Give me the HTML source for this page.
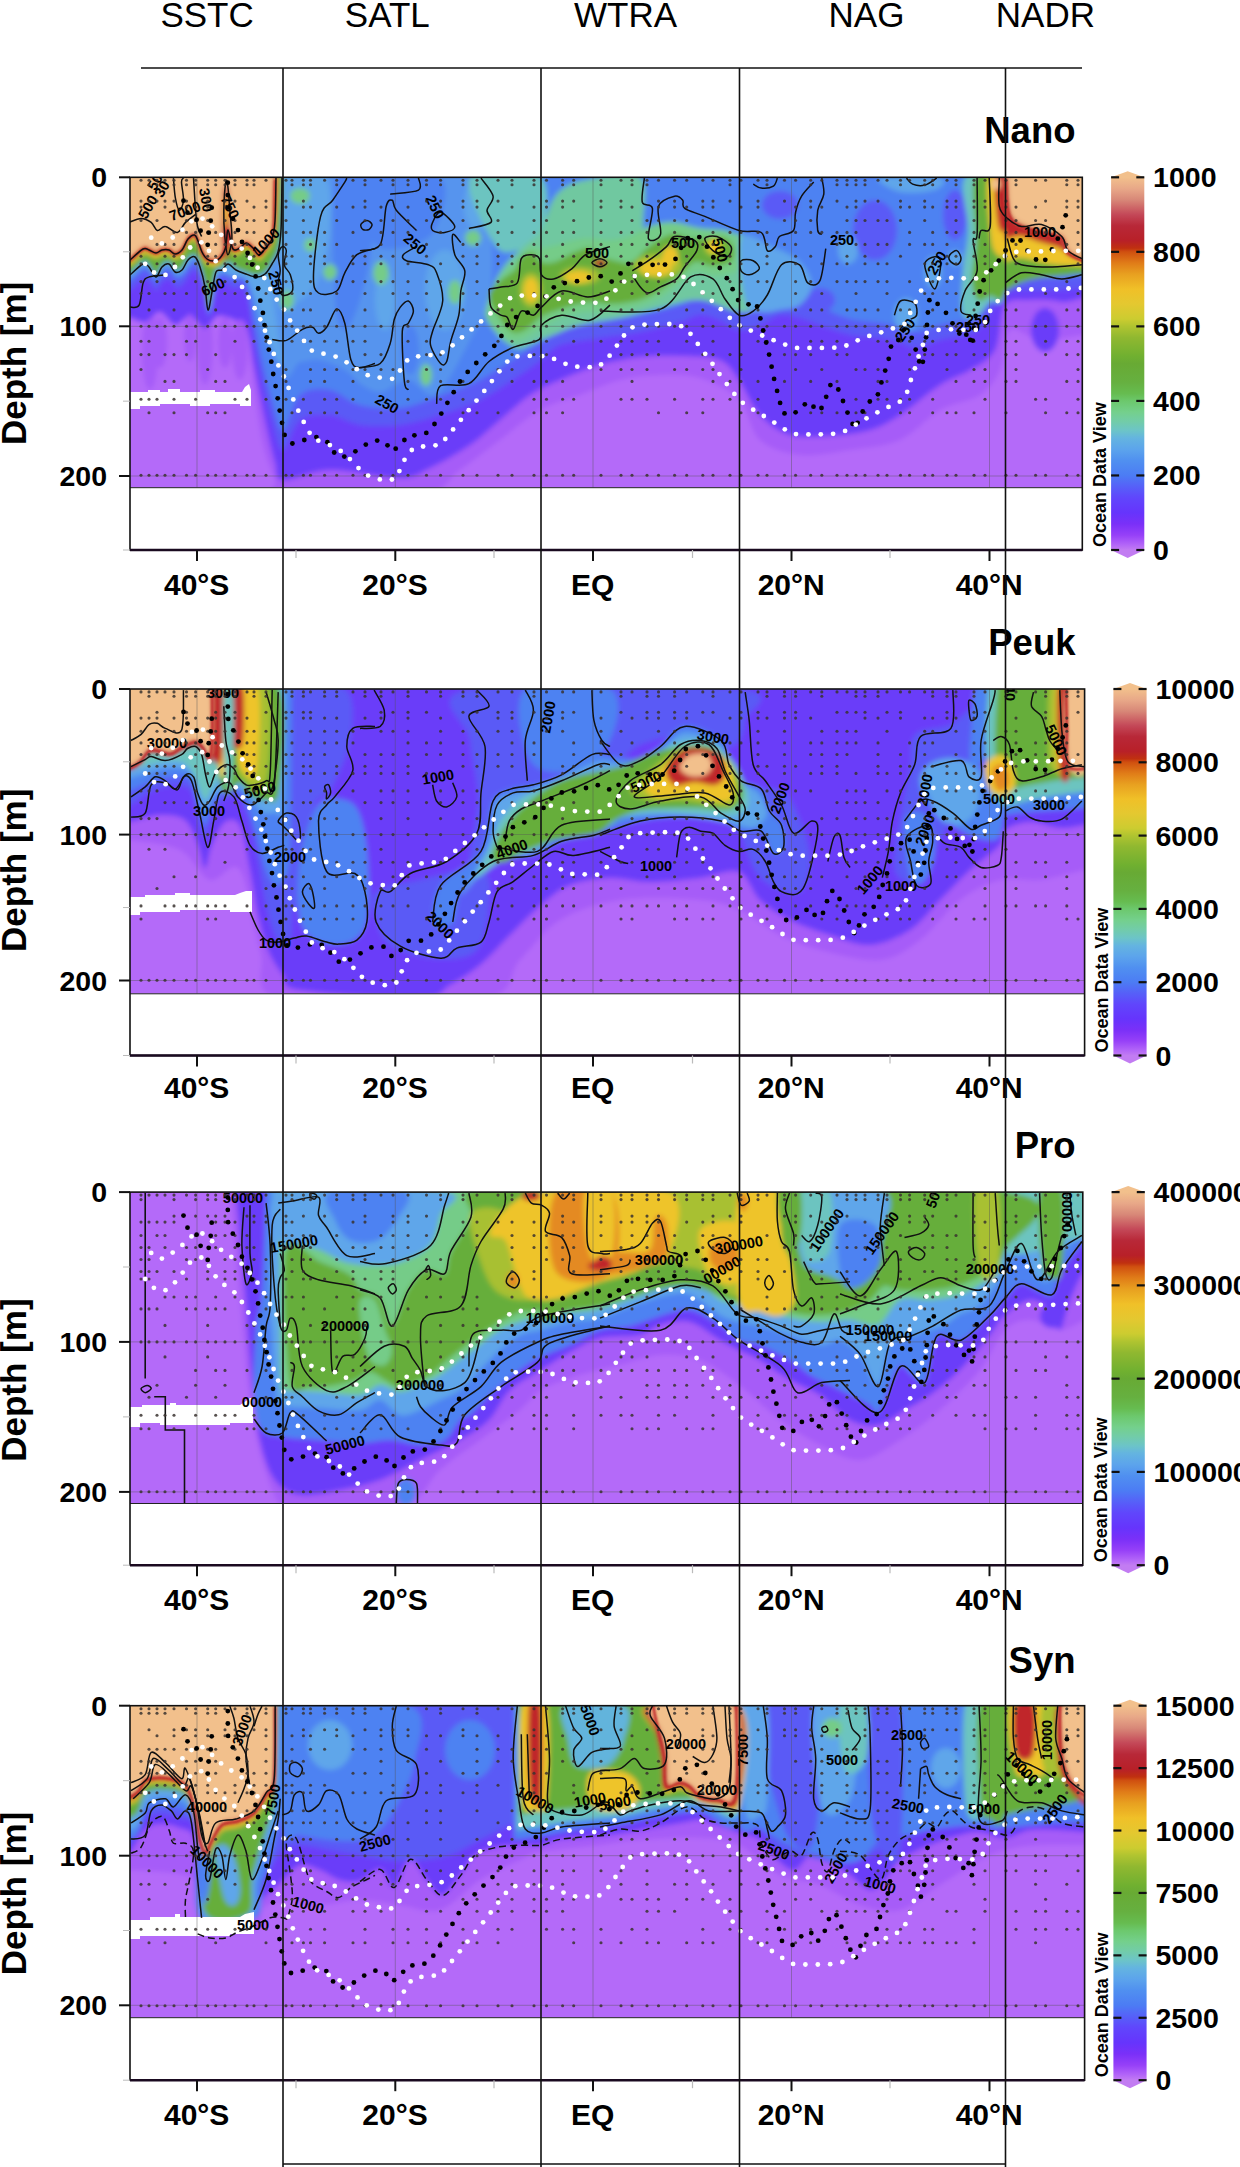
<!DOCTYPE html><html><head><meta charset="utf-8"><title>Figure</title><style>html,body{margin:0;padding:0;background:#fff;width:1240px;height:2167px;overflow:hidden}svg{position:absolute;left:0;top:0;display:block}text{font-family:"Liberation Sans",Arial,Helvetica,sans-serif;fill:#000}</style></head><body>
<svg width="1240" height="2167" viewBox="0 0 1240 2167">
<defs><filter id="bl" x="-5%" y="-5%" width="110%" height="110%"><feGaussianBlur stdDeviation="2.6"/></filter><filter id="bl2" x="-5%" y="-5%" width="110%" height="110%"><feGaussianBlur stdDeviation="0.8"/></filter></defs>
<rect width="1240" height="2167" fill="#fff"/>
<clipPath id="cpn"><rect x="130" y="177.3" width="952.3" height="310.4"/></clipPath>
<g clip-path="url(#cpn)"><g filter="url(#bl)">
<rect x="100" y="147.3" width="1012.3" height="370.4" fill="#B46BF9"/>
<path d="M250.0,157.3 L250.0,360.0 C252.0,373.3 257.8,420.0 262.0,440.0 C266.2,460.0 271.5,470.8 275.0,480.0 C278.5,489.2 258.8,492.5 283.0,495.0 C307.2,497.5 390.5,499.2 420.0,495.0 C449.5,490.8 446.7,479.2 460.0,470.0 C473.3,460.8 486.7,450.0 500.0,440.0 C513.3,430.0 526.7,417.5 540.0,410.0 C553.3,402.5 566.7,400.0 580.0,395.0 C593.3,390.0 606.7,383.3 620.0,380.0 C633.3,376.7 646.7,375.3 660.0,375.0 C673.3,374.7 686.8,373.8 700.0,378.0 C713.2,382.2 729.0,389.7 739.0,400.0 C749.0,410.3 749.8,430.8 760.0,440.0 C770.2,449.2 785.0,453.3 800.0,455.0 C815.0,456.7 833.3,452.5 850.0,450.0 C866.7,447.5 885.0,446.7 900.0,440.0 C915.0,433.3 926.7,417.5 940.0,410.0 C953.3,402.5 970.0,401.7 980.0,395.0 C990.0,388.3 995.0,380.8 1000.0,370.0 C1005.0,359.2 1003.3,335.0 1010.0,330.0 C1016.7,325.0 1028.0,339.2 1040.0,340.0 C1052.0,340.8 1073.0,335.8 1082.0,335.0 C1091.0,334.2 1089.8,335.0 1094.0,335.0 C1098.2,335.0 1104.8,335.0 1107.0,335.0 L1107.0,157.3 Z" fill="#A65CF8"/>
<ellipse cx="150" cy="350" rx="8" ry="40" fill="#A65CF8"/>
<ellipse cx="205" cy="345" rx="8" ry="40" fill="#A65CF8"/>
<ellipse cx="240" cy="345" rx="8" ry="35" fill="#A65CF8"/>
<path d="M105.0,157.3 L105.0,318.0 C107.5,318.0 115.8,318.0 120.0,318.0 C124.2,318.0 125.8,317.3 130.0,318.0 C134.2,318.7 140.0,323.0 145.0,322.0 C150.0,321.0 155.0,311.5 160.0,312.0 C165.0,312.5 170.0,324.3 175.0,325.0 C180.0,325.7 185.0,315.5 190.0,316.0 C195.0,316.5 200.3,328.0 205.0,328.0 C209.7,328.0 213.0,317.3 218.0,316.0 C223.0,314.7 230.3,318.5 235.0,320.0 C239.7,321.5 242.7,316.7 246.0,325.0 C249.3,333.3 251.8,354.2 255.0,370.0 C258.2,385.8 261.7,404.7 265.0,420.0 C268.3,435.3 272.0,452.0 275.0,462.0 C278.0,472.0 273.8,478.7 283.0,480.0 C292.2,481.3 310.5,470.3 330.0,470.0 C349.5,469.7 383.3,478.3 400.0,478.0 C416.7,477.7 418.3,473.5 430.0,468.0 C441.7,462.5 458.3,453.0 470.0,445.0 C481.7,437.0 490.0,428.3 500.0,420.0 C510.0,411.7 520.0,401.7 530.0,395.0 C540.0,388.3 548.3,385.0 560.0,380.0 C571.7,375.0 586.7,368.8 600.0,365.0 C613.3,361.2 626.7,358.5 640.0,357.0 C653.3,355.5 666.7,355.5 680.0,356.0 C693.3,356.5 710.2,356.0 720.0,360.0 C729.8,364.0 732.3,370.8 739.0,380.0 C745.7,389.2 751.5,405.8 760.0,415.0 C768.5,424.2 778.3,431.5 790.0,435.0 C801.7,438.5 816.7,436.8 830.0,436.0 C843.3,435.2 858.3,433.5 870.0,430.0 C881.7,426.5 888.3,422.5 900.0,415.0 C911.7,407.5 928.3,392.5 940.0,385.0 C951.7,377.5 960.8,375.8 970.0,370.0 C979.2,364.2 989.2,360.8 995.0,350.0 C1000.8,339.2 999.2,313.3 1005.0,305.0 C1010.8,296.7 1022.5,300.8 1030.0,300.0 C1037.5,299.2 1044.2,299.7 1050.0,300.0 C1055.8,300.3 1059.7,302.3 1065.0,302.0 C1070.3,301.7 1077.2,298.7 1082.0,298.0 C1086.8,297.3 1089.8,298.0 1094.0,298.0 C1098.2,298.0 1104.8,298.0 1107.0,298.0 L1107.0,157.3 Z" fill="#6A3CF9"/>
<ellipse cx="1045" cy="330" rx="14" ry="22" fill="#6A3CF9"/>
<ellipse cx="160" cy="342" rx="7" ry="26" fill="#A65CF8"/>
<ellipse cx="190" cy="338" rx="6" ry="24" fill="#A65CF8"/>
<ellipse cx="225" cy="342" rx="7" ry="26" fill="#A65CF8"/>
<path d="M105.0,157.3 L105.0,290.0 C107.5,290.0 115.8,290.0 120.0,290.0 C124.2,290.0 126.2,291.8 130.0,290.0 C133.8,288.2 139.7,280.3 143.0,279.0 C146.3,277.7 147.8,280.2 150.0,282.0 C152.2,283.8 154.0,290.0 156.0,290.0 C158.0,290.0 159.7,283.8 162.0,282.0 C164.3,280.2 167.7,278.2 170.0,279.0 C172.3,279.8 173.8,286.2 176.0,287.0 C178.2,287.8 180.7,286.2 183.0,284.0 C185.3,281.8 187.8,276.2 190.0,274.0 C192.2,271.8 194.2,269.7 196.0,271.0 C197.8,272.3 199.3,277.2 201.0,282.0 C202.7,286.8 204.7,294.0 206.0,300.0 C207.3,306.0 207.8,318.0 209.0,318.0 C210.2,318.0 211.5,305.7 213.0,300.0 C214.5,294.3 216.0,287.0 218.0,284.0 C220.0,281.0 222.5,281.3 225.0,282.0 C227.5,282.7 229.5,286.3 233.0,288.0 C236.5,289.7 242.3,282.5 246.0,292.0 C249.7,301.5 252.3,330.3 255.0,345.0 C257.7,359.7 259.2,367.5 262.0,380.0 C264.8,392.5 268.5,408.3 272.0,420.0 C275.5,431.7 278.3,450.0 283.0,450.0 C287.7,450.0 292.2,425.8 300.0,420.0 C307.8,414.2 320.0,414.2 330.0,415.0 C340.0,415.8 348.3,423.3 360.0,425.0 C371.7,426.7 386.7,426.7 400.0,425.0 C413.3,423.3 426.7,419.2 440.0,415.0 C453.3,410.8 466.7,406.7 480.0,400.0 C493.3,393.3 509.8,381.7 520.0,375.0 C530.2,368.3 534.3,365.0 541.0,360.0 C547.7,355.0 550.2,348.7 560.0,345.0 C569.8,341.3 586.7,340.2 600.0,338.0 C613.3,335.8 626.7,334.7 640.0,332.0 C653.3,329.3 670.0,324.8 680.0,322.0 C690.0,319.2 693.3,315.3 700.0,315.0 C706.7,314.7 713.5,317.5 720.0,320.0 C726.5,322.5 732.3,329.2 739.0,330.0 C745.7,330.8 753.2,327.5 760.0,325.0 C766.8,322.5 773.3,316.2 780.0,315.0 C786.7,313.8 793.3,316.3 800.0,318.0 C806.7,319.7 811.7,322.2 820.0,325.0 C828.3,327.8 840.0,332.8 850.0,335.0 C860.0,337.2 871.7,336.8 880.0,338.0 C888.3,339.2 894.2,340.3 900.0,342.0 C905.8,343.7 908.3,348.3 915.0,348.0 C921.7,347.7 930.0,342.7 940.0,340.0 C950.0,337.3 966.7,336.7 975.0,332.0 C983.3,327.3 985.8,317.3 990.0,312.0 C994.2,306.7 997.5,303.3 1000.0,300.0 C1002.5,296.7 1000.0,293.7 1005.0,292.0 C1010.0,290.3 1020.8,290.3 1030.0,290.0 C1039.2,289.7 1051.3,290.3 1060.0,290.0 C1068.7,289.7 1076.3,288.3 1082.0,288.0 C1087.7,287.7 1089.8,288.0 1094.0,288.0 C1098.2,288.0 1104.8,288.0 1107.0,288.0 L1107.0,157.3 Z" fill="#5A5AF6"/>
<path d="M105.0,157.3 L105.0,281.0 C107.5,281.0 115.8,281.0 120.0,281.0 C124.2,281.0 126.2,282.8 130.0,281.0 C133.8,279.2 139.7,271.3 143.0,270.0 C146.3,268.7 147.8,271.0 150.0,273.0 C152.2,275.0 154.0,282.0 156.0,282.0 C158.0,282.0 159.7,275.0 162.0,273.0 C164.3,271.0 167.7,269.2 170.0,270.0 C172.3,270.8 173.8,277.0 176.0,278.0 C178.2,279.0 180.7,278.0 183.0,276.0 C185.3,274.0 187.8,268.2 190.0,266.0 C192.2,263.8 194.2,261.7 196.0,263.0 C197.8,264.3 199.3,269.2 201.0,274.0 C202.7,278.8 204.7,285.3 206.0,292.0 C207.3,298.7 207.8,313.3 209.0,314.0 C210.2,314.7 211.5,302.2 213.0,296.0 C214.5,289.8 216.0,280.5 218.0,277.0 C220.0,273.5 222.5,274.7 225.0,275.0 C227.5,275.3 229.5,277.7 233.0,279.0 C236.5,280.3 242.3,275.3 246.0,283.0 C249.7,290.7 252.3,312.2 255.0,325.0 C257.7,337.8 259.2,347.5 262.0,360.0 C264.8,372.5 268.5,388.3 272.0,400.0 C275.5,411.7 278.3,430.8 283.0,430.0 C287.7,429.2 292.2,401.7 300.0,395.0 C307.8,388.3 320.0,388.3 330.0,390.0 C340.0,391.7 348.3,402.0 360.0,405.0 C371.7,408.0 386.7,409.5 400.0,408.0 C413.3,406.5 426.7,400.7 440.0,396.0 C453.3,391.3 466.7,386.8 480.0,380.0 C493.3,373.2 509.8,361.3 520.0,355.0 C530.2,348.7 534.3,346.2 541.0,342.0 C547.7,337.8 550.2,333.3 560.0,330.0 C569.8,326.7 586.7,324.5 600.0,322.0 C613.3,319.5 626.7,317.8 640.0,315.0 C653.3,312.2 670.0,308.0 680.0,305.0 C690.0,302.0 693.3,297.5 700.0,297.0 C706.7,296.5 713.5,299.5 720.0,302.0 C726.5,304.5 732.3,311.2 739.0,312.0 C745.7,312.8 753.2,309.5 760.0,307.0 C766.8,304.5 773.3,298.3 780.0,297.0 C786.7,295.7 793.3,297.3 800.0,299.0 C806.7,300.7 811.7,303.7 820.0,307.0 C828.3,310.3 840.0,316.3 850.0,319.0 C860.0,321.7 871.7,321.7 880.0,323.0 C888.3,324.3 894.2,325.5 900.0,327.0 C905.8,328.5 908.3,332.3 915.0,332.0 C921.7,331.7 930.0,327.5 940.0,325.0 C950.0,322.5 966.7,321.5 975.0,317.0 C983.3,312.5 985.8,302.8 990.0,298.0 C994.2,293.2 997.5,290.8 1000.0,288.0 C1002.5,285.2 1000.0,282.7 1005.0,281.0 C1010.0,279.3 1020.8,278.5 1030.0,278.0 C1039.2,277.5 1051.3,278.3 1060.0,278.0 C1068.7,277.7 1076.3,276.3 1082.0,276.0 C1087.7,275.7 1089.8,276.0 1094.0,276.0 C1098.2,276.0 1104.8,276.0 1107.0,276.0 L1107.0,157.3 Z" fill="#4E82F2"/>
<path d="M105.0,157.3 L105.0,277.0 C107.5,277.0 115.8,277.0 120.0,277.0 C124.2,277.0 126.2,278.8 130.0,277.0 C133.8,275.2 139.7,267.3 143.0,266.0 C146.3,264.7 147.8,267.0 150.0,269.0 C152.2,271.0 154.0,278.0 156.0,278.0 C158.0,278.0 159.7,271.0 162.0,269.0 C164.3,267.0 167.7,265.2 170.0,266.0 C172.3,266.8 173.8,273.0 176.0,274.0 C178.2,275.0 180.7,274.0 183.0,272.0 C185.3,270.0 187.8,264.2 190.0,262.0 C192.2,259.8 194.2,257.7 196.0,259.0 C197.8,260.3 199.3,265.0 201.0,270.0 C202.7,275.0 204.7,282.0 206.0,289.0 C207.3,296.0 207.8,311.2 209.0,312.0 C210.2,312.8 211.5,300.3 213.0,294.0 C214.5,287.7 216.0,277.7 218.0,274.0 C220.0,270.3 222.5,271.7 225.0,272.0 C227.5,272.3 229.5,274.8 233.0,276.0 C236.5,277.2 242.3,275.0 246.0,279.0 C249.7,283.0 252.3,292.3 255.0,300.0 C257.7,307.7 259.2,316.7 262.0,325.0 C264.8,333.3 268.5,343.3 272.0,350.0 C275.5,356.7 280.0,368.3 283.0,365.0 C286.0,361.7 288.5,361.2 290.0,330.0 C291.5,298.8 291.7,203.3 292.0,178.0 L292.0,157.3 Z" fill="#5EA6EA"/>
<path d="M283.0,177.0 C314.2,145.7 435.5,168.2 470.0,177.0 C504.5,185.8 486.8,209.5 490.0,230.0 C493.2,250.5 492.3,281.7 489.0,300.0 C485.7,318.3 477.3,325.8 470.0,340.0 C462.7,354.2 451.7,375.8 445.0,385.0 C438.3,394.2 435.8,395.8 430.0,395.0 C424.2,394.2 415.8,381.7 410.0,380.0 C404.2,378.3 400.0,383.0 395.0,385.0 C390.0,387.0 385.5,392.0 380.0,392.0 C374.5,392.0 367.8,388.7 362.0,385.0 C356.2,381.3 352.0,374.2 345.0,370.0 C338.0,365.8 327.5,361.3 320.0,360.0 C312.5,358.7 306.2,361.2 300.0,362.0 C293.8,362.8 285.8,395.8 283.0,365.0 C280.2,334.2 251.8,208.3 283.0,177.0 Z" fill="#5694EE"/>
<path d="M335.0,177.0 C340.0,156.5 358.8,166.5 365.0,177.0 C371.2,187.5 372.8,219.5 372.0,240.0 C371.2,260.5 364.5,285.0 360.0,300.0 C355.5,315.0 349.2,330.0 345.0,330.0 C340.8,330.0 336.7,325.5 335.0,300.0 C333.3,274.5 330.0,197.5 335.0,177.0 Z" fill="#4E82F2"/>
<path d="M365.0,177.0 C376.3,166.5 428.3,168.2 440.0,177.0 C451.7,185.8 441.7,218.2 435.0,230.0 C428.3,241.8 410.5,246.3 400.0,248.0 C389.5,249.7 377.8,251.8 372.0,240.0 C366.2,228.2 353.7,187.5 365.0,177.0 Z" fill="#4E82F2"/>
<ellipse cx="410" cy="350" rx="9" ry="25" fill="#4E82F2"/>
<path d="M283.0,177.0 C290.0,156.5 317.2,168.2 325.0,177.0 C332.8,185.8 331.2,212.8 330.0,230.0 C328.8,247.2 323.0,268.3 318.0,280.0 C313.0,291.7 305.8,296.7 300.0,300.0 C294.2,303.3 285.8,320.5 283.0,300.0 C280.2,279.5 276.0,197.5 283.0,177.0 Z" fill="#5EA6EA"/>
<ellipse cx="445" cy="290" rx="20" ry="40" fill="#5EA6EA"/>
<ellipse cx="478" cy="205" rx="14" ry="25" fill="#5EA6EA"/>
<ellipse cx="385" cy="300" rx="10" ry="30" fill="#5EA6EA"/>
<path d="M470.0,177.0 C477.7,165.7 529.2,166.5 541.0,177.0 C552.8,187.5 544.5,227.8 541.0,240.0 C537.5,252.2 527.7,249.2 520.0,250.0 C512.3,250.8 503.3,257.2 495.0,245.0 C486.7,232.8 462.3,188.3 470.0,177.0 Z" fill="#6CC4C0"/>
<ellipse cx="300" cy="196" rx="10" ry="8" fill="#74CC88"/>
<ellipse cx="287" cy="300" rx="7" ry="10" fill="#74CC88"/>
<ellipse cx="381" cy="273" rx="8" ry="12" fill="#74CC88"/>
<ellipse cx="426" cy="375" rx="6" ry="11" fill="#74CC88"/>
<ellipse cx="473" cy="238" rx="8" ry="8" fill="#74CC88"/>
<ellipse cx="557" cy="226" rx="10" ry="12" fill="#74CC88"/>
<ellipse cx="330" cy="272" rx="7" ry="8" fill="#74CC88"/>
<ellipse cx="455" cy="292" rx="7" ry="12" fill="#74CC88"/>
<ellipse cx="310" cy="245" rx="6" ry="7" fill="#74CC88"/>
<path d="M489.0,322.0 C485.2,312.3 489.3,299.5 492.0,290.0 C494.7,280.5 499.5,272.5 505.0,265.0 C510.5,257.5 519.0,250.8 525.0,245.0 C531.0,239.2 535.8,238.3 541.0,230.0 C546.2,221.7 548.7,203.3 556.0,195.0 C563.3,186.7 570.8,182.8 585.0,180.0 C599.2,177.2 630.8,168.8 641.0,178.0 C651.2,187.2 637.8,226.0 646.0,235.0 C654.2,244.0 674.5,232.2 690.0,232.0 C705.5,231.8 726.0,230.7 739.0,234.0 C752.0,237.3 760.8,243.5 768.0,252.0 C775.2,260.5 781.7,276.2 782.0,285.0 C782.3,293.8 777.2,300.5 770.0,305.0 C762.8,309.5 750.7,312.8 739.0,312.0 C727.3,311.2 713.2,300.7 700.0,300.0 C686.8,299.3 673.3,305.0 660.0,308.0 C646.7,311.0 633.3,315.2 620.0,318.0 C606.7,320.8 593.2,321.3 580.0,325.0 C566.8,328.7 551.8,336.2 541.0,340.0 C530.2,343.8 523.7,351.0 515.0,348.0 C506.3,345.0 492.8,331.7 489.0,322.0 Z" fill="#70C8A0"/>
<path d="M486.0,318.0 C483.8,310.3 488.8,299.7 492.0,292.0 C495.2,284.3 500.3,277.7 505.0,272.0 C509.7,266.3 515.8,262.3 520.0,258.0 C524.2,253.7 526.5,247.7 530.0,246.0 C533.5,244.3 536.0,248.3 541.0,248.0 C546.0,247.7 552.7,245.7 560.0,244.0 C567.3,242.3 576.7,238.7 585.0,238.0 C593.3,237.3 602.5,240.3 610.0,240.0 C617.5,239.7 623.3,238.3 630.0,236.0 C636.7,233.7 643.0,228.3 650.0,226.0 C657.0,223.7 663.7,221.7 672.0,222.0 C680.3,222.3 690.3,226.3 700.0,228.0 C709.7,229.7 723.0,228.3 730.0,232.0 C737.0,235.7 740.7,243.7 742.0,250.0 C743.3,256.3 742.5,265.7 738.0,270.0 C733.5,274.3 722.2,275.7 715.0,276.0 C707.8,276.3 700.8,270.8 695.0,272.0 C689.2,273.2 685.8,278.7 680.0,283.0 C674.2,287.3 666.7,294.2 660.0,298.0 C653.3,301.8 648.3,303.7 640.0,306.0 C631.7,308.3 619.2,311.0 610.0,312.0 C600.8,313.0 593.3,311.0 585.0,312.0 C576.7,313.0 567.3,315.3 560.0,318.0 C552.7,320.7 547.7,324.3 541.0,328.0 C534.3,331.7 526.0,338.3 520.0,340.0 C514.0,341.7 510.7,341.7 505.0,338.0 C499.3,334.3 488.2,325.7 486.0,318.0 Z" fill="#74CC88"/>
<path d="M489.0,296.0 C489.0,289.8 495.7,285.3 500.0,281.0 C504.3,276.7 511.5,274.0 515.0,270.0 C518.5,266.0 518.0,259.8 521.0,257.0 C524.0,254.2 529.7,252.2 533.0,253.0 C536.3,253.8 537.3,260.5 541.0,262.0 C544.7,263.5 549.3,263.7 555.0,262.0 C560.7,260.3 569.2,254.3 575.0,252.0 C580.8,249.7 585.8,247.3 590.0,248.0 C594.2,248.7 595.0,253.7 600.0,256.0 C605.0,258.3 614.7,261.0 620.0,262.0 C625.3,263.0 627.0,264.7 632.0,262.0 C637.0,259.3 643.3,250.7 650.0,246.0 C656.7,241.3 665.3,235.3 672.0,234.0 C678.7,232.7 684.5,237.3 690.0,238.0 C695.5,238.7 699.2,238.0 705.0,238.0 C710.8,238.0 720.2,236.0 725.0,238.0 C729.8,240.0 733.2,246.0 734.0,250.0 C734.8,254.0 733.7,259.3 730.0,262.0 C726.3,264.7 717.8,266.0 712.0,266.0 C706.2,266.0 700.3,260.5 695.0,262.0 C689.7,263.5 685.8,270.3 680.0,275.0 C674.2,279.7 665.8,286.2 660.0,290.0 C654.2,293.8 650.0,296.0 645.0,298.0 C640.0,300.0 635.8,301.0 630.0,302.0 C624.2,303.0 616.7,304.0 610.0,304.0 C603.3,304.0 596.7,301.7 590.0,302.0 C583.3,302.3 575.8,304.5 570.0,306.0 C564.2,307.5 559.8,309.2 555.0,311.0 C550.2,312.8 546.0,313.8 541.0,317.0 C536.0,320.2 529.8,327.5 525.0,330.0 C520.2,332.5 516.2,334.0 512.0,332.0 C507.8,330.0 503.8,324.0 500.0,318.0 C496.2,312.0 489.0,302.2 489.0,296.0 Z" fill="#66AE3A"/>
<ellipse cx="531" cy="290" rx="11" ry="17" fill="#A8C030"/>
<ellipse cx="580" cy="276" rx="20" ry="9" fill="#A8C030"/>
<ellipse cx="658" cy="266" rx="24" ry="12" fill="#A8C030"/>
<ellipse cx="714" cy="247" rx="10" ry="9" fill="#A8C030"/>
<ellipse cx="531" cy="290" rx="7" ry="12" fill="#EEC42C"/>
<ellipse cx="578" cy="277" rx="13" ry="6" fill="#EEC42C"/>
<ellipse cx="656" cy="268" rx="16" ry="8" fill="#EEC42C"/>
<ellipse cx="670" cy="256" rx="8" ry="10" fill="#EEC42C"/>
<ellipse cx="714" cy="247" rx="6" ry="6" fill="#EEC42C"/>
<ellipse cx="600" cy="263" rx="6" ry="3.5" fill="#C0262A"/>
<ellipse cx="780" cy="205" rx="18" ry="14" fill="#5A5AF6"/>
<ellipse cx="875" cy="230" rx="22" ry="30" fill="#5A5AF6"/>
<ellipse cx="955" cy="215" rx="12" ry="25" fill="#5A5AF6"/>
<ellipse cx="820" cy="300" rx="15" ry="12" fill="#5A5AF6"/>
<path d="M741.0,238.0 C746.0,229.3 765.2,244.0 775.0,248.0 C784.8,252.0 793.8,255.8 800.0,262.0 C806.2,268.2 812.0,277.8 812.0,285.0 C812.0,292.2 805.3,300.8 800.0,305.0 C794.7,309.2 786.7,308.8 780.0,310.0 C773.3,311.2 765.8,313.7 760.0,312.0 C754.2,310.3 748.2,312.3 745.0,300.0 C741.8,287.7 736.0,246.7 741.0,238.0 Z" fill="#5EA6EA"/>
<ellipse cx="848" cy="250" rx="10" ry="14" fill="#5EA6EA"/>
<ellipse cx="933" cy="272" rx="9" ry="16" fill="#5EA6EA"/>
<ellipse cx="906" cy="315" rx="12" ry="17" fill="#5EA6EA"/>
<ellipse cx="955" cy="258" rx="7" ry="8" fill="#5EA6EA"/>
<path d="M880.0,178.0 C886.7,175.7 930.8,176.0 940.0,178.0 C949.2,180.0 941.7,187.7 935.0,190.0 C928.3,192.3 909.2,194.0 900.0,192.0 C890.8,190.0 873.3,180.3 880.0,178.0 Z" fill="#5EA6EA"/>
<path d="M965.0,178.0 C971.2,169.3 998.3,159.0 1005.0,178.0 C1011.7,197.0 1007.5,271.3 1005.0,292.0 C1002.5,312.7 995.0,297.7 990.0,302.0 C985.0,306.3 979.7,316.3 975.0,318.0 C970.3,319.7 964.0,320.0 962.0,312.0 C960.0,304.0 962.0,283.7 963.0,270.0 C964.0,256.3 967.7,245.3 968.0,230.0 C968.3,214.7 958.8,186.7 965.0,178.0 Z" fill="#6CC4C0"/>
<path d="M975.0,178.0 C979.8,167.7 1000.0,159.3 1005.0,178.0 C1010.0,196.7 1007.5,270.3 1005.0,290.0 C1002.5,309.7 994.5,294.3 990.0,296.0 C985.5,297.7 981.0,302.7 978.0,300.0 C975.0,297.3 972.3,290.0 972.0,280.0 C971.7,270.0 975.5,257.0 976.0,240.0 C976.5,223.0 970.2,188.3 975.0,178.0 Z" fill="#66AE3A"/>
<path d="M988.0,178.0 C990.5,169.3 1002.2,166.0 1005.0,178.0 C1007.8,190.0 1006.7,237.7 1005.0,250.0 C1003.3,262.3 997.5,255.3 995.0,252.0 C992.5,248.7 991.2,242.3 990.0,230.0 C988.8,217.7 985.5,186.7 988.0,178.0 Z" fill="#EEC42C"/>
<path d="M995.0,178.0 C996.2,170.3 1003.3,169.7 1005.0,178.0 C1006.7,186.3 1006.2,220.3 1005.0,228.0 C1003.8,235.7 999.7,232.3 998.0,224.0 C996.3,215.7 993.8,185.7 995.0,178.0 Z" fill="#C0262A"/>
<path d="M105.0,157.3 L105.0,273.0 C107.5,273.0 115.8,273.0 120.0,273.0 C124.2,273.0 126.2,274.8 130.0,273.0 C133.8,271.2 139.8,263.3 143.0,262.0 C146.2,260.7 146.8,262.8 149.0,265.0 C151.2,267.2 153.8,275.0 156.0,275.0 C158.2,275.0 159.8,267.2 162.0,265.0 C164.2,262.8 166.8,261.2 169.0,262.0 C171.2,262.8 172.8,269.0 175.0,270.0 C177.2,271.0 179.8,270.0 182.0,268.0 C184.2,266.0 185.8,260.2 188.0,258.0 C190.2,255.8 193.0,253.8 195.0,255.0 C197.0,256.2 198.3,260.0 200.0,265.0 C201.7,270.0 203.7,277.8 205.0,285.0 C206.3,292.2 206.8,307.2 208.0,308.0 C209.2,308.8 210.7,296.3 212.0,290.0 C213.3,283.7 214.3,273.7 216.0,270.0 C217.7,266.3 220.0,269.3 222.0,268.0 C224.0,266.7 225.7,262.0 228.0,262.0 C230.3,262.0 233.0,266.3 236.0,268.0 C239.0,269.7 242.7,270.8 246.0,272.0 C249.3,273.2 252.8,275.0 256.0,275.0 C259.2,275.0 262.3,274.2 265.0,272.0 C267.7,269.8 269.8,265.7 272.0,262.0 C274.2,258.3 276.5,255.3 278.0,250.0 C279.5,244.7 280.2,242.0 281.0,230.0 C281.8,218.0 282.7,186.7 283.0,178.0 L283.0,157.3 Z" fill="#66AE3A"/>
<path d="M105.0,157.3 L105.0,265.0 C107.5,265.0 115.8,265.0 120.0,265.0 C124.2,265.0 126.2,266.8 130.0,265.0 C133.8,263.2 139.8,255.7 143.0,254.0 C146.2,252.3 146.8,254.3 149.0,255.0 C151.2,255.7 153.8,258.0 156.0,258.0 C158.2,258.0 159.8,255.5 162.0,255.0 C164.2,254.5 166.8,254.3 169.0,255.0 C171.2,255.7 172.8,259.0 175.0,259.0 C177.2,259.0 179.8,257.5 182.0,255.0 C184.2,252.5 185.9,246.5 188.0,244.0 C190.1,241.5 192.8,239.7 194.5,240.0 C196.2,240.3 196.8,243.2 198.0,246.0 C199.2,248.8 200.5,254.0 202.0,257.0 C203.5,260.0 205.0,262.5 207.0,264.0 C209.0,265.5 211.8,266.2 214.0,266.0 C216.2,265.8 218.1,265.2 220.0,263.0 C221.9,260.8 224.2,256.8 225.5,253.0 C226.8,249.2 226.8,239.8 228.0,240.0 C229.2,240.2 231.0,251.8 233.0,254.0 C235.0,256.2 237.8,254.0 240.0,253.0 C242.2,252.0 243.8,248.0 246.0,248.0 C248.2,248.0 250.8,251.0 253.0,253.0 C255.2,255.0 256.9,260.0 259.0,260.0 C261.1,260.0 263.3,255.7 265.5,253.0 C267.7,250.3 270.2,248.7 272.0,244.0 C273.8,239.3 274.8,236.0 276.0,225.0 C277.2,214.0 278.5,185.8 279.0,178.0 L279.0,157.3 Z" fill="#EEC42C"/>
<path d="M105.0,157.3 L105.0,261.0 C107.5,261.0 115.8,261.0 120.0,261.0 C124.2,261.0 126.2,262.8 130.0,261.0 C133.8,259.2 139.8,251.7 143.0,250.0 C146.2,248.3 146.8,250.3 149.0,251.0 C151.2,251.7 153.8,254.0 156.0,254.0 C158.2,254.0 159.8,251.5 162.0,251.0 C164.2,250.5 166.8,250.3 169.0,251.0 C171.2,251.7 172.8,255.0 175.0,255.0 C177.2,255.0 179.8,253.5 182.0,251.0 C184.2,248.5 185.9,242.5 188.0,240.0 C190.1,237.5 192.8,235.7 194.5,236.0 C196.2,236.3 196.8,239.2 198.0,242.0 C199.2,244.8 200.5,250.0 202.0,253.0 C203.5,256.0 205.0,258.5 207.0,260.0 C209.0,261.5 211.8,262.2 214.0,262.0 C216.2,261.8 218.1,261.2 220.0,259.0 C221.9,256.8 224.2,253.5 225.5,249.0 C226.8,244.5 226.8,231.8 228.0,232.0 C229.2,232.2 231.0,247.2 233.0,250.0 C235.0,252.8 237.8,250.0 240.0,249.0 C242.2,248.0 243.8,244.0 246.0,244.0 C248.2,244.0 250.8,247.0 253.0,249.0 C255.2,251.0 256.9,256.0 259.0,256.0 C261.1,256.0 263.3,251.7 265.5,249.0 C267.7,246.3 270.4,244.5 272.0,240.0 C273.6,235.5 274.2,232.3 275.0,222.0 C275.8,211.7 276.7,185.3 277.0,178.0 L277.0,157.3 Z" fill="#C0262A"/>
<path d="M105.0,157.3 L105.0,258.0 C107.5,258.0 115.8,258.0 120.0,258.0 C124.2,258.0 126.2,259.8 130.0,258.0 C133.8,256.2 139.8,248.7 143.0,247.0 C146.2,245.3 146.8,247.3 149.0,248.0 C151.2,248.7 153.8,251.0 156.0,251.0 C158.2,251.0 159.8,248.5 162.0,248.0 C164.2,247.5 166.8,247.3 169.0,248.0 C171.2,248.7 172.8,252.0 175.0,252.0 C177.2,252.0 179.8,250.5 182.0,248.0 C184.2,245.5 185.9,239.5 188.0,237.0 C190.1,234.5 192.8,232.7 194.5,233.0 C196.2,233.3 196.8,236.2 198.0,239.0 C199.2,241.8 200.5,247.0 202.0,250.0 C203.5,253.0 205.0,255.5 207.0,257.0 C209.0,258.5 211.8,259.2 214.0,259.0 C216.2,258.8 218.1,258.2 220.0,256.0 C221.9,253.8 224.2,250.7 225.5,246.0 C226.8,241.3 226.8,227.8 228.0,228.0 C229.2,228.2 231.0,244.0 233.0,247.0 C235.0,250.0 237.8,247.0 240.0,246.0 C242.2,245.0 243.8,241.0 246.0,241.0 C248.2,241.0 250.8,244.0 253.0,246.0 C255.2,248.0 256.9,253.0 259.0,253.0 C261.1,253.0 263.3,248.7 265.5,246.0 C267.7,243.3 270.6,241.3 272.0,237.0 C273.4,232.7 273.5,229.8 274.0,220.0 C274.5,210.2 274.8,185.0 275.0,178.0 L275.0,157.3 Z" fill="#F2C08C"/>
<ellipse cx="226" cy="222" rx="4" ry="38" fill="#C0262A"/>
<ellipse cx="226" cy="212" rx="2" ry="16" fill="#EEC42C"/>
<path d="M1005.0,157.3 L1005.0,292.0 C1007.5,290.5 1014.2,285.3 1020.0,283.0 C1025.8,280.7 1033.3,279.2 1040.0,278.0 C1046.7,276.8 1053.0,276.7 1060.0,276.0 C1067.0,275.3 1076.3,274.3 1082.0,274.0 C1087.7,273.7 1089.8,274.0 1094.0,274.0 C1098.2,274.0 1104.8,274.0 1107.0,274.0 L1107.0,157.3 Z" fill="#66AE3A"/>
<path d="M1005.0,157.3 L1005.0,262.0 C1007.5,261.3 1014.2,258.0 1020.0,258.0 C1025.8,258.0 1033.3,260.8 1040.0,262.0 C1046.7,263.2 1053.0,264.3 1060.0,265.0 C1067.0,265.7 1076.3,265.8 1082.0,266.0 C1087.7,266.2 1089.8,266.0 1094.0,266.0 C1098.2,266.0 1104.8,266.0 1107.0,266.0 L1107.0,157.3 Z" fill="#EEC42C"/>
<path d="M1005.0,157.3 L1005.0,240.0 C1007.5,239.3 1014.2,235.7 1020.0,236.0 C1025.8,236.3 1033.3,240.0 1040.0,242.0 C1046.7,244.0 1055.0,245.7 1060.0,248.0 C1065.0,250.3 1066.3,254.0 1070.0,256.0 C1073.7,258.0 1078.0,259.3 1082.0,260.0 C1086.0,260.7 1089.8,260.0 1094.0,260.0 C1098.2,260.0 1104.8,260.0 1107.0,260.0 L1107.0,157.3 Z" fill="#C0262A"/>
<path d="M1007.0,157.3 L1007.0,178.0 C1007.5,183.7 1007.7,204.3 1010.0,212.0 C1012.3,219.7 1015.8,221.0 1021.0,224.0 C1026.2,227.0 1034.2,228.0 1041.0,230.0 C1047.8,232.0 1057.5,232.7 1062.0,236.0 C1066.5,239.3 1064.7,246.3 1068.0,250.0 C1071.3,253.7 1077.7,256.7 1082.0,258.0 C1086.3,259.3 1089.8,258.0 1094.0,258.0 C1098.2,258.0 1104.8,258.0 1107.0,258.0 L1107.0,157.3 Z" fill="#F2C08C"/>
<ellipse cx="996" cy="184" rx="5" ry="6" fill="#F2C08C"/>
</g>
<g filter="url(#bl2)" fill="none" stroke-linejoin="round" stroke-linecap="round">
<path d="M130.0,260.2 C132.2,258.4 139.8,250.9 143.0,249.2 C146.2,247.5 146.8,249.5 149.0,250.2 C151.2,250.9 153.8,253.2 156.0,253.2 C158.2,253.2 159.8,250.7 162.0,250.2 C164.2,249.7 166.8,249.5 169.0,250.2 C171.2,250.9 172.8,254.2 175.0,254.2 C177.2,254.2 179.8,252.7 182.0,250.2 C184.2,247.7 185.9,241.7 188.0,239.2 C190.1,236.7 192.8,234.9 194.5,235.2 C196.2,235.5 196.8,238.4 198.0,241.2 C199.2,244.0 200.5,249.2 202.0,252.2 C203.5,255.2 205.0,257.7 207.0,259.2 C209.0,260.7 211.8,261.4 214.0,261.2 C216.2,261.0 218.1,260.4 220.0,258.2 C221.9,256.0 224.2,252.9 225.5,248.2 C226.8,243.5 226.8,230.0 228.0,230.2 C229.2,230.4 231.0,246.2 233.0,249.2 C235.0,252.2 237.8,249.2 240.0,248.2 C242.2,247.2 243.8,243.2 246.0,243.2 C248.2,243.2 250.8,246.2 253.0,248.2 C255.2,250.2 256.9,255.2 259.0,255.2 C261.1,255.2 263.3,250.9 265.5,248.2 C267.7,245.5 270.6,243.5 272.0,239.2 C273.4,234.9 273.5,232.0 274.0,222.2 C274.5,212.4 274.8,187.2 275.0,180.2" stroke="#C0262A" stroke-width="2.6"/>
<path d="M1006.0,180.2 C1006.5,185.9 1006.7,206.5 1009.0,214.2 C1011.3,221.9 1014.8,223.2 1020.0,226.2 C1025.2,229.2 1033.2,230.2 1040.0,232.2 C1046.8,234.2 1056.5,234.9 1061.0,238.2 C1065.5,241.5 1063.7,248.5 1067.0,252.2 C1070.3,255.9 1077.3,258.5 1081.0,260.2 C1084.7,261.9 1087.7,261.9 1089.0,262.2" stroke="#C0262A" stroke-width="2.6"/>
</g>
<polygon points="130.0,392.0 148.0,392.0 148.0,390.0 160.0,390.0 160.0,392.0 168.0,392.0 168.0,389.0 180.0,389.0 180.0,392.0 200.0,392.0 200.0,390.0 215.0,390.0 215.0,392.0 242.0,392.0 245.0,387.0 249.0,384.0 251.0,390.0 251.0,406.0 240.0,406.0 240.0,404.0 210.0,404.0 210.0,406.0 190.0,406.0 190.0,404.0 160.0,404.0 160.0,406.0 140.0,406.0 140.0,409.0 130.0,409.0" fill="#FFFFFF"/>
<line x1="197" y1="177.3" x2="197" y2="487.7" stroke="#555" stroke-width="0.7" opacity="0.6"/>
<line x1="395.3" y1="177.3" x2="395.3" y2="487.7" stroke="#555" stroke-width="0.7" opacity="0.6"/>
<line x1="593" y1="177.3" x2="593" y2="487.7" stroke="#555" stroke-width="0.7" opacity="0.6"/>
<line x1="791.5" y1="177.3" x2="791.5" y2="487.7" stroke="#555" stroke-width="0.7" opacity="0.6"/>
<line x1="989.5" y1="177.3" x2="989.5" y2="487.7" stroke="#555" stroke-width="0.7" opacity="0.6"/>
<line x1="130" y1="326.3" x2="1082.3" y2="326.3" stroke="#555" stroke-width="0.7" opacity="0.6"/>
<line x1="130" y1="476" x2="1082.3" y2="476" stroke="#555" stroke-width="0.7" opacity="0.6"/>
<path d="M130.0,260.0 C132.2,258.2 139.8,250.7 143.0,249.0 C146.2,247.3 146.8,249.3 149.0,250.0 C151.2,250.7 153.8,253.0 156.0,253.0 C158.2,253.0 159.8,250.5 162.0,250.0 C164.2,249.5 166.8,249.3 169.0,250.0 C171.2,250.7 172.8,254.0 175.0,254.0 C177.2,254.0 179.8,252.5 182.0,250.0 C184.2,247.5 185.9,241.5 188.0,239.0 C190.1,236.5 192.8,234.7 194.5,235.0 C196.2,235.3 196.8,238.2 198.0,241.0 C199.2,243.8 200.5,249.0 202.0,252.0 C203.5,255.0 205.0,257.5 207.0,259.0 C209.0,260.5 211.8,261.2 214.0,261.0 C216.2,260.8 218.1,260.2 220.0,258.0 C221.9,255.8 224.2,252.7 225.5,248.0 C226.8,243.3 226.8,229.8 228.0,230.0 C229.2,230.2 231.0,246.0 233.0,249.0 C235.0,252.0 237.8,249.0 240.0,248.0 C242.2,247.0 243.8,243.0 246.0,243.0 C248.2,243.0 250.8,246.0 253.0,248.0 C255.2,250.0 256.9,255.0 259.0,255.0 C261.1,255.0 263.3,250.7 265.5,248.0 C267.7,245.3 270.4,243.5 272.0,239.0 C273.6,234.5 274.3,231.2 275.0,221.0 C275.7,210.8 275.8,185.2 276.0,178.0" fill="none" stroke="#111" stroke-width="1.5"/>
<path d="M130.0,275.0 C132.2,273.2 139.8,265.3 143.0,264.0 C146.2,262.7 146.8,264.8 149.0,267.0 C151.2,269.2 153.8,277.0 156.0,277.0 C158.2,277.0 159.8,269.2 162.0,267.0 C164.2,264.8 166.8,263.2 169.0,264.0 C171.2,264.8 172.8,271.0 175.0,272.0 C177.2,273.0 179.8,272.0 182.0,270.0 C184.2,268.0 185.8,262.2 188.0,260.0 C190.2,257.8 193.0,255.8 195.0,257.0 C197.0,258.2 198.3,262.0 200.0,267.0 C201.7,272.0 203.7,279.8 205.0,287.0 C206.3,294.2 206.8,309.2 208.0,310.0 C209.2,310.8 210.7,298.3 212.0,292.0 C213.3,285.7 214.3,275.7 216.0,272.0 C217.7,268.3 220.0,271.3 222.0,270.0 C224.0,268.7 225.7,264.0 228.0,264.0 C230.3,264.0 233.0,268.3 236.0,270.0 C239.0,271.7 242.7,272.8 246.0,274.0 C249.3,275.2 252.8,277.0 256.0,277.0 C259.2,277.0 262.3,276.2 265.0,274.0 C267.7,271.8 269.8,267.7 272.0,264.0 C274.2,260.3 276.5,257.7 278.0,252.0 C279.5,246.3 280.3,242.3 281.0,230.0 C281.7,217.7 281.8,186.7 282.0,178.0" fill="none" stroke="#111" stroke-width="1.5"/>
<path d="M130.0,307.1 C131.6,306.8 136.9,309.1 139.1,305.1 C141.3,301.0 141.5,287.6 143.1,282.9 C144.8,278.2 145.5,278.2 149.2,276.9 C152.9,275.5 162.6,275.2 165.3,274.8" fill="none" stroke="#111" stroke-width="1.5"/>
<path d="M129.0,222.4 C131.0,221.7 137.4,218.4 141.1,218.4 C144.8,218.4 148.5,220.4 151.2,222.4 C153.9,224.4 154.9,229.8 157.3,230.5 C159.6,231.2 162.0,226.1 165.3,226.5 C168.7,226.8 174.1,233.2 177.4,232.5 C180.8,231.8 182.5,225.4 185.5,222.4 C188.5,219.4 193.9,215.7 195.6,214.4" fill="none" stroke="#111" stroke-width="1.5"/>
<path d="M173.4,178.1 C173.7,181.4 174.4,192.8 175.4,198.2 C176.4,203.6 178.1,210.0 179.4,210.3 C180.8,210.7 183.1,204.9 183.5,200.2 C183.8,195.5 181.5,185.8 181.5,182.1 C181.5,178.4 183.1,178.7 183.5,178.1" fill="none" stroke="#111" stroke-width="1.5"/>
<path d="M193.5,178.1 C193.9,183.4 194.9,202.3 195.6,210.3 C196.2,218.4 196.6,222.1 197.6,226.5 C198.6,230.8 200.9,234.9 201.6,236.5" fill="none" stroke="#111" stroke-width="1.5"/>
<path d="M225.8,182.1 C225.1,186.1 224.0,201.2 223.8,210.3 C223.6,219.4 224.1,229.1 224.8,236.5 C225.5,243.9 226.6,254.3 227.8,254.7 C229.0,255.0 231.5,245.9 231.9,238.5 C232.2,231.2 230.5,219.1 229.8,210.3 C229.2,201.6 228.5,190.8 227.8,186.1 C227.2,181.4 226.5,178.1 225.8,182.1 Z" fill="none" stroke="#111" stroke-width="1.5"/>
<path d="M278.2,282.9 C278.6,286.9 279.9,293.7 282.3,295.0 C284.6,296.3 291.0,294.3 292.3,291.0 C293.7,287.6 291.7,279.2 290.3,274.8 C289.0,270.5 284.9,268.8 284.3,264.8 C283.6,260.7 286.6,253.7 286.3,250.6 C286.0,247.6 283.6,245.9 282.3,246.6 C280.9,247.3 278.6,250.6 278.2,254.7 C277.9,258.7 280.2,266.1 280.2,270.8 C280.2,275.5 277.9,278.9 278.2,282.9 Z" fill="none" stroke="#111" stroke-width="1.5"/>
<path d="M272.2,339.4 C274.5,339.5 281.2,342.0 286.3,340.4 C291.3,338.7 298.1,331.5 302.4,329.3 C306.8,327.1 309.8,326.6 312.5,327.3 C315.2,327.9 316.2,333.3 318.5,333.3 C320.9,333.3 323.6,331.3 326.6,327.3 C329.6,323.2 333.7,309.8 336.7,309.1 C339.7,308.4 342.4,314.8 344.8,323.2 C347.1,331.6 348.5,352.1 350.8,359.5 C353.2,366.9 354.8,366.9 358.9,367.6 C362.9,368.3 372.3,364.2 375.0,363.5" fill="none" stroke="#111" stroke-width="1.5"/>
<path d="M375.0,248.6 C372.0,249.6 361.9,250.6 356.9,254.7 C351.8,258.7 348.1,266.8 344.8,272.8 C341.4,278.9 341.1,287.6 336.7,291.0 C332.3,294.3 322.4,295.7 318.5,293.0 C314.7,290.3 313.2,287.6 313.5,274.8 C313.8,262.1 317.4,228.8 320.6,216.4 C323.8,203.9 328.6,206.0 332.7,200.2 C336.7,194.5 342.4,185.8 344.8,182.1 C347.1,178.4 346.4,178.7 346.8,178.1" fill="none" stroke="#111" stroke-width="1.5"/>
<path d="M360.9,224.4 C361.6,222.9 365.1,220.4 366.9,220.4 C368.8,220.4 371.6,222.9 372.0,224.4 C372.3,225.9 370.5,228.6 369.0,229.5 C367.4,230.3 364.2,230.3 362.9,229.5 C361.6,228.6 360.2,225.9 360.9,224.4 Z" fill="none" stroke="#111" stroke-width="1.5"/>
<path d="M360.0,250.6 C363.4,249.6 375.8,252.0 380.2,244.6 C384.5,237.2 384.2,213.7 386.2,206.3 C388.2,198.9 390.6,199.6 392.3,200.2 C393.9,200.9 392.6,205.6 396.3,210.3 C400.0,215.0 411.1,225.1 414.4,228.5 C417.8,231.8 416.1,230.1 416.5,230.5" fill="none" stroke="#111" stroke-width="1.5"/>
<path d="M360.0,367.6 C363.4,366.9 375.1,367.6 380.2,363.5 C385.2,359.5 387.9,350.8 390.2,343.4 C392.6,336.0 392.6,325.2 394.3,319.2 C396.0,313.1 398.0,310.1 400.3,307.1 C402.7,304.1 406.2,300.4 408.4,301.0 C410.6,301.7 413.4,307.4 413.4,311.1 C413.4,314.8 410.2,319.9 408.4,323.2 C406.5,326.6 403.0,321.5 402.3,331.3 C401.7,341.0 403.3,371.9 404.4,381.7 C405.4,391.4 407.7,388.4 408.4,389.8" fill="none" stroke="#111" stroke-width="1.5"/>
<path d="M416.5,246.6 C414.3,248.0 405.0,252.3 403.3,254.7 C401.7,257.0 402.2,259.0 406.4,260.7 C410.6,262.4 423.5,262.7 428.5,264.8 C433.6,266.8 434.3,266.8 436.6,272.8 C439.0,278.9 443.3,291.3 442.7,301.0 C442.0,310.8 434.6,323.9 432.6,331.3 C430.6,338.7 429.2,340.0 430.6,345.4 C431.9,350.8 438.0,360.9 440.6,363.5 C443.3,366.2 445.0,365.2 446.7,361.5 C448.4,357.8 448.7,349.1 450.7,341.4 C452.7,333.6 457.1,323.6 458.8,315.2 C460.5,306.8 459.8,298.4 460.8,291.0 C461.8,283.6 465.8,276.9 464.8,270.8 C463.8,264.8 456.8,260.7 454.8,254.7 C452.7,248.6 451.7,236.5 452.7,234.5 C453.8,232.5 459.5,241.2 460.8,242.6" fill="none" stroke="#111" stroke-width="1.5"/>
<path d="M432.6,222.4 C433.9,219.4 436.9,211.7 440.6,212.3 C444.3,213.0 454.1,223.1 454.8,226.5 C455.4,229.8 448.4,231.8 444.7,232.5 C441.0,233.2 434.6,232.2 432.6,230.5 C430.6,228.8 431.2,225.4 432.6,222.4 Z" fill="none" stroke="#111" stroke-width="1.5"/>
<path d="M436.6,403.9 C437.3,400.8 435.3,389.1 440.6,385.7 C446.0,382.4 460.8,387.7 468.9,383.7 C476.9,379.7 481.6,367.6 489.0,361.5 C496.4,355.5 504.8,351.1 513.2,347.4 C521.6,343.7 534.7,343.1 539.4,339.4 C544.1,335.7 537.8,329.3 541.5,325.2 C545.1,321.2 553.5,316.0 561.6,315.2 C569.7,314.3 581.8,321.9 589.8,320.2 C597.9,318.5 606.6,307.6 610.0,305.1" fill="none" stroke="#111" stroke-width="1.5"/>
<path d="M489.0,289.0 C491.0,288.6 496.4,287.9 501.1,286.9 C505.8,285.9 513.9,287.6 517.3,282.9 C520.6,278.2 518.9,263.4 521.3,258.7 C523.6,254.0 528.3,254.7 531.4,254.7 C534.4,254.7 537.8,255.3 539.4,258.7 C541.1,262.1 539.1,271.5 541.5,274.8 C543.8,278.2 548.5,279.9 553.5,278.9 C558.6,277.9 566.3,272.8 571.7,268.8 C577.1,264.8 579.4,258.4 585.8,254.7 C592.2,251.0 606.0,248.0 610.0,246.6" fill="none" stroke="#111" stroke-width="1.5"/>
<path d="M610.0,291.0 C606.3,292.0 595.9,297.0 587.8,297.0 C579.8,297.0 569.3,289.3 561.6,291.0 C553.9,292.6 546.2,303.1 541.5,307.1 C536.7,311.1 536.7,314.5 533.4,315.2 C530.0,315.8 524.7,308.8 521.3,311.1 C517.9,313.5 515.6,328.3 513.2,329.3 C510.9,330.3 509.2,319.5 507.2,317.2 C505.2,314.8 503.8,316.8 501.1,315.2 C498.4,313.5 493.1,311.5 491.0,307.1 C489.0,302.7 489.4,292.0 489.0,289.0" fill="none" stroke="#111" stroke-width="1.5"/>
<path d="M481.0,178.1 C483.0,181.1 492.1,190.8 493.1,196.2 C494.1,201.6 487.4,206.0 487.0,210.3 C486.7,214.7 494.1,219.4 491.0,222.4 C488.0,225.4 472.6,227.5 468.9,228.5" fill="none" stroke="#111" stroke-width="1.5"/>
<path d="M390.2,194.2 C394.9,193.5 413.8,192.8 418.5,190.2 C423.2,187.5 418.5,180.1 418.5,178.1" fill="none" stroke="#111" stroke-width="1.5"/>
<path d="M591.9,262.7 C591.9,261.4 597.4,258.7 599.9,258.7 C602.4,258.7 607.0,261.4 607.0,262.7 C607.0,264.1 602.4,266.8 599.9,266.8 C597.4,266.8 591.9,264.1 591.9,262.7 Z" fill="none" stroke="#111" stroke-width="1.5"/>
<path d="M632.3,270.8 C634.9,269.1 642.7,264.8 648.4,260.7 C654.1,256.7 662.2,250.6 666.5,246.6 C670.9,242.6 669.9,237.5 674.6,236.5 C679.3,235.5 691.1,238.2 694.8,240.6 C698.5,242.9 698.5,246.3 696.8,250.6 C695.1,255.0 688.0,262.1 684.7,266.8 C681.3,271.5 680.6,275.5 676.6,278.9 C672.6,282.2 665.2,284.6 660.5,286.9 C655.8,289.3 651.7,293.0 648.4,293.0 C645.0,293.0 643.0,290.0 640.3,286.9 C637.6,283.9 633.6,276.9 632.3,274.8" fill="none" stroke="#111" stroke-width="1.5"/>
<path d="M704.8,238.5 C705.5,236.2 712.6,235.2 716.9,236.5 C721.3,237.9 729.4,243.3 731.0,246.6 C732.7,250.0 730.0,256.0 727.0,256.7 C724.0,257.4 716.6,253.7 712.9,250.6 C709.2,247.6 704.2,240.9 704.8,238.5 Z" fill="none" stroke="#111" stroke-width="1.5"/>
<path d="M600.0,311.1 C610.1,310.8 645.4,314.8 660.5,309.1 C675.6,303.4 682.0,281.9 690.7,276.9 C699.5,271.8 707.2,275.2 712.9,278.9 C718.6,282.6 720.6,293.0 725.0,299.0 C729.4,305.1 734.4,313.1 739.1,315.2 C743.8,317.2 748.5,314.5 753.2,311.1 C757.9,307.8 762.6,302.7 767.3,295.0 C772.0,287.3 776.1,269.8 781.5,264.8 C786.8,259.7 795.2,261.7 799.6,264.8 C804.0,267.8 804.3,280.2 807.7,282.9 C811.0,285.6 816.7,286.6 819.8,280.9 C822.8,275.2 824.8,254.0 825.8,248.6" fill="none" stroke="#111" stroke-width="1.5"/>
<path d="M644.4,178.1 C644.0,182.1 641.0,197.2 642.3,202.3 C643.7,207.3 651.4,202.3 652.4,208.3 C653.4,214.4 647.0,234.2 648.4,238.5 C649.7,242.9 658.8,239.9 660.5,234.5 C662.2,229.1 656.1,212.7 658.5,206.3 C660.8,199.9 670.6,197.2 674.6,196.2 C678.6,195.2 681.0,198.2 682.7,200.2 C684.3,202.3 681.0,205.6 684.7,208.3 C688.4,211.0 695.8,212.7 704.8,216.4 C713.9,220.1 729.7,227.8 739.1,230.5 C748.5,233.2 756.6,229.1 761.3,232.5 C766.0,235.9 765.0,248.3 767.3,250.6 C769.7,253.0 773.4,249.0 775.4,246.6 C777.4,244.3 776.4,239.2 779.4,236.5 C782.5,233.8 790.9,234.5 793.5,230.5 C796.2,226.5 794.2,218.1 795.6,212.3 C796.9,206.6 798.6,201.2 801.6,196.2 C804.6,191.2 811.7,184.4 813.7,182.1" fill="none" stroke="#111" stroke-width="1.5"/>
<path d="M741.1,260.7 C743.1,259.0 750.2,259.4 753.2,260.7 C756.2,262.1 759.9,266.4 759.3,268.8 C758.6,271.1 752.2,274.5 749.2,274.8 C746.2,275.2 742.5,273.2 741.1,270.8 C739.8,268.5 739.1,262.4 741.1,260.7 Z" fill="none" stroke="#111" stroke-width="1.5"/>
<path d="M753.2,184.1 C754.6,184.8 757.9,187.8 761.3,188.1 C764.7,188.5 770.7,187.8 773.4,186.1 C776.1,184.4 776.7,179.4 777.4,178.1" fill="none" stroke="#111" stroke-width="1.5"/>
<path d="M821.8,178.1 C822.1,180.8 824.5,188.8 823.8,194.2 C823.1,199.6 818.8,204.3 817.7,210.3 C816.7,216.4 817.1,226.5 817.7,230.5 C818.4,234.5 821.1,233.8 821.8,234.5" fill="none" stroke="#111" stroke-width="1.5"/>
<path d="M906.5,178.1 C907.5,179.1 909.6,182.9 912.6,184.1 C915.6,185.3 920.6,186.1 924.7,185.1 C928.7,184.1 934.8,179.2 936.8,178.1" fill="none" stroke="#111" stroke-width="1.5"/>
<path d="M924.7,264.8 C924.7,270.1 932.1,289.3 934.8,289.0 C937.4,288.6 940.8,268.1 940.8,262.7 C940.8,257.4 937.4,256.4 934.8,256.7 C932.1,257.0 924.7,259.4 924.7,264.8 Z" fill="none" stroke="#111" stroke-width="1.5"/>
<path d="M949.9,254.7 C951.1,253.0 955.1,250.0 956.9,250.6 C958.8,251.3 961.0,256.4 961.0,258.7 C961.0,261.1 958.8,264.4 956.9,264.8 C955.1,265.1 951.1,262.4 949.9,260.7 C948.7,259.0 948.7,256.4 949.9,254.7 Z" fill="none" stroke="#111" stroke-width="1.5"/>
<path d="M894.4,315.2 C895.4,312.8 897.1,303.1 900.5,301.0 C903.8,299.0 911.9,300.7 914.6,303.1 C917.3,305.4 917.3,312.5 916.6,315.2 C915.9,317.8 911.6,318.5 910.6,319.2" fill="none" stroke="#111" stroke-width="1.5"/>
<path d="M977.1,178.1 C977.1,187.5 977.8,224.1 977.1,234.5 C976.4,244.9 973.1,234.5 973.1,240.6 C973.1,246.6 978.4,262.4 977.1,270.8 C975.8,279.2 967.7,284.2 965.0,291.0 C962.3,297.7 960.0,307.1 961.0,311.1 C962.0,315.2 969.4,314.5 971.0,315.2" fill="none" stroke="#111" stroke-width="1.5"/>
<path d="M989.2,178.1 C989.4,186.1 991.5,217.7 990.2,226.5 C988.9,235.2 983.0,228.5 981.1,230.5 C979.3,232.5 979.4,237.2 979.1,238.5" fill="none" stroke="#111" stroke-width="1.5"/>
<path d="M999.3,178.1 C999.3,182.8 997.9,199.6 999.3,206.3 C1000.6,213.0 1003.6,215.0 1007.3,218.4 C1011.0,221.7 1015.7,225.4 1021.5,226.5 C1027.2,227.5 1034.9,222.8 1041.6,224.4 C1048.3,226.1 1057.4,232.2 1061.8,236.5 C1066.1,240.9 1064.5,246.9 1067.8,250.6 C1071.2,254.3 1079.6,257.4 1081.9,258.7" fill="none" stroke="#111" stroke-width="1.5"/>
<path d="M1005.3,282.9 C1008.0,281.2 1015.4,274.2 1021.5,272.8 C1027.5,271.5 1034.9,273.8 1041.6,274.8 C1048.3,275.8 1055.1,278.9 1061.8,278.9 C1068.5,278.9 1078.6,275.5 1081.9,274.8" fill="none" stroke="#111" stroke-width="1.5"/>
<path d="M1007.3,238.5 C1008.3,241.9 1011.0,254.3 1013.4,258.7 C1015.7,263.1 1017.4,263.4 1021.5,264.8 C1025.5,266.1 1031.5,266.4 1037.6,266.8 C1043.6,267.1 1050.3,267.1 1057.7,266.8 C1065.1,266.4 1077.9,265.1 1081.9,264.8" fill="none" stroke="#111" stroke-width="1.5"/>
<text transform="translate(148,207) rotate(-60)" text-anchor="middle" dominant-baseline="central" font-size="14.5" font-weight="bold" fill="#000">500</text>
<text transform="translate(185,211) rotate(-20)" text-anchor="middle" dominant-baseline="central" font-size="14.5" font-weight="bold" fill="#000">7000</text>
<text transform="translate(206,200) rotate(80)" text-anchor="middle" dominant-baseline="central" font-size="14.5" font-weight="bold" fill="#000">300</text>
<text transform="translate(230,207) rotate(65)" text-anchor="middle" dominant-baseline="central" font-size="14.5" font-weight="bold" fill="#000">750</text>
<text transform="translate(266,242) rotate(-45)" text-anchor="middle" dominant-baseline="central" font-size="14.5" font-weight="bold" fill="#000">1000</text>
<text transform="translate(213,287) rotate(-25)" text-anchor="middle" dominant-baseline="central" font-size="14.5" font-weight="bold" fill="#000">600</text>
<text transform="translate(276,283) rotate(75)" text-anchor="middle" dominant-baseline="central" font-size="14.5" font-weight="bold" fill="#000">250</text>
<text transform="translate(415,244) rotate(40)" text-anchor="middle" dominant-baseline="central" font-size="14.5" font-weight="bold" fill="#000">250</text>
<text transform="translate(435,207) rotate(65)" text-anchor="middle" dominant-baseline="central" font-size="14.5" font-weight="bold" fill="#000">250</text>
<text transform="translate(387,404) rotate(30)" text-anchor="middle" dominant-baseline="central" font-size="14.5" font-weight="bold" fill="#000">250</text>
<text transform="translate(597,253) rotate(0)" text-anchor="middle" dominant-baseline="central" font-size="14.5" font-weight="bold" fill="#000">500</text>
<text transform="translate(683,243) rotate(0)" text-anchor="middle" dominant-baseline="central" font-size="14.5" font-weight="bold" fill="#000">500</text>
<text transform="translate(720,250) rotate(75)" text-anchor="middle" dominant-baseline="central" font-size="14.5" font-weight="bold" fill="#000">500</text>
<text transform="translate(842,240) rotate(0)" text-anchor="middle" dominant-baseline="central" font-size="14.5" font-weight="bold" fill="#000">250</text>
<text transform="translate(937,263) rotate(-60)" text-anchor="middle" dominant-baseline="central" font-size="14.5" font-weight="bold" fill="#000">250</text>
<text transform="translate(905,330) rotate(-55)" text-anchor="middle" dominant-baseline="central" font-size="14.5" font-weight="bold" fill="#000">250</text>
<text transform="translate(978,320) rotate(0)" text-anchor="middle" dominant-baseline="central" font-size="14.5" font-weight="bold" fill="#000">250</text>
<text transform="translate(1040,232) rotate(0)" text-anchor="middle" dominant-baseline="central" font-size="14.5" font-weight="bold" fill="#000">1000</text>
<text transform="translate(968,327) rotate(0)" text-anchor="middle" dominant-baseline="central" font-size="14.5" font-weight="bold" fill="#000">250</text>
<text transform="translate(155,182) rotate(-60)" text-anchor="middle" dominant-baseline="central" font-size="14.5" font-weight="bold" fill="#000">50</text>
<text transform="translate(162,189) rotate(-60)" text-anchor="middle" dominant-baseline="central" font-size="14.5" font-weight="bold" fill="#000">30</text>
<g fill="#3a3330" opacity="0.85"><circle cx="141.0" cy="180.3" r="1.55"/><circle cx="141.0" cy="201.1" r="1.55"/><circle cx="141.0" cy="207.1" r="1.55"/><circle cx="141.0" cy="220.5" r="1.55"/><circle cx="141.0" cy="256.3" r="1.55"/><circle cx="141.0" cy="263.7" r="1.55"/><circle cx="141.0" cy="281.6" r="1.55"/><circle cx="141.0" cy="293.5" r="1.55"/><circle cx="141.0" cy="326.3" r="1.55"/><circle cx="141.0" cy="341.2" r="1.55"/><circle cx="141.0" cy="354.6" r="1.55"/><circle cx="141.0" cy="369.5" r="1.55"/><circle cx="141.0" cy="399.3" r="1.55"/><circle cx="141.0" cy="475.3" r="1.55"/><circle cx="149.0" cy="180.3" r="1.55"/><circle cx="149.0" cy="184.8" r="1.55"/><circle cx="149.0" cy="201.1" r="1.55"/><circle cx="149.0" cy="293.5" r="1.55"/><circle cx="149.0" cy="309.9" r="1.55"/><circle cx="149.0" cy="326.3" r="1.55"/><circle cx="149.0" cy="341.2" r="1.55"/><circle cx="149.0" cy="354.6" r="1.55"/><circle cx="149.0" cy="399.3" r="1.55"/><circle cx="149.0" cy="412.7" r="1.55"/><circle cx="149.0" cy="475.3" r="1.55"/><circle cx="157.0" cy="180.3" r="1.55"/><circle cx="157.0" cy="184.8" r="1.55"/><circle cx="157.0" cy="201.1" r="1.55"/><circle cx="157.0" cy="220.5" r="1.55"/><circle cx="157.0" cy="244.4" r="1.55"/><circle cx="157.0" cy="263.7" r="1.55"/><circle cx="157.0" cy="281.6" r="1.55"/><circle cx="157.0" cy="326.3" r="1.55"/><circle cx="157.0" cy="399.3" r="1.55"/><circle cx="157.0" cy="475.3" r="1.55"/><circle cx="165.0" cy="180.3" r="1.55"/><circle cx="165.0" cy="201.1" r="1.55"/><circle cx="165.0" cy="207.1" r="1.55"/><circle cx="165.0" cy="244.4" r="1.55"/><circle cx="165.0" cy="256.3" r="1.55"/><circle cx="165.0" cy="293.5" r="1.55"/><circle cx="165.0" cy="326.3" r="1.55"/><circle cx="165.0" cy="354.6" r="1.55"/><circle cx="165.0" cy="381.4" r="1.55"/><circle cx="165.0" cy="475.3" r="1.55"/><circle cx="174.0" cy="180.3" r="1.55"/><circle cx="174.0" cy="184.8" r="1.55"/><circle cx="174.0" cy="201.1" r="1.55"/><circle cx="174.0" cy="232.4" r="1.55"/><circle cx="174.0" cy="244.4" r="1.55"/><circle cx="174.0" cy="256.3" r="1.55"/><circle cx="174.0" cy="263.7" r="1.55"/><circle cx="174.0" cy="281.6" r="1.55"/><circle cx="174.0" cy="293.5" r="1.55"/><circle cx="174.0" cy="309.9" r="1.55"/><circle cx="174.0" cy="326.3" r="1.55"/><circle cx="174.0" cy="354.6" r="1.55"/><circle cx="174.0" cy="381.4" r="1.55"/><circle cx="174.0" cy="399.3" r="1.55"/><circle cx="174.0" cy="412.7" r="1.55"/><circle cx="174.0" cy="475.3" r="1.55"/><circle cx="186.5" cy="180.3" r="1.55"/><circle cx="186.5" cy="184.8" r="1.55"/><circle cx="186.5" cy="201.1" r="1.55"/><circle cx="186.5" cy="207.1" r="1.55"/><circle cx="186.5" cy="220.5" r="1.55"/><circle cx="186.5" cy="232.4" r="1.55"/><circle cx="186.5" cy="293.5" r="1.55"/><circle cx="186.5" cy="326.3" r="1.55"/><circle cx="186.5" cy="341.2" r="1.55"/><circle cx="186.5" cy="354.6" r="1.55"/><circle cx="186.5" cy="475.3" r="1.55"/><circle cx="195.6" cy="180.3" r="1.55"/><circle cx="195.6" cy="184.8" r="1.55"/><circle cx="195.6" cy="207.1" r="1.55"/><circle cx="195.6" cy="220.5" r="1.55"/><circle cx="195.6" cy="232.4" r="1.55"/><circle cx="195.6" cy="263.7" r="1.55"/><circle cx="195.6" cy="281.6" r="1.55"/><circle cx="195.6" cy="326.3" r="1.55"/><circle cx="195.6" cy="341.2" r="1.55"/><circle cx="195.6" cy="399.3" r="1.55"/><circle cx="195.6" cy="475.3" r="1.55"/><circle cx="207.7" cy="180.3" r="1.55"/><circle cx="207.7" cy="184.8" r="1.55"/><circle cx="207.7" cy="201.1" r="1.55"/><circle cx="207.7" cy="207.1" r="1.55"/><circle cx="207.7" cy="220.5" r="1.55"/><circle cx="207.7" cy="232.4" r="1.55"/><circle cx="207.7" cy="256.3" r="1.55"/><circle cx="207.7" cy="263.7" r="1.55"/><circle cx="207.7" cy="281.6" r="1.55"/><circle cx="207.7" cy="326.3" r="1.55"/><circle cx="207.7" cy="369.5" r="1.55"/><circle cx="207.7" cy="412.7" r="1.55"/><circle cx="207.7" cy="475.3" r="1.55"/><circle cx="215.7" cy="180.3" r="1.55"/><circle cx="215.7" cy="184.8" r="1.55"/><circle cx="215.7" cy="232.4" r="1.55"/><circle cx="215.7" cy="244.4" r="1.55"/><circle cx="215.7" cy="256.3" r="1.55"/><circle cx="215.7" cy="309.9" r="1.55"/><circle cx="215.7" cy="326.3" r="1.55"/><circle cx="215.7" cy="354.6" r="1.55"/><circle cx="215.7" cy="381.4" r="1.55"/><circle cx="215.7" cy="412.7" r="1.55"/><circle cx="215.7" cy="475.3" r="1.55"/><circle cx="225.0" cy="180.3" r="1.55"/><circle cx="225.0" cy="184.8" r="1.55"/><circle cx="225.0" cy="201.1" r="1.55"/><circle cx="225.0" cy="207.1" r="1.55"/><circle cx="225.0" cy="220.5" r="1.55"/><circle cx="225.0" cy="244.4" r="1.55"/><circle cx="225.0" cy="263.7" r="1.55"/><circle cx="225.0" cy="281.6" r="1.55"/><circle cx="225.0" cy="293.5" r="1.55"/><circle cx="225.0" cy="326.3" r="1.55"/><circle cx="225.0" cy="381.4" r="1.55"/><circle cx="225.0" cy="412.7" r="1.55"/><circle cx="225.0" cy="475.3" r="1.55"/><circle cx="235.0" cy="180.3" r="1.55"/><circle cx="235.0" cy="184.8" r="1.55"/><circle cx="235.0" cy="201.1" r="1.55"/><circle cx="235.0" cy="220.5" r="1.55"/><circle cx="235.0" cy="232.4" r="1.55"/><circle cx="235.0" cy="244.4" r="1.55"/><circle cx="235.0" cy="256.3" r="1.55"/><circle cx="235.0" cy="263.7" r="1.55"/><circle cx="235.0" cy="281.6" r="1.55"/><circle cx="235.0" cy="293.5" r="1.55"/><circle cx="235.0" cy="326.3" r="1.55"/><circle cx="235.0" cy="341.2" r="1.55"/><circle cx="235.0" cy="399.3" r="1.55"/><circle cx="235.0" cy="475.3" r="1.55"/><circle cx="247.0" cy="180.3" r="1.55"/><circle cx="247.0" cy="184.8" r="1.55"/><circle cx="247.0" cy="201.1" r="1.55"/><circle cx="247.0" cy="220.5" r="1.55"/><circle cx="247.0" cy="232.4" r="1.55"/><circle cx="247.0" cy="244.4" r="1.55"/><circle cx="247.0" cy="256.3" r="1.55"/><circle cx="247.0" cy="263.7" r="1.55"/><circle cx="247.0" cy="281.6" r="1.55"/><circle cx="247.0" cy="293.5" r="1.55"/><circle cx="247.0" cy="326.3" r="1.55"/><circle cx="247.0" cy="399.3" r="1.55"/><circle cx="247.0" cy="475.3" r="1.55"/><circle cx="254.0" cy="180.3" r="1.55"/><circle cx="254.0" cy="184.8" r="1.55"/><circle cx="254.0" cy="207.1" r="1.55"/><circle cx="254.0" cy="220.5" r="1.55"/><circle cx="254.0" cy="232.4" r="1.55"/><circle cx="254.0" cy="256.3" r="1.55"/><circle cx="254.0" cy="263.7" r="1.55"/><circle cx="254.0" cy="326.3" r="1.55"/><circle cx="254.0" cy="341.2" r="1.55"/><circle cx="254.0" cy="475.3" r="1.55"/><circle cx="266.0" cy="180.3" r="1.55"/><circle cx="266.0" cy="201.1" r="1.55"/><circle cx="266.0" cy="207.1" r="1.55"/><circle cx="266.0" cy="220.5" r="1.55"/><circle cx="266.0" cy="244.4" r="1.55"/><circle cx="266.0" cy="263.7" r="1.55"/><circle cx="266.0" cy="293.5" r="1.55"/><circle cx="266.0" cy="326.3" r="1.55"/><circle cx="266.0" cy="341.2" r="1.55"/><circle cx="266.0" cy="381.4" r="1.55"/><circle cx="266.0" cy="399.3" r="1.55"/><circle cx="266.0" cy="475.3" r="1.55"/><circle cx="286.0" cy="180.3" r="1.55"/><circle cx="286.0" cy="201.1" r="1.55"/><circle cx="286.0" cy="207.1" r="1.55"/><circle cx="286.0" cy="220.5" r="1.55"/><circle cx="286.0" cy="232.4" r="1.55"/><circle cx="286.0" cy="244.4" r="1.55"/><circle cx="286.0" cy="256.3" r="1.55"/><circle cx="286.0" cy="263.7" r="1.55"/><circle cx="286.0" cy="281.6" r="1.55"/><circle cx="286.0" cy="326.3" r="1.55"/><circle cx="286.0" cy="369.5" r="1.55"/><circle cx="286.0" cy="381.4" r="1.55"/><circle cx="286.0" cy="399.3" r="1.55"/><circle cx="286.0" cy="475.3" r="1.55"/><circle cx="292.0" cy="180.3" r="1.55"/><circle cx="292.0" cy="184.8" r="1.55"/><circle cx="292.0" cy="256.3" r="1.55"/><circle cx="292.0" cy="281.6" r="1.55"/><circle cx="292.0" cy="293.5" r="1.55"/><circle cx="292.0" cy="309.9" r="1.55"/><circle cx="292.0" cy="326.3" r="1.55"/><circle cx="292.0" cy="341.2" r="1.55"/><circle cx="292.0" cy="412.7" r="1.55"/><circle cx="292.0" cy="475.3" r="1.55"/><circle cx="303.4" cy="180.3" r="1.55"/><circle cx="303.4" cy="184.8" r="1.55"/><circle cx="303.4" cy="201.1" r="1.55"/><circle cx="303.4" cy="207.1" r="1.55"/><circle cx="303.4" cy="220.5" r="1.55"/><circle cx="303.4" cy="232.4" r="1.55"/><circle cx="303.4" cy="293.5" r="1.55"/><circle cx="303.4" cy="309.9" r="1.55"/><circle cx="303.4" cy="326.3" r="1.55"/><circle cx="303.4" cy="341.2" r="1.55"/><circle cx="303.4" cy="399.3" r="1.55"/><circle cx="303.4" cy="475.3" r="1.55"/><circle cx="310.5" cy="180.3" r="1.55"/><circle cx="310.5" cy="184.8" r="1.55"/><circle cx="310.5" cy="207.1" r="1.55"/><circle cx="310.5" cy="232.4" r="1.55"/><circle cx="310.5" cy="244.4" r="1.55"/><circle cx="310.5" cy="256.3" r="1.55"/><circle cx="310.5" cy="263.7" r="1.55"/><circle cx="310.5" cy="281.6" r="1.55"/><circle cx="310.5" cy="293.5" r="1.55"/><circle cx="310.5" cy="309.9" r="1.55"/><circle cx="310.5" cy="326.3" r="1.55"/><circle cx="310.5" cy="341.2" r="1.55"/><circle cx="310.5" cy="369.5" r="1.55"/><circle cx="310.5" cy="381.4" r="1.55"/><circle cx="310.5" cy="412.7" r="1.55"/><circle cx="310.5" cy="475.3" r="1.55"/><circle cx="324.6" cy="180.3" r="1.55"/><circle cx="324.6" cy="232.4" r="1.55"/><circle cx="324.6" cy="244.4" r="1.55"/><circle cx="324.6" cy="256.3" r="1.55"/><circle cx="324.6" cy="263.7" r="1.55"/><circle cx="324.6" cy="326.3" r="1.55"/><circle cx="324.6" cy="341.2" r="1.55"/><circle cx="324.6" cy="369.5" r="1.55"/><circle cx="324.6" cy="381.4" r="1.55"/><circle cx="324.6" cy="399.3" r="1.55"/><circle cx="324.6" cy="412.7" r="1.55"/><circle cx="324.6" cy="475.3" r="1.55"/><circle cx="336.7" cy="180.3" r="1.55"/><circle cx="336.7" cy="184.8" r="1.55"/><circle cx="336.7" cy="207.1" r="1.55"/><circle cx="336.7" cy="220.5" r="1.55"/><circle cx="336.7" cy="244.4" r="1.55"/><circle cx="336.7" cy="281.6" r="1.55"/><circle cx="336.7" cy="293.5" r="1.55"/><circle cx="336.7" cy="309.9" r="1.55"/><circle cx="336.7" cy="326.3" r="1.55"/><circle cx="336.7" cy="341.2" r="1.55"/><circle cx="336.7" cy="369.5" r="1.55"/><circle cx="336.7" cy="399.3" r="1.55"/><circle cx="336.7" cy="412.7" r="1.55"/><circle cx="336.7" cy="475.3" r="1.55"/><circle cx="353.0" cy="180.3" r="1.55"/><circle cx="353.0" cy="207.1" r="1.55"/><circle cx="353.0" cy="232.4" r="1.55"/><circle cx="353.0" cy="256.3" r="1.55"/><circle cx="353.0" cy="263.7" r="1.55"/><circle cx="353.0" cy="281.6" r="1.55"/><circle cx="353.0" cy="326.3" r="1.55"/><circle cx="353.0" cy="341.2" r="1.55"/><circle cx="353.0" cy="369.5" r="1.55"/><circle cx="353.0" cy="381.4" r="1.55"/><circle cx="353.0" cy="399.3" r="1.55"/><circle cx="353.0" cy="475.3" r="1.55"/><circle cx="365.0" cy="180.3" r="1.55"/><circle cx="365.0" cy="184.8" r="1.55"/><circle cx="365.0" cy="201.1" r="1.55"/><circle cx="365.0" cy="207.1" r="1.55"/><circle cx="365.0" cy="220.5" r="1.55"/><circle cx="365.0" cy="256.3" r="1.55"/><circle cx="365.0" cy="263.7" r="1.55"/><circle cx="365.0" cy="281.6" r="1.55"/><circle cx="365.0" cy="293.5" r="1.55"/><circle cx="365.0" cy="309.9" r="1.55"/><circle cx="365.0" cy="326.3" r="1.55"/><circle cx="365.0" cy="341.2" r="1.55"/><circle cx="365.0" cy="354.6" r="1.55"/><circle cx="365.0" cy="369.5" r="1.55"/><circle cx="365.0" cy="475.3" r="1.55"/><circle cx="381.0" cy="180.3" r="1.55"/><circle cx="381.0" cy="207.1" r="1.55"/><circle cx="381.0" cy="220.5" r="1.55"/><circle cx="381.0" cy="232.4" r="1.55"/><circle cx="381.0" cy="244.4" r="1.55"/><circle cx="381.0" cy="256.3" r="1.55"/><circle cx="381.0" cy="263.7" r="1.55"/><circle cx="381.0" cy="281.6" r="1.55"/><circle cx="381.0" cy="326.3" r="1.55"/><circle cx="381.0" cy="354.6" r="1.55"/><circle cx="381.0" cy="369.5" r="1.55"/><circle cx="381.0" cy="412.7" r="1.55"/><circle cx="381.0" cy="475.3" r="1.55"/><circle cx="393.0" cy="180.3" r="1.55"/><circle cx="393.0" cy="184.8" r="1.55"/><circle cx="393.0" cy="220.5" r="1.55"/><circle cx="393.0" cy="232.4" r="1.55"/><circle cx="393.0" cy="256.3" r="1.55"/><circle cx="393.0" cy="281.6" r="1.55"/><circle cx="393.0" cy="293.5" r="1.55"/><circle cx="393.0" cy="326.3" r="1.55"/><circle cx="393.0" cy="369.5" r="1.55"/><circle cx="393.0" cy="475.3" r="1.55"/><circle cx="408.0" cy="180.3" r="1.55"/><circle cx="408.0" cy="184.8" r="1.55"/><circle cx="408.0" cy="207.1" r="1.55"/><circle cx="408.0" cy="220.5" r="1.55"/><circle cx="408.0" cy="232.4" r="1.55"/><circle cx="408.0" cy="263.7" r="1.55"/><circle cx="408.0" cy="281.6" r="1.55"/><circle cx="408.0" cy="293.5" r="1.55"/><circle cx="408.0" cy="326.3" r="1.55"/><circle cx="408.0" cy="341.2" r="1.55"/><circle cx="408.0" cy="381.4" r="1.55"/><circle cx="408.0" cy="399.3" r="1.55"/><circle cx="408.0" cy="412.7" r="1.55"/><circle cx="408.0" cy="475.3" r="1.55"/><circle cx="426.5" cy="180.3" r="1.55"/><circle cx="426.5" cy="184.8" r="1.55"/><circle cx="426.5" cy="201.1" r="1.55"/><circle cx="426.5" cy="220.5" r="1.55"/><circle cx="426.5" cy="244.4" r="1.55"/><circle cx="426.5" cy="256.3" r="1.55"/><circle cx="426.5" cy="281.6" r="1.55"/><circle cx="426.5" cy="293.5" r="1.55"/><circle cx="426.5" cy="309.9" r="1.55"/><circle cx="426.5" cy="326.3" r="1.55"/><circle cx="426.5" cy="341.2" r="1.55"/><circle cx="426.5" cy="354.6" r="1.55"/><circle cx="426.5" cy="369.5" r="1.55"/><circle cx="426.5" cy="399.3" r="1.55"/><circle cx="426.5" cy="475.3" r="1.55"/><circle cx="440.6" cy="180.3" r="1.55"/><circle cx="440.6" cy="184.8" r="1.55"/><circle cx="440.6" cy="201.1" r="1.55"/><circle cx="440.6" cy="207.1" r="1.55"/><circle cx="440.6" cy="232.4" r="1.55"/><circle cx="440.6" cy="263.7" r="1.55"/><circle cx="440.6" cy="281.6" r="1.55"/><circle cx="440.6" cy="326.3" r="1.55"/><circle cx="440.6" cy="354.6" r="1.55"/><circle cx="440.6" cy="369.5" r="1.55"/><circle cx="440.6" cy="381.4" r="1.55"/><circle cx="440.6" cy="399.3" r="1.55"/><circle cx="440.6" cy="475.3" r="1.55"/><circle cx="463.0" cy="180.3" r="1.55"/><circle cx="463.0" cy="184.8" r="1.55"/><circle cx="463.0" cy="201.1" r="1.55"/><circle cx="463.0" cy="207.1" r="1.55"/><circle cx="463.0" cy="220.5" r="1.55"/><circle cx="463.0" cy="244.4" r="1.55"/><circle cx="463.0" cy="256.3" r="1.55"/><circle cx="463.0" cy="293.5" r="1.55"/><circle cx="463.0" cy="309.9" r="1.55"/><circle cx="463.0" cy="326.3" r="1.55"/><circle cx="463.0" cy="381.4" r="1.55"/><circle cx="463.0" cy="399.3" r="1.55"/><circle cx="463.0" cy="412.7" r="1.55"/><circle cx="463.0" cy="475.3" r="1.55"/><circle cx="477.0" cy="180.3" r="1.55"/><circle cx="477.0" cy="184.8" r="1.55"/><circle cx="477.0" cy="201.1" r="1.55"/><circle cx="477.0" cy="207.1" r="1.55"/><circle cx="477.0" cy="244.4" r="1.55"/><circle cx="477.0" cy="256.3" r="1.55"/><circle cx="477.0" cy="263.7" r="1.55"/><circle cx="477.0" cy="281.6" r="1.55"/><circle cx="477.0" cy="293.5" r="1.55"/><circle cx="477.0" cy="326.3" r="1.55"/><circle cx="477.0" cy="412.7" r="1.55"/><circle cx="477.0" cy="475.3" r="1.55"/><circle cx="498.0" cy="180.3" r="1.55"/><circle cx="498.0" cy="201.1" r="1.55"/><circle cx="498.0" cy="220.5" r="1.55"/><circle cx="498.0" cy="232.4" r="1.55"/><circle cx="498.0" cy="244.4" r="1.55"/><circle cx="498.0" cy="256.3" r="1.55"/><circle cx="498.0" cy="263.7" r="1.55"/><circle cx="498.0" cy="281.6" r="1.55"/><circle cx="498.0" cy="309.9" r="1.55"/><circle cx="498.0" cy="326.3" r="1.55"/><circle cx="498.0" cy="341.2" r="1.55"/><circle cx="498.0" cy="369.5" r="1.55"/><circle cx="498.0" cy="412.7" r="1.55"/><circle cx="498.0" cy="475.3" r="1.55"/><circle cx="512.0" cy="180.3" r="1.55"/><circle cx="512.0" cy="184.8" r="1.55"/><circle cx="512.0" cy="207.1" r="1.55"/><circle cx="512.0" cy="232.4" r="1.55"/><circle cx="512.0" cy="256.3" r="1.55"/><circle cx="512.0" cy="263.7" r="1.55"/><circle cx="512.0" cy="281.6" r="1.55"/><circle cx="512.0" cy="309.9" r="1.55"/><circle cx="512.0" cy="326.3" r="1.55"/><circle cx="512.0" cy="341.2" r="1.55"/><circle cx="512.0" cy="354.6" r="1.55"/><circle cx="512.0" cy="369.5" r="1.55"/><circle cx="512.0" cy="381.4" r="1.55"/><circle cx="512.0" cy="475.3" r="1.55"/><circle cx="534.0" cy="180.3" r="1.55"/><circle cx="534.0" cy="184.8" r="1.55"/><circle cx="534.0" cy="207.1" r="1.55"/><circle cx="534.0" cy="220.5" r="1.55"/><circle cx="534.0" cy="232.4" r="1.55"/><circle cx="534.0" cy="244.4" r="1.55"/><circle cx="534.0" cy="256.3" r="1.55"/><circle cx="534.0" cy="263.7" r="1.55"/><circle cx="534.0" cy="293.5" r="1.55"/><circle cx="534.0" cy="326.3" r="1.55"/><circle cx="534.0" cy="341.2" r="1.55"/><circle cx="534.0" cy="354.6" r="1.55"/><circle cx="534.0" cy="381.4" r="1.55"/><circle cx="534.0" cy="399.3" r="1.55"/><circle cx="534.0" cy="412.7" r="1.55"/><circle cx="534.0" cy="475.3" r="1.55"/><circle cx="546.5" cy="180.3" r="1.55"/><circle cx="546.5" cy="201.1" r="1.55"/><circle cx="546.5" cy="207.1" r="1.55"/><circle cx="546.5" cy="220.5" r="1.55"/><circle cx="546.5" cy="232.4" r="1.55"/><circle cx="546.5" cy="256.3" r="1.55"/><circle cx="546.5" cy="326.3" r="1.55"/><circle cx="546.5" cy="341.2" r="1.55"/><circle cx="546.5" cy="354.6" r="1.55"/><circle cx="546.5" cy="381.4" r="1.55"/><circle cx="546.5" cy="399.3" r="1.55"/><circle cx="546.5" cy="412.7" r="1.55"/><circle cx="546.5" cy="475.3" r="1.55"/><circle cx="562.6" cy="180.3" r="1.55"/><circle cx="562.6" cy="184.8" r="1.55"/><circle cx="562.6" cy="201.1" r="1.55"/><circle cx="562.6" cy="207.1" r="1.55"/><circle cx="562.6" cy="232.4" r="1.55"/><circle cx="562.6" cy="244.4" r="1.55"/><circle cx="562.6" cy="256.3" r="1.55"/><circle cx="562.6" cy="281.6" r="1.55"/><circle cx="562.6" cy="293.5" r="1.55"/><circle cx="562.6" cy="309.9" r="1.55"/><circle cx="562.6" cy="326.3" r="1.55"/><circle cx="562.6" cy="381.4" r="1.55"/><circle cx="562.6" cy="399.3" r="1.55"/><circle cx="562.6" cy="412.7" r="1.55"/><circle cx="562.6" cy="475.3" r="1.55"/><circle cx="573.7" cy="180.3" r="1.55"/><circle cx="573.7" cy="184.8" r="1.55"/><circle cx="573.7" cy="201.1" r="1.55"/><circle cx="573.7" cy="220.5" r="1.55"/><circle cx="573.7" cy="232.4" r="1.55"/><circle cx="573.7" cy="256.3" r="1.55"/><circle cx="573.7" cy="293.5" r="1.55"/><circle cx="573.7" cy="309.9" r="1.55"/><circle cx="573.7" cy="326.3" r="1.55"/><circle cx="573.7" cy="341.2" r="1.55"/><circle cx="573.7" cy="399.3" r="1.55"/><circle cx="573.7" cy="475.3" r="1.55"/><circle cx="601.0" cy="180.3" r="1.55"/><circle cx="601.0" cy="184.8" r="1.55"/><circle cx="601.0" cy="201.1" r="1.55"/><circle cx="601.0" cy="207.1" r="1.55"/><circle cx="601.0" cy="220.5" r="1.55"/><circle cx="601.0" cy="232.4" r="1.55"/><circle cx="601.0" cy="244.4" r="1.55"/><circle cx="601.0" cy="263.7" r="1.55"/><circle cx="601.0" cy="293.5" r="1.55"/><circle cx="601.0" cy="309.9" r="1.55"/><circle cx="601.0" cy="326.3" r="1.55"/><circle cx="601.0" cy="341.2" r="1.55"/><circle cx="601.0" cy="369.5" r="1.55"/><circle cx="601.0" cy="475.3" r="1.55"/><circle cx="621.0" cy="180.3" r="1.55"/><circle cx="621.0" cy="201.1" r="1.55"/><circle cx="621.0" cy="207.1" r="1.55"/><circle cx="621.0" cy="232.4" r="1.55"/><circle cx="621.0" cy="244.4" r="1.55"/><circle cx="621.0" cy="256.3" r="1.55"/><circle cx="621.0" cy="281.6" r="1.55"/><circle cx="621.0" cy="309.9" r="1.55"/><circle cx="621.0" cy="326.3" r="1.55"/><circle cx="621.0" cy="341.2" r="1.55"/><circle cx="621.0" cy="354.6" r="1.55"/><circle cx="621.0" cy="369.5" r="1.55"/><circle cx="621.0" cy="399.3" r="1.55"/><circle cx="621.0" cy="475.3" r="1.55"/><circle cx="632.0" cy="180.3" r="1.55"/><circle cx="632.0" cy="184.8" r="1.55"/><circle cx="632.0" cy="207.1" r="1.55"/><circle cx="632.0" cy="220.5" r="1.55"/><circle cx="632.0" cy="232.4" r="1.55"/><circle cx="632.0" cy="244.4" r="1.55"/><circle cx="632.0" cy="263.7" r="1.55"/><circle cx="632.0" cy="281.6" r="1.55"/><circle cx="632.0" cy="293.5" r="1.55"/><circle cx="632.0" cy="309.9" r="1.55"/><circle cx="632.0" cy="326.3" r="1.55"/><circle cx="632.0" cy="341.2" r="1.55"/><circle cx="632.0" cy="354.6" r="1.55"/><circle cx="632.0" cy="369.5" r="1.55"/><circle cx="632.0" cy="381.4" r="1.55"/><circle cx="632.0" cy="399.3" r="1.55"/><circle cx="632.0" cy="475.3" r="1.55"/><circle cx="647.0" cy="180.3" r="1.55"/><circle cx="647.0" cy="184.8" r="1.55"/><circle cx="647.0" cy="220.5" r="1.55"/><circle cx="647.0" cy="232.4" r="1.55"/><circle cx="647.0" cy="244.4" r="1.55"/><circle cx="647.0" cy="256.3" r="1.55"/><circle cx="647.0" cy="281.6" r="1.55"/><circle cx="647.0" cy="293.5" r="1.55"/><circle cx="647.0" cy="326.3" r="1.55"/><circle cx="647.0" cy="341.2" r="1.55"/><circle cx="647.0" cy="354.6" r="1.55"/><circle cx="647.0" cy="369.5" r="1.55"/><circle cx="647.0" cy="399.3" r="1.55"/><circle cx="647.0" cy="475.3" r="1.55"/><circle cx="658.5" cy="180.3" r="1.55"/><circle cx="658.5" cy="201.1" r="1.55"/><circle cx="658.5" cy="207.1" r="1.55"/><circle cx="658.5" cy="220.5" r="1.55"/><circle cx="658.5" cy="244.4" r="1.55"/><circle cx="658.5" cy="263.7" r="1.55"/><circle cx="658.5" cy="281.6" r="1.55"/><circle cx="658.5" cy="293.5" r="1.55"/><circle cx="658.5" cy="309.9" r="1.55"/><circle cx="658.5" cy="326.3" r="1.55"/><circle cx="658.5" cy="341.2" r="1.55"/><circle cx="658.5" cy="354.6" r="1.55"/><circle cx="658.5" cy="412.7" r="1.55"/><circle cx="658.5" cy="475.3" r="1.55"/><circle cx="674.6" cy="180.3" r="1.55"/><circle cx="674.6" cy="201.1" r="1.55"/><circle cx="674.6" cy="207.1" r="1.55"/><circle cx="674.6" cy="220.5" r="1.55"/><circle cx="674.6" cy="232.4" r="1.55"/><circle cx="674.6" cy="244.4" r="1.55"/><circle cx="674.6" cy="281.6" r="1.55"/><circle cx="674.6" cy="293.5" r="1.55"/><circle cx="674.6" cy="326.3" r="1.55"/><circle cx="674.6" cy="369.5" r="1.55"/><circle cx="674.6" cy="399.3" r="1.55"/><circle cx="674.6" cy="475.3" r="1.55"/><circle cx="686.7" cy="180.3" r="1.55"/><circle cx="686.7" cy="207.1" r="1.55"/><circle cx="686.7" cy="220.5" r="1.55"/><circle cx="686.7" cy="244.4" r="1.55"/><circle cx="686.7" cy="256.3" r="1.55"/><circle cx="686.7" cy="263.7" r="1.55"/><circle cx="686.7" cy="281.6" r="1.55"/><circle cx="686.7" cy="309.9" r="1.55"/><circle cx="686.7" cy="326.3" r="1.55"/><circle cx="686.7" cy="341.2" r="1.55"/><circle cx="686.7" cy="369.5" r="1.55"/><circle cx="686.7" cy="412.7" r="1.55"/><circle cx="686.7" cy="475.3" r="1.55"/><circle cx="702.8" cy="180.3" r="1.55"/><circle cx="702.8" cy="201.1" r="1.55"/><circle cx="702.8" cy="207.1" r="1.55"/><circle cx="702.8" cy="220.5" r="1.55"/><circle cx="702.8" cy="244.4" r="1.55"/><circle cx="702.8" cy="263.7" r="1.55"/><circle cx="702.8" cy="281.6" r="1.55"/><circle cx="702.8" cy="293.5" r="1.55"/><circle cx="702.8" cy="309.9" r="1.55"/><circle cx="702.8" cy="326.3" r="1.55"/><circle cx="702.8" cy="354.6" r="1.55"/><circle cx="702.8" cy="369.5" r="1.55"/><circle cx="702.8" cy="399.3" r="1.55"/><circle cx="702.8" cy="412.7" r="1.55"/><circle cx="702.8" cy="475.3" r="1.55"/><circle cx="713.0" cy="180.3" r="1.55"/><circle cx="713.0" cy="201.1" r="1.55"/><circle cx="713.0" cy="207.1" r="1.55"/><circle cx="713.0" cy="220.5" r="1.55"/><circle cx="713.0" cy="232.4" r="1.55"/><circle cx="713.0" cy="244.4" r="1.55"/><circle cx="713.0" cy="256.3" r="1.55"/><circle cx="713.0" cy="263.7" r="1.55"/><circle cx="713.0" cy="293.5" r="1.55"/><circle cx="713.0" cy="326.3" r="1.55"/><circle cx="713.0" cy="341.2" r="1.55"/><circle cx="713.0" cy="354.6" r="1.55"/><circle cx="713.0" cy="369.5" r="1.55"/><circle cx="713.0" cy="381.4" r="1.55"/><circle cx="713.0" cy="399.3" r="1.55"/><circle cx="713.0" cy="475.3" r="1.55"/><circle cx="730.0" cy="180.3" r="1.55"/><circle cx="730.0" cy="184.8" r="1.55"/><circle cx="730.0" cy="201.1" r="1.55"/><circle cx="730.0" cy="232.4" r="1.55"/><circle cx="730.0" cy="256.3" r="1.55"/><circle cx="730.0" cy="263.7" r="1.55"/><circle cx="730.0" cy="281.6" r="1.55"/><circle cx="730.0" cy="326.3" r="1.55"/><circle cx="730.0" cy="354.6" r="1.55"/><circle cx="730.0" cy="381.4" r="1.55"/><circle cx="730.0" cy="399.3" r="1.55"/><circle cx="730.0" cy="475.3" r="1.55"/><circle cx="741.0" cy="180.3" r="1.55"/><circle cx="741.0" cy="207.1" r="1.55"/><circle cx="741.0" cy="232.4" r="1.55"/><circle cx="741.0" cy="263.7" r="1.55"/><circle cx="741.0" cy="281.6" r="1.55"/><circle cx="741.0" cy="293.5" r="1.55"/><circle cx="741.0" cy="326.3" r="1.55"/><circle cx="741.0" cy="354.6" r="1.55"/><circle cx="741.0" cy="369.5" r="1.55"/><circle cx="741.0" cy="381.4" r="1.55"/><circle cx="741.0" cy="412.7" r="1.55"/><circle cx="741.0" cy="475.3" r="1.55"/><circle cx="758.0" cy="180.3" r="1.55"/><circle cx="758.0" cy="201.1" r="1.55"/><circle cx="758.0" cy="207.1" r="1.55"/><circle cx="758.0" cy="220.5" r="1.55"/><circle cx="758.0" cy="232.4" r="1.55"/><circle cx="758.0" cy="244.4" r="1.55"/><circle cx="758.0" cy="281.6" r="1.55"/><circle cx="758.0" cy="309.9" r="1.55"/><circle cx="758.0" cy="326.3" r="1.55"/><circle cx="758.0" cy="341.2" r="1.55"/><circle cx="758.0" cy="381.4" r="1.55"/><circle cx="758.0" cy="399.3" r="1.55"/><circle cx="758.0" cy="412.7" r="1.55"/><circle cx="758.0" cy="475.3" r="1.55"/><circle cx="767.0" cy="180.3" r="1.55"/><circle cx="767.0" cy="184.8" r="1.55"/><circle cx="767.0" cy="232.4" r="1.55"/><circle cx="767.0" cy="244.4" r="1.55"/><circle cx="767.0" cy="256.3" r="1.55"/><circle cx="767.0" cy="263.7" r="1.55"/><circle cx="767.0" cy="281.6" r="1.55"/><circle cx="767.0" cy="326.3" r="1.55"/><circle cx="767.0" cy="341.2" r="1.55"/><circle cx="767.0" cy="475.3" r="1.55"/><circle cx="784.5" cy="180.3" r="1.55"/><circle cx="784.5" cy="201.1" r="1.55"/><circle cx="784.5" cy="220.5" r="1.55"/><circle cx="784.5" cy="244.4" r="1.55"/><circle cx="784.5" cy="326.3" r="1.55"/><circle cx="784.5" cy="354.6" r="1.55"/><circle cx="784.5" cy="381.4" r="1.55"/><circle cx="784.5" cy="412.7" r="1.55"/><circle cx="784.5" cy="475.3" r="1.55"/><circle cx="795.6" cy="180.3" r="1.55"/><circle cx="795.6" cy="207.1" r="1.55"/><circle cx="795.6" cy="220.5" r="1.55"/><circle cx="795.6" cy="232.4" r="1.55"/><circle cx="795.6" cy="244.4" r="1.55"/><circle cx="795.6" cy="256.3" r="1.55"/><circle cx="795.6" cy="263.7" r="1.55"/><circle cx="795.6" cy="281.6" r="1.55"/><circle cx="795.6" cy="293.5" r="1.55"/><circle cx="795.6" cy="309.9" r="1.55"/><circle cx="795.6" cy="326.3" r="1.55"/><circle cx="795.6" cy="354.6" r="1.55"/><circle cx="795.6" cy="369.5" r="1.55"/><circle cx="795.6" cy="475.3" r="1.55"/><circle cx="810.7" cy="180.3" r="1.55"/><circle cx="810.7" cy="184.8" r="1.55"/><circle cx="810.7" cy="201.1" r="1.55"/><circle cx="810.7" cy="207.1" r="1.55"/><circle cx="810.7" cy="220.5" r="1.55"/><circle cx="810.7" cy="232.4" r="1.55"/><circle cx="810.7" cy="256.3" r="1.55"/><circle cx="810.7" cy="281.6" r="1.55"/><circle cx="810.7" cy="309.9" r="1.55"/><circle cx="810.7" cy="326.3" r="1.55"/><circle cx="810.7" cy="341.2" r="1.55"/><circle cx="810.7" cy="354.6" r="1.55"/><circle cx="810.7" cy="381.4" r="1.55"/><circle cx="810.7" cy="412.7" r="1.55"/><circle cx="810.7" cy="475.3" r="1.55"/><circle cx="821.8" cy="180.3" r="1.55"/><circle cx="821.8" cy="207.1" r="1.55"/><circle cx="821.8" cy="232.4" r="1.55"/><circle cx="821.8" cy="263.7" r="1.55"/><circle cx="821.8" cy="293.5" r="1.55"/><circle cx="821.8" cy="309.9" r="1.55"/><circle cx="821.8" cy="326.3" r="1.55"/><circle cx="821.8" cy="341.2" r="1.55"/><circle cx="821.8" cy="369.5" r="1.55"/><circle cx="821.8" cy="412.7" r="1.55"/><circle cx="821.8" cy="475.3" r="1.55"/><circle cx="837.0" cy="180.3" r="1.55"/><circle cx="837.0" cy="184.8" r="1.55"/><circle cx="837.0" cy="201.1" r="1.55"/><circle cx="837.0" cy="232.4" r="1.55"/><circle cx="837.0" cy="244.4" r="1.55"/><circle cx="837.0" cy="263.7" r="1.55"/><circle cx="837.0" cy="281.6" r="1.55"/><circle cx="837.0" cy="326.3" r="1.55"/><circle cx="837.0" cy="341.2" r="1.55"/><circle cx="837.0" cy="354.6" r="1.55"/><circle cx="837.0" cy="381.4" r="1.55"/><circle cx="837.0" cy="412.7" r="1.55"/><circle cx="837.0" cy="475.3" r="1.55"/><circle cx="847.0" cy="180.3" r="1.55"/><circle cx="847.0" cy="184.8" r="1.55"/><circle cx="847.0" cy="207.1" r="1.55"/><circle cx="847.0" cy="220.5" r="1.55"/><circle cx="847.0" cy="232.4" r="1.55"/><circle cx="847.0" cy="256.3" r="1.55"/><circle cx="847.0" cy="263.7" r="1.55"/><circle cx="847.0" cy="281.6" r="1.55"/><circle cx="847.0" cy="309.9" r="1.55"/><circle cx="847.0" cy="326.3" r="1.55"/><circle cx="847.0" cy="354.6" r="1.55"/><circle cx="847.0" cy="475.3" r="1.55"/><circle cx="856.0" cy="180.3" r="1.55"/><circle cx="856.0" cy="184.8" r="1.55"/><circle cx="856.0" cy="201.1" r="1.55"/><circle cx="856.0" cy="207.1" r="1.55"/><circle cx="856.0" cy="220.5" r="1.55"/><circle cx="856.0" cy="232.4" r="1.55"/><circle cx="856.0" cy="244.4" r="1.55"/><circle cx="856.0" cy="281.6" r="1.55"/><circle cx="856.0" cy="293.5" r="1.55"/><circle cx="856.0" cy="309.9" r="1.55"/><circle cx="856.0" cy="326.3" r="1.55"/><circle cx="856.0" cy="369.5" r="1.55"/><circle cx="856.0" cy="399.3" r="1.55"/><circle cx="856.0" cy="412.7" r="1.55"/><circle cx="856.0" cy="475.3" r="1.55"/><circle cx="865.0" cy="180.3" r="1.55"/><circle cx="865.0" cy="184.8" r="1.55"/><circle cx="865.0" cy="201.1" r="1.55"/><circle cx="865.0" cy="220.5" r="1.55"/><circle cx="865.0" cy="244.4" r="1.55"/><circle cx="865.0" cy="256.3" r="1.55"/><circle cx="865.0" cy="263.7" r="1.55"/><circle cx="865.0" cy="281.6" r="1.55"/><circle cx="865.0" cy="309.9" r="1.55"/><circle cx="865.0" cy="326.3" r="1.55"/><circle cx="865.0" cy="369.5" r="1.55"/><circle cx="865.0" cy="412.7" r="1.55"/><circle cx="865.0" cy="475.3" r="1.55"/><circle cx="878.0" cy="180.3" r="1.55"/><circle cx="878.0" cy="201.1" r="1.55"/><circle cx="878.0" cy="220.5" r="1.55"/><circle cx="878.0" cy="244.4" r="1.55"/><circle cx="878.0" cy="263.7" r="1.55"/><circle cx="878.0" cy="281.6" r="1.55"/><circle cx="878.0" cy="309.9" r="1.55"/><circle cx="878.0" cy="326.3" r="1.55"/><circle cx="878.0" cy="341.2" r="1.55"/><circle cx="878.0" cy="369.5" r="1.55"/><circle cx="878.0" cy="381.4" r="1.55"/><circle cx="878.0" cy="399.3" r="1.55"/><circle cx="878.0" cy="475.3" r="1.55"/><circle cx="887.0" cy="180.3" r="1.55"/><circle cx="887.0" cy="220.5" r="1.55"/><circle cx="887.0" cy="244.4" r="1.55"/><circle cx="887.0" cy="263.7" r="1.55"/><circle cx="887.0" cy="281.6" r="1.55"/><circle cx="887.0" cy="293.5" r="1.55"/><circle cx="887.0" cy="326.3" r="1.55"/><circle cx="887.0" cy="341.2" r="1.55"/><circle cx="887.0" cy="381.4" r="1.55"/><circle cx="887.0" cy="399.3" r="1.55"/><circle cx="887.0" cy="475.3" r="1.55"/><circle cx="900.5" cy="180.3" r="1.55"/><circle cx="900.5" cy="184.8" r="1.55"/><circle cx="900.5" cy="201.1" r="1.55"/><circle cx="900.5" cy="207.1" r="1.55"/><circle cx="900.5" cy="220.5" r="1.55"/><circle cx="900.5" cy="256.3" r="1.55"/><circle cx="900.5" cy="309.9" r="1.55"/><circle cx="900.5" cy="326.3" r="1.55"/><circle cx="900.5" cy="341.2" r="1.55"/><circle cx="900.5" cy="399.3" r="1.55"/><circle cx="900.5" cy="412.7" r="1.55"/><circle cx="900.5" cy="475.3" r="1.55"/><circle cx="909.6" cy="180.3" r="1.55"/><circle cx="909.6" cy="207.1" r="1.55"/><circle cx="909.6" cy="232.4" r="1.55"/><circle cx="909.6" cy="244.4" r="1.55"/><circle cx="909.6" cy="281.6" r="1.55"/><circle cx="909.6" cy="309.9" r="1.55"/><circle cx="909.6" cy="326.3" r="1.55"/><circle cx="909.6" cy="341.2" r="1.55"/><circle cx="909.6" cy="354.6" r="1.55"/><circle cx="909.6" cy="369.5" r="1.55"/><circle cx="909.6" cy="399.3" r="1.55"/><circle cx="909.6" cy="412.7" r="1.55"/><circle cx="909.6" cy="475.3" r="1.55"/><circle cx="924.7" cy="180.3" r="1.55"/><circle cx="924.7" cy="184.8" r="1.55"/><circle cx="924.7" cy="201.1" r="1.55"/><circle cx="924.7" cy="207.1" r="1.55"/><circle cx="924.7" cy="220.5" r="1.55"/><circle cx="924.7" cy="244.4" r="1.55"/><circle cx="924.7" cy="263.7" r="1.55"/><circle cx="924.7" cy="293.5" r="1.55"/><circle cx="924.7" cy="326.3" r="1.55"/><circle cx="924.7" cy="341.2" r="1.55"/><circle cx="924.7" cy="354.6" r="1.55"/><circle cx="924.7" cy="475.3" r="1.55"/><circle cx="932.7" cy="180.3" r="1.55"/><circle cx="932.7" cy="184.8" r="1.55"/><circle cx="932.7" cy="207.1" r="1.55"/><circle cx="932.7" cy="232.4" r="1.55"/><circle cx="932.7" cy="244.4" r="1.55"/><circle cx="932.7" cy="263.7" r="1.55"/><circle cx="932.7" cy="281.6" r="1.55"/><circle cx="932.7" cy="293.5" r="1.55"/><circle cx="932.7" cy="309.9" r="1.55"/><circle cx="932.7" cy="326.3" r="1.55"/><circle cx="932.7" cy="341.2" r="1.55"/><circle cx="932.7" cy="354.6" r="1.55"/><circle cx="932.7" cy="399.3" r="1.55"/><circle cx="932.7" cy="412.7" r="1.55"/><circle cx="932.7" cy="475.3" r="1.55"/><circle cx="947.0" cy="180.3" r="1.55"/><circle cx="947.0" cy="201.1" r="1.55"/><circle cx="947.0" cy="207.1" r="1.55"/><circle cx="947.0" cy="232.4" r="1.55"/><circle cx="947.0" cy="244.4" r="1.55"/><circle cx="947.0" cy="256.3" r="1.55"/><circle cx="947.0" cy="263.7" r="1.55"/><circle cx="947.0" cy="281.6" r="1.55"/><circle cx="947.0" cy="293.5" r="1.55"/><circle cx="947.0" cy="326.3" r="1.55"/><circle cx="947.0" cy="354.6" r="1.55"/><circle cx="947.0" cy="369.5" r="1.55"/><circle cx="947.0" cy="412.7" r="1.55"/><circle cx="947.0" cy="475.3" r="1.55"/><circle cx="956.0" cy="180.3" r="1.55"/><circle cx="956.0" cy="184.8" r="1.55"/><circle cx="956.0" cy="201.1" r="1.55"/><circle cx="956.0" cy="207.1" r="1.55"/><circle cx="956.0" cy="220.5" r="1.55"/><circle cx="956.0" cy="232.4" r="1.55"/><circle cx="956.0" cy="256.3" r="1.55"/><circle cx="956.0" cy="263.7" r="1.55"/><circle cx="956.0" cy="293.5" r="1.55"/><circle cx="956.0" cy="309.9" r="1.55"/><circle cx="956.0" cy="326.3" r="1.55"/><circle cx="956.0" cy="341.2" r="1.55"/><circle cx="956.0" cy="354.6" r="1.55"/><circle cx="956.0" cy="381.4" r="1.55"/><circle cx="956.0" cy="412.7" r="1.55"/><circle cx="956.0" cy="475.3" r="1.55"/><circle cx="974.0" cy="180.3" r="1.55"/><circle cx="974.0" cy="184.8" r="1.55"/><circle cx="974.0" cy="201.1" r="1.55"/><circle cx="974.0" cy="207.1" r="1.55"/><circle cx="974.0" cy="220.5" r="1.55"/><circle cx="974.0" cy="232.4" r="1.55"/><circle cx="974.0" cy="244.4" r="1.55"/><circle cx="974.0" cy="256.3" r="1.55"/><circle cx="974.0" cy="293.5" r="1.55"/><circle cx="974.0" cy="309.9" r="1.55"/><circle cx="974.0" cy="326.3" r="1.55"/><circle cx="974.0" cy="341.2" r="1.55"/><circle cx="974.0" cy="354.6" r="1.55"/><circle cx="974.0" cy="369.5" r="1.55"/><circle cx="974.0" cy="381.4" r="1.55"/><circle cx="974.0" cy="412.7" r="1.55"/><circle cx="974.0" cy="475.3" r="1.55"/><circle cx="985.0" cy="180.3" r="1.55"/><circle cx="985.0" cy="201.1" r="1.55"/><circle cx="985.0" cy="207.1" r="1.55"/><circle cx="985.0" cy="244.4" r="1.55"/><circle cx="985.0" cy="256.3" r="1.55"/><circle cx="985.0" cy="263.7" r="1.55"/><circle cx="985.0" cy="293.5" r="1.55"/><circle cx="985.0" cy="326.3" r="1.55"/><circle cx="985.0" cy="341.2" r="1.55"/><circle cx="985.0" cy="354.6" r="1.55"/><circle cx="985.0" cy="369.5" r="1.55"/><circle cx="985.0" cy="381.4" r="1.55"/><circle cx="985.0" cy="399.3" r="1.55"/><circle cx="985.0" cy="475.3" r="1.55"/><circle cx="1006.0" cy="180.3" r="1.55"/><circle cx="1006.0" cy="201.1" r="1.55"/><circle cx="1006.0" cy="207.1" r="1.55"/><circle cx="1006.0" cy="220.5" r="1.55"/><circle cx="1006.0" cy="232.4" r="1.55"/><circle cx="1006.0" cy="256.3" r="1.55"/><circle cx="1006.0" cy="293.5" r="1.55"/><circle cx="1006.0" cy="309.9" r="1.55"/><circle cx="1006.0" cy="326.3" r="1.55"/><circle cx="1006.0" cy="341.2" r="1.55"/><circle cx="1006.0" cy="354.6" r="1.55"/><circle cx="1006.0" cy="381.4" r="1.55"/><circle cx="1006.0" cy="412.7" r="1.55"/><circle cx="1006.0" cy="475.3" r="1.55"/><circle cx="1016.0" cy="180.3" r="1.55"/><circle cx="1016.0" cy="184.8" r="1.55"/><circle cx="1016.0" cy="207.1" r="1.55"/><circle cx="1016.0" cy="220.5" r="1.55"/><circle cx="1016.0" cy="232.4" r="1.55"/><circle cx="1016.0" cy="244.4" r="1.55"/><circle cx="1016.0" cy="256.3" r="1.55"/><circle cx="1016.0" cy="263.7" r="1.55"/><circle cx="1016.0" cy="281.6" r="1.55"/><circle cx="1016.0" cy="309.9" r="1.55"/><circle cx="1016.0" cy="326.3" r="1.55"/><circle cx="1016.0" cy="341.2" r="1.55"/><circle cx="1016.0" cy="354.6" r="1.55"/><circle cx="1016.0" cy="369.5" r="1.55"/><circle cx="1016.0" cy="381.4" r="1.55"/><circle cx="1016.0" cy="475.3" r="1.55"/><circle cx="1035.6" cy="180.3" r="1.55"/><circle cx="1035.6" cy="207.1" r="1.55"/><circle cx="1035.6" cy="220.5" r="1.55"/><circle cx="1035.6" cy="232.4" r="1.55"/><circle cx="1035.6" cy="326.3" r="1.55"/><circle cx="1035.6" cy="399.3" r="1.55"/><circle cx="1035.6" cy="475.3" r="1.55"/><circle cx="1045.6" cy="180.3" r="1.55"/><circle cx="1045.6" cy="201.1" r="1.55"/><circle cx="1045.6" cy="220.5" r="1.55"/><circle cx="1045.6" cy="232.4" r="1.55"/><circle cx="1045.6" cy="293.5" r="1.55"/><circle cx="1045.6" cy="326.3" r="1.55"/><circle cx="1045.6" cy="341.2" r="1.55"/><circle cx="1045.6" cy="354.6" r="1.55"/><circle cx="1045.6" cy="399.3" r="1.55"/><circle cx="1045.6" cy="412.7" r="1.55"/><circle cx="1045.6" cy="475.3" r="1.55"/><circle cx="1066.8" cy="180.3" r="1.55"/><circle cx="1066.8" cy="184.8" r="1.55"/><circle cx="1066.8" cy="201.1" r="1.55"/><circle cx="1066.8" cy="207.1" r="1.55"/><circle cx="1066.8" cy="244.4" r="1.55"/><circle cx="1066.8" cy="281.6" r="1.55"/><circle cx="1066.8" cy="309.9" r="1.55"/><circle cx="1066.8" cy="326.3" r="1.55"/><circle cx="1066.8" cy="341.2" r="1.55"/><circle cx="1066.8" cy="354.6" r="1.55"/><circle cx="1066.8" cy="381.4" r="1.55"/><circle cx="1066.8" cy="412.7" r="1.55"/><circle cx="1066.8" cy="475.3" r="1.55"/><circle cx="1078.0" cy="180.3" r="1.55"/><circle cx="1078.0" cy="184.8" r="1.55"/><circle cx="1078.0" cy="201.1" r="1.55"/><circle cx="1078.0" cy="207.1" r="1.55"/><circle cx="1078.0" cy="220.5" r="1.55"/><circle cx="1078.0" cy="232.4" r="1.55"/><circle cx="1078.0" cy="244.4" r="1.55"/><circle cx="1078.0" cy="263.7" r="1.55"/><circle cx="1078.0" cy="293.5" r="1.55"/><circle cx="1078.0" cy="309.9" r="1.55"/><circle cx="1078.0" cy="326.3" r="1.55"/><circle cx="1078.0" cy="341.2" r="1.55"/><circle cx="1078.0" cy="354.6" r="1.55"/><circle cx="1078.0" cy="369.5" r="1.55"/><circle cx="1078.0" cy="381.4" r="1.55"/><circle cx="1078.0" cy="399.3" r="1.55"/><circle cx="1078.0" cy="412.7" r="1.55"/><circle cx="1078.0" cy="475.3" r="1.55"/></g>
<g fill="#000"><circle cx="227.8" cy="182.7" r="2.4"/><circle cx="227.8" cy="195.1" r="2.4"/><circle cx="228.1" cy="207.4" r="2.4"/><circle cx="232.9" cy="218.8" r="2.4"/><circle cx="238.0" cy="230.1" r="2.4"/><circle cx="242.0" cy="241.9" r="2.4"/><circle cx="247.6" cy="253.0" r="2.4"/><circle cx="252.1" cy="264.5" r="2.4"/><circle cx="255.6" cy="276.4" r="2.4"/><circle cx="258.2" cy="288.5" r="2.4"/><circle cx="260.3" cy="300.7" r="2.4"/><circle cx="262.9" cy="312.9" r="2.4"/><circle cx="264.5" cy="325.1" r="2.4"/><circle cx="266.7" cy="337.3" r="2.4"/><circle cx="268.8" cy="349.6" r="2.4"/><circle cx="271.3" cy="361.7" r="2.4"/><circle cx="273.2" cy="374.0" r="2.4"/><circle cx="275.6" cy="386.1" r="2.4"/><circle cx="277.7" cy="398.3" r="2.4"/><circle cx="279.7" cy="410.6" r="2.4"/><circle cx="282.0" cy="422.8" r="2.4"/><circle cx="284.6" cy="434.9" r="2.4"/><circle cx="292.4" cy="443.5" r="2.4"/><circle cx="304.3" cy="440.0" r="2.4"/><circle cx="316.4" cy="437.1" r="2.4"/><circle cx="327.4" cy="442.2" r="2.4"/><circle cx="334.2" cy="452.5" r="2.4"/><circle cx="344.3" cy="456.6" r="2.4"/><circle cx="355.4" cy="451.3" r="2.4"/><circle cx="365.8" cy="444.6" r="2.4"/><circle cx="377.2" cy="440.6" r="2.4"/><circle cx="387.5" cy="445.3" r="2.4"/><circle cx="395.7" cy="448.7" r="2.4"/><circle cx="404.4" cy="440.0" r="2.4"/><circle cx="414.4" cy="435.3" r="2.4"/><circle cx="426.3" cy="432.9" r="2.4"/><circle cx="434.5" cy="424.0" r="2.4"/><circle cx="441.3" cy="413.6" r="2.4"/><circle cx="447.4" cy="402.8" r="2.4"/><circle cx="453.7" cy="392.2" r="2.4"/><circle cx="460.0" cy="381.5" r="2.4"/><circle cx="467.7" cy="371.9" r="2.4"/><circle cx="476.3" cy="363.0" r="2.4"/><circle cx="485.2" cy="354.3" r="2.4"/><circle cx="494.3" cy="345.8" r="2.4"/><circle cx="501.4" cy="335.9" r="2.4"/><circle cx="507.3" cy="325.0" r="2.4"/><circle cx="516.1" cy="317.1" r="2.4"/><circle cx="527.6" cy="312.6" r="2.4"/><circle cx="537.6" cy="305.9" r="2.4"/><circle cx="545.5" cy="296.4" r="2.4"/><circle cx="553.8" cy="287.3" r="2.4"/><circle cx="564.8" cy="283.1" r="2.4"/><circle cx="577.0" cy="281.2" r="2.4"/><circle cx="588.8" cy="277.5" r="2.4"/><circle cx="600.7" cy="276.2" r="2.4"/><circle cx="611.7" cy="281.6" r="2.4"/><circle cx="620.5" cy="273.4" r="2.4"/><circle cx="628.4" cy="263.8" r="2.4"/><circle cx="640.3" cy="263.8" r="2.4"/><circle cx="652.6" cy="264.8" r="2.4"/><circle cx="665.0" cy="264.6" r="2.4"/><circle cx="675.5" cy="258.9" r="2.4"/><circle cx="681.1" cy="247.8" r="2.4"/><circle cx="687.8" cy="238.2" r="2.4"/><circle cx="699.3" cy="237.1" r="2.4"/><circle cx="707.0" cy="246.7" r="2.4"/><circle cx="713.4" cy="257.4" r="2.4"/><circle cx="719.8" cy="268.0" r="2.4"/><circle cx="726.8" cy="278.2" r="2.4"/><circle cx="732.6" cy="289.2" r="2.4"/><circle cx="738.1" cy="300.1" r="2.4"/><circle cx="748.5" cy="304.3" r="2.4"/><circle cx="757.1" cy="306.5" r="2.4"/><circle cx="760.4" cy="318.4" r="2.4"/><circle cx="763.2" cy="330.5" r="2.4"/><circle cx="766.2" cy="342.5" r="2.4"/><circle cx="769.1" cy="354.6" r="2.4"/><circle cx="771.6" cy="366.7" r="2.4"/><circle cx="774.1" cy="378.9" r="2.4"/><circle cx="777.1" cy="390.9" r="2.4"/><circle cx="780.1" cy="402.9" r="2.4"/><circle cx="784.5" cy="413.4" r="2.4"/><circle cx="795.6" cy="412.3" r="2.4"/><circle cx="804.8" cy="404.3" r="2.4"/><circle cx="813.5" cy="406.7" r="2.4"/><circle cx="821.5" cy="408.0" r="2.4"/><circle cx="826.2" cy="396.8" r="2.4"/><circle cx="830.4" cy="385.1" r="2.4"/><circle cx="838.3" cy="389.5" r="2.4"/><circle cx="843.0" cy="401.0" r="2.4"/><circle cx="847.5" cy="412.6" r="2.4"/><circle cx="852.6" cy="423.9" r="2.4"/><circle cx="857.6" cy="422.8" r="2.4"/><circle cx="862.7" cy="411.5" r="2.4"/><circle cx="869.8" cy="401.5" r="2.4"/><circle cx="877.9" cy="394.3" r="2.4"/><circle cx="881.4" cy="382.4" r="2.4"/><circle cx="885.2" cy="370.6" r="2.4"/><circle cx="888.7" cy="358.8" r="2.4"/><circle cx="891.0" cy="346.6" r="2.4"/><circle cx="898.3" cy="340.0" r="2.4"/><circle cx="904.3" cy="329.3" r="2.4"/><circle cx="911.7" cy="337.8" r="2.4"/><circle cx="915.7" cy="349.6" r="2.4"/><circle cx="919.2" cy="361.4" r="2.4"/><circle cx="922.9" cy="361.8" r="2.4"/><circle cx="924.8" cy="349.6" r="2.4"/><circle cx="926.1" cy="337.3" r="2.4"/><circle cx="927.0" cy="324.9" r="2.4"/><circle cx="927.9" cy="312.5" r="2.4"/><circle cx="929.4" cy="300.2" r="2.4"/><circle cx="937.6" cy="303.9" r="2.4"/><circle cx="946.0" cy="312.8" r="2.4"/><circle cx="952.5" cy="323.3" r="2.4"/><circle cx="959.4" cy="333.6" r="2.4"/><circle cx="966.3" cy="334.7" r="2.4"/><circle cx="970.3" cy="339.9" r="2.4"/><circle cx="972.7" cy="340.6" r="2.4"/><circle cx="974.0" cy="328.2" r="2.4"/><circle cx="975.6" cy="316.0" r="2.4"/><circle cx="977.7" cy="303.7" r="2.4"/><circle cx="979.7" cy="291.5" r="2.4"/><circle cx="983.6" cy="280.2" r="2.4"/><circle cx="991.1" cy="270.3" r="2.4"/><circle cx="998.8" cy="260.6" r="2.4"/><circle cx="1005.6" cy="250.4" r="2.4"/><circle cx="1012.5" cy="240.4" r="2.4"/><circle cx="1020.5" cy="240.5" r="2.4"/><circle cx="1027.5" cy="250.7" r="2.4"/><circle cx="1036.0" cy="259.5" r="2.4"/><circle cx="1045.3" cy="259.8" r="2.4"/><circle cx="1051.9" cy="249.5" r="2.4"/><circle cx="1057.8" cy="238.7" r="2.4"/><circle cx="1062.5" cy="227.2" r="2.4"/><circle cx="1065.7" cy="215.3" r="2.4"/></g>
<g fill="#000"><circle cx="183.5" cy="200.7" r="2.4"/><circle cx="187.5" cy="212.7" r="2.4"/><circle cx="196.6" cy="219.7" r="2.4"/><circle cx="200.6" cy="230.7" r="2.4"/><circle cx="207.7" cy="244.8" r="2.4"/></g>
<g fill="#000"><circle cx="211.7" cy="207.7" r="2.4"/><circle cx="210.7" cy="220.7" r="2.4"/><circle cx="208.7" cy="232.7" r="2.4"/></g>
<g fill="#fff"><circle cx="151.2" cy="237.7" r="2.4"/><circle cx="161.9" cy="243.4" r="2.4"/><circle cx="172.7" cy="237.5" r="2.4"/><circle cx="182.4" cy="229.7" r="2.4"/><circle cx="191.5" cy="221.3" r="2.4"/><circle cx="202.5" cy="218.6" r="2.4"/><circle cx="212.2" cy="226.3" r="2.4"/><circle cx="221.2" cy="234.8" r="2.4"/><circle cx="231.5" cy="241.8" r="2.4"/><circle cx="241.7" cy="248.6" r="2.4"/><circle cx="249.9" cy="257.9" r="2.4"/><circle cx="257.6" cy="267.7" r="2.4"/><circle cx="264.3" cy="278.1" r="2.4"/><circle cx="270.3" cy="289.0" r="2.4"/><circle cx="276.7" cy="299.6" r="2.4"/><circle cx="284.1" cy="309.6" r="2.4"/><circle cx="290.1" cy="320.4" r="2.4"/><circle cx="297.2" cy="330.6" r="2.4"/><circle cx="304.0" cy="340.9" r="2.4"/><circle cx="311.8" cy="350.6" r="2.4"/><circle cx="323.5" cy="353.7" r="2.4"/><circle cx="335.6" cy="356.6" r="2.4"/><circle cx="346.6" cy="362.3" r="2.4"/><circle cx="356.8" cy="369.2" r="2.4"/><circle cx="367.7" cy="375.2" r="2.4"/><circle cx="379.7" cy="377.6" r="2.4"/><circle cx="392.1" cy="378.8" r="2.4"/><circle cx="400.0" cy="370.5" r="2.4"/><circle cx="407.2" cy="360.4" r="2.4"/><circle cx="418.2" cy="356.3" r="2.4"/><circle cx="430.5" cy="355.1" r="2.4"/><circle cx="442.5" cy="352.3" r="2.4"/><circle cx="452.6" cy="345.3" r="2.4"/><circle cx="462.0" cy="337.3" r="2.4"/><circle cx="471.6" cy="329.4" r="2.4"/><circle cx="481.1" cy="321.4" r="2.4"/><circle cx="490.5" cy="313.4" r="2.4"/><circle cx="500.2" cy="305.6" r="2.4"/><circle cx="510.1" cy="298.2" r="2.4"/><circle cx="521.8" cy="295.6" r="2.4"/><circle cx="534.2" cy="295.4" r="2.4"/><circle cx="546.5" cy="296.3" r="2.4"/><circle cx="558.6" cy="298.8" r="2.4"/><circle cx="570.7" cy="301.5" r="2.4"/><circle cx="583.0" cy="302.6" r="2.4"/><circle cx="595.4" cy="302.8" r="2.4"/><circle cx="606.4" cy="298.7" r="2.4"/><circle cx="615.4" cy="290.3" r="2.4"/><circle cx="624.2" cy="281.6" r="2.4"/><circle cx="634.7" cy="276.1" r="2.4"/><circle cx="647.0" cy="274.8" r="2.4"/><circle cx="659.4" cy="274.4" r="2.4"/><circle cx="671.8" cy="274.4" r="2.4"/><circle cx="683.5" cy="276.8" r="2.4"/><circle cx="693.5" cy="284.0" r="2.4"/><circle cx="702.6" cy="292.4" r="2.4"/><circle cx="711.8" cy="300.8" r="2.4"/><circle cx="720.8" cy="309.2" r="2.4"/><circle cx="729.8" cy="317.8" r="2.4"/><circle cx="739.5" cy="325.3" r="2.4"/><circle cx="750.8" cy="330.6" r="2.4"/><circle cx="762.2" cy="335.5" r="2.4"/><circle cx="773.6" cy="340.2" r="2.4"/><circle cx="785.2" cy="344.6" r="2.4"/><circle cx="797.1" cy="347.9" r="2.4"/><circle cx="809.5" cy="347.9" r="2.4"/><circle cx="821.9" cy="347.9" r="2.4"/><circle cx="834.3" cy="347.7" r="2.4"/><circle cx="846.4" cy="345.5" r="2.4"/><circle cx="857.7" cy="340.3" r="2.4"/><circle cx="869.3" cy="335.9" r="2.4"/><circle cx="881.2" cy="332.3" r="2.4"/><circle cx="892.9" cy="328.4" r="2.4"/><circle cx="904.5" cy="323.9" r="2.4"/><circle cx="910.2" cy="312.9" r="2.4"/><circle cx="915.7" cy="301.8" r="2.4"/><circle cx="921.1" cy="290.6" r="2.4"/><circle cx="927.1" cy="279.8" r="2.4"/><circle cx="938.9" cy="278.3" r="2.4"/><circle cx="951.3" cy="277.8" r="2.4"/><circle cx="963.7" cy="278.3" r="2.4"/><circle cx="976.1" cy="278.4" r="2.4"/><circle cx="986.3" cy="272.3" r="2.4"/><circle cx="995.7" cy="264.2" r="2.4"/><circle cx="1004.9" cy="256.0" r="2.4"/><circle cx="1016.3" cy="251.9" r="2.4"/><circle cx="1028.6" cy="251.4" r="2.4"/><circle cx="1041.0" cy="251.4" r="2.4"/><circle cx="1053.4" cy="251.0" r="2.4"/><circle cx="1065.8" cy="250.8" r="2.4"/><circle cx="1078.2" cy="250.8" r="2.4"/></g>
<g fill="#fff"><circle cx="145.2" cy="263.8" r="2.4"/><circle cx="154.0" cy="272.5" r="2.4"/><circle cx="165.5" cy="274.9" r="2.4"/><circle cx="175.0" cy="267.0" r="2.4"/><circle cx="182.8" cy="257.3" r="2.4"/><circle cx="190.2" cy="247.5" r="2.4"/><circle cx="201.4" cy="242.3" r="2.4"/><circle cx="209.0" cy="250.8" r="2.4"/><circle cx="215.7" cy="261.2" r="2.4"/><circle cx="224.7" cy="269.8" r="2.4"/><circle cx="234.6" cy="277.1" r="2.4"/><circle cx="242.1" cy="286.9" r="2.4"/><circle cx="248.6" cy="297.4" r="2.4"/><circle cx="254.6" cy="308.2" r="2.4"/><circle cx="260.3" cy="319.3" r="2.4"/><circle cx="265.0" cy="330.7" r="2.4"/><circle cx="269.6" cy="342.2" r="2.4"/><circle cx="273.8" cy="353.9" r="2.4"/><circle cx="278.4" cy="365.4" r="2.4"/><circle cx="283.9" cy="376.5" r="2.4"/><circle cx="288.6" cy="387.9" r="2.4"/><circle cx="293.3" cy="399.4" r="2.4"/><circle cx="298.3" cy="410.7" r="2.4"/><circle cx="303.7" cy="421.9" r="2.4"/><circle cx="309.6" cy="432.8" r="2.4"/><circle cx="318.3" cy="440.7" r="2.4"/><circle cx="329.9" cy="445.1" r="2.4"/><circle cx="340.7" cy="450.9" r="2.4"/><circle cx="349.9" cy="459.1" r="2.4"/><circle cx="358.5" cy="468.1" r="2.4"/><circle cx="368.1" cy="475.6" r="2.4"/><circle cx="379.8" cy="479.4" r="2.4"/><circle cx="391.9" cy="479.5" r="2.4"/><circle cx="399.4" cy="471.1" r="2.4"/><circle cx="404.5" cy="459.8" r="2.4"/><circle cx="411.8" cy="450.0" r="2.4"/><circle cx="423.1" cy="446.5" r="2.4"/><circle cx="435.5" cy="445.3" r="2.4"/><circle cx="445.3" cy="439.0" r="2.4"/><circle cx="453.1" cy="429.4" r="2.4"/><circle cx="460.9" cy="419.8" r="2.4"/><circle cx="468.7" cy="410.2" r="2.4"/><circle cx="476.5" cy="400.6" r="2.4"/><circle cx="484.3" cy="390.9" r="2.4"/><circle cx="491.9" cy="381.1" r="2.4"/><circle cx="499.5" cy="371.3" r="2.4"/><circle cx="507.3" cy="361.6" r="2.4"/><circle cx="517.4" cy="356.4" r="2.4"/><circle cx="529.8" cy="355.9" r="2.4"/><circle cx="542.2" cy="356.2" r="2.4"/><circle cx="554.1" cy="358.9" r="2.4"/><circle cx="565.5" cy="363.8" r="2.4"/><circle cx="577.3" cy="366.7" r="2.4"/><circle cx="589.7" cy="367.2" r="2.4"/><circle cx="601.1" cy="364.4" r="2.4"/><circle cx="609.6" cy="355.7" r="2.4"/><circle cx="616.9" cy="345.6" r="2.4"/><circle cx="624.0" cy="335.5" r="2.4"/><circle cx="632.5" cy="327.3" r="2.4"/><circle cx="644.5" cy="324.6" r="2.4"/><circle cx="656.9" cy="324.1" r="2.4"/><circle cx="669.3" cy="324.0" r="2.4"/><circle cx="681.2" cy="326.2" r="2.4"/><circle cx="690.5" cy="333.8" r="2.4"/><circle cx="697.8" cy="343.9" r="2.4"/><circle cx="705.2" cy="353.8" r="2.4"/><circle cx="712.5" cy="363.8" r="2.4"/><circle cx="719.5" cy="374.1" r="2.4"/><circle cx="726.8" cy="384.1" r="2.4"/><circle cx="734.4" cy="393.9" r="2.4"/><circle cx="742.8" cy="402.8" r="2.4"/><circle cx="753.2" cy="409.7" r="2.4"/><circle cx="763.8" cy="416.0" r="2.4"/><circle cx="774.3" cy="422.6" r="2.4"/><circle cx="784.8" cy="429.3" r="2.4"/><circle cx="796.0" cy="434.1" r="2.4"/><circle cx="808.4" cy="434.4" r="2.4"/><circle cx="820.8" cy="434.3" r="2.4"/><circle cx="833.1" cy="433.8" r="2.4"/><circle cx="845.1" cy="430.9" r="2.4"/><circle cx="855.8" cy="424.6" r="2.4"/><circle cx="866.5" cy="418.3" r="2.4"/><circle cx="877.4" cy="412.3" r="2.4"/><circle cx="888.5" cy="406.9" r="2.4"/><circle cx="899.8" cy="401.7" r="2.4"/><circle cx="907.2" cy="391.8" r="2.4"/><circle cx="910.9" cy="380.0" r="2.4"/><circle cx="914.9" cy="368.3" r="2.4"/><circle cx="918.6" cy="356.4" r="2.4"/><circle cx="922.9" cy="344.8" r="2.4"/><circle cx="926.7" cy="333.0" r="2.4"/><circle cx="938.6" cy="329.9" r="2.4"/><circle cx="951.0" cy="329.3" r="2.4"/><circle cx="963.4" cy="329.8" r="2.4"/><circle cx="975.8" cy="329.9" r="2.4"/><circle cx="985.1" cy="322.1" r="2.4"/><circle cx="990.2" cy="310.9" r="2.4"/><circle cx="997.7" cy="301.1" r="2.4"/><circle cx="1007.3" cy="293.1" r="2.4"/><circle cx="1019.0" cy="289.5" r="2.4"/><circle cx="1031.4" cy="289.4" r="2.4"/><circle cx="1043.8" cy="289.4" r="2.4"/><circle cx="1056.2" cy="289.4" r="2.4"/><circle cx="1068.5" cy="288.5" r="2.4"/><circle cx="1080.9" cy="287.9" r="2.4"/></g>
</g>
<rect x="130" y="487.7" width="952.3" height="62.30000000000001" fill="#fff"/>
<line x1="130" y1="487.7" x2="1082.3" y2="487.7" stroke="#222" stroke-width="1"/>
<rect x="130" y="177.3" width="952.3" height="372.7" fill="none" stroke="#111" stroke-width="1.6"/>
<line x1="130" y1="550" x2="1082.3" y2="550" stroke="#1a0a20" stroke-width="2.6"/>
<line x1="119" y1="177.3" x2="130" y2="177.3" stroke="#111" stroke-width="2"/>
<text x="107" y="187.3" text-anchor="end" font-size="28.5" font-weight="bold">0</text>
<line x1="119" y1="326.3" x2="130" y2="326.3" stroke="#111" stroke-width="2"/>
<text x="107" y="336.3" text-anchor="end" font-size="28.5" font-weight="bold">100</text>
<line x1="119" y1="476" x2="130" y2="476" stroke="#111" stroke-width="2"/>
<text x="107" y="486" text-anchor="end" font-size="28.5" font-weight="bold">200</text>
<line x1="123" y1="251.8" x2="130" y2="251.8" stroke="#bbb" stroke-width="1"/>
<line x1="123" y1="401.15" x2="130" y2="401.15" stroke="#bbb" stroke-width="1"/>
<line x1="123" y1="550" x2="130" y2="550" stroke="#bbb" stroke-width="1"/>
<line x1="197" y1="550" x2="197" y2="561" stroke="#111" stroke-width="2"/>
<text x="196.7" y="595" text-anchor="middle" font-size="30" font-weight="bold">40°S</text>
<line x1="395.3" y1="550" x2="395.3" y2="561" stroke="#111" stroke-width="2"/>
<text x="395.0" y="595" text-anchor="middle" font-size="30" font-weight="bold">20°S</text>
<line x1="593" y1="550" x2="593" y2="561" stroke="#111" stroke-width="2"/>
<text x="592.7" y="595" text-anchor="middle" font-size="30" font-weight="bold">EQ</text>
<line x1="791.5" y1="550" x2="791.5" y2="561" stroke="#111" stroke-width="2"/>
<text x="791.2" y="595" text-anchor="middle" font-size="30" font-weight="bold">20°N</text>
<line x1="989.5" y1="550" x2="989.5" y2="561" stroke="#111" stroke-width="2"/>
<text x="989.2" y="595" text-anchor="middle" font-size="30" font-weight="bold">40°N</text>
<line x1="296" y1="550" x2="296" y2="558" stroke="#bbb" stroke-width="1.2"/>
<line x1="494" y1="550" x2="494" y2="558" stroke="#bbb" stroke-width="1.2"/>
<line x1="692.5" y1="550" x2="692.5" y2="558" stroke="#bbb" stroke-width="1.2"/>
<line x1="890" y1="550" x2="890" y2="558" stroke="#bbb" stroke-width="1.2"/>
<text transform="translate(26.3,363.4) rotate(-90)" text-anchor="middle" font-size="35" font-weight="bold">Depth [m]</text>
<text x="1075.5" y="143.2" text-anchor="end" font-size="36.5" font-weight="bold">Nano</text>
<polygon points="1111.1,177.3 1127.6999999999998,171.3 1144.3,177.3 1144.3,550 1127.6999999999998,558 1111.1,550" fill="url(#cbgn)"/>
<linearGradient id="cbgn" x1="0" y1="550" x2="0" y2="177.3" gradientUnits="userSpaceOnUse"><stop offset="0.0" stop-color="#C27CF2"/><stop offset="0.015" stop-color="#B264F8"/><stop offset="0.04" stop-color="#9640F8"/><stop offset="0.07" stop-color="#7A30F8"/><stop offset="0.1" stop-color="#6634FC"/><stop offset="0.14" stop-color="#6046FC"/><stop offset="0.17" stop-color="#5660F8"/><stop offset="0.2" stop-color="#4C7CF4"/><stop offset="0.24" stop-color="#5090F0"/><stop offset="0.27" stop-color="#5CA4EC"/><stop offset="0.3" stop-color="#64B4E0"/><stop offset="0.32" stop-color="#6CC4C8"/><stop offset="0.345" stop-color="#72CCA8"/><stop offset="0.37" stop-color="#74D08C"/><stop offset="0.4" stop-color="#6CC86C"/><stop offset="0.42" stop-color="#66BC50"/><stop offset="0.45" stop-color="#66B040"/><stop offset="0.5" stop-color="#68AA34"/><stop offset="0.52" stop-color="#70B030"/><stop offset="0.57" stop-color="#90B830"/><stop offset="0.6" stop-color="#B0C430"/><stop offset="0.62" stop-color="#CCCC30"/><stop offset="0.66" stop-color="#E4C830"/><stop offset="0.7" stop-color="#F0C028"/><stop offset="0.74" stop-color="#E8A020"/><stop offset="0.77" stop-color="#E07C18"/><stop offset="0.8" stop-color="#D05010"/><stop offset="0.81" stop-color="#C03010"/><stop offset="0.83" stop-color="#B82028"/><stop offset="0.87" stop-color="#B82838"/><stop offset="0.9" stop-color="#C44858"/><stop offset="0.94" stop-color="#D88878"/><stop offset="0.97" stop-color="#E8A888"/><stop offset="1.0" stop-color="#F2C08C"/></linearGradient>
<line x1="1111.1" y1="177.3" x2="1119.1" y2="177.3" stroke="#111" stroke-width="2.2"/>
<line x1="1136.3" y1="177.3" x2="1144.3" y2="177.3" stroke="#111" stroke-width="2.2"/>
<text x="1153.1" y="187.3" font-size="28.5" font-weight="bold">1000</text>
<line x1="1111.1" y1="251.83999999999997" x2="1119.1" y2="251.83999999999997" stroke="#111" stroke-width="2.2"/>
<line x1="1136.3" y1="251.83999999999997" x2="1144.3" y2="251.83999999999997" stroke="#111" stroke-width="2.2"/>
<text x="1153.1" y="261.84" font-size="28.5" font-weight="bold">800</text>
<line x1="1111.1" y1="326.38" x2="1119.1" y2="326.38" stroke="#111" stroke-width="2.2"/>
<line x1="1136.3" y1="326.38" x2="1144.3" y2="326.38" stroke="#111" stroke-width="2.2"/>
<text x="1153.1" y="336.38" font-size="28.5" font-weight="bold">600</text>
<line x1="1111.1" y1="400.91999999999996" x2="1119.1" y2="400.91999999999996" stroke="#111" stroke-width="2.2"/>
<line x1="1136.3" y1="400.91999999999996" x2="1144.3" y2="400.91999999999996" stroke="#111" stroke-width="2.2"/>
<text x="1153.1" y="410.91999999999996" font-size="28.5" font-weight="bold">400</text>
<line x1="1111.1" y1="475.46" x2="1119.1" y2="475.46" stroke="#111" stroke-width="2.2"/>
<line x1="1136.3" y1="475.46" x2="1144.3" y2="475.46" stroke="#111" stroke-width="2.2"/>
<text x="1153.1" y="485.46" font-size="28.5" font-weight="bold">200</text>
<line x1="1111.1" y1="550.0" x2="1119.1" y2="550.0" stroke="#111" stroke-width="2.2"/>
<line x1="1136.3" y1="550.0" x2="1144.3" y2="550.0" stroke="#111" stroke-width="2.2"/>
<text x="1153.1" y="560.0" font-size="28.5" font-weight="bold">0</text>
<text transform="translate(1106.1,547) rotate(-90)" font-size="18" font-weight="bold">Ocean Data View</text>
<clipPath id="cpp"><rect x="130" y="689" width="954.5999999999999" height="304.79999999999995"/></clipPath>
<g clip-path="url(#cpp)"><g filter="url(#bl)">
<rect x="100" y="659" width="1014.5999999999999" height="364.79999999999995" fill="#B46BF9"/>
<path d="M105.0,669.0 L105.0,840.0 C107.5,840.0 115.8,840.0 120.0,840.0 C124.2,840.0 120.0,838.3 130.0,840.0 C140.0,841.7 166.7,843.3 180.0,850.0 C193.3,856.7 200.0,876.7 210.0,880.0 C220.0,883.3 231.7,858.3 240.0,870.0 C248.3,881.7 252.8,928.3 260.0,950.0 C267.2,971.7 246.3,991.7 283.0,1000.0 C319.7,1008.3 440.5,1006.7 480.0,1000.0 C519.5,993.3 506.7,973.3 520.0,960.0 C533.3,946.7 543.3,930.0 560.0,920.0 C576.7,910.0 596.7,903.3 620.0,900.0 C643.3,896.7 680.2,898.3 700.0,900.0 C719.8,901.7 725.7,904.2 739.0,910.0 C752.3,915.8 766.5,928.3 780.0,935.0 C793.5,941.7 803.3,945.8 820.0,950.0 C836.7,954.2 863.3,961.7 880.0,960.0 C896.7,958.3 906.7,950.0 920.0,940.0 C933.3,930.0 946.7,910.0 960.0,900.0 C973.3,890.0 986.7,883.3 1000.0,880.0 C1013.3,876.7 1025.8,881.7 1040.0,880.0 C1054.2,878.3 1075.5,871.7 1085.0,870.0 C1094.5,868.3 1092.8,870.0 1097.0,870.0 C1101.2,870.0 1107.8,870.0 1110.0,870.0 L1110.0,669.0 Z" fill="#A65CF8"/>
<path d="M105.0,669.0 L105.0,822.0 C107.5,822.0 115.8,822.0 120.0,822.0 C124.2,822.0 123.3,823.2 130.0,822.0 C136.7,820.8 150.8,815.3 160.0,815.0 C169.2,814.7 178.7,815.0 185.0,820.0 C191.3,825.0 194.7,837.0 198.0,845.0 C201.3,853.0 202.7,868.0 205.0,868.0 C207.3,868.0 208.7,852.7 212.0,845.0 C215.3,837.3 220.3,825.2 225.0,822.0 C229.7,818.8 235.8,818.0 240.0,826.0 C244.2,834.0 247.0,855.2 250.0,870.0 C253.0,884.8 255.0,901.7 258.0,915.0 C261.0,928.3 263.8,940.0 268.0,950.0 C272.2,960.0 277.7,968.3 283.0,975.0 C288.3,981.7 277.2,986.2 300.0,990.0 C322.8,993.8 395.0,998.8 420.0,998.0 C445.0,997.2 440.0,990.5 450.0,985.0 C460.0,979.5 470.0,973.3 480.0,965.0 C490.0,956.7 499.8,945.0 510.0,935.0 C520.2,925.0 531.0,913.3 541.0,905.0 C551.0,896.7 558.5,889.5 570.0,885.0 C581.5,880.5 596.7,878.5 610.0,878.0 C623.3,877.5 635.0,882.0 650.0,882.0 C665.0,882.0 685.2,879.7 700.0,878.0 C714.8,876.3 729.0,868.3 739.0,872.0 C749.0,875.7 751.5,892.0 760.0,900.0 C768.5,908.0 778.3,914.2 790.0,920.0 C801.7,925.8 816.7,930.8 830.0,935.0 C843.3,939.2 856.7,945.8 870.0,945.0 C883.3,944.2 898.3,937.5 910.0,930.0 C921.7,922.5 930.0,910.0 940.0,900.0 C950.0,890.0 960.0,879.2 970.0,870.0 C980.0,860.8 994.2,851.7 1000.0,845.0 C1005.8,838.3 1000.0,833.8 1005.0,830.0 C1010.0,826.2 1020.8,822.3 1030.0,822.0 C1039.2,821.7 1050.8,827.5 1060.0,828.0 C1069.2,828.5 1078.8,825.5 1085.0,825.0 C1091.2,824.5 1092.8,825.0 1097.0,825.0 C1101.2,825.0 1107.8,825.0 1110.0,825.0 L1110.0,669.0 Z" fill="#6A3CF9"/>
<path d="M283.0,689.0 C293.3,653.8 333.8,680.5 345.0,689.0 C356.2,697.5 352.5,723.2 350.0,740.0 C347.5,756.8 335.8,779.2 330.0,790.0 C324.2,800.8 317.0,793.3 315.0,805.0 C313.0,816.7 320.5,844.2 318.0,860.0 C315.5,875.8 305.8,893.3 300.0,900.0 C294.2,906.7 285.8,935.2 283.0,900.0 C280.2,864.8 272.7,724.2 283.0,689.0 Z" fill="#5A5AF6"/>
<path d="M376.0,892.0 C383.3,885.3 404.3,883.7 420.0,880.0 C435.7,876.3 458.5,870.0 470.0,870.0 C481.5,870.0 486.5,870.0 489.0,880.0 C491.5,890.0 488.2,917.5 485.0,930.0 C481.8,942.5 479.2,950.3 470.0,955.0 C460.8,959.7 443.3,959.7 430.0,958.0 C416.7,956.3 399.0,951.3 390.0,945.0 C381.0,938.7 378.3,928.8 376.0,920.0 C373.7,911.2 368.7,898.7 376.0,892.0 Z" fill="#5A5AF6"/>
<path d="M470.0,689.0 C514.8,680.5 693.2,683.8 739.0,689.0 C784.8,694.2 745.7,710.7 745.0,720.0 C744.3,729.3 742.5,740.8 735.0,745.0 C727.5,749.2 709.2,746.7 700.0,745.0 C690.8,743.3 690.0,735.0 680.0,735.0 C670.0,735.0 650.0,740.8 640.0,745.0 C630.0,749.2 626.7,756.7 620.0,760.0 C613.3,763.3 610.0,760.0 600.0,765.0 C590.0,770.0 573.3,782.5 560.0,790.0 C546.7,797.5 530.0,801.7 520.0,810.0 C510.0,818.3 506.7,830.0 500.0,840.0 C493.3,850.0 485.0,866.7 480.0,870.0 C475.0,873.3 470.3,871.7 470.0,860.0 C469.7,848.3 478.0,820.0 478.0,800.0 C478.0,780.0 471.3,758.5 470.0,740.0 C468.7,721.5 425.2,697.5 470.0,689.0 Z" fill="#5A5AF6"/>
<path d="M915.0,735.0 C921.7,727.5 940.0,729.2 950.0,725.0 C960.0,720.8 970.0,704.2 975.0,710.0 C980.0,715.8 982.5,745.0 980.0,760.0 C977.5,775.0 966.7,786.7 960.0,800.0 C953.3,813.3 947.5,826.7 940.0,840.0 C932.5,853.3 922.5,875.0 915.0,880.0 C907.5,885.0 897.5,880.0 895.0,870.0 C892.5,860.0 897.5,836.7 900.0,820.0 C902.5,803.3 907.5,784.2 910.0,770.0 C912.5,755.8 908.3,742.5 915.0,735.0 Z" fill="#5A5AF6"/>
<path d="M739.0,800.0 C744.0,788.3 769.8,786.7 780.0,790.0 C790.2,793.3 795.0,808.3 800.0,820.0 C805.0,831.7 810.0,848.0 810.0,860.0 C810.0,872.0 806.7,887.8 800.0,892.0 C793.3,896.2 778.3,890.3 770.0,885.0 C761.7,879.7 755.2,874.2 750.0,860.0 C744.8,845.8 734.0,811.7 739.0,800.0 Z" fill="#5A5AF6"/>
<path d="M318.0,805.0 C325.5,795.0 338.0,798.3 345.0,800.0 C352.0,801.7 356.2,805.0 360.0,815.0 C363.8,825.0 366.8,842.5 368.0,860.0 C369.2,877.5 370.0,906.3 367.0,920.0 C364.0,933.7 357.8,938.3 350.0,942.0 C342.2,945.7 328.3,945.7 320.0,942.0 C311.7,938.3 303.3,933.7 300.0,920.0 C296.7,906.3 297.0,879.2 300.0,860.0 C303.0,840.8 310.5,815.0 318.0,805.0 Z" fill="#4E82F2"/>
<path d="M525.0,689.0 C538.3,677.2 595.8,680.5 610.0,689.0 C624.2,697.5 616.7,726.5 610.0,740.0 C603.3,753.5 583.3,766.7 570.0,770.0 C556.7,773.3 537.5,773.5 530.0,760.0 C522.5,746.5 511.7,700.8 525.0,689.0 Z" fill="#4E82F2"/>
<path d="M434.0,925.0 C431.8,919.0 432.2,898.3 440.0,886.0 C447.8,873.7 472.2,865.2 481.0,851.0 C489.8,836.8 488.0,811.3 493.0,801.0 C498.0,790.7 504.3,791.7 511.0,789.0 C517.7,786.3 524.5,787.3 533.0,785.0 C541.5,782.7 552.2,780.0 562.0,775.0 C571.8,770.0 582.3,757.8 592.0,755.0 C601.7,752.2 612.0,757.5 620.0,758.0 C628.0,758.5 633.3,760.0 640.0,758.0 C646.7,756.0 652.5,751.3 660.0,746.0 C667.5,740.7 674.8,727.0 685.0,726.0 C695.2,725.0 713.7,733.5 721.0,740.0 C728.3,746.5 725.7,758.2 729.0,765.0 C732.3,771.8 735.7,777.0 741.0,781.0 C746.3,785.0 756.3,784.0 761.0,789.0 C765.7,794.0 765.5,805.0 769.0,811.0 C772.5,817.0 779.5,819.0 782.0,825.0 C784.5,831.0 785.5,842.3 784.0,847.0 C782.5,851.7 776.8,855.7 773.0,853.0 C769.2,850.3 766.3,834.7 761.0,831.0 C755.7,827.3 747.7,832.7 741.0,831.0 C734.3,829.3 731.0,823.3 721.0,821.0 C711.0,818.7 694.5,817.0 681.0,817.0 C667.5,817.0 651.8,819.0 640.0,821.0 C628.2,823.0 617.7,826.7 610.0,829.0 C602.3,831.3 602.0,833.0 594.0,835.0 C586.0,837.0 572.2,837.7 562.0,841.0 C551.8,844.3 544.5,851.5 533.0,855.0 C521.5,858.5 505.0,855.8 493.0,862.0 C481.0,868.2 467.7,882.0 461.0,892.0 C454.3,902.0 457.5,916.5 453.0,922.0 C448.5,927.5 436.2,931.0 434.0,925.0 Z" fill="#4E82F2"/>
<path d="M925.0,770.0 C931.7,765.0 950.0,760.0 960.0,760.0 C970.0,760.0 978.3,765.0 985.0,770.0 C991.7,775.0 996.7,785.0 1000.0,790.0 C1003.3,795.0 1005.0,792.5 1005.0,800.0 C1005.0,807.5 1003.3,828.3 1000.0,835.0 C996.7,841.7 991.7,840.8 985.0,840.0 C978.3,839.2 968.3,835.0 960.0,830.0 C951.7,825.0 941.7,816.7 935.0,810.0 C928.3,803.3 921.7,796.7 920.0,790.0 C918.3,783.3 918.3,775.0 925.0,770.0 Z" fill="#4E82F2"/>
<path d="M905.0,820.0 C907.5,809.5 920.0,810.0 925.0,815.0 C930.0,820.0 935.0,839.2 935.0,850.0 C935.0,860.8 929.2,875.3 925.0,880.0 C920.8,884.7 913.3,888.0 910.0,878.0 C906.7,868.0 902.5,830.5 905.0,820.0 Z" fill="#4E82F2"/>
<path d="M1005.0,669.0 L1005.0,815.0 C1009.2,814.5 1020.8,812.8 1030.0,812.0 C1039.2,811.2 1050.8,810.7 1060.0,810.0 C1069.2,809.3 1078.8,808.3 1085.0,808.0 C1091.2,807.7 1092.8,808.0 1097.0,808.0 C1101.2,808.0 1107.8,808.0 1110.0,808.0 L1110.0,669.0 Z" fill="#4E82F2"/>
<path d="M462.0,895.0 C462.8,892.0 474.8,872.7 480.0,862.0 C485.2,851.3 490.2,841.2 493.0,831.0 C495.8,820.8 490.3,808.0 497.0,801.0 C503.7,794.0 522.2,793.0 533.0,789.0 C543.8,785.0 551.2,781.5 562.0,777.0 C572.8,772.5 588.3,764.2 598.0,762.0 C607.7,759.8 613.0,764.0 620.0,764.0 C627.0,764.0 633.0,764.3 640.0,762.0 C647.0,759.7 654.5,754.8 662.0,750.0 C669.5,745.2 675.7,734.0 685.0,733.0 C694.3,732.0 710.8,738.5 718.0,744.0 C725.2,749.5 724.0,759.5 728.0,766.0 C732.0,772.5 737.0,778.5 742.0,783.0 C747.0,787.5 753.8,788.0 758.0,793.0 C762.2,798.0 767.5,807.3 767.0,813.0 C766.5,818.7 759.7,825.0 755.0,827.0 C750.3,829.0 748.2,826.5 739.0,825.0 C729.8,823.5 713.2,819.7 700.0,818.0 C686.8,816.3 673.3,815.0 660.0,815.0 C646.7,815.0 630.0,816.5 620.0,818.0 C610.0,819.5 609.7,821.7 600.0,824.0 C590.3,826.3 572.5,827.3 562.0,832.0 C551.5,836.7 547.8,847.8 537.0,852.0 C526.2,856.2 507.3,852.3 497.0,857.0 C486.7,861.7 480.8,873.7 475.0,880.0 C469.2,886.3 461.2,898.0 462.0,895.0 Z" fill="#5EA6EA"/>
<ellipse cx="955" cy="795" rx="25" ry="30" fill="#5EA6EA"/>
<ellipse cx="950" cy="780" rx="30" ry="22" fill="#5EA6EA"/>
<path d="M475.0,878.0 C473.3,876.0 485.8,859.3 490.0,850.0 C494.2,840.7 495.0,830.3 500.0,822.0 C505.0,813.7 512.5,805.7 520.0,800.0 C527.5,794.3 536.7,791.3 545.0,788.0 C553.3,784.7 560.8,782.7 570.0,780.0 C579.2,777.3 590.8,774.3 600.0,772.0 C609.2,769.7 616.7,768.7 625.0,766.0 C633.3,763.3 640.8,760.0 650.0,756.0 C659.2,752.0 670.0,744.3 680.0,742.0 C690.0,739.7 701.3,739.0 710.0,742.0 C718.7,745.0 726.2,752.8 732.0,760.0 C737.8,767.2 742.3,777.5 745.0,785.0 C747.7,792.5 749.7,800.0 748.0,805.0 C746.3,810.0 743.0,813.5 735.0,815.0 C727.0,816.5 712.5,814.5 700.0,814.0 C687.5,813.5 672.5,811.7 660.0,812.0 C647.5,812.3 634.2,813.3 625.0,816.0 C615.8,818.7 612.5,825.0 605.0,828.0 C597.5,831.0 588.3,832.3 580.0,834.0 C571.7,835.7 561.5,836.2 555.0,838.0 C548.5,839.8 546.8,842.2 541.0,845.0 C535.2,847.8 526.8,852.2 520.0,855.0 C513.2,857.8 507.5,858.2 500.0,862.0 C492.5,865.8 476.7,880.0 475.0,878.0 Z" fill="#6CC4C0"/>
<path d="M492.0,858.0 C491.2,853.5 496.2,842.2 500.0,835.0 C503.8,827.8 509.2,821.3 515.0,815.0 C520.8,808.7 528.3,802.3 535.0,797.0 C541.7,791.7 547.5,786.7 555.0,783.0 C562.5,779.3 572.5,777.0 580.0,775.0 C587.5,773.0 592.5,772.7 600.0,771.0 C607.5,769.3 616.7,767.8 625.0,765.0 C633.3,762.2 640.8,757.0 650.0,754.0 C659.2,751.0 670.0,748.2 680.0,747.0 C690.0,745.8 701.2,743.5 710.0,747.0 C718.8,750.5 727.5,760.8 733.0,768.0 C738.5,775.2 742.2,783.8 743.0,790.0 C743.8,796.2 741.0,801.7 738.0,805.0 C735.0,808.3 731.3,809.5 725.0,810.0 C718.7,810.5 709.2,808.3 700.0,808.0 C690.8,807.7 680.0,807.7 670.0,808.0 C660.0,808.3 649.2,808.0 640.0,810.0 C630.8,812.0 621.7,816.3 615.0,820.0 C608.3,823.7 605.8,829.3 600.0,832.0 C594.2,834.7 587.5,834.7 580.0,836.0 C572.5,837.3 561.5,838.5 555.0,840.0 C548.5,841.5 546.8,842.8 541.0,845.0 C535.2,847.2 526.0,850.2 520.0,853.0 C514.0,855.8 509.7,861.2 505.0,862.0 C500.3,862.8 492.8,862.5 492.0,858.0 Z" fill="#66AE3A"/>
<path d="M630.0,790.0 C630.0,785.0 642.5,776.3 650.0,770.0 C657.5,763.7 666.7,755.7 675.0,752.0 C683.3,748.3 691.2,746.7 700.0,748.0 C708.8,749.3 721.7,753.8 728.0,760.0 C734.3,766.2 737.3,777.5 738.0,785.0 C738.7,792.5 736.7,801.8 732.0,805.0 C727.3,808.2 718.7,804.8 710.0,804.0 C701.3,803.2 690.0,800.7 680.0,800.0 C670.0,799.3 658.3,801.7 650.0,800.0 C641.7,798.3 630.0,795.0 630.0,790.0 Z" fill="#A8C030"/>
<path d="M645.0,788.0 C645.0,783.3 654.2,775.7 660.0,770.0 C665.8,764.3 673.3,757.3 680.0,754.0 C686.7,750.7 692.5,749.0 700.0,750.0 C707.5,751.0 719.5,755.0 725.0,760.0 C730.5,765.0 732.2,773.3 733.0,780.0 C733.8,786.7 733.8,796.7 730.0,800.0 C726.2,803.3 716.7,800.8 710.0,800.0 C703.3,799.2 698.3,795.3 690.0,795.0 C681.7,794.7 667.5,799.2 660.0,798.0 C652.5,796.8 645.0,792.7 645.0,788.0 Z" fill="#EEC42C"/>
<path d="M666.0,770.0 C666.8,764.5 674.3,755.7 680.0,752.0 C685.7,748.3 693.3,747.5 700.0,748.0 C706.7,748.5 715.8,750.5 720.0,755.0 C724.2,759.5 725.8,770.0 725.0,775.0 C724.2,780.0 720.0,783.8 715.0,785.0 C710.0,786.2 701.7,782.0 695.0,782.0 C688.3,782.0 679.8,787.0 675.0,785.0 C670.2,783.0 665.2,775.5 666.0,770.0 Z" fill="#C0262A"/>
<path d="M680.0,768.0 C679.7,764.7 683.8,758.3 688.0,756.0 C692.2,753.7 701.0,752.5 705.0,754.0 C709.0,755.5 712.0,761.5 712.0,765.0 C712.0,768.5 708.7,773.2 705.0,775.0 C701.3,776.8 694.2,777.2 690.0,776.0 C685.8,774.8 680.3,771.3 680.0,768.0 Z" fill="#F2C08C"/>
<path d="M105.0,669.0 L105.0,817.0 C107.5,817.0 115.8,817.0 120.0,817.0 C124.2,817.0 125.0,819.3 130.0,817.0 C135.0,814.7 143.3,806.7 150.0,803.0 C156.7,799.3 163.3,795.8 170.0,795.0 C176.7,794.2 185.3,792.2 190.0,798.0 C194.7,803.8 195.5,821.3 198.0,830.0 C200.5,838.7 202.7,850.8 205.0,850.0 C207.3,849.2 208.7,832.5 212.0,825.0 C215.3,817.5 220.3,807.8 225.0,805.0 C229.7,802.2 235.8,802.2 240.0,808.0 C244.2,813.8 247.0,828.0 250.0,840.0 C253.0,852.0 255.3,865.8 258.0,880.0 C260.7,894.2 263.2,913.3 266.0,925.0 C268.8,936.7 272.2,944.5 275.0,950.0 C277.8,955.5 280.2,959.7 283.0,958.0 C285.8,956.3 290.5,984.8 292.0,940.0 C293.5,895.2 292.0,730.8 292.0,689.0 L292.0,669.0 Z" fill="#6A3CF9"/>
<path d="M105.0,669.0 L105.0,805.0 C107.5,805.0 115.8,805.0 120.0,805.0 C124.2,805.0 125.0,807.2 130.0,805.0 C135.0,802.8 143.3,795.2 150.0,792.0 C156.7,788.8 163.3,786.5 170.0,786.0 C176.7,785.5 185.3,783.7 190.0,789.0 C194.7,794.3 195.5,809.8 198.0,818.0 C200.5,826.2 202.7,838.5 205.0,838.0 C207.3,837.5 208.7,821.7 212.0,815.0 C215.3,808.3 220.3,800.5 225.0,798.0 C229.7,795.5 235.8,795.5 240.0,800.0 C244.2,804.5 247.0,815.0 250.0,825.0 C253.0,835.0 255.3,846.7 258.0,860.0 C260.7,873.3 263.2,892.5 266.0,905.0 C268.8,917.5 272.2,928.3 275.0,935.0 C277.8,941.7 280.2,947.5 283.0,945.0 C285.8,942.5 290.5,962.7 292.0,920.0 C293.5,877.3 292.0,727.5 292.0,689.0 L292.0,669.0 Z" fill="#5A5AF6"/>
<path d="M105.0,669.0 L105.0,790.0 C107.5,790.0 115.8,790.0 120.0,790.0 C124.2,790.0 125.0,791.3 130.0,790.0 C135.0,788.7 143.3,784.2 150.0,782.0 C156.7,779.8 163.3,777.3 170.0,777.0 C176.7,776.7 185.3,775.3 190.0,780.0 C194.7,784.7 195.5,797.5 198.0,805.0 C200.5,812.5 202.7,825.0 205.0,825.0 C207.3,825.0 208.7,810.8 212.0,805.0 C215.3,799.2 220.3,792.2 225.0,790.0 C229.7,787.8 235.8,788.3 240.0,792.0 C244.2,795.7 247.0,804.0 250.0,812.0 C253.0,820.0 255.3,830.3 258.0,840.0 C260.7,849.7 263.2,862.5 266.0,870.0 C268.8,877.5 272.2,883.3 275.0,885.0 C277.8,886.7 280.5,885.8 283.0,880.0 C285.5,874.2 288.5,881.8 290.0,850.0 C291.5,818.2 291.7,715.8 292.0,689.0 L292.0,669.0 Z" fill="#4E82F2"/>
<path d="M105.0,669.0 L105.0,778.0 C107.5,778.0 115.8,778.0 120.0,778.0 C124.2,778.0 125.0,779.0 130.0,778.0 C135.0,777.0 143.3,773.7 150.0,772.0 C156.7,770.3 163.3,768.0 170.0,768.0 C176.7,768.0 185.3,767.5 190.0,772.0 C194.7,776.5 195.5,788.3 198.0,795.0 C200.5,801.7 202.7,811.5 205.0,812.0 C207.3,812.5 208.7,802.0 212.0,798.0 C215.3,794.0 220.3,789.7 225.0,788.0 C229.7,786.3 235.8,786.3 240.0,788.0 C244.2,789.7 246.3,794.0 250.0,798.0 C253.7,802.0 257.8,809.7 262.0,812.0 C266.2,814.3 271.5,813.2 275.0,812.0 C278.5,810.8 281.2,825.5 283.0,805.0 C284.8,784.5 285.5,708.3 286.0,689.0 L286.0,669.0 Z" fill="#5EA6EA"/>
<path d="M105.0,669.0 L105.0,770.0 C107.5,770.0 115.8,770.0 120.0,770.0 C124.2,770.0 125.0,770.8 130.0,770.0 C135.0,769.2 143.3,766.5 150.0,765.0 C156.7,763.5 164.2,761.2 170.0,761.0 C175.8,760.8 180.8,761.2 185.0,764.0 C189.2,766.8 191.7,772.0 195.0,778.0 C198.3,784.0 202.2,798.3 205.0,800.0 C207.8,801.7 209.2,792.0 212.0,788.0 C214.8,784.0 218.2,777.3 222.0,776.0 C225.8,774.7 230.3,777.7 235.0,780.0 C239.7,782.3 245.5,786.7 250.0,790.0 C254.5,793.3 258.3,800.0 262.0,800.0 C265.7,800.0 269.3,795.0 272.0,790.0 C274.7,785.0 276.5,786.8 278.0,770.0 C279.5,753.2 280.5,702.5 281.0,689.0 L281.0,669.0 Z" fill="#6CC4C0"/>
<path d="M218.0,689.0 C227.8,673.5 268.8,672.2 279.0,689.0 C289.2,705.8 281.3,771.5 279.0,790.0 C276.7,808.5 269.8,799.2 265.0,800.0 C260.2,800.8 254.2,798.0 250.0,795.0 C245.8,792.0 243.3,782.5 240.0,782.0 C236.7,781.5 233.3,792.0 230.0,792.0 C226.7,792.0 222.0,799.2 220.0,782.0 C218.0,764.8 208.2,704.5 218.0,689.0 Z" fill="#66AE3A"/>
<path d="M236.0,689.0 C241.0,676.3 262.7,675.5 268.0,689.0 C273.3,702.5 269.7,753.2 268.0,770.0 C266.3,786.8 261.8,788.3 258.0,790.0 C254.2,791.7 248.3,784.2 245.0,780.0 C241.7,775.8 239.5,780.2 238.0,765.0 C236.5,749.8 231.0,701.7 236.0,689.0 Z" fill="#A8C030"/>
<path d="M236.0,689.0 C239.3,677.5 254.3,677.2 258.0,689.0 C261.7,700.8 259.0,745.2 258.0,760.0 C257.0,774.8 254.3,776.0 252.0,778.0 C249.7,780.0 246.3,775.3 244.0,772.0 C241.7,768.7 239.3,771.8 238.0,758.0 C236.7,744.2 232.7,700.5 236.0,689.0 Z" fill="#EEC42C"/>
<path d="M216.0,689.0 C217.2,675.5 224.3,676.3 226.0,689.0 C227.7,701.7 227.2,751.5 226.0,765.0 C224.8,778.5 220.7,782.7 219.0,770.0 C217.3,757.3 214.8,702.5 216.0,689.0 Z" fill="#EEC42C"/>
<path d="M211.0,689.0 C213.0,679.7 220.2,678.0 222.0,689.0 C223.8,700.0 223.2,742.8 222.0,755.0 C220.8,767.2 217.0,763.7 215.0,762.0 C213.0,760.3 210.7,757.2 210.0,745.0 C209.3,732.8 209.0,698.3 211.0,689.0 Z" fill="#C0262A"/>
<path d="M232.0,689.0 C233.8,680.5 241.2,680.5 243.0,689.0 C244.8,697.5 244.0,730.2 243.0,740.0 C242.0,749.8 238.8,748.0 237.0,748.0 C235.2,748.0 232.8,749.8 232.0,740.0 C231.2,730.2 230.2,697.5 232.0,689.0 Z" fill="#C0262A"/>
<path d="M224.0,689.0 C225.5,677.2 231.5,677.2 233.0,689.0 C234.5,700.8 233.8,743.2 233.0,760.0 C232.2,776.8 229.5,790.0 228.0,790.0 C226.5,790.0 224.7,776.8 224.0,760.0 C223.3,743.2 222.5,700.8 224.0,689.0 Z" fill="#6CC4C0"/>
<path d="M105.0,669.0 L105.0,770.0 C107.5,770.0 115.8,770.0 120.0,770.0 C124.2,770.0 126.7,771.0 130.0,770.0 C133.3,769.0 136.5,766.8 140.0,764.0 C143.5,761.2 146.0,754.3 151.0,753.0 C156.0,751.7 165.0,756.3 170.0,756.0 C175.0,755.7 176.8,752.8 181.0,751.0 C185.2,749.2 191.0,744.7 195.0,745.0 C199.0,745.3 202.5,750.0 205.0,753.0 C207.5,756.0 208.5,765.2 210.0,763.0 C211.5,760.8 213.3,752.3 214.0,740.0 C214.7,727.7 214.0,697.5 214.0,689.0 L214.0,669.0 Z" fill="#C0262A"/>
<path d="M105.0,669.0 L105.0,766.0 C107.5,766.0 115.8,766.0 120.0,766.0 C124.2,766.0 126.7,767.0 130.0,766.0 C133.3,765.0 136.5,763.0 140.0,760.0 C143.5,757.0 146.0,749.3 151.0,748.0 C156.0,746.7 165.0,752.3 170.0,752.0 C175.0,751.7 176.8,748.0 181.0,746.0 C185.2,744.0 191.3,740.0 195.0,740.0 C198.7,740.0 200.7,743.3 203.0,746.0 C205.3,748.7 207.5,757.0 209.0,756.0 C210.5,755.0 211.5,751.2 212.0,740.0 C212.5,728.8 212.0,697.5 212.0,689.0 L212.0,669.0 Z" fill="#F2C08C"/>
<path d="M975.0,689.0 C978.3,683.8 989.5,680.5 992.0,689.0 C994.5,697.5 992.0,727.3 990.0,740.0 C988.0,752.7 983.3,761.7 980.0,765.0 C976.7,768.3 971.3,767.5 970.0,760.0 C968.7,752.5 971.2,731.8 972.0,720.0 C972.8,708.2 971.7,694.2 975.0,689.0 Z" fill="#4E82F2"/>
<path d="M988.0,669.0 L988.0,689.0 C987.7,697.5 985.7,723.2 986.0,740.0 C986.3,756.8 986.8,779.2 990.0,790.0 C993.2,800.8 998.3,803.3 1005.0,805.0 C1011.7,806.7 1020.8,801.7 1030.0,800.0 C1039.2,798.3 1050.8,796.3 1060.0,795.0 C1069.2,793.7 1078.8,792.5 1085.0,792.0 C1091.2,791.5 1092.8,792.0 1097.0,792.0 C1101.2,792.0 1107.8,792.0 1110.0,792.0 L1110.0,669.0 Z" fill="#6CC4C0"/>
<path d="M997.0,669.0 L997.0,689.0 C996.7,697.5 995.0,726.2 995.0,740.0 C995.0,753.8 994.8,764.0 997.0,772.0 C999.2,780.0 1002.5,785.8 1008.0,788.0 C1013.5,790.2 1021.3,786.3 1030.0,785.0 C1038.7,783.7 1050.8,781.2 1060.0,780.0 C1069.2,778.8 1078.8,778.3 1085.0,778.0 C1091.2,777.7 1092.8,778.0 1097.0,778.0 C1101.2,778.0 1107.8,778.0 1110.0,778.0 L1110.0,669.0 Z" fill="#66AE3A"/>
<path d="M1049.0,689.0 C1050.8,677.2 1058.2,676.3 1060.0,689.0 C1061.8,701.7 1061.3,751.8 1060.0,765.0 C1058.7,778.2 1053.8,768.8 1052.0,768.0 C1050.2,767.2 1049.5,773.2 1049.0,760.0 C1048.5,746.8 1047.2,700.8 1049.0,689.0 Z" fill="#A8C030"/>
<path d="M985.0,765.0 C986.7,759.2 995.5,755.0 1000.0,755.0 C1004.5,755.0 1009.5,760.0 1012.0,765.0 C1014.5,770.0 1016.2,780.0 1015.0,785.0 C1013.8,790.0 1009.2,794.2 1005.0,795.0 C1000.8,795.8 993.3,795.0 990.0,790.0 C986.7,785.0 983.3,770.8 985.0,765.0 Z" fill="#EEC42C"/>
<path d="M1056.0,689.0 C1057.2,676.2 1062.7,676.2 1064.0,689.0 C1065.3,701.8 1065.2,753.2 1064.0,766.0 C1062.8,778.8 1058.3,778.8 1057.0,766.0 C1055.7,753.2 1054.8,701.8 1056.0,689.0 Z" fill="#EEC42C"/>
<path d="M992.0,772.0 C992.3,767.7 997.3,764.0 1000.0,764.0 C1002.7,764.0 1006.7,768.3 1008.0,772.0 C1009.3,775.7 1009.7,783.0 1008.0,786.0 C1006.3,789.0 1000.7,792.3 998.0,790.0 C995.3,787.7 991.7,776.3 992.0,772.0 Z" fill="#E48A20"/>
<path d="M1058.0,689.0 C1059.7,675.2 1068.0,675.2 1070.0,689.0 C1072.0,702.8 1071.7,758.2 1070.0,772.0 C1068.3,785.8 1062.0,785.8 1060.0,772.0 C1058.0,758.2 1056.3,702.8 1058.0,689.0 Z" fill="#C0262A"/>
<path d="M1067.0,689.0 C1070.5,676.2 1086.2,676.2 1090.0,689.0 C1093.8,701.8 1093.5,753.2 1090.0,766.0 C1086.5,778.8 1072.8,778.8 1069.0,766.0 C1065.2,753.2 1063.5,701.8 1067.0,689.0 Z" fill="#F2C08C"/>
</g>
<g filter="url(#bl2)" fill="none" stroke-linejoin="round" stroke-linecap="round">
<path d="M125.0,768.2 C125.8,768.2 127.5,769.2 130.0,768.2 C132.5,767.2 136.5,765.2 140.0,762.2 C143.5,759.2 146.0,751.5 151.0,750.2 C156.0,748.9 165.0,754.5 170.0,754.2 C175.0,753.9 176.8,750.2 181.0,748.2 C185.2,746.2 191.3,742.2 195.0,742.2 C198.7,742.2 200.7,745.5 203.0,748.2 C205.3,750.9 207.5,759.2 209.0,758.2 C210.5,757.2 211.5,753.4 212.0,742.2 C212.5,731.0 212.0,699.7 212.0,691.2" stroke="#C0262A" stroke-width="2.6"/>
<path d="M1066.0,689.0 C1066.2,695.8 1066.7,717.2 1067.0,730.0 C1067.3,742.8 1064.2,759.7 1068.0,766.0 C1071.8,772.3 1086.3,767.7 1090.0,768.0" stroke="#C0262A" stroke-width="2.6"/>
</g>
<polygon points="130.0,897.0 145.0,897.0 145.0,895.0 175.0,895.0 175.0,893.0 190.0,893.0 190.0,895.0 235.0,895.0 240.0,893.0 246.0,891.0 252.0,891.0 252.0,912.0 230.0,912.0 230.0,910.0 180.0,910.0 180.0,912.0 140.0,912.0 140.0,915.0 130.0,915.0" fill="#FFFFFF"/>
<line x1="197" y1="689" x2="197" y2="993.8" stroke="#555" stroke-width="0.7" opacity="0.6"/>
<line x1="395.3" y1="689" x2="395.3" y2="993.8" stroke="#555" stroke-width="0.7" opacity="0.6"/>
<line x1="593" y1="689" x2="593" y2="993.8" stroke="#555" stroke-width="0.7" opacity="0.6"/>
<line x1="791.5" y1="689" x2="791.5" y2="993.8" stroke="#555" stroke-width="0.7" opacity="0.6"/>
<line x1="989.5" y1="689" x2="989.5" y2="993.8" stroke="#555" stroke-width="0.7" opacity="0.6"/>
<line x1="130" y1="834.6" x2="1084.6" y2="834.6" stroke="#555" stroke-width="0.7" opacity="0.6"/>
<line x1="130" y1="980.5" x2="1084.6" y2="980.5" stroke="#555" stroke-width="0.7" opacity="0.6"/>
<path d="M131.0,740.5 C132.7,739.5 138.1,737.1 141.1,734.4 C144.2,731.7 146.5,726.2 149.2,724.4 C151.9,722.5 154.6,722.7 157.3,723.3 C159.9,724.0 161.3,727.2 165.3,728.4 C169.4,729.6 178.4,736.8 181.5,730.4 C184.5,724.0 183.1,696.8 183.5,690.1" fill="none" stroke="#111" stroke-width="1.5"/>
<path d="M131.0,766.7 C133.4,765.5 141.8,761.3 145.2,759.6 C148.5,758.0 147.8,756.4 151.2,756.6 C154.6,756.8 160.3,761.0 165.3,760.6 C170.4,760.3 177.8,756.6 181.5,754.6 C185.1,752.6 185.1,749.9 187.5,748.5 C189.9,747.2 193.2,745.5 195.6,746.5 C197.9,747.5 199.9,749.9 201.6,754.6 C203.3,759.3 204.3,769.4 205.6,774.8 C207.0,780.1 208.0,787.2 209.7,786.9 C211.4,786.5 213.0,776.4 215.7,772.7 C218.4,769.0 222.8,765.3 225.8,764.7 C228.8,764.0 231.9,766.7 233.9,768.7 C235.9,770.7 235.9,774.1 237.9,776.8 C239.9,779.5 243.3,783.5 246.0,784.8 C248.7,786.2 250.7,785.5 254.0,784.8 C257.4,784.2 263.4,782.8 266.1,780.8 C268.8,778.8 269.2,787.9 270.2,772.7 C271.2,757.6 271.8,703.9 272.2,690.1" fill="none" stroke="#111" stroke-width="1.5"/>
<path d="M131.0,796.9 C133.4,795.3 141.1,790.2 145.2,786.9 C149.2,783.5 151.9,777.8 155.2,776.8 C158.6,775.8 162.0,778.8 165.3,780.8 C168.7,782.8 172.0,789.9 175.4,788.9 C178.8,787.9 182.5,776.8 185.5,774.8 C188.5,772.7 191.5,773.8 193.5,776.8 C195.6,779.8 195.9,788.2 197.6,792.9 C199.3,797.6 201.6,803.7 203.6,805.0 C205.6,806.3 207.3,804.0 209.7,801.0 C212.0,797.9 214.4,789.9 217.7,786.9 C221.1,783.8 226.5,781.1 229.8,782.8 C233.2,784.5 234.5,793.2 237.9,796.9 C241.3,800.6 246.6,804.3 250.0,805.0 C253.4,805.7 255.4,803.0 258.1,801.0 C260.8,799.0 263.4,795.6 266.1,792.9 C268.8,790.2 272.2,801.6 274.2,784.8 C276.2,768.0 277.6,707.6 278.2,692.1" fill="none" stroke="#111" stroke-width="1.5"/>
<path d="M131.0,817.1 C133.4,816.4 141.8,818.4 145.2,813.1 C148.5,807.7 147.8,789.9 151.2,784.8 C154.6,779.8 161.0,782.0 165.3,782.8 C169.7,783.7 174.4,790.9 177.4,789.9 C180.4,788.9 181.1,778.3 183.5,776.8 C185.8,775.3 188.8,774.8 191.5,780.8 C194.2,786.9 196.9,802.0 199.6,813.1 C202.3,824.2 205.3,846.0 207.7,847.3 C210.0,848.7 211.7,830.2 213.7,821.1 C215.7,812.1 216.4,796.9 219.8,792.9 C223.1,788.9 230.2,792.2 233.9,796.9 C237.6,801.6 239.2,813.1 241.9,821.1 C244.6,829.2 246.6,839.9 250.0,845.3 C253.4,850.7 257.4,853.1 262.1,853.4 C266.8,853.7 274.5,848.7 278.2,847.3 C281.9,846.0 283.3,845.7 284.3,845.3" fill="none" stroke="#111" stroke-width="1.5"/>
<path d="M250.0,911.9 C251.3,914.9 255.4,925.3 258.1,930.0 C260.8,934.7 262.8,938.1 266.1,940.1 C269.5,942.1 273.5,942.4 278.2,942.1 C282.9,941.8 289.7,939.1 294.4,938.1 C299.1,937.1 301.1,935.4 306.5,936.0 C311.8,936.7 321.2,940.8 326.6,942.1 C332.0,943.4 333.7,944.4 338.7,944.1 C343.8,943.8 352.2,943.8 356.9,940.1 C361.6,936.4 365.6,930.0 366.9,921.9 C368.3,913.9 366.9,899.8 364.9,891.7 C362.9,883.6 361.2,876.9 354.8,873.5 C348.5,870.2 332.7,880.3 326.6,871.5 C320.6,862.8 318.5,832.2 318.5,821.1 C318.5,810.0 323.9,809.0 326.6,805.0 C329.3,801.0 330.3,802.6 334.7,796.9 C339.0,791.2 350.8,779.1 352.8,770.7 C354.8,762.3 346.8,753.6 346.8,746.5 C346.8,739.5 348.1,731.7 352.8,728.4 C357.5,725.0 371.3,726.7 375.0,726.4" fill="none" stroke="#111" stroke-width="1.5"/>
<path d="M326.6,792.9 C326.3,790.9 324.3,788.2 324.6,786.9 C324.9,785.5 327.6,783.8 328.6,784.8 C329.6,785.8 331.0,790.6 330.6,792.9 C330.3,795.3 327.3,799.0 326.6,799.0 C325.9,799.0 326.9,794.9 326.6,792.9 Z" fill="none" stroke="#111" stroke-width="1.5"/>
<path d="M302.4,891.7 C302.4,888.3 306.8,883.6 308.5,883.6 C310.1,883.6 311.5,887.7 312.5,891.7 C313.5,895.7 315.2,905.8 314.5,907.8 C313.8,909.8 310.5,906.5 308.5,903.8 C306.5,901.1 302.4,895.1 302.4,891.7 Z" fill="none" stroke="#111" stroke-width="1.5"/>
<path d="M278.2,821.1 C278.9,819.1 283.3,813.7 286.3,813.1 C289.3,812.4 294.0,813.7 296.4,817.1 C298.7,820.5 300.1,829.2 300.4,833.2 C300.7,837.3 300.1,841.3 298.4,841.3 C296.7,841.3 293.0,835.9 290.3,833.2 C287.6,830.5 284.3,827.2 282.3,825.2 C280.2,823.1 277.6,823.1 278.2,821.1 Z" fill="none" stroke="#111" stroke-width="1.5"/>
<path d="M223.8,706.2 C224.1,711.9 224.8,731.4 225.8,740.5 C226.8,749.6 229.3,753.3 229.8,760.6 C230.3,768.0 229.8,778.1 228.8,784.8 C227.8,791.6 224.6,798.3 223.8,801.0" fill="none" stroke="#111" stroke-width="1.5"/>
<path d="M266.1,692.1 C267.5,696.8 272.2,712.3 274.2,720.3 C276.2,728.4 278.2,730.4 278.2,740.5 C278.2,750.6 275.5,772.1 274.2,780.8 C272.8,789.5 270.8,790.9 270.2,792.9" fill="none" stroke="#111" stroke-width="1.5"/>
<path d="M476.9,690.1 C479.0,692.8 490.4,701.8 489.0,706.2 C487.7,710.6 469.5,709.6 468.9,716.3 C468.2,723.0 483.0,733.8 485.0,746.5 C487.0,759.3 482.3,778.5 481.0,792.9 C479.6,807.4 482.6,821.8 476.9,833.2 C471.2,844.7 457.8,854.7 446.7,861.5 C435.6,868.2 419.8,868.5 410.4,873.5 C401.0,878.6 395.3,888.7 390.2,891.7 C385.2,894.7 382.5,886.7 380.2,891.7 C377.8,896.7 372.8,912.9 376.1,921.9 C379.5,931.0 389.6,940.1 400.3,946.1 C411.1,952.2 431.2,957.9 440.6,958.2 C450.1,958.6 450.1,950.8 456.8,948.1 C463.5,945.5 475.6,946.5 481.0,942.1 C486.3,937.7 486.3,930.3 489.0,921.9 C491.7,913.5 493.1,898.4 497.1,891.7 C501.1,885.0 507.2,886.0 513.2,881.6 C519.3,877.2 526.7,870.5 533.4,865.5 C540.1,860.4 546.8,853.1 553.5,851.4 C560.3,849.7 564.3,856.1 573.7,855.4 C583.1,854.7 604.0,848.7 610.0,847.3" fill="none" stroke="#111" stroke-width="1.5"/>
<path d="M432.6,784.8 C433.3,787.5 434.3,797.3 436.6,801.0 C439.0,804.7 443.3,807.7 446.7,807.0 C450.1,806.3 455.8,801.0 456.8,796.9 C457.8,792.9 453.4,785.2 452.7,782.8" fill="none" stroke="#111" stroke-width="1.5"/>
<path d="M432.6,921.9 C433.9,915.9 432.6,897.4 440.6,885.6 C448.7,873.9 472.2,865.5 481.0,851.4 C489.7,837.3 488.0,811.4 493.1,801.0 C498.1,790.6 504.5,791.6 511.2,788.9 C517.9,786.2 525.0,787.2 533.4,784.8 C541.8,782.5 551.9,779.8 561.6,774.8 C571.4,769.7 583.8,758.0 591.9,754.6 C599.9,751.2 607.0,754.6 610.0,754.6" fill="none" stroke="#111" stroke-width="1.5"/>
<path d="M452.7,921.9 C454.1,916.9 454.1,901.8 460.8,891.7 C467.5,881.6 481.0,867.5 493.1,861.5 C505.2,855.4 522.0,858.8 533.4,855.4 C544.8,852.0 551.5,844.7 561.6,841.3 C571.7,837.9 585.8,837.3 593.9,835.2 C601.9,833.2 607.3,830.2 610.0,829.2" fill="none" stroke="#111" stroke-width="1.5"/>
<path d="M497.1,847.3 C496.4,844.7 493.1,838.3 493.1,831.2 C493.1,824.2 493.7,811.4 497.1,805.0 C500.5,798.6 507.2,795.3 513.2,792.9 C519.3,790.6 525.3,792.9 533.4,790.9 C541.5,788.9 550.9,785.2 561.6,780.8 C572.4,776.4 589.8,767.4 597.9,764.7 C606.0,762.0 608.0,764.7 610.0,764.7" fill="none" stroke="#111" stroke-width="1.5"/>
<path d="M497.1,847.3 C503.8,848.0 526.7,855.1 537.4,851.4 C548.2,847.7 549.5,830.5 561.6,825.2 C573.7,819.8 601.9,820.1 610.0,819.1" fill="none" stroke="#111" stroke-width="1.5"/>
<path d="M505.2,841.3 C505.8,837.9 506.5,826.5 509.2,821.1 C511.9,815.8 515.9,812.4 521.3,809.0 C526.7,805.7 531.4,805.0 541.5,801.0 C551.5,796.9 570.3,789.9 581.8,784.8 C593.2,779.8 605.3,773.1 610.0,770.7" fill="none" stroke="#111" stroke-width="1.5"/>
<path d="M525.3,690.1 C526.7,693.4 533.4,701.8 533.4,710.2 C533.4,718.6 526.3,728.7 525.3,740.5 C524.3,752.2 527.0,774.1 527.3,780.8" fill="none" stroke="#111" stroke-width="1.5"/>
<path d="M374.1,690.1 C375.8,693.4 383.2,704.2 384.2,710.2 C385.2,716.3 384.2,723.3 380.2,726.4 C376.1,729.4 363.4,728.1 360.0,728.4" fill="none" stroke="#111" stroke-width="1.5"/>
<path d="M591.9,690.1 C592.2,695.1 592.2,711.9 593.9,720.3 C595.6,728.7 599.2,736.1 601.9,740.5 C604.6,744.9 608.7,745.5 610.0,746.5" fill="none" stroke="#111" stroke-width="1.5"/>
<path d="M600.0,740.5 C603.4,744.5 613.4,761.3 620.2,764.7 C626.9,768.0 633.6,763.7 640.3,760.6 C647.0,757.6 653.1,752.2 660.5,746.5 C667.9,740.8 674.6,727.4 684.7,726.4 C694.8,725.4 713.6,734.1 721.0,740.5 C728.4,746.9 725.7,758.0 729.0,764.7 C732.4,771.4 735.8,776.8 741.1,780.8 C746.5,784.8 756.6,783.8 761.3,788.9 C766.0,793.9 766.0,805.0 769.4,811.0 C772.7,817.1 779.1,819.1 781.5,825.2 C783.8,831.2 784.8,842.6 783.5,847.3 C782.1,852.0 777.1,856.1 773.4,853.4 C769.7,850.7 766.7,834.9 761.3,831.2 C755.9,827.5 747.8,832.9 741.1,831.2 C734.4,829.5 731.0,823.5 721.0,821.1 C710.9,818.8 694.1,817.1 680.6,817.1 C667.2,817.1 653.8,818.1 640.3,821.1 C626.9,824.2 606.7,832.9 600.0,835.2" fill="none" stroke="#111" stroke-width="1.5"/>
<path d="M616.1,801.0 C616.1,796.3 622.8,786.9 630.2,780.8 C637.6,774.8 652.1,770.7 660.5,764.7 C668.9,758.6 673.9,748.5 680.6,744.5 C687.4,740.5 694.8,739.8 700.8,740.5 C706.9,741.2 712.9,743.5 716.9,748.5 C721.0,753.6 721.6,763.3 725.0,770.7 C728.4,778.1 733.7,786.5 737.1,792.9 C740.5,799.3 744.8,804.3 745.2,809.0 C745.5,813.7 743.1,820.5 739.1,821.1 C735.1,821.8 727.4,817.1 721.0,813.1 C714.6,809.0 710.9,799.0 700.8,796.9 C690.7,794.9 672.2,799.0 660.5,801.0 C648.7,803.0 637.6,809.0 630.2,809.0 C622.8,809.0 616.1,805.7 616.1,801.0 Z" fill="none" stroke="#111" stroke-width="1.5"/>
<path d="M634.3,796.9 C632.6,793.9 652.1,785.2 660.5,776.8 C668.9,768.4 676.6,751.9 684.7,746.5 C692.7,741.2 702.5,740.5 708.9,744.5 C715.3,748.5 719.0,762.7 723.0,770.7 C727.0,778.8 732.1,787.2 733.1,792.9 C734.1,798.6 733.7,805.0 729.0,805.0 C724.3,805.0 714.6,794.6 704.8,792.9 C695.1,791.2 682.3,794.2 670.6,794.9 C658.8,795.6 636.0,800.0 634.3,796.9 Z" fill="none" stroke="#111" stroke-width="1.5"/>
<path d="M600.0,851.4 C603.4,853.1 615.5,859.4 620.2,861.5 C624.9,863.5 626.9,863.1 628.2,863.5" fill="none" stroke="#111" stroke-width="1.5"/>
<path d="M676.6,857.4 C677.3,853.4 678.6,838.3 680.6,833.2 C682.7,828.2 685.3,827.5 688.7,827.2 C692.1,826.8 696.8,830.2 700.8,831.2 C704.8,832.2 708.9,830.9 712.9,833.2 C716.9,835.6 720.6,842.3 725.0,845.3 C729.4,848.3 734.4,850.7 739.1,851.4 C743.8,852.0 748.9,847.7 753.2,849.4 C757.6,851.0 762.0,856.1 765.3,861.5 C768.7,866.8 770.7,876.6 773.4,881.6 C776.1,886.7 777.4,889.7 781.5,891.7 C785.5,893.7 793.2,896.1 797.6,893.7 C801.9,891.4 804.3,888.0 807.7,877.6 C811.0,867.2 817.1,840.6 817.7,831.2 C818.4,821.8 815.7,820.8 811.7,821.1 C807.7,821.5 798.6,835.9 793.5,833.2 C788.5,830.5 786.2,813.7 781.5,805.0 C776.7,796.3 770.0,787.5 765.3,780.8 C760.6,774.1 755.9,774.8 753.2,764.7 C750.5,754.6 750.5,732.4 749.2,720.3 C747.8,708.2 745.8,696.8 745.2,692.1" fill="none" stroke="#111" stroke-width="1.5"/>
<path d="M827.8,861.5 C828.8,857.4 831.9,841.6 833.9,837.3 C835.9,832.9 838.2,831.9 839.9,835.2 C841.6,838.6 842.3,852.0 844.0,857.4 C845.6,862.8 849.0,865.8 850.0,867.5" fill="none" stroke="#111" stroke-width="1.5"/>
<path d="M952.9,690.1 C952.6,696.5 956.3,720.7 950.9,728.4 C945.5,736.1 926.7,730.4 920.6,736.5 C914.6,742.5 918.0,755.3 914.6,764.7 C911.2,774.1 904.2,783.5 900.5,792.9 C896.8,802.3 894.4,811.4 892.4,821.1 C890.4,830.9 890.1,842.0 888.4,851.4 C886.7,860.8 883.3,873.2 882.3,877.6" fill="none" stroke="#111" stroke-width="1.5"/>
<path d="M969.0,700.2 C970.0,699.2 973.7,701.5 975.1,704.2 C976.4,706.9 977.8,713.6 977.1,716.3 C976.4,719.0 972.4,721.3 971.0,720.3 C969.7,719.3 969.4,713.6 969.0,710.2 C968.7,706.9 968.0,701.2 969.0,700.2 Z" fill="none" stroke="#111" stroke-width="1.5"/>
<path d="M930.7,766.7 C935.8,765.7 954.6,759.0 961.0,760.6 C967.4,762.3 965.7,774.1 969.0,776.8 C972.4,779.5 979.1,782.8 981.1,776.8 C983.1,770.7 979.1,753.3 981.1,740.5 C983.1,727.7 990.9,708.6 993.2,700.2 C995.6,691.8 994.9,691.8 995.2,690.1" fill="none" stroke="#111" stroke-width="1.5"/>
<path d="M904.5,821.1 C907.2,817.8 915.9,804.3 920.6,801.0 C925.3,797.6 927.4,799.0 932.7,801.0 C938.1,803.0 946.5,808.4 952.9,813.1 C959.3,817.8 966.3,827.2 971.0,829.2 C975.8,831.2 976.4,827.2 981.1,825.2 C985.8,823.1 995.9,821.1 999.3,817.1 C1002.6,813.1 1001.0,803.7 1001.3,801.0" fill="none" stroke="#111" stroke-width="1.5"/>
<path d="M916.6,885.6 C913.3,881.9 912.2,869.5 910.6,861.5 C908.9,853.4 903.5,843.3 906.5,837.3 C909.6,831.2 924.3,824.5 928.7,825.2 C933.1,825.8 932.7,835.2 932.7,841.3 C932.7,847.3 929.0,854.4 928.7,861.5 C928.4,868.5 932.7,879.6 930.7,883.6 C928.7,887.7 920.0,889.3 916.6,885.6 Z" fill="none" stroke="#111" stroke-width="1.5"/>
<path d="M936.8,835.2 C938.1,836.6 940.8,841.3 944.8,843.3 C948.9,845.3 956.9,845.0 961.0,847.3 C965.0,849.7 965.7,854.1 969.0,857.4 C972.4,860.8 976.4,866.2 981.1,867.5 C985.8,868.8 993.9,867.2 997.3,865.5 C1000.6,863.8 1000.3,863.1 1001.3,857.4 C1002.3,851.7 1003.0,835.6 1003.3,831.2" fill="none" stroke="#111" stroke-width="1.5"/>
<path d="M1005.3,811.0 C1007.3,810.4 1013.4,806.0 1017.4,807.0 C1021.5,808.0 1025.5,814.7 1029.5,817.1 C1033.5,819.4 1036.2,820.8 1041.6,821.1 C1047.0,821.5 1055.1,822.5 1061.8,819.1 C1068.5,815.8 1078.6,804.0 1081.9,801.0" fill="none" stroke="#111" stroke-width="1.5"/>
<path d="M993.2,740.5 C994.6,739.8 998.6,735.8 1001.3,736.5 C1004.0,737.1 1007.3,738.8 1009.4,744.5 C1011.4,750.2 1011.4,764.7 1013.4,770.7 C1015.4,776.8 1016.7,779.8 1021.5,780.8 C1026.2,781.8 1034.9,778.8 1041.6,776.8 C1048.3,774.8 1055.1,770.7 1061.8,768.7 C1068.5,766.7 1078.6,765.3 1081.9,764.7" fill="none" stroke="#111" stroke-width="1.5"/>
<path d="M1033.5,692.1 C1033.2,694.4 1030.2,702.2 1031.5,706.2 C1032.9,710.2 1039.3,712.6 1041.6,716.3 C1044.0,720.0 1044.3,724.4 1045.6,728.4 C1047.0,732.4 1047.7,736.8 1049.7,740.5 C1051.7,744.2 1056.4,748.9 1057.7,750.6" fill="none" stroke="#111" stroke-width="1.5"/>
<path d="M1059.8,690.1 C1060.1,696.8 1060.8,719.3 1061.8,730.4 C1062.8,741.5 1064.1,750.9 1065.8,756.6 C1067.5,762.3 1068.7,763.0 1071.9,764.7 C1075.0,766.4 1082.8,766.4 1085.0,766.7" fill="none" stroke="#111" stroke-width="1.5"/>
<text transform="translate(167,743) rotate(0)" text-anchor="middle" dominant-baseline="central" font-size="14.5" font-weight="bold" fill="#000">30000</text>
<text transform="translate(209,811) rotate(0)" text-anchor="middle" dominant-baseline="central" font-size="14.5" font-weight="bold" fill="#000">3000</text>
<text transform="translate(260,790) rotate(-15)" text-anchor="middle" dominant-baseline="central" font-size="14.5" font-weight="bold" fill="#000">5000</text>
<text transform="translate(290,857) rotate(0)" text-anchor="middle" dominant-baseline="central" font-size="14.5" font-weight="bold" fill="#000">2000</text>
<text transform="translate(275,943) rotate(0)" text-anchor="middle" dominant-baseline="central" font-size="14.5" font-weight="bold" fill="#000">1000</text>
<text transform="translate(438,777) rotate(-10)" text-anchor="middle" dominant-baseline="central" font-size="14.5" font-weight="bold" fill="#000">1000</text>
<text transform="translate(440,925) rotate(45)" text-anchor="middle" dominant-baseline="central" font-size="14.5" font-weight="bold" fill="#000">2000</text>
<text transform="translate(512,849) rotate(-20)" text-anchor="middle" dominant-baseline="central" font-size="14.5" font-weight="bold" fill="#000">4000</text>
<text transform="translate(646,782) rotate(-25)" text-anchor="middle" dominant-baseline="central" font-size="14.5" font-weight="bold" fill="#000">5000</text>
<text transform="translate(713,737) rotate(10)" text-anchor="middle" dominant-baseline="central" font-size="14.5" font-weight="bold" fill="#000">3000</text>
<text transform="translate(548,717) rotate(-80)" text-anchor="middle" dominant-baseline="central" font-size="14.5" font-weight="bold" fill="#000">2000</text>
<text transform="translate(780,798) rotate(-70)" text-anchor="middle" dominant-baseline="central" font-size="14.5" font-weight="bold" fill="#000">2000</text>
<text transform="translate(656,866) rotate(0)" text-anchor="middle" dominant-baseline="central" font-size="14.5" font-weight="bold" fill="#000">1000</text>
<text transform="translate(870,880) rotate(-50)" text-anchor="middle" dominant-baseline="central" font-size="14.5" font-weight="bold" fill="#000">1000</text>
<text transform="translate(901,886) rotate(0)" text-anchor="middle" dominant-baseline="central" font-size="14.5" font-weight="bold" fill="#000">1000</text>
<text transform="translate(925,790) rotate(-80)" text-anchor="middle" dominant-baseline="central" font-size="14.5" font-weight="bold" fill="#000">2000</text>
<text transform="translate(925,830) rotate(-70)" text-anchor="middle" dominant-baseline="central" font-size="14.5" font-weight="bold" fill="#000">2000</text>
<text transform="translate(999,799) rotate(0)" text-anchor="middle" dominant-baseline="central" font-size="14.5" font-weight="bold" fill="#000">5000</text>
<text transform="translate(1049,805) rotate(0)" text-anchor="middle" dominant-baseline="central" font-size="14.5" font-weight="bold" fill="#000">3000</text>
<text transform="translate(1056,740) rotate(65)" text-anchor="middle" dominant-baseline="central" font-size="14.5" font-weight="bold" fill="#000">5000</text>
<text transform="translate(223,693) rotate(0)" text-anchor="middle" dominant-baseline="central" font-size="14.5" font-weight="bold" fill="#000">3000</text>
<text transform="translate(1010,693) rotate(90)" text-anchor="middle" dominant-baseline="central" font-size="14.5" font-weight="bold" fill="#000">40</text>
<g fill="#3a3330" opacity="0.85"><circle cx="141.0" cy="691.9" r="1.55"/><circle cx="141.0" cy="718.1" r="1.55"/><circle cx="141.0" cy="731.2" r="1.55"/><circle cx="141.0" cy="742.9" r="1.55"/><circle cx="141.0" cy="754.5" r="1.55"/><circle cx="141.0" cy="790.9" r="1.55"/><circle cx="141.0" cy="802.6" r="1.55"/><circle cx="141.0" cy="818.6" r="1.55"/><circle cx="141.0" cy="834.6" r="1.55"/><circle cx="141.0" cy="905.9" r="1.55"/><circle cx="141.0" cy="919.0" r="1.55"/><circle cx="141.0" cy="980.2" r="1.55"/><circle cx="149.0" cy="691.9" r="1.55"/><circle cx="149.0" cy="696.3" r="1.55"/><circle cx="149.0" cy="718.1" r="1.55"/><circle cx="149.0" cy="754.5" r="1.55"/><circle cx="149.0" cy="766.2" r="1.55"/><circle cx="149.0" cy="773.4" r="1.55"/><circle cx="149.0" cy="790.9" r="1.55"/><circle cx="149.0" cy="818.6" r="1.55"/><circle cx="149.0" cy="834.6" r="1.55"/><circle cx="149.0" cy="849.2" r="1.55"/><circle cx="149.0" cy="980.2" r="1.55"/><circle cx="157.0" cy="691.9" r="1.55"/><circle cx="157.0" cy="712.3" r="1.55"/><circle cx="157.0" cy="718.1" r="1.55"/><circle cx="157.0" cy="731.2" r="1.55"/><circle cx="157.0" cy="754.5" r="1.55"/><circle cx="157.0" cy="766.2" r="1.55"/><circle cx="157.0" cy="773.4" r="1.55"/><circle cx="157.0" cy="790.9" r="1.55"/><circle cx="157.0" cy="818.6" r="1.55"/><circle cx="157.0" cy="834.6" r="1.55"/><circle cx="157.0" cy="888.5" r="1.55"/><circle cx="157.0" cy="980.2" r="1.55"/><circle cx="165.0" cy="691.9" r="1.55"/><circle cx="165.0" cy="731.2" r="1.55"/><circle cx="165.0" cy="742.9" r="1.55"/><circle cx="165.0" cy="754.5" r="1.55"/><circle cx="165.0" cy="766.2" r="1.55"/><circle cx="165.0" cy="773.4" r="1.55"/><circle cx="165.0" cy="802.6" r="1.55"/><circle cx="165.0" cy="834.6" r="1.55"/><circle cx="165.0" cy="849.2" r="1.55"/><circle cx="165.0" cy="905.9" r="1.55"/><circle cx="165.0" cy="980.2" r="1.55"/><circle cx="174.0" cy="691.9" r="1.55"/><circle cx="174.0" cy="696.3" r="1.55"/><circle cx="174.0" cy="718.1" r="1.55"/><circle cx="174.0" cy="731.2" r="1.55"/><circle cx="174.0" cy="766.2" r="1.55"/><circle cx="174.0" cy="802.6" r="1.55"/><circle cx="174.0" cy="834.6" r="1.55"/><circle cx="174.0" cy="876.8" r="1.55"/><circle cx="174.0" cy="905.9" r="1.55"/><circle cx="174.0" cy="980.2" r="1.55"/><circle cx="186.5" cy="691.9" r="1.55"/><circle cx="186.5" cy="696.3" r="1.55"/><circle cx="186.5" cy="712.3" r="1.55"/><circle cx="186.5" cy="718.1" r="1.55"/><circle cx="186.5" cy="731.2" r="1.55"/><circle cx="186.5" cy="742.9" r="1.55"/><circle cx="186.5" cy="802.6" r="1.55"/><circle cx="186.5" cy="834.6" r="1.55"/><circle cx="186.5" cy="905.9" r="1.55"/><circle cx="186.5" cy="980.2" r="1.55"/><circle cx="195.6" cy="691.9" r="1.55"/><circle cx="195.6" cy="696.3" r="1.55"/><circle cx="195.6" cy="718.1" r="1.55"/><circle cx="195.6" cy="731.2" r="1.55"/><circle cx="195.6" cy="742.9" r="1.55"/><circle cx="195.6" cy="754.5" r="1.55"/><circle cx="195.6" cy="766.2" r="1.55"/><circle cx="195.6" cy="790.9" r="1.55"/><circle cx="195.6" cy="834.6" r="1.55"/><circle cx="195.6" cy="876.8" r="1.55"/><circle cx="195.6" cy="905.9" r="1.55"/><circle cx="195.6" cy="980.2" r="1.55"/><circle cx="207.7" cy="691.9" r="1.55"/><circle cx="207.7" cy="696.3" r="1.55"/><circle cx="207.7" cy="718.1" r="1.55"/><circle cx="207.7" cy="731.2" r="1.55"/><circle cx="207.7" cy="754.5" r="1.55"/><circle cx="207.7" cy="773.4" r="1.55"/><circle cx="207.7" cy="802.6" r="1.55"/><circle cx="207.7" cy="834.6" r="1.55"/><circle cx="207.7" cy="905.9" r="1.55"/><circle cx="207.7" cy="919.0" r="1.55"/><circle cx="207.7" cy="980.2" r="1.55"/><circle cx="215.7" cy="691.9" r="1.55"/><circle cx="215.7" cy="696.3" r="1.55"/><circle cx="215.7" cy="712.3" r="1.55"/><circle cx="215.7" cy="718.1" r="1.55"/><circle cx="215.7" cy="731.2" r="1.55"/><circle cx="215.7" cy="742.9" r="1.55"/><circle cx="215.7" cy="802.6" r="1.55"/><circle cx="215.7" cy="818.6" r="1.55"/><circle cx="215.7" cy="834.6" r="1.55"/><circle cx="215.7" cy="905.9" r="1.55"/><circle cx="215.7" cy="919.0" r="1.55"/><circle cx="215.7" cy="980.2" r="1.55"/><circle cx="225.0" cy="691.9" r="1.55"/><circle cx="225.0" cy="696.3" r="1.55"/><circle cx="225.0" cy="712.3" r="1.55"/><circle cx="225.0" cy="718.1" r="1.55"/><circle cx="225.0" cy="731.2" r="1.55"/><circle cx="225.0" cy="766.2" r="1.55"/><circle cx="225.0" cy="773.4" r="1.55"/><circle cx="225.0" cy="790.9" r="1.55"/><circle cx="225.0" cy="834.6" r="1.55"/><circle cx="225.0" cy="862.3" r="1.55"/><circle cx="225.0" cy="905.9" r="1.55"/><circle cx="225.0" cy="980.2" r="1.55"/><circle cx="235.0" cy="691.9" r="1.55"/><circle cx="235.0" cy="696.3" r="1.55"/><circle cx="235.0" cy="712.3" r="1.55"/><circle cx="235.0" cy="718.1" r="1.55"/><circle cx="235.0" cy="731.2" r="1.55"/><circle cx="235.0" cy="754.5" r="1.55"/><circle cx="235.0" cy="766.2" r="1.55"/><circle cx="235.0" cy="773.4" r="1.55"/><circle cx="235.0" cy="790.9" r="1.55"/><circle cx="235.0" cy="802.6" r="1.55"/><circle cx="235.0" cy="834.6" r="1.55"/><circle cx="235.0" cy="980.2" r="1.55"/><circle cx="247.0" cy="691.9" r="1.55"/><circle cx="247.0" cy="718.1" r="1.55"/><circle cx="247.0" cy="731.2" r="1.55"/><circle cx="247.0" cy="742.9" r="1.55"/><circle cx="247.0" cy="754.5" r="1.55"/><circle cx="247.0" cy="766.2" r="1.55"/><circle cx="247.0" cy="773.4" r="1.55"/><circle cx="247.0" cy="790.9" r="1.55"/><circle cx="247.0" cy="834.6" r="1.55"/><circle cx="247.0" cy="849.2" r="1.55"/><circle cx="247.0" cy="905.9" r="1.55"/><circle cx="247.0" cy="980.2" r="1.55"/><circle cx="254.0" cy="691.9" r="1.55"/><circle cx="254.0" cy="696.3" r="1.55"/><circle cx="254.0" cy="731.2" r="1.55"/><circle cx="254.0" cy="742.9" r="1.55"/><circle cx="254.0" cy="754.5" r="1.55"/><circle cx="254.0" cy="766.2" r="1.55"/><circle cx="254.0" cy="773.4" r="1.55"/><circle cx="254.0" cy="790.9" r="1.55"/><circle cx="254.0" cy="802.6" r="1.55"/><circle cx="254.0" cy="834.6" r="1.55"/><circle cx="254.0" cy="980.2" r="1.55"/><circle cx="266.0" cy="691.9" r="1.55"/><circle cx="266.0" cy="696.3" r="1.55"/><circle cx="266.0" cy="712.3" r="1.55"/><circle cx="266.0" cy="731.2" r="1.55"/><circle cx="266.0" cy="742.9" r="1.55"/><circle cx="266.0" cy="766.2" r="1.55"/><circle cx="266.0" cy="790.9" r="1.55"/><circle cx="266.0" cy="802.6" r="1.55"/><circle cx="266.0" cy="818.6" r="1.55"/><circle cx="266.0" cy="834.6" r="1.55"/><circle cx="266.0" cy="888.5" r="1.55"/><circle cx="266.0" cy="905.9" r="1.55"/><circle cx="266.0" cy="919.0" r="1.55"/><circle cx="266.0" cy="980.2" r="1.55"/><circle cx="286.0" cy="691.9" r="1.55"/><circle cx="286.0" cy="712.3" r="1.55"/><circle cx="286.0" cy="718.1" r="1.55"/><circle cx="286.0" cy="731.2" r="1.55"/><circle cx="286.0" cy="754.5" r="1.55"/><circle cx="286.0" cy="766.2" r="1.55"/><circle cx="286.0" cy="773.4" r="1.55"/><circle cx="286.0" cy="802.6" r="1.55"/><circle cx="286.0" cy="818.6" r="1.55"/><circle cx="286.0" cy="834.6" r="1.55"/><circle cx="286.0" cy="849.2" r="1.55"/><circle cx="286.0" cy="876.8" r="1.55"/><circle cx="286.0" cy="888.5" r="1.55"/><circle cx="286.0" cy="905.9" r="1.55"/><circle cx="286.0" cy="919.0" r="1.55"/><circle cx="286.0" cy="980.2" r="1.55"/><circle cx="292.0" cy="691.9" r="1.55"/><circle cx="292.0" cy="696.3" r="1.55"/><circle cx="292.0" cy="712.3" r="1.55"/><circle cx="292.0" cy="731.2" r="1.55"/><circle cx="292.0" cy="742.9" r="1.55"/><circle cx="292.0" cy="754.5" r="1.55"/><circle cx="292.0" cy="773.4" r="1.55"/><circle cx="292.0" cy="802.6" r="1.55"/><circle cx="292.0" cy="834.6" r="1.55"/><circle cx="292.0" cy="849.2" r="1.55"/><circle cx="292.0" cy="862.3" r="1.55"/><circle cx="292.0" cy="876.8" r="1.55"/><circle cx="292.0" cy="888.5" r="1.55"/><circle cx="292.0" cy="905.9" r="1.55"/><circle cx="292.0" cy="980.2" r="1.55"/><circle cx="303.4" cy="691.9" r="1.55"/><circle cx="303.4" cy="696.3" r="1.55"/><circle cx="303.4" cy="712.3" r="1.55"/><circle cx="303.4" cy="718.1" r="1.55"/><circle cx="303.4" cy="754.5" r="1.55"/><circle cx="303.4" cy="766.2" r="1.55"/><circle cx="303.4" cy="773.4" r="1.55"/><circle cx="303.4" cy="802.6" r="1.55"/><circle cx="303.4" cy="834.6" r="1.55"/><circle cx="303.4" cy="849.2" r="1.55"/><circle cx="303.4" cy="862.3" r="1.55"/><circle cx="303.4" cy="876.8" r="1.55"/><circle cx="303.4" cy="905.9" r="1.55"/><circle cx="303.4" cy="919.0" r="1.55"/><circle cx="303.4" cy="980.2" r="1.55"/><circle cx="310.5" cy="691.9" r="1.55"/><circle cx="310.5" cy="712.3" r="1.55"/><circle cx="310.5" cy="718.1" r="1.55"/><circle cx="310.5" cy="731.2" r="1.55"/><circle cx="310.5" cy="742.9" r="1.55"/><circle cx="310.5" cy="754.5" r="1.55"/><circle cx="310.5" cy="766.2" r="1.55"/><circle cx="310.5" cy="773.4" r="1.55"/><circle cx="310.5" cy="790.9" r="1.55"/><circle cx="310.5" cy="802.6" r="1.55"/><circle cx="310.5" cy="818.6" r="1.55"/><circle cx="310.5" cy="834.6" r="1.55"/><circle cx="310.5" cy="849.2" r="1.55"/><circle cx="310.5" cy="888.5" r="1.55"/><circle cx="310.5" cy="919.0" r="1.55"/><circle cx="310.5" cy="980.2" r="1.55"/><circle cx="324.6" cy="691.9" r="1.55"/><circle cx="324.6" cy="696.3" r="1.55"/><circle cx="324.6" cy="718.1" r="1.55"/><circle cx="324.6" cy="731.2" r="1.55"/><circle cx="324.6" cy="742.9" r="1.55"/><circle cx="324.6" cy="754.5" r="1.55"/><circle cx="324.6" cy="773.4" r="1.55"/><circle cx="324.6" cy="790.9" r="1.55"/><circle cx="324.6" cy="802.6" r="1.55"/><circle cx="324.6" cy="818.6" r="1.55"/><circle cx="324.6" cy="834.6" r="1.55"/><circle cx="324.6" cy="876.8" r="1.55"/><circle cx="324.6" cy="888.5" r="1.55"/><circle cx="324.6" cy="905.9" r="1.55"/><circle cx="324.6" cy="919.0" r="1.55"/><circle cx="324.6" cy="980.2" r="1.55"/><circle cx="336.7" cy="691.9" r="1.55"/><circle cx="336.7" cy="696.3" r="1.55"/><circle cx="336.7" cy="718.1" r="1.55"/><circle cx="336.7" cy="731.2" r="1.55"/><circle cx="336.7" cy="742.9" r="1.55"/><circle cx="336.7" cy="766.2" r="1.55"/><circle cx="336.7" cy="773.4" r="1.55"/><circle cx="336.7" cy="802.6" r="1.55"/><circle cx="336.7" cy="818.6" r="1.55"/><circle cx="336.7" cy="834.6" r="1.55"/><circle cx="336.7" cy="862.3" r="1.55"/><circle cx="336.7" cy="876.8" r="1.55"/><circle cx="336.7" cy="905.9" r="1.55"/><circle cx="336.7" cy="919.0" r="1.55"/><circle cx="336.7" cy="980.2" r="1.55"/><circle cx="353.0" cy="691.9" r="1.55"/><circle cx="353.0" cy="731.2" r="1.55"/><circle cx="353.0" cy="742.9" r="1.55"/><circle cx="353.0" cy="773.4" r="1.55"/><circle cx="353.0" cy="790.9" r="1.55"/><circle cx="353.0" cy="834.6" r="1.55"/><circle cx="353.0" cy="862.3" r="1.55"/><circle cx="353.0" cy="876.8" r="1.55"/><circle cx="353.0" cy="905.9" r="1.55"/><circle cx="353.0" cy="919.0" r="1.55"/><circle cx="353.0" cy="980.2" r="1.55"/><circle cx="365.0" cy="691.9" r="1.55"/><circle cx="365.0" cy="696.3" r="1.55"/><circle cx="365.0" cy="718.1" r="1.55"/><circle cx="365.0" cy="754.5" r="1.55"/><circle cx="365.0" cy="766.2" r="1.55"/><circle cx="365.0" cy="773.4" r="1.55"/><circle cx="365.0" cy="802.6" r="1.55"/><circle cx="365.0" cy="834.6" r="1.55"/><circle cx="365.0" cy="849.2" r="1.55"/><circle cx="365.0" cy="862.3" r="1.55"/><circle cx="365.0" cy="876.8" r="1.55"/><circle cx="365.0" cy="888.5" r="1.55"/><circle cx="365.0" cy="905.9" r="1.55"/><circle cx="365.0" cy="980.2" r="1.55"/><circle cx="381.0" cy="691.9" r="1.55"/><circle cx="381.0" cy="696.3" r="1.55"/><circle cx="381.0" cy="712.3" r="1.55"/><circle cx="381.0" cy="718.1" r="1.55"/><circle cx="381.0" cy="731.2" r="1.55"/><circle cx="381.0" cy="754.5" r="1.55"/><circle cx="381.0" cy="766.2" r="1.55"/><circle cx="381.0" cy="773.4" r="1.55"/><circle cx="381.0" cy="790.9" r="1.55"/><circle cx="381.0" cy="802.6" r="1.55"/><circle cx="381.0" cy="818.6" r="1.55"/><circle cx="381.0" cy="834.6" r="1.55"/><circle cx="381.0" cy="849.2" r="1.55"/><circle cx="381.0" cy="862.3" r="1.55"/><circle cx="381.0" cy="888.5" r="1.55"/><circle cx="381.0" cy="905.9" r="1.55"/><circle cx="381.0" cy="919.0" r="1.55"/><circle cx="381.0" cy="980.2" r="1.55"/><circle cx="393.0" cy="691.9" r="1.55"/><circle cx="393.0" cy="712.3" r="1.55"/><circle cx="393.0" cy="731.2" r="1.55"/><circle cx="393.0" cy="754.5" r="1.55"/><circle cx="393.0" cy="773.4" r="1.55"/><circle cx="393.0" cy="790.9" r="1.55"/><circle cx="393.0" cy="802.6" r="1.55"/><circle cx="393.0" cy="834.6" r="1.55"/><circle cx="393.0" cy="862.3" r="1.55"/><circle cx="393.0" cy="876.8" r="1.55"/><circle cx="393.0" cy="888.5" r="1.55"/><circle cx="393.0" cy="905.9" r="1.55"/><circle cx="393.0" cy="980.2" r="1.55"/><circle cx="408.0" cy="691.9" r="1.55"/><circle cx="408.0" cy="696.3" r="1.55"/><circle cx="408.0" cy="712.3" r="1.55"/><circle cx="408.0" cy="718.1" r="1.55"/><circle cx="408.0" cy="731.2" r="1.55"/><circle cx="408.0" cy="742.9" r="1.55"/><circle cx="408.0" cy="754.5" r="1.55"/><circle cx="408.0" cy="766.2" r="1.55"/><circle cx="408.0" cy="773.4" r="1.55"/><circle cx="408.0" cy="790.9" r="1.55"/><circle cx="408.0" cy="802.6" r="1.55"/><circle cx="408.0" cy="818.6" r="1.55"/><circle cx="408.0" cy="834.6" r="1.55"/><circle cx="408.0" cy="862.3" r="1.55"/><circle cx="408.0" cy="876.8" r="1.55"/><circle cx="408.0" cy="888.5" r="1.55"/><circle cx="408.0" cy="905.9" r="1.55"/><circle cx="408.0" cy="980.2" r="1.55"/><circle cx="426.5" cy="691.9" r="1.55"/><circle cx="426.5" cy="712.3" r="1.55"/><circle cx="426.5" cy="742.9" r="1.55"/><circle cx="426.5" cy="754.5" r="1.55"/><circle cx="426.5" cy="773.4" r="1.55"/><circle cx="426.5" cy="802.6" r="1.55"/><circle cx="426.5" cy="834.6" r="1.55"/><circle cx="426.5" cy="849.2" r="1.55"/><circle cx="426.5" cy="876.8" r="1.55"/><circle cx="426.5" cy="919.0" r="1.55"/><circle cx="426.5" cy="980.2" r="1.55"/><circle cx="440.6" cy="691.9" r="1.55"/><circle cx="440.6" cy="696.3" r="1.55"/><circle cx="440.6" cy="718.1" r="1.55"/><circle cx="440.6" cy="731.2" r="1.55"/><circle cx="440.6" cy="742.9" r="1.55"/><circle cx="440.6" cy="754.5" r="1.55"/><circle cx="440.6" cy="790.9" r="1.55"/><circle cx="440.6" cy="802.6" r="1.55"/><circle cx="440.6" cy="818.6" r="1.55"/><circle cx="440.6" cy="834.6" r="1.55"/><circle cx="440.6" cy="862.3" r="1.55"/><circle cx="440.6" cy="876.8" r="1.55"/><circle cx="440.6" cy="888.5" r="1.55"/><circle cx="440.6" cy="905.9" r="1.55"/><circle cx="440.6" cy="919.0" r="1.55"/><circle cx="440.6" cy="980.2" r="1.55"/><circle cx="463.0" cy="691.9" r="1.55"/><circle cx="463.0" cy="696.3" r="1.55"/><circle cx="463.0" cy="712.3" r="1.55"/><circle cx="463.0" cy="731.2" r="1.55"/><circle cx="463.0" cy="742.9" r="1.55"/><circle cx="463.0" cy="754.5" r="1.55"/><circle cx="463.0" cy="766.2" r="1.55"/><circle cx="463.0" cy="790.9" r="1.55"/><circle cx="463.0" cy="802.6" r="1.55"/><circle cx="463.0" cy="818.6" r="1.55"/><circle cx="463.0" cy="834.6" r="1.55"/><circle cx="463.0" cy="849.2" r="1.55"/><circle cx="463.0" cy="862.3" r="1.55"/><circle cx="463.0" cy="876.8" r="1.55"/><circle cx="463.0" cy="888.5" r="1.55"/><circle cx="463.0" cy="919.0" r="1.55"/><circle cx="463.0" cy="980.2" r="1.55"/><circle cx="477.0" cy="691.9" r="1.55"/><circle cx="477.0" cy="696.3" r="1.55"/><circle cx="477.0" cy="712.3" r="1.55"/><circle cx="477.0" cy="731.2" r="1.55"/><circle cx="477.0" cy="754.5" r="1.55"/><circle cx="477.0" cy="766.2" r="1.55"/><circle cx="477.0" cy="790.9" r="1.55"/><circle cx="477.0" cy="802.6" r="1.55"/><circle cx="477.0" cy="818.6" r="1.55"/><circle cx="477.0" cy="834.6" r="1.55"/><circle cx="477.0" cy="849.2" r="1.55"/><circle cx="477.0" cy="862.3" r="1.55"/><circle cx="477.0" cy="905.9" r="1.55"/><circle cx="477.0" cy="980.2" r="1.55"/><circle cx="498.0" cy="691.9" r="1.55"/><circle cx="498.0" cy="712.3" r="1.55"/><circle cx="498.0" cy="718.1" r="1.55"/><circle cx="498.0" cy="731.2" r="1.55"/><circle cx="498.0" cy="754.5" r="1.55"/><circle cx="498.0" cy="766.2" r="1.55"/><circle cx="498.0" cy="834.6" r="1.55"/><circle cx="498.0" cy="849.2" r="1.55"/><circle cx="498.0" cy="862.3" r="1.55"/><circle cx="498.0" cy="888.5" r="1.55"/><circle cx="498.0" cy="905.9" r="1.55"/><circle cx="498.0" cy="919.0" r="1.55"/><circle cx="498.0" cy="980.2" r="1.55"/><circle cx="512.0" cy="691.9" r="1.55"/><circle cx="512.0" cy="712.3" r="1.55"/><circle cx="512.0" cy="718.1" r="1.55"/><circle cx="512.0" cy="731.2" r="1.55"/><circle cx="512.0" cy="742.9" r="1.55"/><circle cx="512.0" cy="754.5" r="1.55"/><circle cx="512.0" cy="766.2" r="1.55"/><circle cx="512.0" cy="802.6" r="1.55"/><circle cx="512.0" cy="818.6" r="1.55"/><circle cx="512.0" cy="834.6" r="1.55"/><circle cx="512.0" cy="849.2" r="1.55"/><circle cx="512.0" cy="862.3" r="1.55"/><circle cx="512.0" cy="876.8" r="1.55"/><circle cx="512.0" cy="888.5" r="1.55"/><circle cx="512.0" cy="905.9" r="1.55"/><circle cx="512.0" cy="980.2" r="1.55"/><circle cx="534.0" cy="691.9" r="1.55"/><circle cx="534.0" cy="696.3" r="1.55"/><circle cx="534.0" cy="712.3" r="1.55"/><circle cx="534.0" cy="742.9" r="1.55"/><circle cx="534.0" cy="754.5" r="1.55"/><circle cx="534.0" cy="790.9" r="1.55"/><circle cx="534.0" cy="802.6" r="1.55"/><circle cx="534.0" cy="818.6" r="1.55"/><circle cx="534.0" cy="834.6" r="1.55"/><circle cx="534.0" cy="849.2" r="1.55"/><circle cx="534.0" cy="876.8" r="1.55"/><circle cx="534.0" cy="888.5" r="1.55"/><circle cx="534.0" cy="905.9" r="1.55"/><circle cx="534.0" cy="919.0" r="1.55"/><circle cx="534.0" cy="980.2" r="1.55"/><circle cx="546.5" cy="691.9" r="1.55"/><circle cx="546.5" cy="718.1" r="1.55"/><circle cx="546.5" cy="731.2" r="1.55"/><circle cx="546.5" cy="802.6" r="1.55"/><circle cx="546.5" cy="834.6" r="1.55"/><circle cx="546.5" cy="849.2" r="1.55"/><circle cx="546.5" cy="862.3" r="1.55"/><circle cx="546.5" cy="876.8" r="1.55"/><circle cx="546.5" cy="888.5" r="1.55"/><circle cx="546.5" cy="905.9" r="1.55"/><circle cx="546.5" cy="919.0" r="1.55"/><circle cx="546.5" cy="980.2" r="1.55"/><circle cx="562.6" cy="691.9" r="1.55"/><circle cx="562.6" cy="712.3" r="1.55"/><circle cx="562.6" cy="718.1" r="1.55"/><circle cx="562.6" cy="731.2" r="1.55"/><circle cx="562.6" cy="766.2" r="1.55"/><circle cx="562.6" cy="773.4" r="1.55"/><circle cx="562.6" cy="818.6" r="1.55"/><circle cx="562.6" cy="834.6" r="1.55"/><circle cx="562.6" cy="849.2" r="1.55"/><circle cx="562.6" cy="862.3" r="1.55"/><circle cx="562.6" cy="876.8" r="1.55"/><circle cx="562.6" cy="888.5" r="1.55"/><circle cx="562.6" cy="905.9" r="1.55"/><circle cx="562.6" cy="980.2" r="1.55"/><circle cx="573.7" cy="691.9" r="1.55"/><circle cx="573.7" cy="712.3" r="1.55"/><circle cx="573.7" cy="742.9" r="1.55"/><circle cx="573.7" cy="754.5" r="1.55"/><circle cx="573.7" cy="766.2" r="1.55"/><circle cx="573.7" cy="773.4" r="1.55"/><circle cx="573.7" cy="790.9" r="1.55"/><circle cx="573.7" cy="802.6" r="1.55"/><circle cx="573.7" cy="834.6" r="1.55"/><circle cx="573.7" cy="849.2" r="1.55"/><circle cx="573.7" cy="862.3" r="1.55"/><circle cx="573.7" cy="876.8" r="1.55"/><circle cx="573.7" cy="888.5" r="1.55"/><circle cx="573.7" cy="905.9" r="1.55"/><circle cx="573.7" cy="980.2" r="1.55"/><circle cx="601.0" cy="691.9" r="1.55"/><circle cx="601.0" cy="718.1" r="1.55"/><circle cx="601.0" cy="731.2" r="1.55"/><circle cx="601.0" cy="742.9" r="1.55"/><circle cx="601.0" cy="754.5" r="1.55"/><circle cx="601.0" cy="766.2" r="1.55"/><circle cx="601.0" cy="773.4" r="1.55"/><circle cx="601.0" cy="834.6" r="1.55"/><circle cx="601.0" cy="862.3" r="1.55"/><circle cx="601.0" cy="876.8" r="1.55"/><circle cx="601.0" cy="888.5" r="1.55"/><circle cx="601.0" cy="905.9" r="1.55"/><circle cx="601.0" cy="980.2" r="1.55"/><circle cx="621.0" cy="691.9" r="1.55"/><circle cx="621.0" cy="696.3" r="1.55"/><circle cx="621.0" cy="712.3" r="1.55"/><circle cx="621.0" cy="731.2" r="1.55"/><circle cx="621.0" cy="754.5" r="1.55"/><circle cx="621.0" cy="766.2" r="1.55"/><circle cx="621.0" cy="834.6" r="1.55"/><circle cx="621.0" cy="862.3" r="1.55"/><circle cx="621.0" cy="888.5" r="1.55"/><circle cx="621.0" cy="905.9" r="1.55"/><circle cx="621.0" cy="919.0" r="1.55"/><circle cx="621.0" cy="980.2" r="1.55"/><circle cx="632.0" cy="691.9" r="1.55"/><circle cx="632.0" cy="718.1" r="1.55"/><circle cx="632.0" cy="742.9" r="1.55"/><circle cx="632.0" cy="766.2" r="1.55"/><circle cx="632.0" cy="790.9" r="1.55"/><circle cx="632.0" cy="818.6" r="1.55"/><circle cx="632.0" cy="834.6" r="1.55"/><circle cx="632.0" cy="862.3" r="1.55"/><circle cx="632.0" cy="905.9" r="1.55"/><circle cx="632.0" cy="919.0" r="1.55"/><circle cx="632.0" cy="980.2" r="1.55"/><circle cx="647.0" cy="691.9" r="1.55"/><circle cx="647.0" cy="696.3" r="1.55"/><circle cx="647.0" cy="712.3" r="1.55"/><circle cx="647.0" cy="718.1" r="1.55"/><circle cx="647.0" cy="754.5" r="1.55"/><circle cx="647.0" cy="773.4" r="1.55"/><circle cx="647.0" cy="802.6" r="1.55"/><circle cx="647.0" cy="818.6" r="1.55"/><circle cx="647.0" cy="834.6" r="1.55"/><circle cx="647.0" cy="849.2" r="1.55"/><circle cx="647.0" cy="876.8" r="1.55"/><circle cx="647.0" cy="905.9" r="1.55"/><circle cx="647.0" cy="980.2" r="1.55"/><circle cx="658.5" cy="691.9" r="1.55"/><circle cx="658.5" cy="696.3" r="1.55"/><circle cx="658.5" cy="712.3" r="1.55"/><circle cx="658.5" cy="718.1" r="1.55"/><circle cx="658.5" cy="731.2" r="1.55"/><circle cx="658.5" cy="754.5" r="1.55"/><circle cx="658.5" cy="773.4" r="1.55"/><circle cx="658.5" cy="790.9" r="1.55"/><circle cx="658.5" cy="802.6" r="1.55"/><circle cx="658.5" cy="834.6" r="1.55"/><circle cx="658.5" cy="849.2" r="1.55"/><circle cx="658.5" cy="862.3" r="1.55"/><circle cx="658.5" cy="888.5" r="1.55"/><circle cx="658.5" cy="905.9" r="1.55"/><circle cx="658.5" cy="980.2" r="1.55"/><circle cx="674.6" cy="691.9" r="1.55"/><circle cx="674.6" cy="696.3" r="1.55"/><circle cx="674.6" cy="712.3" r="1.55"/><circle cx="674.6" cy="718.1" r="1.55"/><circle cx="674.6" cy="731.2" r="1.55"/><circle cx="674.6" cy="742.9" r="1.55"/><circle cx="674.6" cy="754.5" r="1.55"/><circle cx="674.6" cy="766.2" r="1.55"/><circle cx="674.6" cy="790.9" r="1.55"/><circle cx="674.6" cy="818.6" r="1.55"/><circle cx="674.6" cy="834.6" r="1.55"/><circle cx="674.6" cy="862.3" r="1.55"/><circle cx="674.6" cy="876.8" r="1.55"/><circle cx="674.6" cy="888.5" r="1.55"/><circle cx="674.6" cy="905.9" r="1.55"/><circle cx="674.6" cy="919.0" r="1.55"/><circle cx="674.6" cy="980.2" r="1.55"/><circle cx="686.7" cy="691.9" r="1.55"/><circle cx="686.7" cy="712.3" r="1.55"/><circle cx="686.7" cy="718.1" r="1.55"/><circle cx="686.7" cy="754.5" r="1.55"/><circle cx="686.7" cy="766.2" r="1.55"/><circle cx="686.7" cy="790.9" r="1.55"/><circle cx="686.7" cy="802.6" r="1.55"/><circle cx="686.7" cy="818.6" r="1.55"/><circle cx="686.7" cy="834.6" r="1.55"/><circle cx="686.7" cy="849.2" r="1.55"/><circle cx="686.7" cy="862.3" r="1.55"/><circle cx="686.7" cy="888.5" r="1.55"/><circle cx="686.7" cy="905.9" r="1.55"/><circle cx="686.7" cy="919.0" r="1.55"/><circle cx="686.7" cy="980.2" r="1.55"/><circle cx="702.8" cy="691.9" r="1.55"/><circle cx="702.8" cy="712.3" r="1.55"/><circle cx="702.8" cy="742.9" r="1.55"/><circle cx="702.8" cy="754.5" r="1.55"/><circle cx="702.8" cy="773.4" r="1.55"/><circle cx="702.8" cy="790.9" r="1.55"/><circle cx="702.8" cy="802.6" r="1.55"/><circle cx="702.8" cy="818.6" r="1.55"/><circle cx="702.8" cy="834.6" r="1.55"/><circle cx="702.8" cy="849.2" r="1.55"/><circle cx="702.8" cy="862.3" r="1.55"/><circle cx="702.8" cy="888.5" r="1.55"/><circle cx="702.8" cy="919.0" r="1.55"/><circle cx="702.8" cy="980.2" r="1.55"/><circle cx="713.0" cy="691.9" r="1.55"/><circle cx="713.0" cy="696.3" r="1.55"/><circle cx="713.0" cy="712.3" r="1.55"/><circle cx="713.0" cy="742.9" r="1.55"/><circle cx="713.0" cy="754.5" r="1.55"/><circle cx="713.0" cy="766.2" r="1.55"/><circle cx="713.0" cy="802.6" r="1.55"/><circle cx="713.0" cy="834.6" r="1.55"/><circle cx="713.0" cy="876.8" r="1.55"/><circle cx="713.0" cy="888.5" r="1.55"/><circle cx="713.0" cy="905.9" r="1.55"/><circle cx="713.0" cy="919.0" r="1.55"/><circle cx="713.0" cy="980.2" r="1.55"/><circle cx="730.0" cy="691.9" r="1.55"/><circle cx="730.0" cy="718.1" r="1.55"/><circle cx="730.0" cy="742.9" r="1.55"/><circle cx="730.0" cy="754.5" r="1.55"/><circle cx="730.0" cy="766.2" r="1.55"/><circle cx="730.0" cy="773.4" r="1.55"/><circle cx="730.0" cy="790.9" r="1.55"/><circle cx="730.0" cy="818.6" r="1.55"/><circle cx="730.0" cy="834.6" r="1.55"/><circle cx="730.0" cy="888.5" r="1.55"/><circle cx="730.0" cy="905.9" r="1.55"/><circle cx="730.0" cy="980.2" r="1.55"/><circle cx="741.0" cy="691.9" r="1.55"/><circle cx="741.0" cy="712.3" r="1.55"/><circle cx="741.0" cy="718.1" r="1.55"/><circle cx="741.0" cy="742.9" r="1.55"/><circle cx="741.0" cy="773.4" r="1.55"/><circle cx="741.0" cy="790.9" r="1.55"/><circle cx="741.0" cy="802.6" r="1.55"/><circle cx="741.0" cy="834.6" r="1.55"/><circle cx="741.0" cy="849.2" r="1.55"/><circle cx="741.0" cy="862.3" r="1.55"/><circle cx="741.0" cy="876.8" r="1.55"/><circle cx="741.0" cy="888.5" r="1.55"/><circle cx="741.0" cy="905.9" r="1.55"/><circle cx="741.0" cy="919.0" r="1.55"/><circle cx="741.0" cy="980.2" r="1.55"/><circle cx="758.0" cy="691.9" r="1.55"/><circle cx="758.0" cy="712.3" r="1.55"/><circle cx="758.0" cy="718.1" r="1.55"/><circle cx="758.0" cy="731.2" r="1.55"/><circle cx="758.0" cy="742.9" r="1.55"/><circle cx="758.0" cy="754.5" r="1.55"/><circle cx="758.0" cy="766.2" r="1.55"/><circle cx="758.0" cy="773.4" r="1.55"/><circle cx="758.0" cy="802.6" r="1.55"/><circle cx="758.0" cy="818.6" r="1.55"/><circle cx="758.0" cy="834.6" r="1.55"/><circle cx="758.0" cy="849.2" r="1.55"/><circle cx="758.0" cy="862.3" r="1.55"/><circle cx="758.0" cy="876.8" r="1.55"/><circle cx="758.0" cy="905.9" r="1.55"/><circle cx="758.0" cy="980.2" r="1.55"/><circle cx="767.0" cy="691.9" r="1.55"/><circle cx="767.0" cy="696.3" r="1.55"/><circle cx="767.0" cy="718.1" r="1.55"/><circle cx="767.0" cy="766.2" r="1.55"/><circle cx="767.0" cy="790.9" r="1.55"/><circle cx="767.0" cy="802.6" r="1.55"/><circle cx="767.0" cy="834.6" r="1.55"/><circle cx="767.0" cy="849.2" r="1.55"/><circle cx="767.0" cy="876.8" r="1.55"/><circle cx="767.0" cy="905.9" r="1.55"/><circle cx="767.0" cy="919.0" r="1.55"/><circle cx="767.0" cy="980.2" r="1.55"/><circle cx="784.5" cy="691.9" r="1.55"/><circle cx="784.5" cy="696.3" r="1.55"/><circle cx="784.5" cy="712.3" r="1.55"/><circle cx="784.5" cy="718.1" r="1.55"/><circle cx="784.5" cy="731.2" r="1.55"/><circle cx="784.5" cy="742.9" r="1.55"/><circle cx="784.5" cy="754.5" r="1.55"/><circle cx="784.5" cy="766.2" r="1.55"/><circle cx="784.5" cy="773.4" r="1.55"/><circle cx="784.5" cy="802.6" r="1.55"/><circle cx="784.5" cy="818.6" r="1.55"/><circle cx="784.5" cy="834.6" r="1.55"/><circle cx="784.5" cy="849.2" r="1.55"/><circle cx="784.5" cy="876.8" r="1.55"/><circle cx="784.5" cy="888.5" r="1.55"/><circle cx="784.5" cy="980.2" r="1.55"/><circle cx="795.6" cy="691.9" r="1.55"/><circle cx="795.6" cy="696.3" r="1.55"/><circle cx="795.6" cy="712.3" r="1.55"/><circle cx="795.6" cy="718.1" r="1.55"/><circle cx="795.6" cy="766.2" r="1.55"/><circle cx="795.6" cy="790.9" r="1.55"/><circle cx="795.6" cy="818.6" r="1.55"/><circle cx="795.6" cy="834.6" r="1.55"/><circle cx="795.6" cy="849.2" r="1.55"/><circle cx="795.6" cy="862.3" r="1.55"/><circle cx="795.6" cy="876.8" r="1.55"/><circle cx="795.6" cy="888.5" r="1.55"/><circle cx="795.6" cy="905.9" r="1.55"/><circle cx="795.6" cy="919.0" r="1.55"/><circle cx="795.6" cy="980.2" r="1.55"/><circle cx="810.7" cy="691.9" r="1.55"/><circle cx="810.7" cy="718.1" r="1.55"/><circle cx="810.7" cy="742.9" r="1.55"/><circle cx="810.7" cy="754.5" r="1.55"/><circle cx="810.7" cy="773.4" r="1.55"/><circle cx="810.7" cy="790.9" r="1.55"/><circle cx="810.7" cy="834.6" r="1.55"/><circle cx="810.7" cy="862.3" r="1.55"/><circle cx="810.7" cy="876.8" r="1.55"/><circle cx="810.7" cy="888.5" r="1.55"/><circle cx="810.7" cy="905.9" r="1.55"/><circle cx="810.7" cy="980.2" r="1.55"/><circle cx="821.8" cy="691.9" r="1.55"/><circle cx="821.8" cy="696.3" r="1.55"/><circle cx="821.8" cy="731.2" r="1.55"/><circle cx="821.8" cy="742.9" r="1.55"/><circle cx="821.8" cy="754.5" r="1.55"/><circle cx="821.8" cy="766.2" r="1.55"/><circle cx="821.8" cy="773.4" r="1.55"/><circle cx="821.8" cy="818.6" r="1.55"/><circle cx="821.8" cy="834.6" r="1.55"/><circle cx="821.8" cy="849.2" r="1.55"/><circle cx="821.8" cy="876.8" r="1.55"/><circle cx="821.8" cy="919.0" r="1.55"/><circle cx="821.8" cy="980.2" r="1.55"/><circle cx="837.0" cy="691.9" r="1.55"/><circle cx="837.0" cy="712.3" r="1.55"/><circle cx="837.0" cy="731.2" r="1.55"/><circle cx="837.0" cy="742.9" r="1.55"/><circle cx="837.0" cy="754.5" r="1.55"/><circle cx="837.0" cy="766.2" r="1.55"/><circle cx="837.0" cy="773.4" r="1.55"/><circle cx="837.0" cy="802.6" r="1.55"/><circle cx="837.0" cy="818.6" r="1.55"/><circle cx="837.0" cy="834.6" r="1.55"/><circle cx="837.0" cy="862.3" r="1.55"/><circle cx="837.0" cy="905.9" r="1.55"/><circle cx="837.0" cy="919.0" r="1.55"/><circle cx="837.0" cy="980.2" r="1.55"/><circle cx="847.0" cy="691.9" r="1.55"/><circle cx="847.0" cy="712.3" r="1.55"/><circle cx="847.0" cy="731.2" r="1.55"/><circle cx="847.0" cy="742.9" r="1.55"/><circle cx="847.0" cy="754.5" r="1.55"/><circle cx="847.0" cy="790.9" r="1.55"/><circle cx="847.0" cy="802.6" r="1.55"/><circle cx="847.0" cy="834.6" r="1.55"/><circle cx="847.0" cy="849.2" r="1.55"/><circle cx="847.0" cy="862.3" r="1.55"/><circle cx="847.0" cy="876.8" r="1.55"/><circle cx="847.0" cy="905.9" r="1.55"/><circle cx="847.0" cy="980.2" r="1.55"/><circle cx="856.0" cy="691.9" r="1.55"/><circle cx="856.0" cy="696.3" r="1.55"/><circle cx="856.0" cy="712.3" r="1.55"/><circle cx="856.0" cy="731.2" r="1.55"/><circle cx="856.0" cy="742.9" r="1.55"/><circle cx="856.0" cy="773.4" r="1.55"/><circle cx="856.0" cy="790.9" r="1.55"/><circle cx="856.0" cy="802.6" r="1.55"/><circle cx="856.0" cy="818.6" r="1.55"/><circle cx="856.0" cy="834.6" r="1.55"/><circle cx="856.0" cy="849.2" r="1.55"/><circle cx="856.0" cy="862.3" r="1.55"/><circle cx="856.0" cy="888.5" r="1.55"/><circle cx="856.0" cy="905.9" r="1.55"/><circle cx="856.0" cy="980.2" r="1.55"/><circle cx="865.0" cy="691.9" r="1.55"/><circle cx="865.0" cy="696.3" r="1.55"/><circle cx="865.0" cy="712.3" r="1.55"/><circle cx="865.0" cy="718.1" r="1.55"/><circle cx="865.0" cy="790.9" r="1.55"/><circle cx="865.0" cy="802.6" r="1.55"/><circle cx="865.0" cy="818.6" r="1.55"/><circle cx="865.0" cy="834.6" r="1.55"/><circle cx="865.0" cy="862.3" r="1.55"/><circle cx="865.0" cy="876.8" r="1.55"/><circle cx="865.0" cy="888.5" r="1.55"/><circle cx="865.0" cy="905.9" r="1.55"/><circle cx="865.0" cy="980.2" r="1.55"/><circle cx="878.0" cy="691.9" r="1.55"/><circle cx="878.0" cy="696.3" r="1.55"/><circle cx="878.0" cy="718.1" r="1.55"/><circle cx="878.0" cy="742.9" r="1.55"/><circle cx="878.0" cy="754.5" r="1.55"/><circle cx="878.0" cy="766.2" r="1.55"/><circle cx="878.0" cy="773.4" r="1.55"/><circle cx="878.0" cy="802.6" r="1.55"/><circle cx="878.0" cy="818.6" r="1.55"/><circle cx="878.0" cy="834.6" r="1.55"/><circle cx="878.0" cy="849.2" r="1.55"/><circle cx="878.0" cy="862.3" r="1.55"/><circle cx="878.0" cy="888.5" r="1.55"/><circle cx="878.0" cy="919.0" r="1.55"/><circle cx="878.0" cy="980.2" r="1.55"/><circle cx="887.0" cy="691.9" r="1.55"/><circle cx="887.0" cy="712.3" r="1.55"/><circle cx="887.0" cy="731.2" r="1.55"/><circle cx="887.0" cy="773.4" r="1.55"/><circle cx="887.0" cy="790.9" r="1.55"/><circle cx="887.0" cy="818.6" r="1.55"/><circle cx="887.0" cy="834.6" r="1.55"/><circle cx="887.0" cy="849.2" r="1.55"/><circle cx="887.0" cy="876.8" r="1.55"/><circle cx="887.0" cy="905.9" r="1.55"/><circle cx="887.0" cy="919.0" r="1.55"/><circle cx="887.0" cy="980.2" r="1.55"/><circle cx="900.5" cy="691.9" r="1.55"/><circle cx="900.5" cy="712.3" r="1.55"/><circle cx="900.5" cy="718.1" r="1.55"/><circle cx="900.5" cy="754.5" r="1.55"/><circle cx="900.5" cy="766.2" r="1.55"/><circle cx="900.5" cy="773.4" r="1.55"/><circle cx="900.5" cy="790.9" r="1.55"/><circle cx="900.5" cy="802.6" r="1.55"/><circle cx="900.5" cy="834.6" r="1.55"/><circle cx="900.5" cy="849.2" r="1.55"/><circle cx="900.5" cy="862.3" r="1.55"/><circle cx="900.5" cy="888.5" r="1.55"/><circle cx="900.5" cy="905.9" r="1.55"/><circle cx="900.5" cy="919.0" r="1.55"/><circle cx="900.5" cy="980.2" r="1.55"/><circle cx="909.6" cy="691.9" r="1.55"/><circle cx="909.6" cy="742.9" r="1.55"/><circle cx="909.6" cy="766.2" r="1.55"/><circle cx="909.6" cy="802.6" r="1.55"/><circle cx="909.6" cy="834.6" r="1.55"/><circle cx="909.6" cy="849.2" r="1.55"/><circle cx="909.6" cy="862.3" r="1.55"/><circle cx="909.6" cy="876.8" r="1.55"/><circle cx="909.6" cy="888.5" r="1.55"/><circle cx="909.6" cy="905.9" r="1.55"/><circle cx="909.6" cy="919.0" r="1.55"/><circle cx="909.6" cy="980.2" r="1.55"/><circle cx="924.7" cy="691.9" r="1.55"/><circle cx="924.7" cy="718.1" r="1.55"/><circle cx="924.7" cy="731.2" r="1.55"/><circle cx="924.7" cy="742.9" r="1.55"/><circle cx="924.7" cy="754.5" r="1.55"/><circle cx="924.7" cy="766.2" r="1.55"/><circle cx="924.7" cy="773.4" r="1.55"/><circle cx="924.7" cy="802.6" r="1.55"/><circle cx="924.7" cy="818.6" r="1.55"/><circle cx="924.7" cy="834.6" r="1.55"/><circle cx="924.7" cy="849.2" r="1.55"/><circle cx="924.7" cy="888.5" r="1.55"/><circle cx="924.7" cy="905.9" r="1.55"/><circle cx="924.7" cy="980.2" r="1.55"/><circle cx="932.7" cy="691.9" r="1.55"/><circle cx="932.7" cy="696.3" r="1.55"/><circle cx="932.7" cy="718.1" r="1.55"/><circle cx="932.7" cy="731.2" r="1.55"/><circle cx="932.7" cy="742.9" r="1.55"/><circle cx="932.7" cy="766.2" r="1.55"/><circle cx="932.7" cy="802.6" r="1.55"/><circle cx="932.7" cy="818.6" r="1.55"/><circle cx="932.7" cy="834.6" r="1.55"/><circle cx="932.7" cy="862.3" r="1.55"/><circle cx="932.7" cy="905.9" r="1.55"/><circle cx="932.7" cy="919.0" r="1.55"/><circle cx="932.7" cy="980.2" r="1.55"/><circle cx="947.0" cy="691.9" r="1.55"/><circle cx="947.0" cy="696.3" r="1.55"/><circle cx="947.0" cy="712.3" r="1.55"/><circle cx="947.0" cy="718.1" r="1.55"/><circle cx="947.0" cy="766.2" r="1.55"/><circle cx="947.0" cy="773.4" r="1.55"/><circle cx="947.0" cy="790.9" r="1.55"/><circle cx="947.0" cy="818.6" r="1.55"/><circle cx="947.0" cy="834.6" r="1.55"/><circle cx="947.0" cy="849.2" r="1.55"/><circle cx="947.0" cy="876.8" r="1.55"/><circle cx="947.0" cy="905.9" r="1.55"/><circle cx="947.0" cy="980.2" r="1.55"/><circle cx="956.0" cy="691.9" r="1.55"/><circle cx="956.0" cy="696.3" r="1.55"/><circle cx="956.0" cy="718.1" r="1.55"/><circle cx="956.0" cy="731.2" r="1.55"/><circle cx="956.0" cy="754.5" r="1.55"/><circle cx="956.0" cy="773.4" r="1.55"/><circle cx="956.0" cy="790.9" r="1.55"/><circle cx="956.0" cy="818.6" r="1.55"/><circle cx="956.0" cy="834.6" r="1.55"/><circle cx="956.0" cy="849.2" r="1.55"/><circle cx="956.0" cy="862.3" r="1.55"/><circle cx="956.0" cy="876.8" r="1.55"/><circle cx="956.0" cy="905.9" r="1.55"/><circle cx="956.0" cy="919.0" r="1.55"/><circle cx="956.0" cy="980.2" r="1.55"/><circle cx="974.0" cy="691.9" r="1.55"/><circle cx="974.0" cy="696.3" r="1.55"/><circle cx="974.0" cy="712.3" r="1.55"/><circle cx="974.0" cy="718.1" r="1.55"/><circle cx="974.0" cy="731.2" r="1.55"/><circle cx="974.0" cy="742.9" r="1.55"/><circle cx="974.0" cy="754.5" r="1.55"/><circle cx="974.0" cy="766.2" r="1.55"/><circle cx="974.0" cy="773.4" r="1.55"/><circle cx="974.0" cy="790.9" r="1.55"/><circle cx="974.0" cy="802.6" r="1.55"/><circle cx="974.0" cy="834.6" r="1.55"/><circle cx="974.0" cy="862.3" r="1.55"/><circle cx="974.0" cy="876.8" r="1.55"/><circle cx="974.0" cy="919.0" r="1.55"/><circle cx="974.0" cy="980.2" r="1.55"/><circle cx="985.0" cy="691.9" r="1.55"/><circle cx="985.0" cy="712.3" r="1.55"/><circle cx="985.0" cy="731.2" r="1.55"/><circle cx="985.0" cy="742.9" r="1.55"/><circle cx="985.0" cy="754.5" r="1.55"/><circle cx="985.0" cy="766.2" r="1.55"/><circle cx="985.0" cy="790.9" r="1.55"/><circle cx="985.0" cy="834.6" r="1.55"/><circle cx="985.0" cy="849.2" r="1.55"/><circle cx="985.0" cy="876.8" r="1.55"/><circle cx="985.0" cy="888.5" r="1.55"/><circle cx="985.0" cy="905.9" r="1.55"/><circle cx="985.0" cy="919.0" r="1.55"/><circle cx="985.0" cy="980.2" r="1.55"/><circle cx="1006.0" cy="691.9" r="1.55"/><circle cx="1006.0" cy="696.3" r="1.55"/><circle cx="1006.0" cy="731.2" r="1.55"/><circle cx="1006.0" cy="754.5" r="1.55"/><circle cx="1006.0" cy="766.2" r="1.55"/><circle cx="1006.0" cy="790.9" r="1.55"/><circle cx="1006.0" cy="818.6" r="1.55"/><circle cx="1006.0" cy="834.6" r="1.55"/><circle cx="1006.0" cy="849.2" r="1.55"/><circle cx="1006.0" cy="876.8" r="1.55"/><circle cx="1006.0" cy="905.9" r="1.55"/><circle cx="1006.0" cy="980.2" r="1.55"/><circle cx="1016.0" cy="691.9" r="1.55"/><circle cx="1016.0" cy="718.1" r="1.55"/><circle cx="1016.0" cy="731.2" r="1.55"/><circle cx="1016.0" cy="742.9" r="1.55"/><circle cx="1016.0" cy="754.5" r="1.55"/><circle cx="1016.0" cy="766.2" r="1.55"/><circle cx="1016.0" cy="790.9" r="1.55"/><circle cx="1016.0" cy="818.6" r="1.55"/><circle cx="1016.0" cy="834.6" r="1.55"/><circle cx="1016.0" cy="862.3" r="1.55"/><circle cx="1016.0" cy="876.8" r="1.55"/><circle cx="1016.0" cy="888.5" r="1.55"/><circle cx="1016.0" cy="905.9" r="1.55"/><circle cx="1016.0" cy="980.2" r="1.55"/><circle cx="1035.6" cy="691.9" r="1.55"/><circle cx="1035.6" cy="742.9" r="1.55"/><circle cx="1035.6" cy="754.5" r="1.55"/><circle cx="1035.6" cy="766.2" r="1.55"/><circle cx="1035.6" cy="790.9" r="1.55"/><circle cx="1035.6" cy="834.6" r="1.55"/><circle cx="1035.6" cy="862.3" r="1.55"/><circle cx="1035.6" cy="905.9" r="1.55"/><circle cx="1035.6" cy="980.2" r="1.55"/><circle cx="1045.6" cy="691.9" r="1.55"/><circle cx="1045.6" cy="696.3" r="1.55"/><circle cx="1045.6" cy="712.3" r="1.55"/><circle cx="1045.6" cy="718.1" r="1.55"/><circle cx="1045.6" cy="742.9" r="1.55"/><circle cx="1045.6" cy="754.5" r="1.55"/><circle cx="1045.6" cy="773.4" r="1.55"/><circle cx="1045.6" cy="790.9" r="1.55"/><circle cx="1045.6" cy="802.6" r="1.55"/><circle cx="1045.6" cy="834.6" r="1.55"/><circle cx="1045.6" cy="862.3" r="1.55"/><circle cx="1045.6" cy="876.8" r="1.55"/><circle cx="1045.6" cy="905.9" r="1.55"/><circle cx="1045.6" cy="980.2" r="1.55"/><circle cx="1066.8" cy="691.9" r="1.55"/><circle cx="1066.8" cy="696.3" r="1.55"/><circle cx="1066.8" cy="718.1" r="1.55"/><circle cx="1066.8" cy="731.2" r="1.55"/><circle cx="1066.8" cy="742.9" r="1.55"/><circle cx="1066.8" cy="754.5" r="1.55"/><circle cx="1066.8" cy="766.2" r="1.55"/><circle cx="1066.8" cy="773.4" r="1.55"/><circle cx="1066.8" cy="802.6" r="1.55"/><circle cx="1066.8" cy="818.6" r="1.55"/><circle cx="1066.8" cy="834.6" r="1.55"/><circle cx="1066.8" cy="862.3" r="1.55"/><circle cx="1066.8" cy="876.8" r="1.55"/><circle cx="1066.8" cy="888.5" r="1.55"/><circle cx="1066.8" cy="905.9" r="1.55"/><circle cx="1066.8" cy="919.0" r="1.55"/><circle cx="1066.8" cy="980.2" r="1.55"/><circle cx="1078.0" cy="691.9" r="1.55"/><circle cx="1078.0" cy="696.3" r="1.55"/><circle cx="1078.0" cy="712.3" r="1.55"/><circle cx="1078.0" cy="754.5" r="1.55"/><circle cx="1078.0" cy="773.4" r="1.55"/><circle cx="1078.0" cy="834.6" r="1.55"/><circle cx="1078.0" cy="919.0" r="1.55"/><circle cx="1078.0" cy="980.2" r="1.55"/></g>
<g fill="#000"><circle cx="227.8" cy="694.2" r="2.4"/><circle cx="227.8" cy="706.6" r="2.4"/><circle cx="228.3" cy="718.9" r="2.4"/><circle cx="233.3" cy="730.3" r="2.4"/><circle cx="238.4" cy="741.6" r="2.4"/><circle cx="242.6" cy="753.3" r="2.4"/><circle cx="248.2" cy="764.3" r="2.4"/><circle cx="252.7" cy="775.9" r="2.4"/><circle cx="256.2" cy="787.8" r="2.4"/><circle cx="258.6" cy="799.9" r="2.4"/><circle cx="260.8" cy="812.1" r="2.4"/><circle cx="263.3" cy="824.3" r="2.4"/><circle cx="265.0" cy="836.5" r="2.4"/><circle cx="267.3" cy="848.7" r="2.4"/><circle cx="269.4" cy="860.9" r="2.4"/><circle cx="272.0" cy="873.1" r="2.4"/><circle cx="273.9" cy="885.3" r="2.4"/><circle cx="276.5" cy="897.4" r="2.4"/><circle cx="278.5" cy="909.7" r="2.4"/><circle cx="280.6" cy="921.9" r="2.4"/><circle cx="283.1" cy="934.0" r="2.4"/><circle cx="287.2" cy="945.3" r="2.4"/><circle cx="297.9" cy="947.6" r="2.4"/><circle cx="309.9" cy="944.4" r="2.4"/><circle cx="321.7" cy="944.8" r="2.4"/><circle cx="330.5" cy="952.7" r="2.4"/><circle cx="338.8" cy="961.7" r="2.4"/><circle cx="349.9" cy="959.6" r="2.4"/><circle cx="360.5" cy="953.3" r="2.4"/><circle cx="371.4" cy="947.4" r="2.4"/><circle cx="383.5" cy="946.7" r="2.4"/><circle cx="391.4" cy="955.9" r="2.4"/><circle cx="400.7" cy="950.1" r="2.4"/><circle cx="408.7" cy="940.8" r="2.4"/><circle cx="421.0" cy="940.7" r="2.4"/><circle cx="431.2" cy="934.4" r="2.4"/><circle cx="438.4" cy="924.4" r="2.4"/><circle cx="444.9" cy="913.8" r="2.4"/><circle cx="451.1" cy="903.1" r="2.4"/><circle cx="457.6" cy="892.5" r="2.4"/><circle cx="464.7" cy="882.4" r="2.4"/><circle cx="473.3" cy="873.5" r="2.4"/><circle cx="482.2" cy="864.8" r="2.4"/><circle cx="491.3" cy="856.4" r="2.4"/><circle cx="499.6" cy="847.4" r="2.4"/><circle cx="505.5" cy="836.5" r="2.4"/><circle cx="512.9" cy="827.2" r="2.4"/><circle cx="524.3" cy="822.3" r="2.4"/><circle cx="535.3" cy="817.1" r="2.4"/><circle cx="543.5" cy="807.9" r="2.4"/><circle cx="551.4" cy="798.4" r="2.4"/><circle cx="561.8" cy="792.5" r="2.4"/><circle cx="574.1" cy="791.3" r="2.4"/><circle cx="586.0" cy="788.0" r="2.4"/><circle cx="597.8" cy="785.2" r="2.4"/><circle cx="609.2" cy="789.4" r="2.4"/><circle cx="618.6" cy="784.8" r="2.4"/><circle cx="626.7" cy="775.5" r="2.4"/><circle cx="637.7" cy="773.3" r="2.4"/><circle cx="650.1" cy="774.3" r="2.4"/><circle cx="662.5" cy="774.5" r="2.4"/><circle cx="674.2" cy="770.7" r="2.4"/><circle cx="680.1" cy="760.0" r="2.4"/><circle cx="685.8" cy="749.0" r="2.4"/><circle cx="697.9" cy="746.2" r="2.4"/><circle cx="706.1" cy="755.3" r="2.4"/><circle cx="712.5" cy="765.8" r="2.4"/><circle cx="719.0" cy="776.4" r="2.4"/><circle cx="726.2" cy="786.5" r="2.4"/><circle cx="732.2" cy="797.3" r="2.4"/><circle cx="737.4" cy="808.6" r="2.4"/><circle cx="747.8" cy="813.3" r="2.4"/><circle cx="756.9" cy="814.6" r="2.4"/><circle cx="760.3" cy="826.5" r="2.4"/><circle cx="763.2" cy="838.6" r="2.4"/><circle cx="766.3" cy="850.6" r="2.4"/><circle cx="769.1" cy="862.7" r="2.4"/><circle cx="771.7" cy="874.8" r="2.4"/><circle cx="774.4" cy="886.9" r="2.4"/><circle cx="777.4" cy="898.9" r="2.4"/><circle cx="780.4" cy="911.0" r="2.4"/><circle cx="786.2" cy="920.0" r="2.4"/><circle cx="796.9" cy="917.4" r="2.4"/><circle cx="806.5" cy="909.9" r="2.4"/><circle cx="814.6" cy="914.9" r="2.4"/><circle cx="823.0" cy="912.9" r="2.4"/><circle cx="827.0" cy="901.2" r="2.4"/><circle cx="832.3" cy="890.9" r="2.4"/><circle cx="839.5" cy="899.0" r="2.4"/><circle cx="844.2" cy="910.5" r="2.4"/><circle cx="848.8" cy="922.0" r="2.4"/><circle cx="854.2" cy="933.1" r="2.4"/><circle cx="859.0" cy="925.4" r="2.4"/><circle cx="864.5" cy="914.3" r="2.4"/><circle cx="873.7" cy="906.8" r="2.4"/><circle cx="879.2" cy="896.9" r="2.4"/><circle cx="882.7" cy="885.0" r="2.4"/><circle cx="887.0" cy="873.4" r="2.4"/><circle cx="889.7" cy="861.3" r="2.4"/><circle cx="892.0" cy="849.1" r="2.4"/><circle cx="901.0" cy="843.2" r="2.4"/><circle cx="909.6" cy="839.7" r="2.4"/><circle cx="913.6" cy="851.4" r="2.4"/><circle cx="917.8" cy="863.1" r="2.4"/><circle cx="920.8" cy="874.6" r="2.4"/><circle cx="924.2" cy="862.8" r="2.4"/><circle cx="925.5" cy="850.5" r="2.4"/><circle cx="926.8" cy="838.1" r="2.4"/><circle cx="927.6" cy="825.8" r="2.4"/><circle cx="928.8" cy="813.4" r="2.4"/><circle cx="934.3" cy="810.2" r="2.4"/><circle cx="943.8" cy="818.0" r="2.4"/><circle cx="950.5" cy="828.4" r="2.4"/><circle cx="957.1" cy="838.9" r="2.4"/><circle cx="964.7" cy="845.9" r="2.4"/><circle cx="969.4" cy="844.8" r="2.4"/><circle cx="972.4" cy="851.5" r="2.4"/><circle cx="973.8" cy="839.2" r="2.4"/><circle cx="975.2" cy="826.8" r="2.4"/><circle cx="977.3" cy="814.6" r="2.4"/><circle cx="979.4" cy="802.4" r="2.4"/><circle cx="982.6" cy="790.8" r="2.4"/><circle cx="990.2" cy="781.0" r="2.4"/><circle cx="998.0" cy="771.3" r="2.4"/><circle cx="1005.1" cy="761.4" r="2.4"/><circle cx="1011.9" cy="751.2" r="2.4"/><circle cx="1020.1" cy="750.2" r="2.4"/><circle cx="1027.1" cy="760.3" r="2.4"/><circle cx="1035.7" cy="769.1" r="2.4"/><circle cx="1045.1" cy="769.8" r="2.4"/><circle cx="1051.9" cy="759.6" r="2.4"/><circle cx="1057.9" cy="748.8" r="2.4"/><circle cx="1062.6" cy="737.4" r="2.4"/><circle cx="1065.8" cy="725.4" r="2.4"/></g>
<g fill="#000"><circle cx="183.5" cy="711.9" r="2.4"/><circle cx="187.5" cy="723.6" r="2.4"/><circle cx="196.6" cy="730.5" r="2.4"/><circle cx="200.6" cy="741.2" r="2.4"/><circle cx="207.7" cy="754.9" r="2.4"/></g>
<g fill="#000"><circle cx="211.7" cy="718.7" r="2.4"/><circle cx="210.7" cy="731.4" r="2.4"/><circle cx="208.7" cy="743.2" r="2.4"/></g>
<g fill="#fff"><circle cx="151.2" cy="748.1" r="2.4"/><circle cx="161.9" cy="753.6" r="2.4"/><circle cx="172.8" cy="747.7" r="2.4"/><circle cx="182.6" cy="740.1" r="2.4"/><circle cx="191.9" cy="731.9" r="2.4"/><circle cx="202.9" cy="729.6" r="2.4"/><circle cx="212.6" cy="737.2" r="2.4"/><circle cx="221.8" cy="745.5" r="2.4"/><circle cx="232.1" cy="752.4" r="2.4"/><circle cx="242.3" cy="759.3" r="2.4"/><circle cx="250.6" cy="768.6" r="2.4"/><circle cx="258.3" cy="778.3" r="2.4"/><circle cx="265.0" cy="788.7" r="2.4"/><circle cx="271.1" cy="799.5" r="2.4"/><circle cx="277.8" cy="809.9" r="2.4"/><circle cx="285.1" cy="819.9" r="2.4"/><circle cx="291.3" cy="830.7" r="2.4"/><circle cx="298.5" cy="840.7" r="2.4"/><circle cx="305.6" cy="850.9" r="2.4"/><circle cx="314.1" cy="859.5" r="2.4"/><circle cx="326.2" cy="862.0" r="2.4"/><circle cx="338.1" cy="865.3" r="2.4"/><circle cx="349.0" cy="871.2" r="2.4"/><circle cx="359.4" cy="878.0" r="2.4"/><circle cx="370.5" cy="883.3" r="2.4"/><circle cx="382.8" cy="885.1" r="2.4"/><circle cx="394.8" cy="885.3" r="2.4"/><circle cx="401.8" cy="875.2" r="2.4"/><circle cx="409.4" cy="865.4" r="2.4"/><circle cx="421.6" cy="863.4" r="2.4"/><circle cx="433.9" cy="862.4" r="2.4"/><circle cx="445.8" cy="858.8" r="2.4"/><circle cx="455.3" cy="850.9" r="2.4"/><circle cx="464.9" cy="843.0" r="2.4"/><circle cx="474.6" cy="835.3" r="2.4"/><circle cx="484.0" cy="827.3" r="2.4"/><circle cx="493.7" cy="819.5" r="2.4"/><circle cx="503.4" cy="811.8" r="2.4"/><circle cx="513.6" cy="804.8" r="2.4"/><circle cx="526.0" cy="804.4" r="2.4"/><circle cx="538.4" cy="804.4" r="2.4"/><circle cx="550.8" cy="805.7" r="2.4"/><circle cx="562.7" cy="808.9" r="2.4"/><circle cx="574.9" cy="811.1" r="2.4"/><circle cx="587.3" cy="811.6" r="2.4"/><circle cx="599.7" cy="811.7" r="2.4"/><circle cx="609.7" cy="804.9" r="2.4"/><circle cx="618.6" cy="796.2" r="2.4"/><circle cx="627.6" cy="787.7" r="2.4"/><circle cx="639.3" cy="784.9" r="2.4"/><circle cx="651.7" cy="784.0" r="2.4"/><circle cx="664.1" cy="783.9" r="2.4"/><circle cx="676.5" cy="783.9" r="2.4"/><circle cx="687.6" cy="788.6" r="2.4"/><circle cx="697.1" cy="796.5" r="2.4"/><circle cx="706.3" cy="804.8" r="2.4"/><circle cx="715.6" cy="813.1" r="2.4"/><circle cx="724.6" cy="821.5" r="2.4"/><circle cx="733.8" cy="829.8" r="2.4"/><circle cx="744.5" cy="836.0" r="2.4"/><circle cx="755.8" cy="840.9" r="2.4"/><circle cx="767.3" cy="845.6" r="2.4"/><circle cx="778.9" cy="850.2" r="2.4"/><circle cx="790.6" cy="854.2" r="2.4"/><circle cx="802.7" cy="855.7" r="2.4"/><circle cx="815.1" cy="855.7" r="2.4"/><circle cx="827.5" cy="855.7" r="2.4"/><circle cx="839.9" cy="854.6" r="2.4"/><circle cx="851.6" cy="851.0" r="2.4"/><circle cx="863.0" cy="846.3" r="2.4"/><circle cx="874.8" cy="842.3" r="2.4"/><circle cx="886.7" cy="838.7" r="2.4"/><circle cx="898.3" cy="834.6" r="2.4"/><circle cx="907.2" cy="827.1" r="2.4"/><circle cx="913.0" cy="816.1" r="2.4"/><circle cx="918.5" cy="805.0" r="2.4"/><circle cx="924.3" cy="794.1" r="2.4"/><circle cx="933.3" cy="787.9" r="2.4"/><circle cx="945.7" cy="787.4" r="2.4"/><circle cx="958.1" cy="787.4" r="2.4"/><circle cx="970.5" cy="787.8" r="2.4"/><circle cx="982.0" cy="785.4" r="2.4"/><circle cx="991.6" cy="777.5" r="2.4"/><circle cx="1001.0" cy="769.4" r="2.4"/><circle cx="1011.1" cy="763.0" r="2.4"/><circle cx="1023.4" cy="761.4" r="2.4"/><circle cx="1035.8" cy="761.4" r="2.4"/><circle cx="1048.2" cy="761.2" r="2.4"/><circle cx="1060.5" cy="760.8" r="2.4"/><circle cx="1072.9" cy="760.8" r="2.4"/></g>
<g fill="#fff"><circle cx="145.2" cy="773.5" r="2.4"/><circle cx="154.1" cy="782.1" r="2.4"/><circle cx="165.6" cy="784.2" r="2.4"/><circle cx="175.2" cy="776.4" r="2.4"/><circle cx="183.1" cy="766.8" r="2.4"/><circle cx="190.7" cy="757.3" r="2.4"/><circle cx="202.1" cy="752.2" r="2.4"/><circle cx="209.5" cy="761.5" r="2.4"/><circle cx="216.3" cy="771.9" r="2.4"/><circle cx="225.6" cy="780.1" r="2.4"/><circle cx="235.7" cy="787.3" r="2.4"/><circle cx="242.9" cy="797.3" r="2.4"/><circle cx="249.4" cy="807.8" r="2.4"/><circle cx="255.5" cy="818.6" r="2.4"/><circle cx="261.3" cy="829.6" r="2.4"/><circle cx="265.8" cy="841.1" r="2.4"/><circle cx="270.7" cy="852.5" r="2.4"/><circle cx="274.8" cy="864.2" r="2.4"/><circle cx="279.6" cy="875.7" r="2.4"/><circle cx="285.5" cy="886.6" r="2.4"/><circle cx="289.8" cy="898.2" r="2.4"/><circle cx="294.9" cy="909.5" r="2.4"/><circle cx="299.9" cy="920.8" r="2.4"/><circle cx="305.8" cy="931.7" r="2.4"/><circle cx="311.8" cy="942.5" r="2.4"/><circle cx="322.6" cy="948.2" r="2.4"/><circle cx="334.3" cy="952.1" r="2.4"/><circle cx="344.4" cy="959.2" r="2.4"/><circle cx="353.4" cy="967.8" r="2.4"/><circle cx="361.9" cy="976.8" r="2.4"/><circle cx="372.7" cy="982.7" r="2.4"/><circle cx="384.8" cy="985.2" r="2.4"/><circle cx="396.4" cy="982.5" r="2.4"/><circle cx="401.7" cy="971.3" r="2.4"/><circle cx="407.1" cy="960.2" r="2.4"/><circle cx="416.5" cy="952.8" r="2.4"/><circle cx="428.9" cy="951.4" r="2.4"/><circle cx="440.7" cy="949.5" r="2.4"/><circle cx="449.2" cy="940.4" r="2.4"/><circle cx="456.9" cy="930.7" r="2.4"/><circle cx="464.9" cy="921.3" r="2.4"/><circle cx="472.7" cy="911.6" r="2.4"/><circle cx="480.7" cy="902.2" r="2.4"/><circle cx="488.4" cy="892.4" r="2.4"/><circle cx="496.2" cy="882.8" r="2.4"/><circle cx="503.9" cy="873.0" r="2.4"/><circle cx="512.4" cy="864.4" r="2.4"/><circle cx="524.7" cy="863.5" r="2.4"/><circle cx="537.1" cy="863.6" r="2.4"/><circle cx="549.4" cy="864.5" r="2.4"/><circle cx="560.9" cy="869.3" r="2.4"/><circle cx="572.3" cy="873.9" r="2.4"/><circle cx="584.7" cy="874.3" r="2.4"/><circle cx="597.1" cy="874.7" r="2.4"/><circle cx="606.8" cy="867.2" r="2.4"/><circle cx="614.1" cy="857.2" r="2.4"/><circle cx="621.6" cy="847.3" r="2.4"/><circle cx="628.5" cy="837.0" r="2.4"/><circle cx="640.2" cy="833.2" r="2.4"/><circle cx="652.6" cy="832.6" r="2.4"/><circle cx="665.0" cy="832.2" r="2.4"/><circle cx="677.4" cy="832.7" r="2.4"/><circle cx="688.1" cy="838.6" r="2.4"/><circle cx="695.4" cy="848.7" r="2.4"/><circle cx="702.9" cy="858.5" r="2.4"/><circle cx="710.5" cy="868.3" r="2.4"/><circle cx="717.5" cy="878.5" r="2.4"/><circle cx="724.8" cy="888.5" r="2.4"/><circle cx="732.5" cy="898.3" r="2.4"/><circle cx="740.4" cy="907.8" r="2.4"/><circle cx="750.7" cy="914.7" r="2.4"/><circle cx="761.5" cy="920.8" r="2.4"/><circle cx="772.1" cy="927.2" r="2.4"/><circle cx="782.5" cy="934.0" r="2.4"/><circle cx="793.5" cy="939.8" r="2.4"/><circle cx="805.8" cy="940.2" r="2.4"/><circle cx="818.2" cy="940.2" r="2.4"/><circle cx="830.6" cy="939.9" r="2.4"/><circle cx="842.8" cy="937.7" r="2.4"/><circle cx="853.7" cy="931.9" r="2.4"/><circle cx="864.4" cy="925.6" r="2.4"/><circle cx="875.3" cy="919.8" r="2.4"/><circle cx="886.5" cy="914.3" r="2.4"/><circle cx="897.8" cy="909.2" r="2.4"/><circle cx="906.0" cy="900.3" r="2.4"/><circle cx="910.4" cy="888.8" r="2.4"/><circle cx="914.4" cy="877.0" r="2.4"/><circle cx="918.2" cy="865.2" r="2.4"/><circle cx="922.6" cy="853.6" r="2.4"/><circle cx="926.4" cy="841.8" r="2.4"/><circle cx="937.9" cy="838.2" r="2.4"/><circle cx="950.3" cy="837.5" r="2.4"/><circle cx="962.7" cy="838.0" r="2.4"/><circle cx="975.1" cy="838.1" r="2.4"/><circle cx="984.8" cy="831.1" r="2.4"/><circle cx="990.0" cy="819.8" r="2.4"/><circle cx="997.6" cy="810.1" r="2.4"/><circle cx="1007.2" cy="802.2" r="2.4"/><circle cx="1018.9" cy="798.7" r="2.4"/><circle cx="1031.3" cy="798.6" r="2.4"/><circle cx="1043.7" cy="798.6" r="2.4"/><circle cx="1056.1" cy="798.6" r="2.4"/><circle cx="1068.5" cy="797.7" r="2.4"/><circle cx="1080.9" cy="797.0" r="2.4"/></g>
</g>
<rect x="130" y="993.8" width="954.5999999999999" height="61.700000000000045" fill="#fff"/>
<line x1="130" y1="993.8" x2="1084.6" y2="993.8" stroke="#222" stroke-width="1"/>
<rect x="130" y="689" width="954.5999999999999" height="366.5" fill="none" stroke="#111" stroke-width="1.6"/>
<line x1="130" y1="1055.5" x2="1084.6" y2="1055.5" stroke="#1a0a20" stroke-width="2.6"/>
<line x1="119" y1="689" x2="130" y2="689" stroke="#111" stroke-width="2"/>
<text x="107" y="699" text-anchor="end" font-size="28.5" font-weight="bold">0</text>
<line x1="119" y1="834.6" x2="130" y2="834.6" stroke="#111" stroke-width="2"/>
<text x="107" y="844.6" text-anchor="end" font-size="28.5" font-weight="bold">100</text>
<line x1="119" y1="980.5" x2="130" y2="980.5" stroke="#111" stroke-width="2"/>
<text x="107" y="990.5" text-anchor="end" font-size="28.5" font-weight="bold">200</text>
<line x1="123" y1="761.8" x2="130" y2="761.8" stroke="#bbb" stroke-width="1"/>
<line x1="123" y1="907.55" x2="130" y2="907.55" stroke="#bbb" stroke-width="1"/>
<line x1="123" y1="1055.5" x2="130" y2="1055.5" stroke="#bbb" stroke-width="1"/>
<line x1="197" y1="1055.5" x2="197" y2="1066.5" stroke="#111" stroke-width="2"/>
<text x="196.7" y="1097.5" text-anchor="middle" font-size="30" font-weight="bold">40°S</text>
<line x1="395.3" y1="1055.5" x2="395.3" y2="1066.5" stroke="#111" stroke-width="2"/>
<text x="395.0" y="1097.5" text-anchor="middle" font-size="30" font-weight="bold">20°S</text>
<line x1="593" y1="1055.5" x2="593" y2="1066.5" stroke="#111" stroke-width="2"/>
<text x="592.7" y="1097.5" text-anchor="middle" font-size="30" font-weight="bold">EQ</text>
<line x1="791.5" y1="1055.5" x2="791.5" y2="1066.5" stroke="#111" stroke-width="2"/>
<text x="791.2" y="1097.5" text-anchor="middle" font-size="30" font-weight="bold">20°N</text>
<line x1="989.5" y1="1055.5" x2="989.5" y2="1066.5" stroke="#111" stroke-width="2"/>
<text x="989.2" y="1097.5" text-anchor="middle" font-size="30" font-weight="bold">40°N</text>
<line x1="296" y1="1055.5" x2="296" y2="1063.5" stroke="#bbb" stroke-width="1.2"/>
<line x1="494" y1="1055.5" x2="494" y2="1063.5" stroke="#bbb" stroke-width="1.2"/>
<line x1="692.5" y1="1055.5" x2="692.5" y2="1063.5" stroke="#bbb" stroke-width="1.2"/>
<line x1="890" y1="1055.5" x2="890" y2="1063.5" stroke="#bbb" stroke-width="1.2"/>
<text transform="translate(26.3,870.3) rotate(-90)" text-anchor="middle" font-size="35" font-weight="bold">Depth [m]</text>
<text x="1075.5" y="655" text-anchor="end" font-size="36.5" font-weight="bold">Peuk</text>
<polygon points="1113.3999999999999,689 1130.0,683 1146.6,689 1146.6,1055.5 1130.0,1063.5 1113.3999999999999,1055.5" fill="url(#cbgp)"/>
<linearGradient id="cbgp" x1="0" y1="1055.5" x2="0" y2="689" gradientUnits="userSpaceOnUse"><stop offset="0.0" stop-color="#C27CF2"/><stop offset="0.015" stop-color="#B264F8"/><stop offset="0.04" stop-color="#9640F8"/><stop offset="0.07" stop-color="#7A30F8"/><stop offset="0.1" stop-color="#6634FC"/><stop offset="0.14" stop-color="#6046FC"/><stop offset="0.17" stop-color="#5660F8"/><stop offset="0.2" stop-color="#4C7CF4"/><stop offset="0.24" stop-color="#5090F0"/><stop offset="0.27" stop-color="#5CA4EC"/><stop offset="0.3" stop-color="#64B4E0"/><stop offset="0.32" stop-color="#6CC4C8"/><stop offset="0.345" stop-color="#72CCA8"/><stop offset="0.37" stop-color="#74D08C"/><stop offset="0.4" stop-color="#6CC86C"/><stop offset="0.42" stop-color="#66BC50"/><stop offset="0.45" stop-color="#66B040"/><stop offset="0.5" stop-color="#68AA34"/><stop offset="0.52" stop-color="#70B030"/><stop offset="0.57" stop-color="#90B830"/><stop offset="0.6" stop-color="#B0C430"/><stop offset="0.62" stop-color="#CCCC30"/><stop offset="0.66" stop-color="#E4C830"/><stop offset="0.7" stop-color="#F0C028"/><stop offset="0.74" stop-color="#E8A020"/><stop offset="0.77" stop-color="#E07C18"/><stop offset="0.8" stop-color="#D05010"/><stop offset="0.81" stop-color="#C03010"/><stop offset="0.83" stop-color="#B82028"/><stop offset="0.87" stop-color="#B82838"/><stop offset="0.9" stop-color="#C44858"/><stop offset="0.94" stop-color="#D88878"/><stop offset="0.97" stop-color="#E8A888"/><stop offset="1.0" stop-color="#F2C08C"/></linearGradient>
<line x1="1113.3999999999999" y1="689.0" x2="1121.3999999999999" y2="689.0" stroke="#111" stroke-width="2.2"/>
<line x1="1138.6" y1="689.0" x2="1146.6" y2="689.0" stroke="#111" stroke-width="2.2"/>
<text x="1155.4" y="699.0" font-size="28.5" font-weight="bold">10000</text>
<line x1="1113.3999999999999" y1="762.3" x2="1121.3999999999999" y2="762.3" stroke="#111" stroke-width="2.2"/>
<line x1="1138.6" y1="762.3" x2="1146.6" y2="762.3" stroke="#111" stroke-width="2.2"/>
<text x="1155.4" y="772.3" font-size="28.5" font-weight="bold">8000</text>
<line x1="1113.3999999999999" y1="835.6" x2="1121.3999999999999" y2="835.6" stroke="#111" stroke-width="2.2"/>
<line x1="1138.6" y1="835.6" x2="1146.6" y2="835.6" stroke="#111" stroke-width="2.2"/>
<text x="1155.4" y="845.6" font-size="28.5" font-weight="bold">6000</text>
<line x1="1113.3999999999999" y1="908.9" x2="1121.3999999999999" y2="908.9" stroke="#111" stroke-width="2.2"/>
<line x1="1138.6" y1="908.9" x2="1146.6" y2="908.9" stroke="#111" stroke-width="2.2"/>
<text x="1155.4" y="918.9" font-size="28.5" font-weight="bold">4000</text>
<line x1="1113.3999999999999" y1="982.2" x2="1121.3999999999999" y2="982.2" stroke="#111" stroke-width="2.2"/>
<line x1="1138.6" y1="982.2" x2="1146.6" y2="982.2" stroke="#111" stroke-width="2.2"/>
<text x="1155.4" y="992.2" font-size="28.5" font-weight="bold">2000</text>
<line x1="1113.3999999999999" y1="1055.5" x2="1121.3999999999999" y2="1055.5" stroke="#111" stroke-width="2.2"/>
<line x1="1138.6" y1="1055.5" x2="1146.6" y2="1055.5" stroke="#111" stroke-width="2.2"/>
<text x="1155.4" y="1065.5" font-size="28.5" font-weight="bold">0</text>
<text transform="translate(1108.4,1052.5) rotate(-90)" font-size="18" font-weight="bold">Ocean Data View</text>
<clipPath id="cpr"><rect x="130" y="1192.1" width="952.8" height="311.4000000000001"/></clipPath>
<g clip-path="url(#cpr)"><g filter="url(#bl)">
<rect x="100" y="1162.1" width="1012.8" height="371.4000000000001" fill="#B46BF9"/>
<path d="M230.0,1172.1 L230.0,1192.0 C231.7,1210.0 236.7,1265.3 240.0,1300.0 C243.3,1334.7 246.3,1373.3 250.0,1400.0 C253.7,1426.7 257.0,1442.5 262.0,1460.0 C267.0,1477.5 273.7,1496.7 280.0,1505.0 C286.3,1513.3 280.0,1509.2 300.0,1510.0 C320.0,1510.8 376.7,1516.7 400.0,1510.0 C423.3,1503.3 426.7,1481.7 440.0,1470.0 C453.3,1458.3 466.7,1450.0 480.0,1440.0 C493.3,1430.0 509.8,1418.3 520.0,1410.0 C530.2,1401.7 531.0,1395.8 541.0,1390.0 C551.0,1384.2 566.8,1379.2 580.0,1375.0 C593.2,1370.8 606.7,1368.3 620.0,1365.0 C633.3,1361.7 646.7,1355.8 660.0,1355.0 C673.3,1354.2 686.8,1355.0 700.0,1360.0 C713.2,1365.0 725.7,1375.0 739.0,1385.0 C752.3,1395.0 766.5,1410.0 780.0,1420.0 C793.5,1430.0 806.7,1438.3 820.0,1445.0 C833.3,1451.7 846.7,1460.8 860.0,1460.0 C873.3,1459.2 886.7,1448.3 900.0,1440.0 C913.3,1431.7 926.7,1421.7 940.0,1410.0 C953.3,1398.3 969.2,1383.3 980.0,1370.0 C990.8,1356.7 996.7,1338.3 1005.0,1330.0 C1013.3,1321.7 1020.8,1320.0 1030.0,1320.0 C1039.2,1320.0 1050.8,1330.0 1060.0,1330.0 C1069.2,1330.0 1078.8,1321.7 1085.0,1320.0 C1091.2,1318.3 1092.8,1320.0 1097.0,1320.0 C1101.2,1320.0 1107.8,1320.0 1110.0,1320.0 L1110.0,1172.1 Z" fill="#A65CF8"/>
<path d="M236.0,1172.1 L236.0,1192.0 C237.5,1208.3 242.3,1258.7 245.0,1290.0 C247.7,1321.3 249.5,1355.0 252.0,1380.0 C254.5,1405.0 256.2,1423.3 260.0,1440.0 C263.8,1456.7 268.3,1470.8 275.0,1480.0 C281.7,1489.2 289.2,1493.3 300.0,1495.0 C310.8,1496.7 326.7,1492.5 340.0,1490.0 C353.3,1487.5 366.7,1485.0 380.0,1480.0 C393.3,1475.0 406.7,1466.7 420.0,1460.0 C433.3,1453.3 448.5,1446.7 460.0,1440.0 C471.5,1433.3 480.7,1428.3 489.0,1420.0 C497.3,1411.7 501.3,1398.3 510.0,1390.0 C518.7,1381.7 531.0,1376.3 541.0,1370.0 C551.0,1363.7 560.2,1357.3 570.0,1352.0 C579.8,1346.7 588.3,1340.8 600.0,1338.0 C611.7,1335.2 630.0,1337.2 640.0,1335.0 C650.0,1332.8 651.7,1327.2 660.0,1325.0 C668.3,1322.8 680.0,1319.5 690.0,1322.0 C700.0,1324.5 711.8,1335.3 720.0,1340.0 C728.2,1344.7 732.3,1346.7 739.0,1350.0 C745.7,1353.3 751.5,1355.0 760.0,1360.0 C768.5,1365.0 780.0,1374.2 790.0,1380.0 C800.0,1385.8 810.0,1388.3 820.0,1395.0 C830.0,1401.7 840.3,1415.0 850.0,1420.0 C859.7,1425.0 868.8,1426.7 878.0,1425.0 C887.2,1423.3 896.3,1415.0 905.0,1410.0 C913.7,1405.0 920.8,1401.7 930.0,1395.0 C939.2,1388.3 950.0,1380.0 960.0,1370.0 C970.0,1360.0 982.5,1344.2 990.0,1335.0 C997.5,1325.8 998.3,1320.8 1005.0,1315.0 C1011.7,1309.2 1022.5,1300.8 1030.0,1300.0 C1037.5,1299.2 1045.0,1305.0 1050.0,1310.0 C1055.0,1315.0 1056.7,1331.7 1060.0,1330.0 C1063.3,1328.3 1065.8,1310.0 1070.0,1300.0 C1074.2,1290.0 1080.5,1275.0 1085.0,1270.0 C1089.5,1265.0 1092.8,1270.0 1097.0,1270.0 C1101.2,1270.0 1107.8,1270.0 1110.0,1270.0 L1110.0,1172.1 Z" fill="#6A3CF9"/>
<path d="M266.0,1172.1 L266.0,1192.0 C265.3,1208.3 263.7,1267.0 262.0,1290.0 C260.3,1313.0 257.3,1311.7 256.0,1330.0 C254.7,1348.3 253.0,1383.3 254.0,1400.0 C255.0,1416.7 257.2,1423.8 262.0,1430.0 C266.8,1436.2 273.3,1435.3 283.0,1437.0 C292.7,1438.7 307.2,1439.0 320.0,1440.0 C332.8,1441.0 348.3,1443.0 360.0,1443.0 C371.7,1443.0 380.0,1439.7 390.0,1440.0 C400.0,1440.3 410.8,1445.0 420.0,1445.0 C429.2,1445.0 438.3,1444.2 445.0,1440.0 C451.7,1435.8 455.8,1424.2 460.0,1420.0 C464.2,1415.8 465.0,1419.2 470.0,1415.0 C475.0,1410.8 481.7,1402.5 490.0,1395.0 C498.3,1387.5 511.5,1376.3 520.0,1370.0 C528.5,1363.7 532.7,1361.2 541.0,1357.0 C549.3,1352.8 560.2,1349.5 570.0,1345.0 C579.8,1340.5 590.0,1333.2 600.0,1330.0 C610.0,1326.8 620.0,1328.3 630.0,1326.0 C640.0,1323.7 650.0,1318.7 660.0,1316.0 C670.0,1313.3 680.0,1308.5 690.0,1310.0 C700.0,1311.5 711.8,1320.0 720.0,1325.0 C728.2,1330.0 732.3,1336.7 739.0,1340.0 C745.7,1343.3 751.5,1341.7 760.0,1345.0 C768.5,1348.3 781.7,1355.0 790.0,1360.0 C798.3,1365.0 803.3,1370.8 810.0,1375.0 C816.7,1379.2 823.3,1381.7 830.0,1385.0 C836.7,1388.3 843.3,1391.7 850.0,1395.0 C856.7,1398.3 865.3,1402.0 870.0,1405.0 C874.7,1408.0 874.7,1416.3 878.0,1413.0 C881.3,1409.7 886.3,1392.8 890.0,1385.0 C893.7,1377.2 896.3,1367.7 900.0,1366.0 C903.7,1364.3 907.8,1372.3 912.0,1375.0 C916.2,1377.7 920.8,1388.5 925.0,1382.0 C929.2,1375.5 931.0,1343.0 937.0,1336.0 C943.0,1329.0 952.3,1343.3 961.0,1340.0 C969.7,1336.7 981.7,1323.0 989.0,1316.0 C996.3,1309.0 999.7,1303.3 1005.0,1298.0 C1010.3,1292.7 1015.2,1285.0 1021.0,1284.0 C1026.8,1283.0 1034.8,1290.2 1040.0,1292.0 C1045.2,1293.8 1048.3,1298.7 1052.0,1295.0 C1055.7,1291.3 1056.5,1279.0 1062.0,1270.0 C1067.5,1261.0 1079.2,1245.8 1085.0,1241.0 C1090.8,1236.2 1092.8,1241.0 1097.0,1241.0 C1101.2,1241.0 1107.8,1241.0 1110.0,1241.0 L1110.0,1172.1 Z" fill="#4E82F2"/>
<ellipse cx="406" cy="1492" rx="10" ry="14" fill="#4E82F2"/>
<ellipse cx="1052" cy="1316" rx="12" ry="12" fill="#6A3CF9"/>
<path d="M272.0,1172.1 L272.0,1192.0 C271.7,1210.0 270.0,1277.0 270.0,1300.0 C270.0,1323.0 271.0,1315.0 272.0,1330.0 C273.0,1345.0 274.2,1377.5 276.0,1390.0 C277.8,1402.5 275.7,1402.0 283.0,1405.0 C290.3,1408.0 307.2,1407.2 320.0,1408.0 C332.8,1408.8 350.0,1411.3 360.0,1410.0 C370.0,1408.7 373.3,1399.2 380.0,1400.0 C386.7,1400.8 393.3,1413.3 400.0,1415.0 C406.7,1416.7 413.3,1412.5 420.0,1410.0 C426.7,1407.5 433.3,1403.3 440.0,1400.0 C446.7,1396.7 453.3,1395.0 460.0,1390.0 C466.7,1385.0 473.3,1376.7 480.0,1370.0 C486.7,1363.3 493.3,1355.8 500.0,1350.0 C506.7,1344.2 513.2,1338.3 520.0,1335.0 C526.8,1331.7 532.7,1332.2 541.0,1330.0 C549.3,1327.8 560.2,1324.0 570.0,1322.0 C579.8,1320.0 588.3,1321.2 600.0,1318.0 C611.7,1314.8 626.7,1307.2 640.0,1303.0 C653.3,1298.8 670.0,1293.5 680.0,1293.0 C690.0,1292.5 693.3,1296.3 700.0,1300.0 C706.7,1303.7 713.5,1311.3 720.0,1315.0 C726.5,1318.7 732.3,1320.2 739.0,1322.0 C745.7,1323.8 751.5,1323.8 760.0,1326.0 C768.5,1328.2 780.0,1331.8 790.0,1335.0 C800.0,1338.2 811.7,1344.2 820.0,1345.0 C828.3,1345.8 833.3,1338.3 840.0,1340.0 C846.7,1341.7 853.7,1347.5 860.0,1355.0 C866.3,1362.5 873.0,1386.7 878.0,1385.0 C883.0,1383.3 884.7,1353.0 890.0,1345.0 C895.3,1337.0 903.3,1339.5 910.0,1337.0 C916.7,1334.5 924.2,1332.0 930.0,1330.0 C935.8,1328.0 940.0,1327.7 945.0,1325.0 C950.0,1322.3 954.2,1317.3 960.0,1314.0 C965.8,1310.7 972.5,1312.0 980.0,1305.0 C987.5,1298.0 998.3,1282.0 1005.0,1272.0 C1011.7,1262.0 1015.0,1244.5 1020.0,1245.0 C1025.0,1245.5 1030.0,1269.2 1035.0,1275.0 C1040.0,1280.8 1045.5,1283.8 1050.0,1280.0 C1054.5,1276.2 1056.2,1259.5 1062.0,1252.0 C1067.8,1244.5 1079.2,1237.8 1085.0,1235.0 C1090.8,1232.2 1092.8,1235.0 1097.0,1235.0 C1101.2,1235.0 1107.8,1235.0 1110.0,1235.0 L1110.0,1172.1 Z" fill="#5EA6EA"/>
<path d="M280.0,1172.1 L280.0,1192.0 C280.0,1210.0 279.8,1268.7 280.0,1300.0 C280.2,1331.3 280.5,1365.0 281.0,1380.0 C281.5,1395.0 276.5,1388.0 283.0,1390.0 C289.5,1392.0 307.2,1391.2 320.0,1392.0 C332.8,1392.8 350.0,1396.2 360.0,1395.0 C370.0,1393.8 373.3,1385.5 380.0,1385.0 C386.7,1384.5 393.3,1392.0 400.0,1392.0 C406.7,1392.0 413.3,1387.8 420.0,1385.0 C426.7,1382.2 433.3,1379.2 440.0,1375.0 C446.7,1370.8 453.3,1365.0 460.0,1360.0 C466.7,1355.0 473.3,1350.0 480.0,1345.0 C486.7,1340.0 493.3,1333.8 500.0,1330.0 C506.7,1326.2 513.2,1324.3 520.0,1322.0 C526.8,1319.7 532.7,1317.5 541.0,1316.0 C549.3,1314.5 560.2,1314.2 570.0,1313.0 C579.8,1311.8 588.3,1311.8 600.0,1309.0 C611.7,1306.2 626.7,1300.5 640.0,1296.0 C653.3,1291.5 670.0,1283.8 680.0,1282.0 C690.0,1280.2 693.3,1282.0 700.0,1285.0 C706.7,1288.0 713.5,1296.7 720.0,1300.0 C726.5,1303.3 732.3,1303.3 739.0,1305.0 C745.7,1306.7 751.5,1307.8 760.0,1310.0 C768.5,1312.2 780.0,1316.0 790.0,1318.0 C800.0,1320.0 810.0,1321.7 820.0,1322.0 C830.0,1322.3 840.3,1319.5 850.0,1320.0 C859.7,1320.5 869.7,1328.3 878.0,1325.0 C886.3,1321.7 891.3,1304.2 900.0,1300.0 C908.7,1295.8 920.0,1300.8 930.0,1300.0 C940.0,1299.2 951.7,1297.5 960.0,1295.0 C968.3,1292.5 973.3,1289.2 980.0,1285.0 C986.7,1280.8 995.8,1275.8 1000.0,1270.0 C1004.2,1264.2 998.3,1253.3 1005.0,1250.0 C1011.7,1246.7 1030.8,1251.7 1040.0,1250.0 C1049.2,1248.3 1052.5,1243.3 1060.0,1240.0 C1067.5,1236.7 1078.8,1231.7 1085.0,1230.0 C1091.2,1228.3 1092.8,1230.0 1097.0,1230.0 C1101.2,1230.0 1107.8,1230.0 1110.0,1230.0 L1110.0,1172.1 Z" fill="#74CC88"/>
<path d="M1005.0,1192.0 C1018.3,1182.3 1071.7,1184.8 1085.0,1192.0 C1098.3,1199.2 1089.2,1227.0 1085.0,1235.0 C1080.8,1243.0 1067.5,1237.5 1060.0,1240.0 C1052.5,1242.5 1049.2,1248.3 1040.0,1250.0 C1030.8,1251.7 1010.8,1259.7 1005.0,1250.0 C999.2,1240.3 991.7,1201.7 1005.0,1192.0 Z" fill="#6CC4C0"/>
<path d="M1040.0,1192.0 C1043.3,1179.8 1058.3,1179.0 1062.0,1192.0 C1065.7,1205.0 1063.7,1255.7 1062.0,1270.0 C1060.3,1284.3 1055.3,1278.8 1052.0,1278.0 C1048.7,1277.2 1044.0,1279.3 1042.0,1265.0 C1040.0,1250.7 1036.7,1204.2 1040.0,1192.0 Z" fill="#66AE3A"/>
<path d="M283.0,1192.0 C310.0,1183.2 418.8,1188.2 445.0,1192.0 C471.2,1195.8 442.5,1206.2 440.0,1215.0 C437.5,1223.8 436.7,1237.2 430.0,1245.0 C423.3,1252.8 410.0,1258.7 400.0,1262.0 C390.0,1265.3 379.2,1265.0 370.0,1265.0 C360.8,1265.0 353.3,1264.5 345.0,1262.0 C336.7,1259.5 327.5,1252.8 320.0,1250.0 C312.5,1247.2 306.2,1245.8 300.0,1245.0 C293.8,1244.2 285.8,1253.8 283.0,1245.0 C280.2,1236.2 256.0,1200.8 283.0,1192.0 Z" fill="#5EA6EA"/>
<path d="M330.0,1192.0 C341.7,1187.3 393.7,1187.7 405.0,1192.0 C416.3,1196.3 402.5,1210.0 398.0,1218.0 C393.5,1226.0 386.0,1236.3 378.0,1240.0 C370.0,1243.7 357.2,1243.3 350.0,1240.0 C342.8,1236.7 338.3,1228.0 335.0,1220.0 C331.7,1212.0 318.3,1196.7 330.0,1192.0 Z" fill="#4E82F2"/>
<path d="M286.0,1250.0 C291.0,1230.3 309.3,1257.8 320.0,1262.0 C330.7,1266.2 343.3,1270.3 350.0,1275.0 C356.7,1279.7 355.0,1286.2 360.0,1290.0 C365.0,1293.8 374.7,1292.0 380.0,1298.0 C385.3,1304.0 387.3,1327.3 392.0,1326.0 C396.7,1324.7 402.3,1299.3 408.0,1290.0 C413.7,1280.7 419.8,1272.7 426.0,1270.0 C432.2,1267.3 440.8,1277.0 445.0,1274.0 C449.2,1271.0 446.7,1261.5 451.0,1252.0 C455.3,1242.5 468.0,1227.0 471.0,1217.0 C474.0,1207.0 457.3,1196.2 469.0,1192.0 C480.7,1187.8 529.0,1174.0 541.0,1192.0 C553.0,1210.0 544.5,1280.0 541.0,1300.0 C537.5,1320.0 526.8,1308.3 520.0,1312.0 C513.2,1315.7 506.7,1318.2 500.0,1322.0 C493.3,1325.8 486.7,1330.3 480.0,1335.0 C473.3,1339.7 465.8,1345.5 460.0,1350.0 C454.2,1354.5 450.0,1357.8 445.0,1362.0 C440.0,1366.2 435.0,1371.7 430.0,1375.0 C425.0,1378.3 420.0,1379.8 415.0,1382.0 C410.0,1384.2 405.0,1388.3 400.0,1388.0 C395.0,1387.7 390.0,1382.7 385.0,1380.0 C380.0,1377.3 375.0,1372.0 370.0,1372.0 C365.0,1372.0 360.8,1377.8 355.0,1380.0 C349.2,1382.2 342.5,1383.8 335.0,1385.0 C327.5,1386.2 317.5,1387.8 310.0,1387.0 C302.5,1386.2 294.0,1402.8 290.0,1380.0 C286.0,1357.2 281.0,1269.7 286.0,1250.0 Z" fill="#66AE3A"/>
<path d="M360.0,1300.0 C362.2,1295.0 370.8,1295.0 375.0,1300.0 C379.2,1305.0 382.2,1321.7 385.0,1330.0 C387.8,1338.3 392.0,1344.2 392.0,1350.0 C392.0,1355.8 388.7,1363.3 385.0,1365.0 C381.3,1366.7 373.8,1365.8 370.0,1360.0 C366.2,1354.2 363.7,1340.0 362.0,1330.0 C360.3,1320.0 357.8,1305.0 360.0,1300.0 Z" fill="#74CC88"/>
<path d="M541.0,1192.0 C618.3,1171.7 927.7,1182.3 1005.0,1192.0 C1082.3,1201.7 1007.5,1237.0 1005.0,1250.0 C1002.5,1263.0 997.5,1264.2 990.0,1270.0 C982.5,1275.8 970.0,1281.7 960.0,1285.0 C950.0,1288.3 940.0,1289.2 930.0,1290.0 C920.0,1290.8 907.7,1290.7 900.0,1290.0 C892.3,1289.3 889.0,1284.3 884.0,1286.0 C879.0,1287.7 875.7,1296.0 870.0,1300.0 C864.3,1304.0 858.3,1307.5 850.0,1310.0 C841.7,1312.5 830.0,1314.7 820.0,1315.0 C810.0,1315.3 800.0,1313.8 790.0,1312.0 C780.0,1310.2 768.5,1305.7 760.0,1304.0 C751.5,1302.3 745.7,1303.3 739.0,1302.0 C732.3,1300.7 726.5,1298.3 720.0,1296.0 C713.5,1293.7 706.7,1289.7 700.0,1288.0 C693.3,1286.3 690.0,1285.0 680.0,1286.0 C670.0,1287.0 653.3,1290.7 640.0,1294.0 C626.7,1297.3 611.7,1303.3 600.0,1306.0 C588.3,1308.7 579.8,1308.7 570.0,1310.0 C560.2,1311.3 545.8,1333.7 541.0,1314.0 C536.2,1294.3 463.7,1212.3 541.0,1192.0 Z" fill="#66AE3A"/>
<path d="M802.0,1192.0 C815.7,1180.7 870.3,1185.7 884.0,1192.0 C897.7,1198.3 886.3,1217.0 884.0,1230.0 C881.7,1243.0 876.5,1261.7 870.0,1270.0 C863.5,1278.3 851.7,1279.0 845.0,1280.0 C838.3,1281.0 837.2,1279.3 830.0,1276.0 C822.8,1272.7 806.7,1274.0 802.0,1260.0 C797.3,1246.0 788.3,1203.3 802.0,1192.0 Z" fill="#5EA6EA"/>
<path d="M840.0,1225.0 C845.5,1215.8 868.3,1218.8 875.0,1225.0 C881.7,1231.2 882.5,1251.8 880.0,1262.0 C877.5,1272.2 866.3,1283.0 860.0,1286.0 C853.7,1289.0 845.3,1290.2 842.0,1280.0 C838.7,1269.8 834.5,1234.2 840.0,1225.0 Z" fill="#4E82F2"/>
<path d="M802.0,1192.0 C806.7,1182.3 825.3,1182.3 830.0,1192.0 C834.7,1201.7 833.0,1238.3 830.0,1250.0 C827.0,1261.7 816.7,1262.0 812.0,1262.0 C807.3,1262.0 803.7,1261.7 802.0,1250.0 C800.3,1238.3 797.3,1201.7 802.0,1192.0 Z" fill="#6CC4C0"/>
<path d="M975.0,1192.0 C978.0,1178.7 994.2,1179.0 998.0,1192.0 C1001.8,1205.0 1001.0,1256.7 998.0,1270.0 C995.0,1283.3 983.8,1285.0 980.0,1272.0 C976.2,1259.0 972.0,1205.3 975.0,1192.0 Z" fill="#A8C030"/>
<path d="M470.0,1215.0 C473.3,1206.7 491.7,1205.8 500.0,1210.0 C508.3,1214.2 513.2,1228.3 520.0,1240.0 C526.8,1251.7 537.5,1270.8 541.0,1280.0 C544.5,1289.2 544.5,1291.7 541.0,1295.0 C537.5,1298.3 527.7,1300.8 520.0,1300.0 C512.3,1299.2 501.7,1296.7 495.0,1290.0 C488.3,1283.3 484.2,1272.5 480.0,1260.0 C475.8,1247.5 466.7,1223.3 470.0,1215.0 Z" fill="#A8C030"/>
<path d="M669.0,1192.0 C680.7,1182.3 727.3,1175.7 739.0,1192.0 C750.7,1208.3 742.2,1274.5 739.0,1290.0 C735.8,1305.5 726.5,1288.3 720.0,1285.0 C713.5,1281.7 706.7,1273.3 700.0,1270.0 C693.3,1266.7 685.2,1268.3 680.0,1265.0 C674.8,1261.7 670.8,1262.2 669.0,1250.0 C667.2,1237.8 657.3,1201.7 669.0,1192.0 Z" fill="#A8C030"/>
<path d="M490.0,1235.0 C490.8,1239.2 500.8,1234.2 505.0,1240.0 C509.2,1245.8 511.7,1260.8 515.0,1270.0 C518.3,1279.2 520.7,1290.0 525.0,1295.0 C529.3,1300.0 535.2,1299.5 541.0,1300.0 C546.8,1300.5 553.5,1299.7 560.0,1298.0 C566.5,1296.3 573.3,1292.7 580.0,1290.0 C586.7,1287.3 592.3,1284.5 600.0,1282.0 C607.7,1279.5 617.7,1277.8 626.0,1275.0 C634.3,1272.2 642.8,1268.3 650.0,1265.0 C657.2,1261.7 665.8,1267.2 669.0,1255.0 C672.2,1242.8 690.3,1202.5 669.0,1192.0 C647.7,1181.5 565.8,1191.0 541.0,1192.0 C516.2,1193.0 526.8,1194.2 520.0,1198.0 C513.2,1201.8 505.0,1208.8 500.0,1215.0 C495.0,1221.2 489.2,1230.8 490.0,1235.0 Z" fill="#EEC42C"/>
<path d="M739.0,1192.0 C745.5,1174.0 770.8,1184.0 778.0,1192.0 C785.2,1200.0 779.8,1228.3 782.0,1240.0 C784.2,1251.7 788.8,1252.0 791.0,1262.0 C793.2,1272.0 796.8,1291.0 795.0,1300.0 C793.2,1309.0 785.8,1314.0 780.0,1316.0 C774.2,1318.0 766.8,1314.7 760.0,1312.0 C753.2,1309.3 742.5,1320.0 739.0,1300.0 C735.5,1280.0 732.5,1210.0 739.0,1192.0 Z" fill="#EEC42C"/>
<path d="M778.0,1192.0 C781.0,1185.7 796.3,1184.0 800.0,1192.0 C803.7,1200.0 801.7,1230.3 800.0,1240.0 C798.3,1249.7 793.0,1251.7 790.0,1250.0 C787.0,1248.3 784.0,1239.7 782.0,1230.0 C780.0,1220.3 775.0,1198.3 778.0,1192.0 Z" fill="#66AE3A"/>
<path d="M700.0,1230.0 C704.8,1221.7 732.5,1216.7 739.0,1225.0 C745.5,1233.3 743.8,1271.7 739.0,1280.0 C734.2,1288.3 716.5,1283.3 710.0,1275.0 C703.5,1266.7 695.2,1238.3 700.0,1230.0 Z" fill="#EEC42C"/>
<path d="M565.0,1192.0 C570.0,1180.7 594.2,1183.2 600.0,1192.0 C605.8,1200.8 595.7,1235.0 600.0,1245.0 C604.3,1255.0 617.7,1251.2 626.0,1252.0 C634.3,1252.8 645.3,1255.0 650.0,1250.0 C654.7,1245.0 652.3,1227.8 654.0,1222.0 C655.7,1216.2 657.8,1214.5 660.0,1215.0 C662.2,1215.5 665.7,1218.8 667.0,1225.0 C668.3,1231.2 669.2,1245.8 668.0,1252.0 C666.8,1258.2 667.0,1258.7 660.0,1262.0 C653.0,1265.3 636.0,1269.8 626.0,1272.0 C616.0,1274.2 608.5,1274.7 600.0,1275.0 C591.5,1275.3 580.0,1276.5 575.0,1274.0 C570.0,1271.5 571.7,1273.7 570.0,1260.0 C568.3,1246.3 560.0,1203.3 565.0,1192.0 Z" fill="#E48A20"/>
<ellipse cx="513" cy="1280" rx="6" ry="8" fill="#E48A20"/>
<ellipse cx="724" cy="1255" rx="15" ry="16" fill="#E48A20"/>
<ellipse cx="743" cy="1202" rx="5" ry="9" fill="#E48A20"/>
<path d="M556.0,1192.0 C565.3,1178.7 602.7,1178.7 612.0,1192.0 C621.3,1205.3 621.3,1258.7 612.0,1272.0 C602.7,1285.3 565.3,1285.3 556.0,1272.0 C546.7,1258.7 546.7,1205.3 556.0,1192.0 Z" fill="#E48A20"/>
<path d="M585.0,1192.0 C588.7,1181.5 607.5,1181.5 612.0,1192.0 C616.5,1202.5 615.7,1244.5 612.0,1255.0 C608.3,1265.5 594.5,1265.5 590.0,1255.0 C585.5,1244.5 581.3,1202.5 585.0,1192.0 Z" fill="#EEC42C"/>
<ellipse cx="531" cy="1196" rx="9" ry="5" fill="#C0262A"/>
<ellipse cx="603" cy="1262" rx="8" ry="6" fill="#C0262A"/>
<ellipse cx="600" cy="1266" rx="12" ry="5" fill="#C0262A"/>
</g>
<polygon points="130.0,1407.0 142.0,1407.0 142.0,1405.0 170.0,1405.0 170.0,1403.0 176.0,1403.0 176.0,1405.0 240.0,1405.0 246.0,1401.0 250.0,1398.0 253.0,1398.0 253.0,1423.0 230.0,1423.0 230.0,1425.0 160.0,1425.0 160.0,1423.0 140.0,1423.0 140.0,1427.0 130.0,1427.0" fill="#FFFFFF"/>
<line x1="197" y1="1192.1" x2="197" y2="1503.5" stroke="#555" stroke-width="0.7" opacity="0.6"/>
<line x1="395.3" y1="1192.1" x2="395.3" y2="1503.5" stroke="#555" stroke-width="0.7" opacity="0.6"/>
<line x1="593" y1="1192.1" x2="593" y2="1503.5" stroke="#555" stroke-width="0.7" opacity="0.6"/>
<line x1="791.5" y1="1192.1" x2="791.5" y2="1503.5" stroke="#555" stroke-width="0.7" opacity="0.6"/>
<line x1="989.5" y1="1192.1" x2="989.5" y2="1503.5" stroke="#555" stroke-width="0.7" opacity="0.6"/>
<line x1="130" y1="1341.9" x2="1082.8" y2="1341.9" stroke="#555" stroke-width="0.7" opacity="0.6"/>
<line x1="130" y1="1491.9" x2="1082.8" y2="1491.9" stroke="#555" stroke-width="0.7" opacity="0.6"/>
<polyline points="145.2,1193.1 145.2,1378.5" fill="none" stroke="#111" stroke-width="1.6"/>
<path d="M141.1,1388.6 C141.5,1387.5 145.5,1385.6 147.2,1385.6 C148.9,1385.6 151.5,1387.5 151.2,1388.6 C150.9,1389.8 146.8,1392.7 145.2,1392.7 C143.5,1392.7 140.8,1389.8 141.1,1388.6 Z" fill="none" stroke="#111" stroke-width="1.5"/>
<polyline points="154.2,1396.7 165.3,1396.7 165.3,1430.0 184.5,1430.0 184.5,1503.5" fill="none" stroke="#111" stroke-width="1.6"/>
<path d="M244.0,1207.2 C243.6,1213.6 241.6,1232.7 241.9,1245.5 C242.3,1258.3 244.3,1279.4 246.0,1283.8 C247.6,1288.2 251.3,1276.7 252.0,1271.7 C252.7,1266.7 250.3,1264.6 250.0,1253.5 C249.7,1242.5 250.0,1213.2 250.0,1205.2" fill="none" stroke="#111" stroke-width="1.5"/>
<path d="M266.1,1203.1 C266.8,1210.2 269.5,1228.3 270.2,1245.5 C270.8,1262.6 270.8,1292.5 270.2,1306.0 C269.5,1319.4 267.5,1316.0 266.1,1326.1 C264.8,1336.2 264.1,1355.4 262.1,1366.5 C260.1,1377.5 255.4,1388.3 254.0,1392.7" fill="none" stroke="#111" stroke-width="1.5"/>
<path d="M254.0,1418.9 C256.0,1421.2 261.4,1430.6 266.1,1433.0 C270.8,1435.3 278.2,1436.3 282.3,1433.0 C286.3,1429.6 287.6,1415.8 290.3,1412.8 C293.0,1409.8 292.3,1410.1 298.4,1414.8 C304.4,1419.5 321.9,1436.7 326.6,1441.0" fill="none" stroke="#111" stroke-width="1.5"/>
<path d="M278.2,1203.1 C280.6,1202.8 285.6,1202.1 292.3,1201.1 C299.1,1200.1 314.2,1194.7 318.5,1197.1 C322.9,1199.4 317.2,1210.2 318.5,1215.2 C319.9,1220.3 321.9,1220.6 326.6,1227.3 C331.3,1234.1 338.7,1251.2 346.8,1255.6 C354.8,1259.9 370.3,1253.9 375.0,1253.5" fill="none" stroke="#111" stroke-width="1.5"/>
<path d="M280.2,1209.2 C278.9,1211.9 273.2,1212.6 272.2,1225.3 C271.2,1238.1 272.8,1269.0 274.2,1285.8 C275.5,1302.6 278.2,1318.7 280.2,1326.1 C282.3,1333.5 284.6,1331.5 286.3,1330.2 C288.0,1328.8 288.6,1318.7 290.3,1318.1 C292.0,1317.4 294.4,1318.1 296.4,1326.1 C298.4,1334.2 297.4,1355.7 302.4,1366.5 C307.5,1377.2 319.2,1387.3 326.6,1390.6 C334.0,1394.0 338.7,1390.6 346.8,1386.6 C354.8,1382.6 370.3,1369.8 375.0,1366.5" fill="none" stroke="#111" stroke-width="1.5"/>
<path d="M280.2,1253.5 C280.9,1256.2 284.3,1265.6 284.3,1269.7 C284.3,1273.7 281.2,1274.4 280.2,1277.7 C279.2,1281.1 278.2,1281.8 278.2,1289.8 C278.2,1297.9 279.9,1320.1 280.2,1326.1" fill="none" stroke="#111" stroke-width="1.5"/>
<path d="M302.4,1245.5 C302.4,1249.5 299.7,1264.0 302.4,1269.7 C305.1,1275.4 310.5,1277.1 318.5,1279.8 C326.6,1282.4 341.4,1283.5 350.8,1285.8 C360.2,1288.2 371.0,1292.5 375.0,1293.9" fill="none" stroke="#111" stroke-width="1.5"/>
<path d="M330.6,1330.2 C331.0,1337.2 330.6,1368.1 332.7,1372.5 C334.7,1376.9 339.0,1359.4 342.7,1356.4 C346.4,1353.3 351.1,1357.4 354.8,1354.4 C358.5,1351.3 362.9,1342.9 364.9,1338.2 C366.9,1333.5 366.6,1328.1 366.9,1326.1" fill="none" stroke="#111" stroke-width="1.5"/>
<path d="M290.3,1362.4 C291.0,1363.1 294.0,1362.4 294.4,1366.5 C294.7,1370.5 291.0,1381.6 292.3,1386.6 C293.7,1391.7 298.1,1392.7 302.4,1396.7 C306.8,1400.7 312.5,1407.8 318.5,1410.8 C324.6,1413.8 332.3,1416.2 338.7,1414.8 C345.1,1413.5 350.8,1406.4 356.9,1402.7 C362.9,1399.0 372.0,1394.3 375.0,1392.7" fill="none" stroke="#111" stroke-width="1.5"/>
<path d="M310.5,1193.1 C311.5,1192.7 315.9,1194.1 316.5,1195.1 C317.2,1196.1 315.5,1198.8 314.5,1199.1 C313.5,1199.4 311.2,1198.1 310.5,1197.1 C309.8,1196.1 309.5,1193.4 310.5,1193.1 Z" fill="none" stroke="#111" stroke-width="1.5"/>
<path d="M360.0,1261.6 C364.4,1261.9 374.4,1266.3 386.2,1263.6 C398.0,1260.9 420.8,1255.2 430.6,1245.5 C440.3,1235.7 441.7,1213.9 444.7,1205.2 C447.7,1196.4 448.0,1195.1 448.7,1193.1" fill="none" stroke="#111" stroke-width="1.5"/>
<path d="M360.0,1289.8 C363.4,1291.2 374.8,1291.9 380.2,1297.9 C385.5,1304.0 387.6,1327.5 392.3,1326.1 C397.0,1324.8 402.7,1299.2 408.4,1289.8 C414.1,1280.4 420.5,1272.4 426.5,1269.7 C432.6,1267.0 440.6,1276.7 444.7,1273.7 C448.7,1270.7 446.4,1260.9 450.7,1251.5 C455.1,1242.1 467.9,1227.0 470.9,1217.3 C473.9,1207.5 469.2,1197.1 468.9,1193.1" fill="none" stroke="#111" stroke-width="1.5"/>
<path d="M424.5,1271.7 C425.2,1270.7 427.5,1265.0 428.5,1265.6 C429.6,1266.3 430.9,1273.4 430.6,1275.7 C430.2,1278.1 427.2,1279.1 426.5,1279.8" fill="none" stroke="#111" stroke-width="1.5"/>
<path d="M360.0,1366.5 C364.0,1363.1 376.8,1349.7 384.2,1346.3 C391.6,1342.9 399.7,1344.3 404.4,1346.3 C409.1,1348.3 409.7,1354.4 412.4,1358.4 C415.1,1362.4 418.1,1365.8 420.5,1370.5 C422.8,1375.2 422.5,1383.3 426.5,1386.6 C430.6,1390.0 438.3,1391.3 444.7,1390.6 C451.1,1390.0 460.1,1386.6 464.8,1382.6 C469.5,1378.5 470.2,1374.5 472.9,1366.5 C475.6,1358.4 479.6,1339.6 481.0,1334.2" fill="none" stroke="#111" stroke-width="1.5"/>
<path d="M468.9,1366.5 C469.5,1361.1 467.5,1340.2 472.9,1334.2 C478.3,1328.1 493.1,1330.8 501.1,1330.2 C509.2,1329.5 514.6,1332.5 521.3,1330.2 C528.0,1327.8 526.7,1320.4 541.5,1316.0 C556.2,1311.7 598.6,1306.0 610.0,1304.0" fill="none" stroke="#111" stroke-width="1.5"/>
<path d="M505.2,1193.1 C504.8,1195.8 507.2,1201.1 503.1,1209.2 C499.1,1217.3 486.3,1232.0 481.0,1241.5 C475.6,1250.9 474.2,1254.9 470.9,1265.6 C467.5,1276.4 468.2,1297.6 460.8,1306.0 C453.4,1314.4 433.3,1311.0 426.5,1316.0 C419.8,1321.1 420.8,1324.4 420.5,1336.2 C420.1,1348.0 423.8,1378.2 424.5,1386.6" fill="none" stroke="#111" stroke-width="1.5"/>
<path d="M416.5,1396.7 C417.1,1398.4 418.1,1403.4 420.5,1406.8 C422.8,1410.1 426.5,1413.8 430.6,1416.9 C434.6,1419.9 441.0,1426.6 444.7,1424.9 C448.4,1423.2 446.7,1413.2 452.7,1406.8 C458.8,1400.4 472.9,1394.0 481.0,1386.6 C489.0,1379.2 491.7,1369.8 501.1,1362.4 C510.5,1355.0 527.3,1347.0 537.4,1342.3 C547.5,1337.6 549.5,1336.9 561.6,1334.2 C573.7,1331.5 601.9,1327.5 610.0,1326.1" fill="none" stroke="#111" stroke-width="1.5"/>
<path d="M360.0,1433.0 C363.4,1430.0 373.4,1414.2 380.2,1414.8 C386.9,1415.5 390.2,1432.0 400.3,1437.0 C410.4,1442.1 431.2,1444.1 440.6,1445.1 C450.1,1446.1 452.7,1448.1 456.8,1443.1 C460.8,1438.0 457.4,1424.2 464.8,1414.8 C472.2,1405.4 489.0,1395.3 501.1,1386.6 C513.2,1377.9 529.7,1369.5 537.4,1362.4 C545.1,1355.4 538.4,1349.7 547.5,1344.3 C556.6,1338.9 581.4,1333.2 591.9,1330.2 C602.3,1327.1 607.0,1326.8 610.0,1326.1" fill="none" stroke="#111" stroke-width="1.5"/>
<path d="M396.3,1503.5 C396.6,1500.2 396.6,1487.4 398.3,1483.4 C400.0,1479.4 403.3,1479.4 406.4,1479.4 C409.4,1479.4 414.6,1479.4 416.5,1483.4 C418.3,1487.4 417.3,1500.2 417.5,1503.5" fill="none" stroke="#111" stroke-width="1.5"/>
<path d="M507.2,1277.7 C508.2,1275.7 511.2,1271.4 513.2,1271.7 C515.2,1272.0 518.9,1277.1 519.3,1279.8 C519.6,1282.4 517.3,1287.2 515.2,1287.8 C513.2,1288.5 508.5,1285.5 507.2,1283.8 C505.8,1282.1 506.2,1279.8 507.2,1277.7 Z" fill="none" stroke="#111" stroke-width="1.5"/>
<path d="M388.2,1287.8 C388.4,1286.1 391.9,1283.5 393.3,1283.8 C394.6,1284.1 396.5,1288.2 396.3,1289.8 C396.1,1291.5 393.6,1294.2 392.3,1293.9 C390.9,1293.5 388.1,1289.5 388.2,1287.8 Z" fill="none" stroke="#111" stroke-width="1.5"/>
<path d="M525.3,1193.1 C526.3,1194.7 528.7,1201.1 531.4,1203.1 C534.1,1205.2 538.4,1203.5 541.5,1205.2 C544.5,1206.8 548.8,1208.9 549.5,1213.2 C550.2,1217.6 543.5,1227.3 545.5,1231.4 C547.5,1235.4 557.6,1233.4 561.6,1237.4 C565.6,1241.5 568.0,1249.5 569.7,1255.6 C571.4,1261.6 565.0,1270.7 571.7,1273.7 C578.4,1276.7 603.6,1273.7 610.0,1273.7" fill="none" stroke="#111" stroke-width="1.5"/>
<path d="M587.8,1193.1 C587.8,1201.8 585.5,1235.4 587.8,1245.5 C590.2,1255.6 598.2,1252.2 601.9,1253.5 C605.6,1254.9 608.7,1253.5 610.0,1253.5" fill="none" stroke="#111" stroke-width="1.5"/>
<path d="M557.6,1193.1 C558.6,1194.1 561.6,1199.1 563.6,1199.1 C565.6,1199.1 568.7,1194.1 569.7,1193.1" fill="none" stroke="#111" stroke-width="1.5"/>
<path d="M600.0,1251.5 C604.4,1251.2 619.5,1250.9 626.2,1249.5 C632.9,1248.2 636.0,1247.8 640.3,1243.5 C644.7,1239.1 649.1,1227.0 652.4,1223.3 C655.8,1219.6 658.1,1217.6 660.5,1221.3 C662.8,1225.0 665.2,1240.4 666.5,1245.5 C667.9,1250.5 666.2,1249.9 668.5,1251.5 C670.9,1253.2 678.6,1253.2 680.6,1255.6 C682.7,1257.9 680.6,1264.0 680.6,1265.6" fill="none" stroke="#111" stroke-width="1.5"/>
<path d="M600.0,1269.7 C604.4,1269.0 621.2,1267.3 626.2,1265.6 C631.2,1264.0 629.6,1260.6 630.2,1259.6" fill="none" stroke="#111" stroke-width="1.5"/>
<path d="M600.0,1306.0 C606.7,1303.3 626.9,1294.2 640.3,1289.8 C653.8,1285.5 668.5,1280.4 680.6,1279.8 C692.7,1279.1 703.5,1280.1 712.9,1285.8 C722.3,1291.5 729.7,1308.7 737.1,1314.0 C744.5,1319.4 749.9,1316.0 757.3,1318.1 C764.7,1320.1 774.1,1323.4 781.5,1326.1 C788.8,1328.8 794.9,1333.5 801.6,1334.2 C808.3,1334.9 813.7,1331.5 821.8,1330.2 C829.8,1328.8 845.3,1326.8 850.0,1326.1" fill="none" stroke="#111" stroke-width="1.5"/>
<path d="M600.0,1318.1 C606.7,1315.4 626.9,1307.3 640.3,1301.9 C653.8,1296.6 670.6,1288.2 680.6,1285.8 C690.7,1283.5 697.4,1287.5 700.8,1287.8" fill="none" stroke="#111" stroke-width="1.5"/>
<path d="M600.0,1326.1 C610.1,1326.8 646.0,1333.2 660.5,1330.2 C674.9,1327.1 678.0,1310.0 686.7,1308.0 C695.4,1306.0 704.2,1312.7 712.9,1318.1 C721.6,1323.4 727.7,1332.2 739.1,1340.2 C750.5,1348.3 771.7,1357.7 781.5,1366.5 C791.2,1375.2 790.9,1390.0 797.6,1392.7 C804.3,1395.3 813.0,1384.6 821.8,1382.6 C830.5,1380.6 845.3,1380.9 850.0,1380.6" fill="none" stroke="#111" stroke-width="1.5"/>
<path d="M737.1,1193.1 C737.8,1195.1 739.1,1203.8 741.1,1205.2 C743.1,1206.5 748.2,1203.1 749.2,1201.1 C750.2,1199.1 747.5,1194.4 747.2,1193.1" fill="none" stroke="#111" stroke-width="1.5"/>
<path d="M708.9,1241.5 C710.9,1239.4 721.0,1236.7 725.0,1237.4 C729.0,1238.1 733.1,1242.8 733.1,1245.5 C733.1,1248.2 728.4,1252.9 725.0,1253.5 C721.6,1254.2 715.6,1251.5 712.9,1249.5 C710.2,1247.5 706.9,1243.5 708.9,1241.5 Z" fill="none" stroke="#111" stroke-width="1.5"/>
<path d="M765.3,1279.8 C766.0,1278.1 768.0,1275.1 769.4,1275.7 C770.7,1276.4 773.4,1281.4 773.4,1283.8 C773.4,1286.1 770.7,1289.5 769.4,1289.8 C768.0,1290.2 766.0,1287.5 765.3,1285.8 C764.7,1284.1 764.7,1281.4 765.3,1279.8 Z" fill="none" stroke="#111" stroke-width="1.5"/>
<path d="M777.4,1193.1 C777.4,1197.8 776.7,1213.2 777.4,1221.3 C778.1,1229.4 779.4,1236.4 781.5,1241.5 C783.5,1246.5 787.5,1243.5 789.5,1251.5 C791.5,1259.6 791.5,1280.8 793.5,1289.8 C795.6,1298.9 798.6,1304.6 801.6,1306.0 C804.6,1307.3 809.7,1296.6 811.7,1297.9 C813.7,1299.2 815.4,1309.3 813.7,1314.0 C812.0,1318.7 805.0,1324.1 801.6,1326.1 C798.3,1328.1 794.9,1326.1 793.5,1326.1" fill="none" stroke="#111" stroke-width="1.5"/>
<path d="M789.5,1193.1 C788.8,1195.8 784.8,1202.5 785.5,1209.2 C786.2,1215.9 792.2,1227.3 793.5,1233.4 C794.9,1239.4 793.5,1243.5 793.5,1245.5" fill="none" stroke="#111" stroke-width="1.5"/>
<path d="M815.7,1193.1 C816.7,1193.7 821.4,1191.7 821.8,1197.1 C822.1,1202.5 819.8,1217.9 817.7,1225.3 C815.7,1232.7 812.4,1239.8 809.7,1241.5 C807.0,1243.1 803.0,1236.4 801.6,1235.4" fill="none" stroke="#111" stroke-width="1.5"/>
<path d="M803.6,1261.6 C805.3,1265.0 810.7,1278.1 813.7,1281.8 C816.7,1285.5 815.7,1283.8 821.8,1283.8 C827.8,1283.8 845.3,1282.1 850.0,1281.8" fill="none" stroke="#111" stroke-width="1.5"/>
<path d="M741.1,1310.0 C744.5,1312.0 754.6,1318.1 761.3,1322.1 C768.0,1326.1 774.7,1330.8 781.5,1334.2 C788.2,1337.6 794.9,1340.9 801.6,1342.3 C808.3,1343.6 816.4,1347.0 821.8,1342.3 C827.2,1337.6 830.5,1316.0 833.9,1314.0 C837.2,1312.0 839.2,1326.8 841.9,1330.2 C844.6,1333.5 848.7,1333.5 850.0,1334.2" fill="none" stroke="#111" stroke-width="1.5"/>
<path d="M884.4,1193.1 C883.7,1198.4 880.7,1215.9 880.3,1225.3 C880.0,1234.7 881.7,1242.8 882.3,1249.5 C883.0,1256.2 884.0,1263.0 884.4,1265.6" fill="none" stroke="#111" stroke-width="1.5"/>
<path d="M840.0,1271.7 C843.4,1275.7 853.4,1296.2 860.2,1295.9 C866.9,1295.6 874.3,1277.1 880.3,1269.7 C886.4,1262.3 894.1,1248.2 896.5,1251.5 C898.8,1254.9 900.5,1280.8 894.4,1289.8 C888.4,1298.9 869.2,1301.9 860.2,1306.0 C851.1,1310.0 843.4,1312.7 840.0,1314.0" fill="none" stroke="#111" stroke-width="1.5"/>
<path d="M840.0,1380.6 C846.4,1385.9 868.2,1415.2 878.3,1412.8 C888.4,1410.5 892.8,1371.5 900.5,1366.5 C908.2,1361.4 918.6,1387.6 924.7,1382.6 C930.7,1377.5 930.7,1343.3 936.8,1336.2 C942.8,1329.2 952.2,1343.6 961.0,1340.2 C969.7,1336.9 981.8,1323.1 989.2,1316.0 C996.6,1309.0 999.9,1303.3 1005.3,1297.9 C1010.7,1292.5 1013.7,1284.3 1021.5,1283.8 C1029.2,1283.3 1045.0,1297.2 1051.7,1294.9 C1058.4,1292.5 1056.7,1278.6 1061.8,1269.7 C1066.8,1260.8 1078.6,1246.2 1081.9,1241.5" fill="none" stroke="#111" stroke-width="1.5"/>
<path d="M840.0,1336.2 C843.4,1339.2 853.8,1346.0 860.2,1354.4 C866.5,1362.8 873.3,1388.6 878.3,1386.6 C883.3,1384.6 885.0,1350.7 890.4,1342.3 C895.8,1333.9 903.5,1338.9 910.6,1336.2 C917.6,1333.5 924.3,1330.5 932.7,1326.1 C941.1,1321.8 951.6,1313.4 961.0,1310.0 C970.4,1306.6 981.8,1312.4 989.2,1306.0 C996.6,1299.6 999.9,1282.1 1005.3,1271.7 C1010.7,1261.3 1016.1,1242.1 1021.5,1243.5 C1026.8,1244.8 1031.5,1278.4 1037.6,1279.8 C1043.6,1281.1 1050.3,1258.9 1057.7,1251.5 C1065.1,1244.1 1077.9,1238.1 1081.9,1235.4" fill="none" stroke="#111" stroke-width="1.5"/>
<path d="M840.0,1293.9 C846.7,1295.6 866.9,1305.3 880.3,1304.0 C893.8,1302.6 910.6,1290.2 920.6,1285.8 C930.7,1281.4 934.1,1277.7 940.8,1277.7 C947.5,1277.7 954.2,1283.8 961.0,1285.8 C967.7,1287.8 975.8,1291.9 981.1,1289.8 C986.5,1287.8 991.2,1276.4 993.2,1273.7" fill="none" stroke="#111" stroke-width="1.5"/>
<path d="M908.5,1251.5 C909.2,1249.9 913.9,1247.2 916.6,1247.5 C919.3,1247.8 924.0,1251.5 924.7,1253.5 C925.3,1255.6 922.7,1258.9 920.6,1259.6 C918.6,1260.3 914.6,1258.9 912.6,1257.6 C910.6,1256.2 907.9,1253.2 908.5,1251.5 Z" fill="none" stroke="#111" stroke-width="1.5"/>
<path d="M973.1,1193.1 C973.1,1201.8 972.7,1234.7 973.1,1245.5 C973.4,1256.2 974.7,1255.6 975.1,1257.6" fill="none" stroke="#111" stroke-width="1.5"/>
<path d="M995.2,1193.1 C995.6,1198.4 996.6,1216.6 997.3,1225.3 C997.9,1234.1 998.9,1242.1 999.3,1245.5" fill="none" stroke="#111" stroke-width="1.5"/>
<path d="M1039.6,1193.1 C1039.9,1200.1 1040.6,1222.0 1041.6,1235.4 C1042.6,1248.8 1044.0,1266.7 1045.6,1273.7 C1047.3,1280.8 1049.7,1281.4 1051.7,1277.7 C1053.7,1274.0 1056.1,1258.6 1057.7,1251.5 C1059.4,1244.5 1061.1,1238.1 1061.8,1235.4" fill="none" stroke="#111" stroke-width="1.5"/>
<path d="M1069.8,1193.1 C1070.2,1196.8 1070.8,1208.2 1071.9,1215.2 C1072.9,1222.3 1075.2,1232.0 1075.9,1235.4" fill="none" stroke="#111" stroke-width="1.5"/>
<path d="M904.5,1237.4 C907.2,1236.7 916.6,1235.4 920.6,1233.4 C924.7,1231.4 928.0,1228.0 928.7,1225.3 C929.4,1222.6 925.3,1218.6 924.7,1217.3" fill="none" stroke="#111" stroke-width="1.5"/>
<text transform="translate(243,1198) rotate(0)" text-anchor="middle" dominant-baseline="central" font-size="14.5" font-weight="bold" fill="#000">50000</text>
<text transform="translate(294,1244) rotate(-10)" text-anchor="middle" dominant-baseline="central" font-size="14.5" font-weight="bold" fill="#000">150000</text>
<text transform="translate(345,1326) rotate(0)" text-anchor="middle" dominant-baseline="central" font-size="14.5" font-weight="bold" fill="#000">200000</text>
<text transform="translate(262,1402) rotate(0)" text-anchor="middle" dominant-baseline="central" font-size="14.5" font-weight="bold" fill="#000">00000</text>
<text transform="translate(345,1445) rotate(-15)" text-anchor="middle" dominant-baseline="central" font-size="14.5" font-weight="bold" fill="#000">50000</text>
<text transform="translate(420,1385) rotate(0)" text-anchor="middle" dominant-baseline="central" font-size="14.5" font-weight="bold" fill="#000">200000</text>
<text transform="translate(550,1318) rotate(0)" text-anchor="middle" dominant-baseline="central" font-size="14.5" font-weight="bold" fill="#000">100000</text>
<text transform="translate(659,1260) rotate(0)" text-anchor="middle" dominant-baseline="central" font-size="14.5" font-weight="bold" fill="#000">300000</text>
<text transform="translate(739,1245) rotate(-10)" text-anchor="middle" dominant-baseline="central" font-size="14.5" font-weight="bold" fill="#000">300000</text>
<text transform="translate(722,1270) rotate(-30)" text-anchor="middle" dominant-baseline="central" font-size="14.5" font-weight="bold" fill="#000">00000</text>
<text transform="translate(827,1230) rotate(-55)" text-anchor="middle" dominant-baseline="central" font-size="14.5" font-weight="bold" fill="#000">100000</text>
<text transform="translate(882,1233) rotate(-55)" text-anchor="middle" dominant-baseline="central" font-size="14.5" font-weight="bold" fill="#000">150000</text>
<text transform="translate(933,1200) rotate(-70)" text-anchor="middle" dominant-baseline="central" font-size="14.5" font-weight="bold" fill="#000">50</text>
<text transform="translate(888,1336) rotate(0)" text-anchor="middle" dominant-baseline="central" font-size="14.5" font-weight="bold" fill="#000">150000</text>
<text transform="translate(990,1269) rotate(0)" text-anchor="middle" dominant-baseline="central" font-size="14.5" font-weight="bold" fill="#000">200000</text>
<text transform="translate(1067,1212) rotate(90)" text-anchor="middle" dominant-baseline="central" font-size="14.5" font-weight="bold" fill="#000">00000</text>
<text transform="translate(870,1330) rotate(0)" text-anchor="middle" dominant-baseline="central" font-size="14.5" font-weight="bold" fill="#000">150000</text>
<g fill="#3a3330" opacity="0.85"><circle cx="141.0" cy="1195.1" r="1.55"/><circle cx="141.0" cy="1199.6" r="1.55"/><circle cx="141.0" cy="1222.1" r="1.55"/><circle cx="141.0" cy="1235.5" r="1.55"/><circle cx="141.0" cy="1247.5" r="1.55"/><circle cx="141.0" cy="1259.5" r="1.55"/><circle cx="141.0" cy="1271.5" r="1.55"/><circle cx="141.0" cy="1279.0" r="1.55"/><circle cx="141.0" cy="1308.9" r="1.55"/><circle cx="141.0" cy="1341.9" r="1.55"/><circle cx="141.0" cy="1415.3" r="1.55"/><circle cx="141.0" cy="1428.8" r="1.55"/><circle cx="141.0" cy="1491.7" r="1.55"/><circle cx="149.0" cy="1195.1" r="1.55"/><circle cx="149.0" cy="1222.1" r="1.55"/><circle cx="149.0" cy="1247.5" r="1.55"/><circle cx="149.0" cy="1259.5" r="1.55"/><circle cx="149.0" cy="1271.5" r="1.55"/><circle cx="149.0" cy="1279.0" r="1.55"/><circle cx="149.0" cy="1308.9" r="1.55"/><circle cx="149.0" cy="1341.9" r="1.55"/><circle cx="149.0" cy="1397.3" r="1.55"/><circle cx="149.0" cy="1428.8" r="1.55"/><circle cx="149.0" cy="1491.7" r="1.55"/><circle cx="157.0" cy="1195.1" r="1.55"/><circle cx="157.0" cy="1222.1" r="1.55"/><circle cx="157.0" cy="1235.5" r="1.55"/><circle cx="157.0" cy="1271.5" r="1.55"/><circle cx="157.0" cy="1308.9" r="1.55"/><circle cx="157.0" cy="1341.9" r="1.55"/><circle cx="157.0" cy="1385.3" r="1.55"/><circle cx="157.0" cy="1415.3" r="1.55"/><circle cx="157.0" cy="1491.7" r="1.55"/><circle cx="165.0" cy="1195.1" r="1.55"/><circle cx="165.0" cy="1222.1" r="1.55"/><circle cx="165.0" cy="1235.5" r="1.55"/><circle cx="165.0" cy="1247.5" r="1.55"/><circle cx="165.0" cy="1297.0" r="1.55"/><circle cx="165.0" cy="1325.4" r="1.55"/><circle cx="165.0" cy="1341.9" r="1.55"/><circle cx="165.0" cy="1356.9" r="1.55"/><circle cx="165.0" cy="1415.3" r="1.55"/><circle cx="165.0" cy="1491.7" r="1.55"/><circle cx="174.0" cy="1195.1" r="1.55"/><circle cx="174.0" cy="1199.6" r="1.55"/><circle cx="174.0" cy="1216.1" r="1.55"/><circle cx="174.0" cy="1222.1" r="1.55"/><circle cx="174.0" cy="1271.5" r="1.55"/><circle cx="174.0" cy="1297.0" r="1.55"/><circle cx="174.0" cy="1341.9" r="1.55"/><circle cx="174.0" cy="1415.3" r="1.55"/><circle cx="174.0" cy="1428.8" r="1.55"/><circle cx="174.0" cy="1491.7" r="1.55"/><circle cx="186.5" cy="1195.1" r="1.55"/><circle cx="186.5" cy="1247.5" r="1.55"/><circle cx="186.5" cy="1259.5" r="1.55"/><circle cx="186.5" cy="1279.0" r="1.55"/><circle cx="186.5" cy="1297.0" r="1.55"/><circle cx="186.5" cy="1308.9" r="1.55"/><circle cx="186.5" cy="1341.9" r="1.55"/><circle cx="186.5" cy="1397.3" r="1.55"/><circle cx="186.5" cy="1491.7" r="1.55"/><circle cx="195.6" cy="1195.1" r="1.55"/><circle cx="195.6" cy="1199.6" r="1.55"/><circle cx="195.6" cy="1216.1" r="1.55"/><circle cx="195.6" cy="1235.5" r="1.55"/><circle cx="195.6" cy="1247.5" r="1.55"/><circle cx="195.6" cy="1259.5" r="1.55"/><circle cx="195.6" cy="1297.0" r="1.55"/><circle cx="195.6" cy="1308.9" r="1.55"/><circle cx="195.6" cy="1341.9" r="1.55"/><circle cx="195.6" cy="1370.4" r="1.55"/><circle cx="195.6" cy="1385.3" r="1.55"/><circle cx="195.6" cy="1415.3" r="1.55"/><circle cx="195.6" cy="1491.7" r="1.55"/><circle cx="207.7" cy="1195.1" r="1.55"/><circle cx="207.7" cy="1199.6" r="1.55"/><circle cx="207.7" cy="1216.1" r="1.55"/><circle cx="207.7" cy="1259.5" r="1.55"/><circle cx="207.7" cy="1271.5" r="1.55"/><circle cx="207.7" cy="1279.0" r="1.55"/><circle cx="207.7" cy="1308.9" r="1.55"/><circle cx="207.7" cy="1325.4" r="1.55"/><circle cx="207.7" cy="1341.9" r="1.55"/><circle cx="207.7" cy="1356.9" r="1.55"/><circle cx="207.7" cy="1428.8" r="1.55"/><circle cx="207.7" cy="1491.7" r="1.55"/><circle cx="215.7" cy="1195.1" r="1.55"/><circle cx="215.7" cy="1199.6" r="1.55"/><circle cx="215.7" cy="1216.1" r="1.55"/><circle cx="215.7" cy="1222.1" r="1.55"/><circle cx="215.7" cy="1235.5" r="1.55"/><circle cx="215.7" cy="1247.5" r="1.55"/><circle cx="215.7" cy="1297.0" r="1.55"/><circle cx="215.7" cy="1308.9" r="1.55"/><circle cx="215.7" cy="1341.9" r="1.55"/><circle cx="215.7" cy="1370.4" r="1.55"/><circle cx="215.7" cy="1397.3" r="1.55"/><circle cx="215.7" cy="1415.3" r="1.55"/><circle cx="215.7" cy="1491.7" r="1.55"/><circle cx="225.0" cy="1195.1" r="1.55"/><circle cx="225.0" cy="1216.1" r="1.55"/><circle cx="225.0" cy="1222.1" r="1.55"/><circle cx="225.0" cy="1235.5" r="1.55"/><circle cx="225.0" cy="1259.5" r="1.55"/><circle cx="225.0" cy="1271.5" r="1.55"/><circle cx="225.0" cy="1279.0" r="1.55"/><circle cx="225.0" cy="1308.9" r="1.55"/><circle cx="225.0" cy="1341.9" r="1.55"/><circle cx="225.0" cy="1370.4" r="1.55"/><circle cx="225.0" cy="1385.3" r="1.55"/><circle cx="225.0" cy="1415.3" r="1.55"/><circle cx="225.0" cy="1428.8" r="1.55"/><circle cx="225.0" cy="1491.7" r="1.55"/><circle cx="235.0" cy="1195.1" r="1.55"/><circle cx="235.0" cy="1199.6" r="1.55"/><circle cx="235.0" cy="1222.1" r="1.55"/><circle cx="235.0" cy="1235.5" r="1.55"/><circle cx="235.0" cy="1247.5" r="1.55"/><circle cx="235.0" cy="1259.5" r="1.55"/><circle cx="235.0" cy="1271.5" r="1.55"/><circle cx="235.0" cy="1279.0" r="1.55"/><circle cx="235.0" cy="1297.0" r="1.55"/><circle cx="235.0" cy="1341.9" r="1.55"/><circle cx="235.0" cy="1415.3" r="1.55"/><circle cx="235.0" cy="1491.7" r="1.55"/><circle cx="247.0" cy="1195.1" r="1.55"/><circle cx="247.0" cy="1216.1" r="1.55"/><circle cx="247.0" cy="1235.5" r="1.55"/><circle cx="247.0" cy="1247.5" r="1.55"/><circle cx="247.0" cy="1271.5" r="1.55"/><circle cx="247.0" cy="1325.4" r="1.55"/><circle cx="247.0" cy="1341.9" r="1.55"/><circle cx="247.0" cy="1370.4" r="1.55"/><circle cx="247.0" cy="1428.8" r="1.55"/><circle cx="247.0" cy="1491.7" r="1.55"/><circle cx="254.0" cy="1195.1" r="1.55"/><circle cx="254.0" cy="1199.6" r="1.55"/><circle cx="254.0" cy="1216.1" r="1.55"/><circle cx="254.0" cy="1222.1" r="1.55"/><circle cx="254.0" cy="1247.5" r="1.55"/><circle cx="254.0" cy="1259.5" r="1.55"/><circle cx="254.0" cy="1279.0" r="1.55"/><circle cx="254.0" cy="1325.4" r="1.55"/><circle cx="254.0" cy="1341.9" r="1.55"/><circle cx="254.0" cy="1415.3" r="1.55"/><circle cx="254.0" cy="1428.8" r="1.55"/><circle cx="254.0" cy="1491.7" r="1.55"/><circle cx="266.0" cy="1195.1" r="1.55"/><circle cx="266.0" cy="1216.1" r="1.55"/><circle cx="266.0" cy="1222.1" r="1.55"/><circle cx="266.0" cy="1259.5" r="1.55"/><circle cx="266.0" cy="1271.5" r="1.55"/><circle cx="266.0" cy="1279.0" r="1.55"/><circle cx="266.0" cy="1297.0" r="1.55"/><circle cx="266.0" cy="1308.9" r="1.55"/><circle cx="266.0" cy="1341.9" r="1.55"/><circle cx="266.0" cy="1370.4" r="1.55"/><circle cx="266.0" cy="1397.3" r="1.55"/><circle cx="266.0" cy="1428.8" r="1.55"/><circle cx="266.0" cy="1491.7" r="1.55"/><circle cx="286.0" cy="1195.1" r="1.55"/><circle cx="286.0" cy="1216.1" r="1.55"/><circle cx="286.0" cy="1222.1" r="1.55"/><circle cx="286.0" cy="1235.5" r="1.55"/><circle cx="286.0" cy="1247.5" r="1.55"/><circle cx="286.0" cy="1279.0" r="1.55"/><circle cx="286.0" cy="1297.0" r="1.55"/><circle cx="286.0" cy="1341.9" r="1.55"/><circle cx="286.0" cy="1385.3" r="1.55"/><circle cx="286.0" cy="1397.3" r="1.55"/><circle cx="286.0" cy="1428.8" r="1.55"/><circle cx="286.0" cy="1491.7" r="1.55"/><circle cx="292.0" cy="1195.1" r="1.55"/><circle cx="292.0" cy="1199.6" r="1.55"/><circle cx="292.0" cy="1222.1" r="1.55"/><circle cx="292.0" cy="1235.5" r="1.55"/><circle cx="292.0" cy="1247.5" r="1.55"/><circle cx="292.0" cy="1259.5" r="1.55"/><circle cx="292.0" cy="1271.5" r="1.55"/><circle cx="292.0" cy="1297.0" r="1.55"/><circle cx="292.0" cy="1341.9" r="1.55"/><circle cx="292.0" cy="1370.4" r="1.55"/><circle cx="292.0" cy="1397.3" r="1.55"/><circle cx="292.0" cy="1415.3" r="1.55"/><circle cx="292.0" cy="1491.7" r="1.55"/><circle cx="303.4" cy="1195.1" r="1.55"/><circle cx="303.4" cy="1199.6" r="1.55"/><circle cx="303.4" cy="1216.1" r="1.55"/><circle cx="303.4" cy="1235.5" r="1.55"/><circle cx="303.4" cy="1247.5" r="1.55"/><circle cx="303.4" cy="1259.5" r="1.55"/><circle cx="303.4" cy="1271.5" r="1.55"/><circle cx="303.4" cy="1279.0" r="1.55"/><circle cx="303.4" cy="1297.0" r="1.55"/><circle cx="303.4" cy="1308.9" r="1.55"/><circle cx="303.4" cy="1341.9" r="1.55"/><circle cx="303.4" cy="1356.9" r="1.55"/><circle cx="303.4" cy="1385.3" r="1.55"/><circle cx="303.4" cy="1415.3" r="1.55"/><circle cx="303.4" cy="1428.8" r="1.55"/><circle cx="303.4" cy="1491.7" r="1.55"/><circle cx="310.5" cy="1195.1" r="1.55"/><circle cx="310.5" cy="1199.6" r="1.55"/><circle cx="310.5" cy="1235.5" r="1.55"/><circle cx="310.5" cy="1247.5" r="1.55"/><circle cx="310.5" cy="1259.5" r="1.55"/><circle cx="310.5" cy="1279.0" r="1.55"/><circle cx="310.5" cy="1325.4" r="1.55"/><circle cx="310.5" cy="1341.9" r="1.55"/><circle cx="310.5" cy="1370.4" r="1.55"/><circle cx="310.5" cy="1385.3" r="1.55"/><circle cx="310.5" cy="1491.7" r="1.55"/><circle cx="324.6" cy="1195.1" r="1.55"/><circle cx="324.6" cy="1216.1" r="1.55"/><circle cx="324.6" cy="1279.0" r="1.55"/><circle cx="324.6" cy="1308.9" r="1.55"/><circle cx="324.6" cy="1325.4" r="1.55"/><circle cx="324.6" cy="1341.9" r="1.55"/><circle cx="324.6" cy="1385.3" r="1.55"/><circle cx="324.6" cy="1415.3" r="1.55"/><circle cx="324.6" cy="1428.8" r="1.55"/><circle cx="324.6" cy="1491.7" r="1.55"/><circle cx="336.7" cy="1195.1" r="1.55"/><circle cx="336.7" cy="1199.6" r="1.55"/><circle cx="336.7" cy="1235.5" r="1.55"/><circle cx="336.7" cy="1259.5" r="1.55"/><circle cx="336.7" cy="1271.5" r="1.55"/><circle cx="336.7" cy="1297.0" r="1.55"/><circle cx="336.7" cy="1341.9" r="1.55"/><circle cx="336.7" cy="1356.9" r="1.55"/><circle cx="336.7" cy="1370.4" r="1.55"/><circle cx="336.7" cy="1397.3" r="1.55"/><circle cx="336.7" cy="1428.8" r="1.55"/><circle cx="336.7" cy="1491.7" r="1.55"/><circle cx="353.0" cy="1195.1" r="1.55"/><circle cx="353.0" cy="1199.6" r="1.55"/><circle cx="353.0" cy="1222.1" r="1.55"/><circle cx="353.0" cy="1247.5" r="1.55"/><circle cx="353.0" cy="1271.5" r="1.55"/><circle cx="353.0" cy="1279.0" r="1.55"/><circle cx="353.0" cy="1297.0" r="1.55"/><circle cx="353.0" cy="1308.9" r="1.55"/><circle cx="353.0" cy="1325.4" r="1.55"/><circle cx="353.0" cy="1341.9" r="1.55"/><circle cx="353.0" cy="1356.9" r="1.55"/><circle cx="353.0" cy="1370.4" r="1.55"/><circle cx="353.0" cy="1385.3" r="1.55"/><circle cx="353.0" cy="1397.3" r="1.55"/><circle cx="353.0" cy="1415.3" r="1.55"/><circle cx="353.0" cy="1428.8" r="1.55"/><circle cx="353.0" cy="1491.7" r="1.55"/><circle cx="365.0" cy="1195.1" r="1.55"/><circle cx="365.0" cy="1199.6" r="1.55"/><circle cx="365.0" cy="1216.1" r="1.55"/><circle cx="365.0" cy="1222.1" r="1.55"/><circle cx="365.0" cy="1247.5" r="1.55"/><circle cx="365.0" cy="1259.5" r="1.55"/><circle cx="365.0" cy="1279.0" r="1.55"/><circle cx="365.0" cy="1308.9" r="1.55"/><circle cx="365.0" cy="1325.4" r="1.55"/><circle cx="365.0" cy="1341.9" r="1.55"/><circle cx="365.0" cy="1356.9" r="1.55"/><circle cx="365.0" cy="1370.4" r="1.55"/><circle cx="365.0" cy="1397.3" r="1.55"/><circle cx="365.0" cy="1415.3" r="1.55"/><circle cx="365.0" cy="1428.8" r="1.55"/><circle cx="365.0" cy="1491.7" r="1.55"/><circle cx="381.0" cy="1195.1" r="1.55"/><circle cx="381.0" cy="1235.5" r="1.55"/><circle cx="381.0" cy="1247.5" r="1.55"/><circle cx="381.0" cy="1271.5" r="1.55"/><circle cx="381.0" cy="1279.0" r="1.55"/><circle cx="381.0" cy="1297.0" r="1.55"/><circle cx="381.0" cy="1325.4" r="1.55"/><circle cx="381.0" cy="1341.9" r="1.55"/><circle cx="381.0" cy="1415.3" r="1.55"/><circle cx="381.0" cy="1428.8" r="1.55"/><circle cx="381.0" cy="1491.7" r="1.55"/><circle cx="393.0" cy="1195.1" r="1.55"/><circle cx="393.0" cy="1216.1" r="1.55"/><circle cx="393.0" cy="1222.1" r="1.55"/><circle cx="393.0" cy="1235.5" r="1.55"/><circle cx="393.0" cy="1247.5" r="1.55"/><circle cx="393.0" cy="1259.5" r="1.55"/><circle cx="393.0" cy="1271.5" r="1.55"/><circle cx="393.0" cy="1279.0" r="1.55"/><circle cx="393.0" cy="1325.4" r="1.55"/><circle cx="393.0" cy="1341.9" r="1.55"/><circle cx="393.0" cy="1370.4" r="1.55"/><circle cx="393.0" cy="1415.3" r="1.55"/><circle cx="393.0" cy="1491.7" r="1.55"/><circle cx="408.0" cy="1195.1" r="1.55"/><circle cx="408.0" cy="1216.1" r="1.55"/><circle cx="408.0" cy="1222.1" r="1.55"/><circle cx="408.0" cy="1235.5" r="1.55"/><circle cx="408.0" cy="1247.5" r="1.55"/><circle cx="408.0" cy="1259.5" r="1.55"/><circle cx="408.0" cy="1308.9" r="1.55"/><circle cx="408.0" cy="1341.9" r="1.55"/><circle cx="408.0" cy="1385.3" r="1.55"/><circle cx="408.0" cy="1428.8" r="1.55"/><circle cx="408.0" cy="1491.7" r="1.55"/><circle cx="426.5" cy="1195.1" r="1.55"/><circle cx="426.5" cy="1216.1" r="1.55"/><circle cx="426.5" cy="1235.5" r="1.55"/><circle cx="426.5" cy="1259.5" r="1.55"/><circle cx="426.5" cy="1271.5" r="1.55"/><circle cx="426.5" cy="1297.0" r="1.55"/><circle cx="426.5" cy="1341.9" r="1.55"/><circle cx="426.5" cy="1370.4" r="1.55"/><circle cx="426.5" cy="1385.3" r="1.55"/><circle cx="426.5" cy="1491.7" r="1.55"/><circle cx="440.6" cy="1195.1" r="1.55"/><circle cx="440.6" cy="1199.6" r="1.55"/><circle cx="440.6" cy="1259.5" r="1.55"/><circle cx="440.6" cy="1279.0" r="1.55"/><circle cx="440.6" cy="1297.0" r="1.55"/><circle cx="440.6" cy="1325.4" r="1.55"/><circle cx="440.6" cy="1341.9" r="1.55"/><circle cx="440.6" cy="1356.9" r="1.55"/><circle cx="440.6" cy="1370.4" r="1.55"/><circle cx="440.6" cy="1385.3" r="1.55"/><circle cx="440.6" cy="1415.3" r="1.55"/><circle cx="440.6" cy="1428.8" r="1.55"/><circle cx="440.6" cy="1491.7" r="1.55"/><circle cx="463.0" cy="1195.1" r="1.55"/><circle cx="463.0" cy="1199.6" r="1.55"/><circle cx="463.0" cy="1222.1" r="1.55"/><circle cx="463.0" cy="1235.5" r="1.55"/><circle cx="463.0" cy="1297.0" r="1.55"/><circle cx="463.0" cy="1308.9" r="1.55"/><circle cx="463.0" cy="1325.4" r="1.55"/><circle cx="463.0" cy="1341.9" r="1.55"/><circle cx="463.0" cy="1356.9" r="1.55"/><circle cx="463.0" cy="1370.4" r="1.55"/><circle cx="463.0" cy="1415.3" r="1.55"/><circle cx="463.0" cy="1428.8" r="1.55"/><circle cx="463.0" cy="1491.7" r="1.55"/><circle cx="477.0" cy="1195.1" r="1.55"/><circle cx="477.0" cy="1222.1" r="1.55"/><circle cx="477.0" cy="1235.5" r="1.55"/><circle cx="477.0" cy="1247.5" r="1.55"/><circle cx="477.0" cy="1297.0" r="1.55"/><circle cx="477.0" cy="1308.9" r="1.55"/><circle cx="477.0" cy="1325.4" r="1.55"/><circle cx="477.0" cy="1341.9" r="1.55"/><circle cx="477.0" cy="1370.4" r="1.55"/><circle cx="477.0" cy="1428.8" r="1.55"/><circle cx="477.0" cy="1491.7" r="1.55"/><circle cx="498.0" cy="1195.1" r="1.55"/><circle cx="498.0" cy="1222.1" r="1.55"/><circle cx="498.0" cy="1325.4" r="1.55"/><circle cx="498.0" cy="1341.9" r="1.55"/><circle cx="498.0" cy="1370.4" r="1.55"/><circle cx="498.0" cy="1397.3" r="1.55"/><circle cx="498.0" cy="1428.8" r="1.55"/><circle cx="498.0" cy="1491.7" r="1.55"/><circle cx="512.0" cy="1195.1" r="1.55"/><circle cx="512.0" cy="1199.6" r="1.55"/><circle cx="512.0" cy="1222.1" r="1.55"/><circle cx="512.0" cy="1235.5" r="1.55"/><circle cx="512.0" cy="1247.5" r="1.55"/><circle cx="512.0" cy="1259.5" r="1.55"/><circle cx="512.0" cy="1271.5" r="1.55"/><circle cx="512.0" cy="1279.0" r="1.55"/><circle cx="512.0" cy="1297.0" r="1.55"/><circle cx="512.0" cy="1325.4" r="1.55"/><circle cx="512.0" cy="1341.9" r="1.55"/><circle cx="512.0" cy="1370.4" r="1.55"/><circle cx="512.0" cy="1385.3" r="1.55"/><circle cx="512.0" cy="1397.3" r="1.55"/><circle cx="512.0" cy="1415.3" r="1.55"/><circle cx="512.0" cy="1428.8" r="1.55"/><circle cx="512.0" cy="1491.7" r="1.55"/><circle cx="534.0" cy="1195.1" r="1.55"/><circle cx="534.0" cy="1222.1" r="1.55"/><circle cx="534.0" cy="1235.5" r="1.55"/><circle cx="534.0" cy="1247.5" r="1.55"/><circle cx="534.0" cy="1271.5" r="1.55"/><circle cx="534.0" cy="1279.0" r="1.55"/><circle cx="534.0" cy="1297.0" r="1.55"/><circle cx="534.0" cy="1308.9" r="1.55"/><circle cx="534.0" cy="1325.4" r="1.55"/><circle cx="534.0" cy="1341.9" r="1.55"/><circle cx="534.0" cy="1356.9" r="1.55"/><circle cx="534.0" cy="1370.4" r="1.55"/><circle cx="534.0" cy="1385.3" r="1.55"/><circle cx="534.0" cy="1397.3" r="1.55"/><circle cx="534.0" cy="1415.3" r="1.55"/><circle cx="534.0" cy="1428.8" r="1.55"/><circle cx="534.0" cy="1491.7" r="1.55"/><circle cx="546.5" cy="1195.1" r="1.55"/><circle cx="546.5" cy="1235.5" r="1.55"/><circle cx="546.5" cy="1247.5" r="1.55"/><circle cx="546.5" cy="1259.5" r="1.55"/><circle cx="546.5" cy="1297.0" r="1.55"/><circle cx="546.5" cy="1308.9" r="1.55"/><circle cx="546.5" cy="1341.9" r="1.55"/><circle cx="546.5" cy="1356.9" r="1.55"/><circle cx="546.5" cy="1370.4" r="1.55"/><circle cx="546.5" cy="1385.3" r="1.55"/><circle cx="546.5" cy="1397.3" r="1.55"/><circle cx="546.5" cy="1415.3" r="1.55"/><circle cx="546.5" cy="1428.8" r="1.55"/><circle cx="546.5" cy="1491.7" r="1.55"/><circle cx="562.6" cy="1195.1" r="1.55"/><circle cx="562.6" cy="1216.1" r="1.55"/><circle cx="562.6" cy="1222.1" r="1.55"/><circle cx="562.6" cy="1235.5" r="1.55"/><circle cx="562.6" cy="1247.5" r="1.55"/><circle cx="562.6" cy="1259.5" r="1.55"/><circle cx="562.6" cy="1297.0" r="1.55"/><circle cx="562.6" cy="1308.9" r="1.55"/><circle cx="562.6" cy="1341.9" r="1.55"/><circle cx="562.6" cy="1356.9" r="1.55"/><circle cx="562.6" cy="1370.4" r="1.55"/><circle cx="562.6" cy="1491.7" r="1.55"/><circle cx="573.7" cy="1195.1" r="1.55"/><circle cx="573.7" cy="1199.6" r="1.55"/><circle cx="573.7" cy="1222.1" r="1.55"/><circle cx="573.7" cy="1235.5" r="1.55"/><circle cx="573.7" cy="1247.5" r="1.55"/><circle cx="573.7" cy="1271.5" r="1.55"/><circle cx="573.7" cy="1308.9" r="1.55"/><circle cx="573.7" cy="1325.4" r="1.55"/><circle cx="573.7" cy="1341.9" r="1.55"/><circle cx="573.7" cy="1356.9" r="1.55"/><circle cx="573.7" cy="1370.4" r="1.55"/><circle cx="573.7" cy="1385.3" r="1.55"/><circle cx="573.7" cy="1415.3" r="1.55"/><circle cx="573.7" cy="1428.8" r="1.55"/><circle cx="573.7" cy="1491.7" r="1.55"/><circle cx="601.0" cy="1195.1" r="1.55"/><circle cx="601.0" cy="1199.6" r="1.55"/><circle cx="601.0" cy="1216.1" r="1.55"/><circle cx="601.0" cy="1222.1" r="1.55"/><circle cx="601.0" cy="1235.5" r="1.55"/><circle cx="601.0" cy="1259.5" r="1.55"/><circle cx="601.0" cy="1271.5" r="1.55"/><circle cx="601.0" cy="1308.9" r="1.55"/><circle cx="601.0" cy="1341.9" r="1.55"/><circle cx="601.0" cy="1356.9" r="1.55"/><circle cx="601.0" cy="1370.4" r="1.55"/><circle cx="601.0" cy="1397.3" r="1.55"/><circle cx="601.0" cy="1415.3" r="1.55"/><circle cx="601.0" cy="1491.7" r="1.55"/><circle cx="621.0" cy="1195.1" r="1.55"/><circle cx="621.0" cy="1199.6" r="1.55"/><circle cx="621.0" cy="1222.1" r="1.55"/><circle cx="621.0" cy="1247.5" r="1.55"/><circle cx="621.0" cy="1259.5" r="1.55"/><circle cx="621.0" cy="1271.5" r="1.55"/><circle cx="621.0" cy="1308.9" r="1.55"/><circle cx="621.0" cy="1341.9" r="1.55"/><circle cx="621.0" cy="1356.9" r="1.55"/><circle cx="621.0" cy="1370.4" r="1.55"/><circle cx="621.0" cy="1397.3" r="1.55"/><circle cx="621.0" cy="1415.3" r="1.55"/><circle cx="621.0" cy="1491.7" r="1.55"/><circle cx="632.0" cy="1195.1" r="1.55"/><circle cx="632.0" cy="1199.6" r="1.55"/><circle cx="632.0" cy="1216.1" r="1.55"/><circle cx="632.0" cy="1222.1" r="1.55"/><circle cx="632.0" cy="1235.5" r="1.55"/><circle cx="632.0" cy="1247.5" r="1.55"/><circle cx="632.0" cy="1279.0" r="1.55"/><circle cx="632.0" cy="1297.0" r="1.55"/><circle cx="632.0" cy="1308.9" r="1.55"/><circle cx="632.0" cy="1341.9" r="1.55"/><circle cx="632.0" cy="1356.9" r="1.55"/><circle cx="632.0" cy="1370.4" r="1.55"/><circle cx="632.0" cy="1415.3" r="1.55"/><circle cx="632.0" cy="1428.8" r="1.55"/><circle cx="632.0" cy="1491.7" r="1.55"/><circle cx="647.0" cy="1195.1" r="1.55"/><circle cx="647.0" cy="1199.6" r="1.55"/><circle cx="647.0" cy="1216.1" r="1.55"/><circle cx="647.0" cy="1222.1" r="1.55"/><circle cx="647.0" cy="1235.5" r="1.55"/><circle cx="647.0" cy="1247.5" r="1.55"/><circle cx="647.0" cy="1259.5" r="1.55"/><circle cx="647.0" cy="1271.5" r="1.55"/><circle cx="647.0" cy="1279.0" r="1.55"/><circle cx="647.0" cy="1297.0" r="1.55"/><circle cx="647.0" cy="1325.4" r="1.55"/><circle cx="647.0" cy="1341.9" r="1.55"/><circle cx="647.0" cy="1356.9" r="1.55"/><circle cx="647.0" cy="1370.4" r="1.55"/><circle cx="647.0" cy="1385.3" r="1.55"/><circle cx="647.0" cy="1397.3" r="1.55"/><circle cx="647.0" cy="1428.8" r="1.55"/><circle cx="647.0" cy="1491.7" r="1.55"/><circle cx="658.5" cy="1195.1" r="1.55"/><circle cx="658.5" cy="1199.6" r="1.55"/><circle cx="658.5" cy="1216.1" r="1.55"/><circle cx="658.5" cy="1222.1" r="1.55"/><circle cx="658.5" cy="1235.5" r="1.55"/><circle cx="658.5" cy="1259.5" r="1.55"/><circle cx="658.5" cy="1271.5" r="1.55"/><circle cx="658.5" cy="1279.0" r="1.55"/><circle cx="658.5" cy="1308.9" r="1.55"/><circle cx="658.5" cy="1325.4" r="1.55"/><circle cx="658.5" cy="1341.9" r="1.55"/><circle cx="658.5" cy="1370.4" r="1.55"/><circle cx="658.5" cy="1385.3" r="1.55"/><circle cx="658.5" cy="1397.3" r="1.55"/><circle cx="658.5" cy="1415.3" r="1.55"/><circle cx="658.5" cy="1428.8" r="1.55"/><circle cx="658.5" cy="1491.7" r="1.55"/><circle cx="674.6" cy="1195.1" r="1.55"/><circle cx="674.6" cy="1199.6" r="1.55"/><circle cx="674.6" cy="1235.5" r="1.55"/><circle cx="674.6" cy="1247.5" r="1.55"/><circle cx="674.6" cy="1259.5" r="1.55"/><circle cx="674.6" cy="1271.5" r="1.55"/><circle cx="674.6" cy="1308.9" r="1.55"/><circle cx="674.6" cy="1341.9" r="1.55"/><circle cx="674.6" cy="1370.4" r="1.55"/><circle cx="674.6" cy="1385.3" r="1.55"/><circle cx="674.6" cy="1397.3" r="1.55"/><circle cx="674.6" cy="1415.3" r="1.55"/><circle cx="674.6" cy="1491.7" r="1.55"/><circle cx="686.7" cy="1195.1" r="1.55"/><circle cx="686.7" cy="1199.6" r="1.55"/><circle cx="686.7" cy="1222.1" r="1.55"/><circle cx="686.7" cy="1259.5" r="1.55"/><circle cx="686.7" cy="1271.5" r="1.55"/><circle cx="686.7" cy="1279.0" r="1.55"/><circle cx="686.7" cy="1308.9" r="1.55"/><circle cx="686.7" cy="1341.9" r="1.55"/><circle cx="686.7" cy="1356.9" r="1.55"/><circle cx="686.7" cy="1370.4" r="1.55"/><circle cx="686.7" cy="1385.3" r="1.55"/><circle cx="686.7" cy="1397.3" r="1.55"/><circle cx="686.7" cy="1428.8" r="1.55"/><circle cx="686.7" cy="1491.7" r="1.55"/><circle cx="702.8" cy="1195.1" r="1.55"/><circle cx="702.8" cy="1199.6" r="1.55"/><circle cx="702.8" cy="1222.1" r="1.55"/><circle cx="702.8" cy="1235.5" r="1.55"/><circle cx="702.8" cy="1247.5" r="1.55"/><circle cx="702.8" cy="1259.5" r="1.55"/><circle cx="702.8" cy="1271.5" r="1.55"/><circle cx="702.8" cy="1297.0" r="1.55"/><circle cx="702.8" cy="1308.9" r="1.55"/><circle cx="702.8" cy="1341.9" r="1.55"/><circle cx="702.8" cy="1370.4" r="1.55"/><circle cx="702.8" cy="1385.3" r="1.55"/><circle cx="702.8" cy="1428.8" r="1.55"/><circle cx="702.8" cy="1491.7" r="1.55"/><circle cx="713.0" cy="1195.1" r="1.55"/><circle cx="713.0" cy="1199.6" r="1.55"/><circle cx="713.0" cy="1216.1" r="1.55"/><circle cx="713.0" cy="1222.1" r="1.55"/><circle cx="713.0" cy="1235.5" r="1.55"/><circle cx="713.0" cy="1247.5" r="1.55"/><circle cx="713.0" cy="1308.9" r="1.55"/><circle cx="713.0" cy="1325.4" r="1.55"/><circle cx="713.0" cy="1341.9" r="1.55"/><circle cx="713.0" cy="1356.9" r="1.55"/><circle cx="713.0" cy="1370.4" r="1.55"/><circle cx="713.0" cy="1397.3" r="1.55"/><circle cx="713.0" cy="1415.3" r="1.55"/><circle cx="713.0" cy="1428.8" r="1.55"/><circle cx="713.0" cy="1491.7" r="1.55"/><circle cx="730.0" cy="1195.1" r="1.55"/><circle cx="730.0" cy="1216.1" r="1.55"/><circle cx="730.0" cy="1235.5" r="1.55"/><circle cx="730.0" cy="1279.0" r="1.55"/><circle cx="730.0" cy="1325.4" r="1.55"/><circle cx="730.0" cy="1341.9" r="1.55"/><circle cx="730.0" cy="1385.3" r="1.55"/><circle cx="730.0" cy="1397.3" r="1.55"/><circle cx="730.0" cy="1491.7" r="1.55"/><circle cx="741.0" cy="1195.1" r="1.55"/><circle cx="741.0" cy="1199.6" r="1.55"/><circle cx="741.0" cy="1216.1" r="1.55"/><circle cx="741.0" cy="1222.1" r="1.55"/><circle cx="741.0" cy="1259.5" r="1.55"/><circle cx="741.0" cy="1271.5" r="1.55"/><circle cx="741.0" cy="1308.9" r="1.55"/><circle cx="741.0" cy="1341.9" r="1.55"/><circle cx="741.0" cy="1356.9" r="1.55"/><circle cx="741.0" cy="1397.3" r="1.55"/><circle cx="741.0" cy="1491.7" r="1.55"/><circle cx="758.0" cy="1195.1" r="1.55"/><circle cx="758.0" cy="1199.6" r="1.55"/><circle cx="758.0" cy="1259.5" r="1.55"/><circle cx="758.0" cy="1271.5" r="1.55"/><circle cx="758.0" cy="1279.0" r="1.55"/><circle cx="758.0" cy="1325.4" r="1.55"/><circle cx="758.0" cy="1341.9" r="1.55"/><circle cx="758.0" cy="1356.9" r="1.55"/><circle cx="758.0" cy="1370.4" r="1.55"/><circle cx="758.0" cy="1397.3" r="1.55"/><circle cx="758.0" cy="1415.3" r="1.55"/><circle cx="758.0" cy="1428.8" r="1.55"/><circle cx="758.0" cy="1491.7" r="1.55"/><circle cx="767.0" cy="1195.1" r="1.55"/><circle cx="767.0" cy="1235.5" r="1.55"/><circle cx="767.0" cy="1259.5" r="1.55"/><circle cx="767.0" cy="1297.0" r="1.55"/><circle cx="767.0" cy="1308.9" r="1.55"/><circle cx="767.0" cy="1325.4" r="1.55"/><circle cx="767.0" cy="1341.9" r="1.55"/><circle cx="767.0" cy="1356.9" r="1.55"/><circle cx="767.0" cy="1397.3" r="1.55"/><circle cx="767.0" cy="1428.8" r="1.55"/><circle cx="767.0" cy="1491.7" r="1.55"/><circle cx="784.5" cy="1195.1" r="1.55"/><circle cx="784.5" cy="1199.6" r="1.55"/><circle cx="784.5" cy="1216.1" r="1.55"/><circle cx="784.5" cy="1247.5" r="1.55"/><circle cx="784.5" cy="1271.5" r="1.55"/><circle cx="784.5" cy="1308.9" r="1.55"/><circle cx="784.5" cy="1325.4" r="1.55"/><circle cx="784.5" cy="1341.9" r="1.55"/><circle cx="784.5" cy="1356.9" r="1.55"/><circle cx="784.5" cy="1385.3" r="1.55"/><circle cx="784.5" cy="1415.3" r="1.55"/><circle cx="784.5" cy="1428.8" r="1.55"/><circle cx="784.5" cy="1491.7" r="1.55"/><circle cx="795.6" cy="1195.1" r="1.55"/><circle cx="795.6" cy="1216.1" r="1.55"/><circle cx="795.6" cy="1222.1" r="1.55"/><circle cx="795.6" cy="1235.5" r="1.55"/><circle cx="795.6" cy="1247.5" r="1.55"/><circle cx="795.6" cy="1259.5" r="1.55"/><circle cx="795.6" cy="1297.0" r="1.55"/><circle cx="795.6" cy="1308.9" r="1.55"/><circle cx="795.6" cy="1341.9" r="1.55"/><circle cx="795.6" cy="1356.9" r="1.55"/><circle cx="795.6" cy="1370.4" r="1.55"/><circle cx="795.6" cy="1397.3" r="1.55"/><circle cx="795.6" cy="1415.3" r="1.55"/><circle cx="795.6" cy="1491.7" r="1.55"/><circle cx="810.7" cy="1195.1" r="1.55"/><circle cx="810.7" cy="1216.1" r="1.55"/><circle cx="810.7" cy="1235.5" r="1.55"/><circle cx="810.7" cy="1247.5" r="1.55"/><circle cx="810.7" cy="1259.5" r="1.55"/><circle cx="810.7" cy="1271.5" r="1.55"/><circle cx="810.7" cy="1279.0" r="1.55"/><circle cx="810.7" cy="1308.9" r="1.55"/><circle cx="810.7" cy="1341.9" r="1.55"/><circle cx="810.7" cy="1370.4" r="1.55"/><circle cx="810.7" cy="1415.3" r="1.55"/><circle cx="810.7" cy="1491.7" r="1.55"/><circle cx="821.8" cy="1195.1" r="1.55"/><circle cx="821.8" cy="1222.1" r="1.55"/><circle cx="821.8" cy="1235.5" r="1.55"/><circle cx="821.8" cy="1259.5" r="1.55"/><circle cx="821.8" cy="1271.5" r="1.55"/><circle cx="821.8" cy="1279.0" r="1.55"/><circle cx="821.8" cy="1297.0" r="1.55"/><circle cx="821.8" cy="1308.9" r="1.55"/><circle cx="821.8" cy="1341.9" r="1.55"/><circle cx="821.8" cy="1385.3" r="1.55"/><circle cx="821.8" cy="1397.3" r="1.55"/><circle cx="821.8" cy="1415.3" r="1.55"/><circle cx="821.8" cy="1428.8" r="1.55"/><circle cx="821.8" cy="1491.7" r="1.55"/><circle cx="837.0" cy="1195.1" r="1.55"/><circle cx="837.0" cy="1216.1" r="1.55"/><circle cx="837.0" cy="1222.1" r="1.55"/><circle cx="837.0" cy="1247.5" r="1.55"/><circle cx="837.0" cy="1271.5" r="1.55"/><circle cx="837.0" cy="1297.0" r="1.55"/><circle cx="837.0" cy="1308.9" r="1.55"/><circle cx="837.0" cy="1341.9" r="1.55"/><circle cx="837.0" cy="1356.9" r="1.55"/><circle cx="837.0" cy="1370.4" r="1.55"/><circle cx="837.0" cy="1385.3" r="1.55"/><circle cx="837.0" cy="1415.3" r="1.55"/><circle cx="837.0" cy="1428.8" r="1.55"/><circle cx="837.0" cy="1491.7" r="1.55"/><circle cx="847.0" cy="1195.1" r="1.55"/><circle cx="847.0" cy="1199.6" r="1.55"/><circle cx="847.0" cy="1216.1" r="1.55"/><circle cx="847.0" cy="1235.5" r="1.55"/><circle cx="847.0" cy="1247.5" r="1.55"/><circle cx="847.0" cy="1271.5" r="1.55"/><circle cx="847.0" cy="1279.0" r="1.55"/><circle cx="847.0" cy="1308.9" r="1.55"/><circle cx="847.0" cy="1341.9" r="1.55"/><circle cx="847.0" cy="1370.4" r="1.55"/><circle cx="847.0" cy="1385.3" r="1.55"/><circle cx="847.0" cy="1397.3" r="1.55"/><circle cx="847.0" cy="1415.3" r="1.55"/><circle cx="847.0" cy="1428.8" r="1.55"/><circle cx="847.0" cy="1491.7" r="1.55"/><circle cx="856.0" cy="1195.1" r="1.55"/><circle cx="856.0" cy="1199.6" r="1.55"/><circle cx="856.0" cy="1247.5" r="1.55"/><circle cx="856.0" cy="1271.5" r="1.55"/><circle cx="856.0" cy="1297.0" r="1.55"/><circle cx="856.0" cy="1308.9" r="1.55"/><circle cx="856.0" cy="1341.9" r="1.55"/><circle cx="856.0" cy="1356.9" r="1.55"/><circle cx="856.0" cy="1397.3" r="1.55"/><circle cx="856.0" cy="1491.7" r="1.55"/><circle cx="865.0" cy="1195.1" r="1.55"/><circle cx="865.0" cy="1199.6" r="1.55"/><circle cx="865.0" cy="1222.1" r="1.55"/><circle cx="865.0" cy="1235.5" r="1.55"/><circle cx="865.0" cy="1247.5" r="1.55"/><circle cx="865.0" cy="1259.5" r="1.55"/><circle cx="865.0" cy="1297.0" r="1.55"/><circle cx="865.0" cy="1325.4" r="1.55"/><circle cx="865.0" cy="1341.9" r="1.55"/><circle cx="865.0" cy="1356.9" r="1.55"/><circle cx="865.0" cy="1370.4" r="1.55"/><circle cx="865.0" cy="1385.3" r="1.55"/><circle cx="865.0" cy="1491.7" r="1.55"/><circle cx="878.0" cy="1195.1" r="1.55"/><circle cx="878.0" cy="1199.6" r="1.55"/><circle cx="878.0" cy="1235.5" r="1.55"/><circle cx="878.0" cy="1247.5" r="1.55"/><circle cx="878.0" cy="1271.5" r="1.55"/><circle cx="878.0" cy="1279.0" r="1.55"/><circle cx="878.0" cy="1297.0" r="1.55"/><circle cx="878.0" cy="1308.9" r="1.55"/><circle cx="878.0" cy="1341.9" r="1.55"/><circle cx="878.0" cy="1356.9" r="1.55"/><circle cx="878.0" cy="1385.3" r="1.55"/><circle cx="878.0" cy="1428.8" r="1.55"/><circle cx="878.0" cy="1491.7" r="1.55"/><circle cx="887.0" cy="1195.1" r="1.55"/><circle cx="887.0" cy="1199.6" r="1.55"/><circle cx="887.0" cy="1216.1" r="1.55"/><circle cx="887.0" cy="1222.1" r="1.55"/><circle cx="887.0" cy="1247.5" r="1.55"/><circle cx="887.0" cy="1259.5" r="1.55"/><circle cx="887.0" cy="1325.4" r="1.55"/><circle cx="887.0" cy="1341.9" r="1.55"/><circle cx="887.0" cy="1370.4" r="1.55"/><circle cx="887.0" cy="1385.3" r="1.55"/><circle cx="887.0" cy="1397.3" r="1.55"/><circle cx="887.0" cy="1415.3" r="1.55"/><circle cx="887.0" cy="1428.8" r="1.55"/><circle cx="887.0" cy="1491.7" r="1.55"/><circle cx="900.5" cy="1195.1" r="1.55"/><circle cx="900.5" cy="1199.6" r="1.55"/><circle cx="900.5" cy="1235.5" r="1.55"/><circle cx="900.5" cy="1259.5" r="1.55"/><circle cx="900.5" cy="1271.5" r="1.55"/><circle cx="900.5" cy="1279.0" r="1.55"/><circle cx="900.5" cy="1297.0" r="1.55"/><circle cx="900.5" cy="1308.9" r="1.55"/><circle cx="900.5" cy="1325.4" r="1.55"/><circle cx="900.5" cy="1341.9" r="1.55"/><circle cx="900.5" cy="1428.8" r="1.55"/><circle cx="900.5" cy="1491.7" r="1.55"/><circle cx="909.6" cy="1195.1" r="1.55"/><circle cx="909.6" cy="1199.6" r="1.55"/><circle cx="909.6" cy="1216.1" r="1.55"/><circle cx="909.6" cy="1222.1" r="1.55"/><circle cx="909.6" cy="1247.5" r="1.55"/><circle cx="909.6" cy="1279.0" r="1.55"/><circle cx="909.6" cy="1308.9" r="1.55"/><circle cx="909.6" cy="1325.4" r="1.55"/><circle cx="909.6" cy="1341.9" r="1.55"/><circle cx="909.6" cy="1385.3" r="1.55"/><circle cx="909.6" cy="1415.3" r="1.55"/><circle cx="909.6" cy="1428.8" r="1.55"/><circle cx="909.6" cy="1491.7" r="1.55"/><circle cx="924.7" cy="1195.1" r="1.55"/><circle cx="924.7" cy="1199.6" r="1.55"/><circle cx="924.7" cy="1216.1" r="1.55"/><circle cx="924.7" cy="1222.1" r="1.55"/><circle cx="924.7" cy="1247.5" r="1.55"/><circle cx="924.7" cy="1271.5" r="1.55"/><circle cx="924.7" cy="1297.0" r="1.55"/><circle cx="924.7" cy="1308.9" r="1.55"/><circle cx="924.7" cy="1341.9" r="1.55"/><circle cx="924.7" cy="1385.3" r="1.55"/><circle cx="924.7" cy="1397.3" r="1.55"/><circle cx="924.7" cy="1491.7" r="1.55"/><circle cx="932.7" cy="1195.1" r="1.55"/><circle cx="932.7" cy="1216.1" r="1.55"/><circle cx="932.7" cy="1235.5" r="1.55"/><circle cx="932.7" cy="1247.5" r="1.55"/><circle cx="932.7" cy="1271.5" r="1.55"/><circle cx="932.7" cy="1297.0" r="1.55"/><circle cx="932.7" cy="1308.9" r="1.55"/><circle cx="932.7" cy="1341.9" r="1.55"/><circle cx="932.7" cy="1356.9" r="1.55"/><circle cx="932.7" cy="1370.4" r="1.55"/><circle cx="932.7" cy="1385.3" r="1.55"/><circle cx="932.7" cy="1415.3" r="1.55"/><circle cx="932.7" cy="1491.7" r="1.55"/><circle cx="947.0" cy="1195.1" r="1.55"/><circle cx="947.0" cy="1199.6" r="1.55"/><circle cx="947.0" cy="1235.5" r="1.55"/><circle cx="947.0" cy="1247.5" r="1.55"/><circle cx="947.0" cy="1259.5" r="1.55"/><circle cx="947.0" cy="1279.0" r="1.55"/><circle cx="947.0" cy="1325.4" r="1.55"/><circle cx="947.0" cy="1341.9" r="1.55"/><circle cx="947.0" cy="1370.4" r="1.55"/><circle cx="947.0" cy="1385.3" r="1.55"/><circle cx="947.0" cy="1397.3" r="1.55"/><circle cx="947.0" cy="1491.7" r="1.55"/><circle cx="956.0" cy="1195.1" r="1.55"/><circle cx="956.0" cy="1216.1" r="1.55"/><circle cx="956.0" cy="1235.5" r="1.55"/><circle cx="956.0" cy="1259.5" r="1.55"/><circle cx="956.0" cy="1271.5" r="1.55"/><circle cx="956.0" cy="1279.0" r="1.55"/><circle cx="956.0" cy="1297.0" r="1.55"/><circle cx="956.0" cy="1308.9" r="1.55"/><circle cx="956.0" cy="1341.9" r="1.55"/><circle cx="956.0" cy="1370.4" r="1.55"/><circle cx="956.0" cy="1397.3" r="1.55"/><circle cx="956.0" cy="1415.3" r="1.55"/><circle cx="956.0" cy="1491.7" r="1.55"/><circle cx="974.0" cy="1195.1" r="1.55"/><circle cx="974.0" cy="1216.1" r="1.55"/><circle cx="974.0" cy="1222.1" r="1.55"/><circle cx="974.0" cy="1235.5" r="1.55"/><circle cx="974.0" cy="1259.5" r="1.55"/><circle cx="974.0" cy="1271.5" r="1.55"/><circle cx="974.0" cy="1297.0" r="1.55"/><circle cx="974.0" cy="1308.9" r="1.55"/><circle cx="974.0" cy="1325.4" r="1.55"/><circle cx="974.0" cy="1341.9" r="1.55"/><circle cx="974.0" cy="1356.9" r="1.55"/><circle cx="974.0" cy="1385.3" r="1.55"/><circle cx="974.0" cy="1415.3" r="1.55"/><circle cx="974.0" cy="1491.7" r="1.55"/><circle cx="985.0" cy="1195.1" r="1.55"/><circle cx="985.0" cy="1222.1" r="1.55"/><circle cx="985.0" cy="1247.5" r="1.55"/><circle cx="985.0" cy="1259.5" r="1.55"/><circle cx="985.0" cy="1279.0" r="1.55"/><circle cx="985.0" cy="1297.0" r="1.55"/><circle cx="985.0" cy="1308.9" r="1.55"/><circle cx="985.0" cy="1341.9" r="1.55"/><circle cx="985.0" cy="1356.9" r="1.55"/><circle cx="985.0" cy="1370.4" r="1.55"/><circle cx="985.0" cy="1385.3" r="1.55"/><circle cx="985.0" cy="1415.3" r="1.55"/><circle cx="985.0" cy="1428.8" r="1.55"/><circle cx="985.0" cy="1491.7" r="1.55"/><circle cx="1006.0" cy="1195.1" r="1.55"/><circle cx="1006.0" cy="1222.1" r="1.55"/><circle cx="1006.0" cy="1235.5" r="1.55"/><circle cx="1006.0" cy="1247.5" r="1.55"/><circle cx="1006.0" cy="1271.5" r="1.55"/><circle cx="1006.0" cy="1297.0" r="1.55"/><circle cx="1006.0" cy="1308.9" r="1.55"/><circle cx="1006.0" cy="1325.4" r="1.55"/><circle cx="1006.0" cy="1341.9" r="1.55"/><circle cx="1006.0" cy="1356.9" r="1.55"/><circle cx="1006.0" cy="1397.3" r="1.55"/><circle cx="1006.0" cy="1428.8" r="1.55"/><circle cx="1006.0" cy="1491.7" r="1.55"/><circle cx="1016.0" cy="1195.1" r="1.55"/><circle cx="1016.0" cy="1199.6" r="1.55"/><circle cx="1016.0" cy="1216.1" r="1.55"/><circle cx="1016.0" cy="1222.1" r="1.55"/><circle cx="1016.0" cy="1247.5" r="1.55"/><circle cx="1016.0" cy="1259.5" r="1.55"/><circle cx="1016.0" cy="1271.5" r="1.55"/><circle cx="1016.0" cy="1279.0" r="1.55"/><circle cx="1016.0" cy="1297.0" r="1.55"/><circle cx="1016.0" cy="1308.9" r="1.55"/><circle cx="1016.0" cy="1341.9" r="1.55"/><circle cx="1016.0" cy="1370.4" r="1.55"/><circle cx="1016.0" cy="1397.3" r="1.55"/><circle cx="1016.0" cy="1428.8" r="1.55"/><circle cx="1016.0" cy="1491.7" r="1.55"/><circle cx="1035.6" cy="1195.1" r="1.55"/><circle cx="1035.6" cy="1216.1" r="1.55"/><circle cx="1035.6" cy="1235.5" r="1.55"/><circle cx="1035.6" cy="1247.5" r="1.55"/><circle cx="1035.6" cy="1259.5" r="1.55"/><circle cx="1035.6" cy="1308.9" r="1.55"/><circle cx="1035.6" cy="1341.9" r="1.55"/><circle cx="1035.6" cy="1370.4" r="1.55"/><circle cx="1035.6" cy="1397.3" r="1.55"/><circle cx="1035.6" cy="1415.3" r="1.55"/><circle cx="1035.6" cy="1428.8" r="1.55"/><circle cx="1035.6" cy="1491.7" r="1.55"/><circle cx="1045.6" cy="1195.1" r="1.55"/><circle cx="1045.6" cy="1216.1" r="1.55"/><circle cx="1045.6" cy="1222.1" r="1.55"/><circle cx="1045.6" cy="1235.5" r="1.55"/><circle cx="1045.6" cy="1259.5" r="1.55"/><circle cx="1045.6" cy="1271.5" r="1.55"/><circle cx="1045.6" cy="1279.0" r="1.55"/><circle cx="1045.6" cy="1308.9" r="1.55"/><circle cx="1045.6" cy="1341.9" r="1.55"/><circle cx="1045.6" cy="1356.9" r="1.55"/><circle cx="1045.6" cy="1370.4" r="1.55"/><circle cx="1045.6" cy="1491.7" r="1.55"/><circle cx="1066.8" cy="1195.1" r="1.55"/><circle cx="1066.8" cy="1199.6" r="1.55"/><circle cx="1066.8" cy="1222.1" r="1.55"/><circle cx="1066.8" cy="1235.5" r="1.55"/><circle cx="1066.8" cy="1247.5" r="1.55"/><circle cx="1066.8" cy="1271.5" r="1.55"/><circle cx="1066.8" cy="1297.0" r="1.55"/><circle cx="1066.8" cy="1308.9" r="1.55"/><circle cx="1066.8" cy="1341.9" r="1.55"/><circle cx="1066.8" cy="1356.9" r="1.55"/><circle cx="1066.8" cy="1385.3" r="1.55"/><circle cx="1066.8" cy="1397.3" r="1.55"/><circle cx="1066.8" cy="1415.3" r="1.55"/><circle cx="1066.8" cy="1428.8" r="1.55"/><circle cx="1066.8" cy="1491.7" r="1.55"/><circle cx="1078.0" cy="1195.1" r="1.55"/><circle cx="1078.0" cy="1216.1" r="1.55"/><circle cx="1078.0" cy="1259.5" r="1.55"/><circle cx="1078.0" cy="1271.5" r="1.55"/><circle cx="1078.0" cy="1297.0" r="1.55"/><circle cx="1078.0" cy="1341.9" r="1.55"/><circle cx="1078.0" cy="1397.3" r="1.55"/><circle cx="1078.0" cy="1415.3" r="1.55"/><circle cx="1078.0" cy="1428.8" r="1.55"/><circle cx="1078.0" cy="1491.7" r="1.55"/></g>
<g fill="#000"><circle cx="227.8" cy="1197.5" r="2.4"/><circle cx="227.8" cy="1209.9" r="2.4"/><circle cx="228.1" cy="1222.2" r="2.4"/><circle cx="232.8" cy="1233.7" r="2.4"/><circle cx="238.0" cy="1245.0" r="2.4"/><circle cx="241.9" cy="1256.7" r="2.4"/><circle cx="247.4" cy="1267.8" r="2.4"/><circle cx="251.9" cy="1279.4" r="2.4"/><circle cx="255.5" cy="1291.3" r="2.4"/><circle cx="258.1" cy="1303.4" r="2.4"/><circle cx="260.2" cy="1315.6" r="2.4"/><circle cx="262.7" cy="1327.7" r="2.4"/><circle cx="264.4" cy="1340.0" r="2.4"/><circle cx="266.6" cy="1352.2" r="2.4"/><circle cx="268.6" cy="1364.4" r="2.4"/><circle cx="271.1" cy="1376.6" r="2.4"/><circle cx="273.0" cy="1388.8" r="2.4"/><circle cx="275.4" cy="1401.0" r="2.4"/><circle cx="277.5" cy="1413.2" r="2.4"/><circle cx="279.5" cy="1425.5" r="2.4"/><circle cx="281.8" cy="1437.6" r="2.4"/><circle cx="284.3" cy="1449.8" r="2.4"/><circle cx="291.3" cy="1459.3" r="2.4"/><circle cx="303.0" cy="1456.6" r="2.4"/><circle cx="315.0" cy="1453.6" r="2.4"/><circle cx="326.6" cy="1457.2" r="2.4"/><circle cx="333.3" cy="1467.7" r="2.4"/><circle cx="342.9" cy="1473.4" r="2.4"/><circle cx="354.2" cy="1468.4" r="2.4"/><circle cx="364.5" cy="1461.5" r="2.4"/><circle cx="375.8" cy="1456.7" r="2.4"/><circle cx="386.6" cy="1460.4" r="2.4"/><circle cx="394.5" cy="1466.0" r="2.4"/><circle cx="403.5" cy="1457.5" r="2.4"/><circle cx="412.8" cy="1451.4" r="2.4"/><circle cx="424.8" cy="1449.6" r="2.4"/><circle cx="433.5" cy="1441.4" r="2.4"/><circle cx="440.4" cy="1431.1" r="2.4"/><circle cx="446.5" cy="1420.4" r="2.4"/><circle cx="452.7" cy="1409.6" r="2.4"/><circle cx="459.1" cy="1399.0" r="2.4"/><circle cx="466.5" cy="1389.1" r="2.4"/><circle cx="475.0" cy="1380.1" r="2.4"/><circle cx="483.8" cy="1371.4" r="2.4"/><circle cx="492.8" cy="1362.9" r="2.4"/><circle cx="500.5" cy="1353.4" r="2.4"/><circle cx="506.3" cy="1342.4" r="2.4"/><circle cx="514.2" cy="1333.6" r="2.4"/><circle cx="525.6" cy="1328.8" r="2.4"/><circle cx="536.2" cy="1323.0" r="2.4"/><circle cx="544.2" cy="1313.5" r="2.4"/><circle cx="552.1" cy="1304.1" r="2.4"/><circle cx="562.6" cy="1298.6" r="2.4"/><circle cx="574.8" cy="1297.1" r="2.4"/><circle cx="586.7" cy="1293.6" r="2.4"/><circle cx="598.5" cy="1291.2" r="2.4"/><circle cx="609.8" cy="1295.7" r="2.4"/><circle cx="618.9" cy="1290.3" r="2.4"/><circle cx="626.9" cy="1280.8" r="2.4"/><circle cx="638.0" cy="1278.8" r="2.4"/><circle cx="650.3" cy="1279.9" r="2.4"/><circle cx="662.7" cy="1280.0" r="2.4"/><circle cx="674.4" cy="1276.1" r="2.4"/><circle cx="680.0" cy="1265.2" r="2.4"/><circle cx="685.6" cy="1254.1" r="2.4"/><circle cx="697.5" cy="1251.0" r="2.4"/><circle cx="705.7" cy="1259.8" r="2.4"/><circle cx="712.1" cy="1270.5" r="2.4"/><circle cx="718.4" cy="1281.1" r="2.4"/><circle cx="725.4" cy="1291.3" r="2.4"/><circle cx="731.5" cy="1302.2" r="2.4"/><circle cx="736.5" cy="1313.5" r="2.4"/><circle cx="745.9" cy="1320.7" r="2.4"/><circle cx="756.3" cy="1319.3" r="2.4"/><circle cx="759.8" cy="1331.2" r="2.4"/><circle cx="762.5" cy="1343.3" r="2.4"/><circle cx="765.5" cy="1355.3" r="2.4"/><circle cx="768.4" cy="1367.4" r="2.4"/><circle cx="771.0" cy="1379.5" r="2.4"/><circle cx="773.4" cy="1391.7" r="2.4"/><circle cx="776.4" cy="1403.7" r="2.4"/><circle cx="779.3" cy="1415.8" r="2.4"/><circle cx="782.2" cy="1427.8" r="2.4"/><circle cx="793.3" cy="1430.9" r="2.4"/><circle cx="801.9" cy="1421.9" r="2.4"/><circle cx="811.8" cy="1419.8" r="2.4"/><circle cx="818.9" cy="1426.3" r="2.4"/><circle cx="825.1" cy="1416.1" r="2.4"/><circle cx="829.2" cy="1404.4" r="2.4"/><circle cx="836.9" cy="1402.2" r="2.4"/><circle cx="841.7" cy="1413.6" r="2.4"/><circle cx="846.2" cy="1425.2" r="2.4"/><circle cx="850.9" cy="1436.7" r="2.4"/><circle cx="856.2" cy="1442.5" r="2.4"/><circle cx="861.0" cy="1431.0" r="2.4"/><circle cx="867.1" cy="1420.4" r="2.4"/><circle cx="876.7" cy="1414.1" r="2.4"/><circle cx="880.3" cy="1402.2" r="2.4"/><circle cx="883.8" cy="1390.3" r="2.4"/><circle cx="888.0" cy="1378.6" r="2.4"/><circle cx="890.2" cy="1366.4" r="2.4"/><circle cx="894.4" cy="1356.4" r="2.4"/><circle cx="902.2" cy="1348.5" r="2.4"/><circle cx="910.3" cy="1349.4" r="2.4"/><circle cx="914.3" cy="1361.2" r="2.4"/><circle cx="918.2" cy="1372.9" r="2.4"/><circle cx="921.3" cy="1381.8" r="2.4"/><circle cx="924.3" cy="1369.9" r="2.4"/><circle cx="925.6" cy="1357.5" r="2.4"/><circle cx="926.8" cy="1345.2" r="2.4"/><circle cx="927.6" cy="1332.8" r="2.4"/><circle cx="928.8" cy="1320.5" r="2.4"/><circle cx="933.8" cy="1316.4" r="2.4"/><circle cx="943.4" cy="1324.2" r="2.4"/><circle cx="950.0" cy="1334.7" r="2.4"/><circle cx="956.3" cy="1345.3" r="2.4"/><circle cx="964.0" cy="1354.9" r="2.4"/><circle cx="969.0" cy="1350.6" r="2.4"/><circle cx="972.1" cy="1361.4" r="2.4"/><circle cx="973.5" cy="1349.1" r="2.4"/><circle cx="974.8" cy="1336.7" r="2.4"/><circle cx="976.7" cy="1324.5" r="2.4"/><circle cx="979.0" cy="1312.3" r="2.4"/><circle cx="980.5" cy="1300.0" r="2.4"/><circle cx="987.8" cy="1290.0" r="2.4"/><circle cx="995.3" cy="1280.2" r="2.4"/><circle cx="1003.2" cy="1270.7" r="2.4"/><circle cx="1008.4" cy="1259.4" r="2.4"/><circle cx="1017.4" cy="1250.9" r="2.4"/><circle cx="1024.1" cy="1261.3" r="2.4"/><circle cx="1031.4" cy="1271.3" r="2.4"/><circle cx="1041.3" cy="1278.8" r="2.4"/><circle cx="1049.4" cy="1270.0" r="2.4"/><circle cx="1054.9" cy="1258.9" r="2.4"/><circle cx="1060.8" cy="1248.0" r="2.4"/><circle cx="1064.2" cy="1236.1" r="2.4"/><circle cx="1067.7" cy="1224.3" r="2.4"/></g>
<g fill="#000"><circle cx="183.5" cy="1215.6" r="2.4"/><circle cx="187.5" cy="1227.7" r="2.4"/><circle cx="196.6" cy="1234.7" r="2.4"/><circle cx="200.6" cy="1245.8" r="2.4"/><circle cx="207.7" cy="1259.9" r="2.4"/></g>
<g fill="#000"><circle cx="211.7" cy="1222.7" r="2.4"/><circle cx="210.7" cy="1235.8" r="2.4"/><circle cx="208.7" cy="1247.8" r="2.4"/></g>
<g fill="#fff"><circle cx="151.2" cy="1252.9" r="2.4"/><circle cx="161.9" cy="1258.6" r="2.4"/><circle cx="172.7" cy="1252.6" r="2.4"/><circle cx="182.4" cy="1244.9" r="2.4"/><circle cx="191.5" cy="1236.4" r="2.4"/><circle cx="202.4" cy="1233.5" r="2.4"/><circle cx="212.1" cy="1241.2" r="2.4"/><circle cx="221.1" cy="1249.8" r="2.4"/><circle cx="231.3" cy="1256.8" r="2.4"/><circle cx="241.6" cy="1263.7" r="2.4"/><circle cx="249.8" cy="1273.0" r="2.4"/><circle cx="257.5" cy="1282.7" r="2.4"/><circle cx="264.1" cy="1293.2" r="2.4"/><circle cx="270.1" cy="1304.0" r="2.4"/><circle cx="276.5" cy="1314.7" r="2.4"/><circle cx="283.8" cy="1324.7" r="2.4"/><circle cx="289.8" cy="1335.5" r="2.4"/><circle cx="296.8" cy="1345.7" r="2.4"/><circle cx="303.7" cy="1356.0" r="2.4"/><circle cx="311.4" cy="1365.8" r="2.4"/><circle cx="322.9" cy="1369.3" r="2.4"/><circle cx="334.9" cy="1372.2" r="2.4"/><circle cx="346.0" cy="1377.7" r="2.4"/><circle cx="356.3" cy="1384.6" r="2.4"/><circle cx="367.0" cy="1390.7" r="2.4"/><circle cx="379.0" cy="1393.4" r="2.4"/><circle cx="391.4" cy="1394.6" r="2.4"/><circle cx="399.6" cy="1386.9" r="2.4"/><circle cx="406.7" cy="1376.8" r="2.4"/><circle cx="417.4" cy="1372.2" r="2.4"/><circle cx="429.7" cy="1371.0" r="2.4"/><circle cx="441.8" cy="1368.3" r="2.4"/><circle cx="451.9" cy="1361.6" r="2.4"/><circle cx="461.4" cy="1353.5" r="2.4"/><circle cx="470.9" cy="1345.6" r="2.4"/><circle cx="480.4" cy="1337.6" r="2.4"/><circle cx="489.8" cy="1329.6" r="2.4"/><circle cx="499.4" cy="1321.7" r="2.4"/><circle cx="509.3" cy="1314.3" r="2.4"/><circle cx="520.8" cy="1311.0" r="2.4"/><circle cx="533.2" cy="1310.9" r="2.4"/><circle cx="545.5" cy="1311.6" r="2.4"/><circle cx="557.6" cy="1314.0" r="2.4"/><circle cx="569.7" cy="1316.8" r="2.4"/><circle cx="582.0" cy="1318.1" r="2.4"/><circle cx="594.4" cy="1318.3" r="2.4"/><circle cx="605.6" cy="1314.8" r="2.4"/><circle cx="614.7" cy="1306.5" r="2.4"/><circle cx="623.4" cy="1297.7" r="2.4"/><circle cx="633.6" cy="1291.6" r="2.4"/><circle cx="645.9" cy="1290.2" r="2.4"/><circle cx="658.3" cy="1289.7" r="2.4"/><circle cx="670.7" cy="1289.7" r="2.4"/><circle cx="682.6" cy="1291.5" r="2.4"/><circle cx="692.7" cy="1298.6" r="2.4"/><circle cx="701.8" cy="1307.0" r="2.4"/><circle cx="710.9" cy="1315.5" r="2.4"/><circle cx="720.0" cy="1323.9" r="2.4"/><circle cx="728.9" cy="1332.5" r="2.4"/><circle cx="738.4" cy="1340.4" r="2.4"/><circle cx="749.6" cy="1345.7" r="2.4"/><circle cx="761.0" cy="1350.6" r="2.4"/><circle cx="772.4" cy="1355.4" r="2.4"/><circle cx="784.0" cy="1359.9" r="2.4"/><circle cx="795.8" cy="1363.6" r="2.4"/><circle cx="808.2" cy="1363.6" r="2.4"/><circle cx="820.6" cy="1363.6" r="2.4"/><circle cx="833.0" cy="1363.6" r="2.4"/><circle cx="845.2" cy="1361.7" r="2.4"/><circle cx="856.5" cy="1356.5" r="2.4"/><circle cx="868.0" cy="1352.0" r="2.4"/><circle cx="879.9" cy="1348.3" r="2.4"/><circle cx="891.6" cy="1344.5" r="2.4"/><circle cx="903.2" cy="1340.0" r="2.4"/><circle cx="909.6" cy="1329.7" r="2.4"/><circle cx="915.1" cy="1318.6" r="2.4"/><circle cx="920.4" cy="1307.4" r="2.4"/><circle cx="926.4" cy="1296.5" r="2.4"/><circle cx="937.4" cy="1293.7" r="2.4"/><circle cx="949.7" cy="1293.2" r="2.4"/><circle cx="962.1" cy="1293.6" r="2.4"/><circle cx="974.5" cy="1293.7" r="2.4"/><circle cx="985.1" cy="1288.7" r="2.4"/><circle cx="994.5" cy="1280.6" r="2.4"/><circle cx="1003.7" cy="1272.3" r="2.4"/><circle cx="1014.6" cy="1267.5" r="2.4"/><circle cx="1027.0" cy="1266.6" r="2.4"/><circle cx="1039.4" cy="1266.6" r="2.4"/><circle cx="1051.7" cy="1266.2" r="2.4"/><circle cx="1064.1" cy="1266.0" r="2.4"/><circle cx="1076.5" cy="1266.0" r="2.4"/></g>
<g fill="#fff"><circle cx="145.2" cy="1279.0" r="2.4"/><circle cx="153.9" cy="1287.8" r="2.4"/><circle cx="165.5" cy="1290.2" r="2.4"/><circle cx="175.0" cy="1282.3" r="2.4"/><circle cx="182.7" cy="1272.6" r="2.4"/><circle cx="190.0" cy="1262.7" r="2.4"/><circle cx="201.3" cy="1257.5" r="2.4"/><circle cx="208.9" cy="1265.8" r="2.4"/><circle cx="215.6" cy="1276.3" r="2.4"/><circle cx="224.4" cy="1284.9" r="2.4"/><circle cx="234.4" cy="1292.3" r="2.4"/><circle cx="241.9" cy="1302.0" r="2.4"/><circle cx="248.3" cy="1312.5" r="2.4"/><circle cx="254.4" cy="1323.4" r="2.4"/><circle cx="260.1" cy="1334.4" r="2.4"/><circle cx="264.8" cy="1345.8" r="2.4"/><circle cx="269.4" cy="1357.3" r="2.4"/><circle cx="273.6" cy="1369.0" r="2.4"/><circle cx="278.1" cy="1380.6" r="2.4"/><circle cx="283.5" cy="1391.7" r="2.4"/><circle cx="288.4" cy="1403.0" r="2.4"/><circle cx="292.9" cy="1414.6" r="2.4"/><circle cx="297.9" cy="1425.9" r="2.4"/><circle cx="303.3" cy="1437.1" r="2.4"/><circle cx="309.1" cy="1448.0" r="2.4"/><circle cx="317.4" cy="1456.4" r="2.4"/><circle cx="328.9" cy="1461.0" r="2.4"/><circle cx="339.8" cy="1466.5" r="2.4"/><circle cx="349.1" cy="1474.6" r="2.4"/><circle cx="357.7" cy="1483.6" r="2.4"/><circle cx="367.0" cy="1491.4" r="2.4"/><circle cx="378.6" cy="1495.6" r="2.4"/><circle cx="390.7" cy="1496.1" r="2.4"/><circle cx="398.9" cy="1488.6" r="2.4"/><circle cx="404.0" cy="1477.3" r="2.4"/><circle cx="410.9" cy="1467.2" r="2.4"/><circle cx="421.8" cy="1462.9" r="2.4"/><circle cx="434.1" cy="1461.7" r="2.4"/><circle cx="444.3" cy="1456.2" r="2.4"/><circle cx="452.3" cy="1446.7" r="2.4"/><circle cx="460.0" cy="1437.1" r="2.4"/><circle cx="467.8" cy="1427.4" r="2.4"/><circle cx="475.5" cy="1417.7" r="2.4"/><circle cx="483.3" cy="1408.1" r="2.4"/><circle cx="490.9" cy="1398.3" r="2.4"/><circle cx="498.5" cy="1388.5" r="2.4"/><circle cx="506.2" cy="1378.7" r="2.4"/><circle cx="515.7" cy="1372.3" r="2.4"/><circle cx="528.1" cy="1371.7" r="2.4"/><circle cx="540.5" cy="1371.9" r="2.4"/><circle cx="552.5" cy="1374.0" r="2.4"/><circle cx="563.9" cy="1378.9" r="2.4"/><circle cx="575.6" cy="1382.5" r="2.4"/><circle cx="588.0" cy="1382.9" r="2.4"/><circle cx="599.7" cy="1381.3" r="2.4"/><circle cx="608.6" cy="1372.9" r="2.4"/><circle cx="615.8" cy="1362.8" r="2.4"/><circle cx="623.0" cy="1352.7" r="2.4"/><circle cx="630.7" cy="1343.6" r="2.4"/><circle cx="642.6" cy="1340.3" r="2.4"/><circle cx="654.9" cy="1339.8" r="2.4"/><circle cx="667.3" cy="1339.5" r="2.4"/><circle cx="679.5" cy="1341.0" r="2.4"/><circle cx="689.4" cy="1347.9" r="2.4"/><circle cx="696.6" cy="1358.0" r="2.4"/><circle cx="704.0" cy="1367.9" r="2.4"/><circle cx="711.3" cy="1377.9" r="2.4"/><circle cx="718.2" cy="1388.2" r="2.4"/><circle cx="725.5" cy="1398.3" r="2.4"/><circle cx="733.0" cy="1408.1" r="2.4"/><circle cx="741.0" cy="1417.6" r="2.4"/><circle cx="751.2" cy="1424.6" r="2.4"/><circle cx="761.9" cy="1430.8" r="2.4"/><circle cx="772.4" cy="1437.4" r="2.4"/><circle cx="782.7" cy="1444.3" r="2.4"/><circle cx="793.6" cy="1450.2" r="2.4"/><circle cx="806.0" cy="1450.6" r="2.4"/><circle cx="818.4" cy="1450.6" r="2.4"/><circle cx="830.8" cy="1450.2" r="2.4"/><circle cx="843.0" cy="1448.0" r="2.4"/><circle cx="853.8" cy="1441.9" r="2.4"/><circle cx="864.4" cy="1435.6" r="2.4"/><circle cx="875.3" cy="1429.5" r="2.4"/><circle cx="886.3" cy="1424.0" r="2.4"/><circle cx="897.6" cy="1418.7" r="2.4"/><circle cx="905.8" cy="1409.8" r="2.4"/><circle cx="910.2" cy="1398.3" r="2.4"/><circle cx="914.1" cy="1386.5" r="2.4"/><circle cx="917.8" cy="1374.7" r="2.4"/><circle cx="922.0" cy="1363.0" r="2.4"/><circle cx="925.8" cy="1351.3" r="2.4"/><circle cx="935.9" cy="1346.1" r="2.4"/><circle cx="948.2" cy="1345.0" r="2.4"/><circle cx="960.6" cy="1345.3" r="2.4"/><circle cx="973.0" cy="1345.5" r="2.4"/><circle cx="983.3" cy="1339.8" r="2.4"/><circle cx="988.7" cy="1328.8" r="2.4"/><circle cx="995.8" cy="1318.7" r="2.4"/><circle cx="1005.0" cy="1310.4" r="2.4"/><circle cx="1016.2" cy="1305.6" r="2.4"/><circle cx="1028.4" cy="1304.8" r="2.4"/><circle cx="1040.8" cy="1304.8" r="2.4"/><circle cx="1053.2" cy="1304.8" r="2.4"/><circle cx="1065.6" cy="1304.1" r="2.4"/><circle cx="1078.0" cy="1303.4" r="2.4"/></g>
</g>
<rect x="130" y="1503.5" width="952.8" height="61.700000000000045" fill="#fff"/>
<line x1="130" y1="1503.5" x2="1082.8" y2="1503.5" stroke="#222" stroke-width="1"/>
<rect x="130" y="1192.1" width="952.8" height="373.10000000000014" fill="none" stroke="#111" stroke-width="1.6"/>
<line x1="130" y1="1565.2" x2="1082.8" y2="1565.2" stroke="#1a0a20" stroke-width="2.6"/>
<line x1="119" y1="1192.1" x2="130" y2="1192.1" stroke="#111" stroke-width="2"/>
<text x="107" y="1202.1" text-anchor="end" font-size="28.5" font-weight="bold">0</text>
<line x1="119" y1="1341.9" x2="130" y2="1341.9" stroke="#111" stroke-width="2"/>
<text x="107" y="1351.9" text-anchor="end" font-size="28.5" font-weight="bold">100</text>
<line x1="119" y1="1491.9" x2="130" y2="1491.9" stroke="#111" stroke-width="2"/>
<text x="107" y="1501.9" text-anchor="end" font-size="28.5" font-weight="bold">200</text>
<line x1="123" y1="1267.0" x2="130" y2="1267.0" stroke="#bbb" stroke-width="1"/>
<line x1="123" y1="1416.9" x2="130" y2="1416.9" stroke="#bbb" stroke-width="1"/>
<line x1="123" y1="1565.2" x2="130" y2="1565.2" stroke="#bbb" stroke-width="1"/>
<line x1="197" y1="1565.2" x2="197" y2="1576.2" stroke="#111" stroke-width="2"/>
<text x="196.7" y="1609.7" text-anchor="middle" font-size="30" font-weight="bold">40°S</text>
<line x1="395.3" y1="1565.2" x2="395.3" y2="1576.2" stroke="#111" stroke-width="2"/>
<text x="395.0" y="1609.7" text-anchor="middle" font-size="30" font-weight="bold">20°S</text>
<line x1="593" y1="1565.2" x2="593" y2="1576.2" stroke="#111" stroke-width="2"/>
<text x="592.7" y="1609.7" text-anchor="middle" font-size="30" font-weight="bold">EQ</text>
<line x1="791.5" y1="1565.2" x2="791.5" y2="1576.2" stroke="#111" stroke-width="2"/>
<text x="791.2" y="1609.7" text-anchor="middle" font-size="30" font-weight="bold">20°N</text>
<line x1="989.5" y1="1565.2" x2="989.5" y2="1576.2" stroke="#111" stroke-width="2"/>
<text x="989.2" y="1609.7" text-anchor="middle" font-size="30" font-weight="bold">40°N</text>
<line x1="296" y1="1565.2" x2="296" y2="1573.2" stroke="#bbb" stroke-width="1.2"/>
<line x1="494" y1="1565.2" x2="494" y2="1573.2" stroke="#bbb" stroke-width="1.2"/>
<line x1="692.5" y1="1565.2" x2="692.5" y2="1573.2" stroke="#bbb" stroke-width="1.2"/>
<line x1="890" y1="1565.2" x2="890" y2="1573.2" stroke="#bbb" stroke-width="1.2"/>
<text transform="translate(26.3,1380.1) rotate(-90)" text-anchor="middle" font-size="35" font-weight="bold">Depth [m]</text>
<text x="1075.5" y="1158.3" text-anchor="end" font-size="36.5" font-weight="bold">Pro</text>
<polygon points="1111.6,1192.1 1128.1999999999998,1186.1 1144.8,1192.1 1144.8,1565.2 1128.1999999999998,1573.2 1111.6,1565.2" fill="url(#cbgr)"/>
<linearGradient id="cbgr" x1="0" y1="1565.2" x2="0" y2="1192.1" gradientUnits="userSpaceOnUse"><stop offset="0.0" stop-color="#C27CF2"/><stop offset="0.015" stop-color="#B264F8"/><stop offset="0.04" stop-color="#9640F8"/><stop offset="0.07" stop-color="#7A30F8"/><stop offset="0.1" stop-color="#6634FC"/><stop offset="0.14" stop-color="#6046FC"/><stop offset="0.17" stop-color="#5660F8"/><stop offset="0.2" stop-color="#4C7CF4"/><stop offset="0.24" stop-color="#5090F0"/><stop offset="0.27" stop-color="#5CA4EC"/><stop offset="0.3" stop-color="#64B4E0"/><stop offset="0.32" stop-color="#6CC4C8"/><stop offset="0.345" stop-color="#72CCA8"/><stop offset="0.37" stop-color="#74D08C"/><stop offset="0.4" stop-color="#6CC86C"/><stop offset="0.42" stop-color="#66BC50"/><stop offset="0.45" stop-color="#66B040"/><stop offset="0.5" stop-color="#68AA34"/><stop offset="0.52" stop-color="#70B030"/><stop offset="0.57" stop-color="#90B830"/><stop offset="0.6" stop-color="#B0C430"/><stop offset="0.62" stop-color="#CCCC30"/><stop offset="0.66" stop-color="#E4C830"/><stop offset="0.7" stop-color="#F0C028"/><stop offset="0.74" stop-color="#E8A020"/><stop offset="0.77" stop-color="#E07C18"/><stop offset="0.8" stop-color="#D05010"/><stop offset="0.81" stop-color="#C03010"/><stop offset="0.83" stop-color="#B82028"/><stop offset="0.87" stop-color="#B82838"/><stop offset="0.9" stop-color="#C44858"/><stop offset="0.94" stop-color="#D88878"/><stop offset="0.97" stop-color="#E8A888"/><stop offset="1.0" stop-color="#F2C08C"/></linearGradient>
<line x1="1111.6" y1="1192.1" x2="1119.6" y2="1192.1" stroke="#111" stroke-width="2.2"/>
<line x1="1136.8" y1="1192.1" x2="1144.8" y2="1192.1" stroke="#111" stroke-width="2.2"/>
<text x="1153.6" y="1202.1" font-size="28.5" font-weight="bold">400000</text>
<line x1="1111.6" y1="1285.375" x2="1119.6" y2="1285.375" stroke="#111" stroke-width="2.2"/>
<line x1="1136.8" y1="1285.375" x2="1144.8" y2="1285.375" stroke="#111" stroke-width="2.2"/>
<text x="1153.6" y="1295.375" font-size="28.5" font-weight="bold">300000</text>
<line x1="1111.6" y1="1378.65" x2="1119.6" y2="1378.65" stroke="#111" stroke-width="2.2"/>
<line x1="1136.8" y1="1378.65" x2="1144.8" y2="1378.65" stroke="#111" stroke-width="2.2"/>
<text x="1153.6" y="1388.65" font-size="28.5" font-weight="bold">200000</text>
<line x1="1111.6" y1="1471.925" x2="1119.6" y2="1471.925" stroke="#111" stroke-width="2.2"/>
<line x1="1136.8" y1="1471.925" x2="1144.8" y2="1471.925" stroke="#111" stroke-width="2.2"/>
<text x="1153.6" y="1481.925" font-size="28.5" font-weight="bold">100000</text>
<line x1="1111.6" y1="1565.2" x2="1119.6" y2="1565.2" stroke="#111" stroke-width="2.2"/>
<line x1="1136.8" y1="1565.2" x2="1144.8" y2="1565.2" stroke="#111" stroke-width="2.2"/>
<text x="1153.6" y="1575.2" font-size="28.5" font-weight="bold">0</text>
<text transform="translate(1106.6,1562.2) rotate(-90)" font-size="18" font-weight="bold">Ocean Data View</text>
<clipPath id="cps"><rect x="130" y="1705.7" width="954.5999999999999" height="312.0"/></clipPath>
<g clip-path="url(#cps)"><g filter="url(#bl)">
<rect x="100" y="1675.7" width="1014.5999999999999" height="372.0" fill="#B46BF9"/>
<path d="M105.0,1685.7 L105.0,1870.0 C107.5,1870.0 115.8,1870.0 120.0,1870.0 C124.2,1870.0 117.5,1868.3 130.0,1870.0 C142.5,1871.7 183.3,1870.0 195.0,1880.0 C206.7,1890.0 190.0,1921.7 200.0,1930.0 C210.0,1938.3 244.7,1933.3 255.0,1930.0 C265.3,1926.7 257.3,1915.0 262.0,1910.0 C266.7,1905.0 273.3,1900.8 283.0,1900.0 C292.7,1899.2 307.2,1905.0 320.0,1905.0 C332.8,1905.0 346.7,1900.0 360.0,1900.0 C373.3,1900.0 386.7,1903.3 400.0,1905.0 C413.3,1906.7 426.7,1914.2 440.0,1910.0 C453.3,1905.8 466.7,1888.3 480.0,1880.0 C493.3,1871.7 509.8,1864.7 520.0,1860.0 C530.2,1855.3 527.7,1854.5 541.0,1852.0 C554.3,1849.5 583.5,1847.0 600.0,1845.0 C616.5,1843.0 623.3,1841.2 640.0,1840.0 C656.7,1838.8 683.5,1837.2 700.0,1838.0 C716.5,1838.8 725.7,1838.8 739.0,1845.0 C752.3,1851.2 766.5,1868.3 780.0,1875.0 C793.5,1881.7 806.7,1880.0 820.0,1885.0 C833.3,1890.0 846.7,1900.8 860.0,1905.0 C873.3,1909.2 886.7,1913.3 900.0,1910.0 C913.3,1906.7 926.7,1893.3 940.0,1885.0 C953.3,1876.7 969.2,1865.8 980.0,1860.0 C990.8,1854.2 995.0,1852.5 1005.0,1850.0 C1015.0,1847.5 1026.7,1845.8 1040.0,1845.0 C1053.3,1844.2 1075.5,1845.0 1085.0,1845.0 C1094.5,1845.0 1092.8,1845.0 1097.0,1845.0 C1101.2,1845.0 1107.8,1845.0 1110.0,1845.0 L1110.0,1685.7 Z" fill="#A65CF8"/>
<path d="M105.0,1685.7 L105.0,1852.0 C107.5,1852.0 115.8,1852.0 120.0,1852.0 C124.2,1852.0 125.8,1855.7 130.0,1852.0 C134.2,1848.3 140.0,1834.7 145.0,1830.0 C150.0,1825.3 154.2,1824.3 160.0,1824.0 C165.8,1823.7 174.2,1825.0 180.0,1828.0 C185.8,1831.0 191.7,1827.0 195.0,1842.0 C198.3,1857.0 190.0,1905.3 200.0,1918.0 C210.0,1930.7 244.7,1921.0 255.0,1918.0 C265.3,1915.0 257.3,1906.3 262.0,1900.0 C266.7,1893.7 276.7,1885.8 283.0,1880.0 C289.3,1874.2 293.8,1866.7 300.0,1865.0 C306.2,1863.3 313.3,1867.5 320.0,1870.0 C326.7,1872.5 333.3,1878.2 340.0,1880.0 C346.7,1881.8 353.3,1882.8 360.0,1881.0 C366.7,1879.2 374.3,1868.0 380.0,1869.0 C385.7,1870.0 389.0,1888.7 394.0,1887.0 C399.0,1885.3 404.7,1860.3 410.0,1859.0 C415.3,1857.7 420.7,1873.0 426.0,1879.0 C431.3,1885.0 436.3,1895.7 442.0,1895.0 C447.7,1894.3 454.5,1881.7 460.0,1875.0 C465.5,1868.3 468.8,1859.7 475.0,1855.0 C481.2,1850.3 489.3,1848.7 497.0,1847.0 C504.7,1845.3 513.7,1845.3 521.0,1845.0 C528.3,1844.7 534.3,1846.0 541.0,1845.0 C547.7,1844.0 549.5,1840.7 561.0,1839.0 C572.5,1837.3 596.8,1836.5 610.0,1835.0 C623.2,1833.5 628.3,1832.0 640.0,1830.0 C651.7,1828.0 670.0,1824.7 680.0,1823.0 C690.0,1821.3 693.3,1819.5 700.0,1820.0 C706.7,1820.5 713.5,1823.8 720.0,1826.0 C726.5,1828.2 732.3,1830.7 739.0,1833.0 C745.7,1835.3 753.2,1835.2 760.0,1840.0 C766.8,1844.8 774.2,1857.0 780.0,1862.0 C785.8,1867.0 790.0,1871.0 795.0,1870.0 C800.0,1869.0 804.2,1857.3 810.0,1856.0 C815.8,1854.7 823.3,1858.8 830.0,1862.0 C836.7,1865.2 843.3,1870.3 850.0,1875.0 C856.7,1879.7 864.2,1889.2 870.0,1890.0 C875.8,1890.8 880.0,1885.0 885.0,1880.0 C890.0,1875.0 892.5,1865.8 900.0,1860.0 C907.5,1854.2 920.0,1849.2 930.0,1845.0 C940.0,1840.8 951.7,1837.2 960.0,1835.0 C968.3,1832.8 972.5,1831.5 980.0,1832.0 C987.5,1832.5 996.7,1838.3 1005.0,1838.0 C1013.3,1837.7 1020.8,1831.3 1030.0,1830.0 C1039.2,1828.7 1050.8,1829.7 1060.0,1830.0 C1069.2,1830.3 1078.8,1831.7 1085.0,1832.0 C1091.2,1832.3 1092.8,1832.0 1097.0,1832.0 C1101.2,1832.0 1107.8,1832.0 1110.0,1832.0 L1110.0,1685.7 Z" fill="#6A3CF9"/>
<path d="M105.0,1685.7 L105.0,1845.0 C107.5,1845.0 115.8,1845.0 120.0,1845.0 C124.2,1845.0 125.8,1849.2 130.0,1845.0 C134.2,1840.8 140.0,1825.2 145.0,1820.0 C150.0,1814.8 154.2,1814.3 160.0,1814.0 C165.8,1813.7 174.2,1815.3 180.0,1818.0 C185.8,1820.7 191.7,1813.3 195.0,1830.0 C198.3,1846.7 190.0,1903.3 200.0,1918.0 C210.0,1932.7 245.0,1922.7 255.0,1918.0 C265.0,1913.3 256.7,1899.7 260.0,1890.0 C263.3,1880.3 271.2,1866.7 275.0,1860.0 C278.8,1853.3 278.8,1852.5 283.0,1850.0 C287.2,1847.5 292.2,1845.0 300.0,1845.0 C307.8,1845.0 320.0,1848.3 330.0,1850.0 C340.0,1851.7 350.0,1853.3 360.0,1855.0 C370.0,1856.7 380.0,1859.2 390.0,1860.0 C400.0,1860.8 410.0,1860.8 420.0,1860.0 C430.0,1859.2 440.0,1858.3 450.0,1855.0 C460.0,1851.7 470.0,1845.0 480.0,1840.0 C490.0,1835.0 503.8,1828.3 510.0,1825.0 C516.2,1821.7 515.3,1819.2 517.0,1820.0 C518.7,1820.8 516.0,1827.5 520.0,1830.0 C524.0,1832.5 531.0,1835.0 541.0,1835.0 C551.0,1835.0 566.8,1831.7 580.0,1830.0 C593.2,1828.3 606.7,1827.5 620.0,1825.0 C633.3,1822.5 646.7,1817.2 660.0,1815.0 C673.3,1812.8 686.8,1810.8 700.0,1812.0 C713.2,1813.2 729.0,1819.0 739.0,1822.0 C749.0,1825.0 753.2,1825.3 760.0,1830.0 C766.8,1834.7 773.3,1845.8 780.0,1850.0 C786.7,1854.2 793.3,1853.3 800.0,1855.0 C806.7,1856.7 813.3,1858.3 820.0,1860.0 C826.7,1861.7 833.3,1865.0 840.0,1865.0 C846.7,1865.0 853.3,1862.5 860.0,1860.0 C866.7,1857.5 873.3,1853.3 880.0,1850.0 C886.7,1846.7 891.7,1843.3 900.0,1840.0 C908.3,1836.7 920.0,1832.3 930.0,1830.0 C940.0,1827.7 951.5,1827.3 960.0,1826.0 C968.5,1824.7 973.5,1821.7 981.0,1822.0 C988.5,1822.3 995.2,1827.5 1005.0,1828.0 C1014.8,1828.5 1026.7,1825.5 1040.0,1825.0 C1053.3,1824.5 1075.5,1825.0 1085.0,1825.0 C1094.5,1825.0 1092.8,1825.0 1097.0,1825.0 C1101.2,1825.0 1107.8,1825.0 1110.0,1825.0 L1110.0,1685.7 Z" fill="#5A5AF6"/>
<path d="M283.0,1706.0 C304.2,1685.3 388.0,1697.0 410.0,1706.0 C432.0,1715.0 416.7,1744.3 415.0,1760.0 C413.3,1775.7 405.8,1788.3 400.0,1800.0 C394.2,1811.7 386.7,1823.3 380.0,1830.0 C373.3,1836.7 368.3,1838.3 360.0,1840.0 C351.7,1841.7 340.0,1840.8 330.0,1840.0 C320.0,1839.2 307.8,1836.7 300.0,1835.0 C292.2,1833.3 285.8,1851.5 283.0,1830.0 C280.2,1808.5 261.8,1726.7 283.0,1706.0 Z" fill="#4E82F2"/>
<ellipse cx="330" cy="1745" rx="22" ry="25" fill="#5EA6EA"/>
<ellipse cx="470" cy="1750" rx="25" ry="30" fill="#4E82F2"/>
<path d="M739.0,1706.0 C783.3,1686.7 960.7,1687.2 1005.0,1706.0 C1049.3,1724.8 1009.0,1799.2 1005.0,1819.0 C1001.0,1838.8 988.5,1823.8 981.0,1825.0 C973.5,1826.2 968.5,1825.2 960.0,1826.0 C951.5,1826.8 940.0,1828.3 930.0,1830.0 C920.0,1831.7 908.3,1834.3 900.0,1836.0 C891.7,1837.7 886.7,1836.0 880.0,1840.0 C873.3,1844.0 866.7,1856.3 860.0,1860.0 C853.3,1863.7 846.7,1862.8 840.0,1862.0 C833.3,1861.2 826.7,1857.0 820.0,1855.0 C813.3,1853.0 806.7,1852.5 800.0,1850.0 C793.3,1847.5 786.7,1843.7 780.0,1840.0 C773.3,1836.3 766.8,1831.0 760.0,1828.0 C753.2,1825.0 742.5,1842.3 739.0,1822.0 C735.5,1801.7 694.7,1725.3 739.0,1706.0 Z" fill="#4E82F2"/>
<path d="M767.0,1706.0 C774.8,1697.0 805.2,1693.7 814.0,1706.0 C822.8,1718.3 820.3,1756.8 820.0,1780.0 C819.7,1803.2 817.0,1835.0 812.0,1845.0 C807.0,1855.0 796.2,1847.5 790.0,1840.0 C783.8,1832.5 778.8,1813.3 775.0,1800.0 C771.2,1786.7 768.3,1775.7 767.0,1760.0 C765.7,1744.3 759.2,1715.0 767.0,1706.0 Z" fill="#5A5AF6"/>
<path d="M870.0,1706.0 C875.0,1690.3 895.0,1682.0 900.0,1706.0 C905.0,1730.0 903.3,1826.0 900.0,1850.0 C896.7,1874.0 885.0,1858.3 880.0,1850.0 C875.0,1841.7 871.7,1824.0 870.0,1800.0 C868.3,1776.0 865.0,1721.7 870.0,1706.0 Z" fill="#5A5AF6"/>
<path d="M741.0,1706.0 C744.7,1688.7 762.7,1690.3 767.0,1706.0 C771.3,1721.7 768.2,1781.8 767.0,1800.0 C765.8,1818.2 763.7,1813.3 760.0,1815.0 C756.3,1816.7 748.2,1828.2 745.0,1810.0 C741.8,1791.8 737.3,1723.3 741.0,1706.0 Z" fill="#5EA6EA"/>
<path d="M814.0,1706.0 C819.3,1692.0 843.0,1697.0 850.0,1706.0 C857.0,1715.0 856.0,1744.3 856.0,1760.0 C856.0,1775.7 854.3,1790.8 850.0,1800.0 C845.7,1809.2 835.3,1816.7 830.0,1815.0 C824.7,1813.3 820.7,1808.2 818.0,1790.0 C815.3,1771.8 808.7,1720.0 814.0,1706.0 Z" fill="#5EA6EA"/>
<path d="M840.0,1706.0 C843.5,1695.3 861.7,1697.0 866.0,1706.0 C870.3,1715.0 869.5,1749.3 866.0,1760.0 C862.5,1770.7 849.3,1779.0 845.0,1770.0 C840.7,1761.0 836.5,1716.7 840.0,1706.0 Z" fill="#6CC4C0"/>
<ellipse cx="946" cy="1768" rx="15" ry="20" fill="#5EA6EA"/>
<path d="M965.0,1706.0 C968.3,1690.3 981.7,1690.3 985.0,1706.0 C988.3,1721.7 986.7,1781.0 985.0,1800.0 C983.3,1819.0 978.3,1820.0 975.0,1820.0 C971.7,1820.0 966.7,1819.0 965.0,1800.0 C963.3,1781.0 961.7,1721.7 965.0,1706.0 Z" fill="#6CC4C0"/>
<ellipse cx="832" cy="1728" rx="10" ry="10" fill="#74CC88"/>
<path d="M979.0,1706.0 C983.0,1689.5 1000.7,1687.8 1005.0,1706.0 C1009.3,1724.2 1007.5,1796.2 1005.0,1815.0 C1002.5,1833.8 994.0,1820.7 990.0,1819.0 C986.0,1817.3 982.8,1823.8 981.0,1805.0 C979.2,1786.2 975.0,1722.5 979.0,1706.0 Z" fill="#66AE3A"/>
<path d="M514.0,1685.7 L514.0,1840.0 C518.5,1839.3 530.0,1838.0 541.0,1836.0 C552.0,1834.0 566.8,1830.0 580.0,1828.0 C593.2,1826.0 606.7,1826.0 620.0,1824.0 C633.3,1822.0 646.7,1818.0 660.0,1816.0 C673.3,1814.0 686.8,1811.0 700.0,1812.0 C713.2,1813.0 732.0,1839.7 739.0,1822.0 C746.0,1804.3 741.5,1725.3 742.0,1706.0 L742.0,1685.7 Z" fill="#4E82F2"/>
<path d="M517.0,1685.7 L517.0,1830.0 C521.0,1829.3 530.5,1827.7 541.0,1826.0 C551.5,1824.3 566.8,1821.7 580.0,1820.0 C593.2,1818.3 606.7,1818.0 620.0,1816.0 C633.3,1814.0 646.7,1810.0 660.0,1808.0 C673.3,1806.0 686.8,1803.3 700.0,1804.0 C713.2,1804.7 732.3,1828.3 739.0,1812.0 C745.7,1795.7 739.8,1723.7 740.0,1706.0 L740.0,1685.7 Z" fill="#6CC4C0"/>
<path d="M519.0,1685.7 L519.0,1815.0 C522.7,1814.5 530.8,1813.2 541.0,1812.0 C551.2,1810.8 566.8,1809.2 580.0,1808.0 C593.2,1806.8 606.7,1806.3 620.0,1805.0 C633.3,1803.7 646.7,1801.2 660.0,1800.0 C673.3,1798.8 687.3,1798.0 700.0,1798.0 C712.7,1798.0 729.7,1815.3 736.0,1800.0 C742.3,1784.7 737.7,1721.7 738.0,1706.0 L738.0,1685.7 Z" fill="#66AE3A"/>
<path d="M565.0,1706.0 C574.5,1700.3 615.2,1700.3 625.0,1706.0 C634.8,1711.7 626.2,1730.7 624.0,1740.0 C621.8,1749.3 616.8,1757.3 612.0,1762.0 C607.2,1766.7 601.2,1767.5 595.0,1768.0 C588.8,1768.5 579.5,1769.7 575.0,1765.0 C570.5,1760.3 569.7,1749.8 568.0,1740.0 C566.3,1730.2 555.5,1711.7 565.0,1706.0 Z" fill="#62B4DC"/>
<path d="M522.0,1706.0 C526.2,1690.3 542.8,1690.3 547.0,1706.0 C551.2,1721.7 549.0,1782.7 547.0,1800.0 C545.0,1817.3 539.2,1810.0 535.0,1810.0 C530.8,1810.0 524.2,1817.3 522.0,1800.0 C519.8,1782.7 517.8,1721.7 522.0,1706.0 Z" fill="#EEC42C"/>
<path d="M529.0,1706.0 C531.0,1693.7 539.0,1690.7 541.0,1706.0 C543.0,1721.3 542.3,1782.3 541.0,1798.0 C539.7,1813.7 535.0,1803.0 533.0,1800.0 C531.0,1797.0 529.7,1795.7 529.0,1780.0 C528.3,1764.3 527.0,1718.3 529.0,1706.0 Z" fill="#C0262A"/>
<path d="M590.0,1773.0 C593.7,1768.8 603.3,1769.7 610.0,1770.0 C616.7,1770.3 625.0,1771.7 630.0,1775.0 C635.0,1778.3 640.0,1784.5 640.0,1790.0 C640.0,1795.5 636.7,1804.7 630.0,1808.0 C623.3,1811.3 607.0,1812.2 600.0,1810.0 C593.0,1807.8 589.7,1801.2 588.0,1795.0 C586.3,1788.8 586.3,1777.2 590.0,1773.0 Z" fill="#EEC42C"/>
<path d="M647.0,1706.0 C660.8,1701.2 724.5,1689.8 740.0,1706.0 C755.5,1722.2 743.3,1786.3 740.0,1803.0 C736.7,1819.7 726.7,1806.2 720.0,1806.0 C713.3,1805.8 705.3,1804.3 700.0,1802.0 C694.7,1799.7 691.7,1794.2 688.0,1792.0 C684.3,1789.8 682.0,1789.0 678.0,1789.0 C674.0,1789.0 666.7,1796.0 664.0,1792.0 C661.3,1788.0 663.2,1774.5 662.0,1765.0 C660.8,1755.5 659.5,1744.8 657.0,1735.0 C654.5,1725.2 633.2,1710.8 647.0,1706.0 Z" fill="#EEC42C"/>
<path d="M649.0,1706.0 C662.7,1701.7 723.2,1690.5 738.0,1706.0 C752.8,1721.5 741.0,1782.8 738.0,1799.0 C735.0,1815.2 726.3,1803.0 720.0,1803.0 C713.7,1803.0 705.3,1801.3 700.0,1799.0 C694.7,1796.7 692.0,1791.2 688.0,1789.0 C684.0,1786.8 680.0,1786.0 676.0,1786.0 C672.0,1786.0 666.3,1793.0 664.0,1789.0 C661.7,1785.0 663.3,1771.5 662.0,1762.0 C660.7,1752.5 658.2,1741.3 656.0,1732.0 C653.8,1722.7 635.3,1710.3 649.0,1706.0 Z" fill="#C0262A"/>
<path d="M653.0,1706.0 C665.3,1702.0 720.5,1691.3 734.0,1706.0 C747.5,1720.7 736.8,1778.7 734.0,1794.0 C731.2,1809.3 722.7,1797.8 717.0,1798.0 C711.3,1798.2 704.5,1797.2 700.0,1795.0 C695.5,1792.8 693.3,1787.3 690.0,1785.0 C686.7,1782.7 683.7,1781.2 680.0,1781.0 C676.3,1780.8 670.3,1788.2 668.0,1784.0 C665.7,1779.8 667.3,1765.0 666.0,1756.0 C664.7,1747.0 662.2,1738.3 660.0,1730.0 C657.8,1721.7 640.7,1710.0 653.0,1706.0 Z" fill="#F2C08C"/>
<path d="M1005.0,1685.7 L1005.0,1828.0 C1009.2,1827.5 1020.8,1826.0 1030.0,1825.0 C1039.2,1824.0 1050.8,1822.5 1060.0,1822.0 C1069.2,1821.5 1078.8,1822.0 1085.0,1822.0 C1091.2,1822.0 1092.8,1822.0 1097.0,1822.0 C1101.2,1822.0 1107.8,1822.0 1110.0,1822.0 L1110.0,1685.7 Z" fill="#4E82F2"/>
<path d="M1005.0,1685.7 L1005.0,1815.0 C1009.2,1814.2 1020.8,1811.7 1030.0,1810.0 C1039.2,1808.3 1050.8,1806.7 1060.0,1805.0 C1069.2,1803.3 1078.8,1800.8 1085.0,1800.0 C1091.2,1799.2 1092.8,1800.0 1097.0,1800.0 C1101.2,1800.0 1107.8,1800.0 1110.0,1800.0 L1110.0,1685.7 Z" fill="#66AE3A"/>
<path d="M1010.0,1706.0 C1015.0,1695.3 1039.2,1695.3 1045.0,1706.0 C1050.8,1716.7 1047.5,1758.5 1045.0,1770.0 C1042.5,1781.5 1035.0,1775.0 1030.0,1775.0 C1025.0,1775.0 1018.3,1781.5 1015.0,1770.0 C1011.7,1758.5 1005.0,1716.7 1010.0,1706.0 Z" fill="#EEC42C"/>
<path d="M1015.0,1706.0 C1018.2,1698.7 1030.8,1698.7 1034.0,1706.0 C1037.2,1713.3 1035.5,1741.0 1034.0,1750.0 C1032.5,1759.0 1028.2,1760.0 1025.0,1760.0 C1021.8,1760.0 1016.7,1759.0 1015.0,1750.0 C1013.3,1741.0 1011.8,1713.3 1015.0,1706.0 Z" fill="#C0262A"/>
<path d="M1042.0,1706.0 C1045.0,1697.0 1056.7,1695.3 1060.0,1706.0 C1063.3,1716.7 1063.7,1758.5 1062.0,1770.0 C1060.3,1781.5 1053.3,1776.7 1050.0,1775.0 C1046.7,1773.3 1043.3,1771.5 1042.0,1760.0 C1040.7,1748.5 1039.0,1715.0 1042.0,1706.0 Z" fill="#A8C030"/>
<path d="M1058.0,1706.0 C1063.5,1700.3 1084.7,1690.3 1090.0,1706.0 C1095.3,1721.7 1093.0,1785.7 1090.0,1800.0 C1087.0,1814.3 1077.0,1797.0 1072.0,1792.0 C1067.0,1787.0 1062.5,1778.7 1060.0,1770.0 C1057.5,1761.3 1057.3,1750.7 1057.0,1740.0 C1056.7,1729.3 1052.5,1711.7 1058.0,1706.0 Z" fill="#C0262A"/>
<path d="M1062.0,1706.0 C1066.7,1700.3 1085.3,1691.2 1090.0,1706.0 C1094.7,1720.8 1092.5,1781.8 1090.0,1795.0 C1087.5,1808.2 1079.2,1790.0 1075.0,1785.0 C1070.8,1780.0 1067.2,1772.5 1065.0,1765.0 C1062.8,1757.5 1062.5,1749.8 1062.0,1740.0 C1061.5,1730.2 1057.3,1711.7 1062.0,1706.0 Z" fill="#F2C08C"/>
<path d="M105.0,1685.7 L105.0,1838.0 C107.5,1838.0 115.8,1838.0 120.0,1838.0 C124.2,1838.0 127.0,1838.8 130.0,1838.0 C133.0,1837.2 135.5,1837.3 138.0,1833.0 C140.5,1828.7 142.2,1816.5 145.0,1812.0 C147.8,1807.5 151.7,1807.0 155.0,1806.0 C158.3,1805.0 161.7,1805.8 165.0,1806.0 C168.3,1806.2 171.7,1806.2 175.0,1807.0 C178.3,1807.8 181.8,1808.5 185.0,1811.0 C188.2,1813.5 191.5,1815.8 194.0,1822.0 C196.5,1828.2 199.0,1832.0 200.0,1848.0 C201.0,1864.0 190.8,1906.3 200.0,1918.0 C209.2,1929.7 244.7,1923.5 255.0,1918.0 C265.3,1912.5 259.5,1894.7 262.0,1885.0 C264.5,1875.3 267.3,1869.2 270.0,1860.0 C272.7,1850.8 275.8,1841.7 278.0,1830.0 C280.2,1818.3 282.0,1810.7 283.0,1790.0 C284.0,1769.3 283.8,1720.0 284.0,1706.0 L284.0,1685.7 Z" fill="#4E82F2"/>
<path d="M105.0,1685.7 L105.0,1830.0 C107.5,1830.0 115.8,1830.0 120.0,1830.0 C124.2,1830.0 127.0,1830.8 130.0,1830.0 C133.0,1829.2 135.5,1829.2 138.0,1825.0 C140.5,1820.8 142.2,1809.5 145.0,1805.0 C147.8,1800.5 151.7,1799.2 155.0,1798.0 C158.3,1796.8 161.7,1797.8 165.0,1798.0 C168.3,1798.2 171.7,1798.2 175.0,1799.0 C178.3,1799.8 182.0,1800.3 185.0,1803.0 C188.0,1805.7 190.5,1808.0 193.0,1815.0 C195.5,1822.0 198.2,1828.2 200.0,1845.0 C201.8,1861.8 195.7,1904.2 204.0,1916.0 C212.3,1927.8 241.3,1922.0 250.0,1916.0 C258.7,1910.0 253.7,1891.0 256.0,1880.0 C258.3,1869.0 261.3,1858.3 264.0,1850.0 C266.7,1841.7 269.7,1838.3 272.0,1830.0 C274.3,1821.7 276.7,1820.7 278.0,1800.0 C279.3,1779.3 279.7,1721.7 280.0,1706.0 L280.0,1685.7 Z" fill="#5EA6EA"/>
<path d="M105.0,1685.7 L105.0,1818.0 C107.5,1818.0 115.8,1818.0 120.0,1818.0 C124.2,1818.0 127.0,1819.0 130.0,1818.0 C133.0,1817.0 135.5,1815.8 138.0,1812.0 C140.5,1808.2 142.2,1798.7 145.0,1795.0 C147.8,1791.3 151.7,1790.8 155.0,1790.0 C158.3,1789.2 161.7,1789.8 165.0,1790.0 C168.3,1790.2 171.7,1790.2 175.0,1791.0 C178.3,1791.8 182.2,1792.2 185.0,1795.0 C187.8,1797.8 189.8,1800.5 192.0,1808.0 C194.2,1815.5 195.7,1822.3 198.0,1840.0 C200.3,1857.7 197.7,1901.7 206.0,1914.0 C214.3,1926.3 240.3,1919.7 248.0,1914.0 C255.7,1908.3 250.0,1890.7 252.0,1880.0 C254.0,1869.3 257.3,1859.2 260.0,1850.0 C262.7,1840.8 265.5,1833.3 268.0,1825.0 C270.5,1816.7 273.3,1819.8 275.0,1800.0 C276.7,1780.2 277.5,1721.7 278.0,1706.0 L278.0,1685.7 Z" fill="#66AE3A"/>
<path d="M215.0,1850.0 C216.2,1845.8 221.7,1843.3 225.0,1845.0 C228.3,1846.7 232.5,1852.5 235.0,1860.0 C237.5,1867.5 240.0,1882.5 240.0,1890.0 C240.0,1897.5 237.5,1903.3 235.0,1905.0 C232.5,1906.7 227.8,1905.8 225.0,1900.0 C222.2,1894.2 219.7,1878.3 218.0,1870.0 C216.3,1861.7 213.8,1854.2 215.0,1850.0 Z" fill="#5EA6EA"/>
<path d="M198.0,1840.0 C199.7,1833.7 206.0,1835.3 208.0,1842.0 C210.0,1848.7 210.7,1869.5 210.0,1880.0 C209.3,1890.5 206.0,1905.0 204.0,1905.0 C202.0,1905.0 199.0,1890.8 198.0,1880.0 C197.0,1869.2 196.3,1846.3 198.0,1840.0 Z" fill="#4E82F2"/>
<path d="M105.0,1685.7 L105.0,1804.0 C107.5,1804.0 115.8,1804.0 120.0,1804.0 C124.2,1804.0 127.0,1804.8 130.0,1804.0 C133.0,1803.2 135.5,1802.0 138.0,1799.0 C140.5,1796.0 142.2,1788.7 145.0,1786.0 C147.8,1783.3 151.7,1783.5 155.0,1783.0 C158.3,1782.5 161.7,1782.7 165.0,1783.0 C168.3,1783.3 171.7,1783.8 175.0,1785.0 C178.3,1786.2 182.3,1787.2 185.0,1790.0 C187.7,1792.8 189.2,1796.7 191.0,1802.0 C192.8,1807.3 194.5,1814.7 196.0,1822.0 C197.5,1829.3 198.4,1840.0 200.0,1846.0 C201.6,1852.0 203.7,1857.8 205.6,1858.0 C207.5,1858.2 209.0,1851.5 211.7,1847.0 C214.4,1842.5 217.4,1834.3 221.8,1831.0 C226.2,1827.7 232.6,1829.0 238.0,1827.0 C243.4,1825.0 249.3,1823.3 254.0,1819.0 C258.7,1814.7 262.7,1806.5 266.0,1801.0 C269.3,1795.5 272.3,1801.8 274.0,1786.0 C275.7,1770.2 275.7,1719.3 276.0,1706.0 L276.0,1685.7 Z" fill="#EEC42C"/>
<path d="M105.0,1685.7 L105.0,1800.0 C107.5,1800.0 115.8,1800.0 120.0,1800.0 C124.2,1800.0 127.0,1800.8 130.0,1800.0 C133.0,1799.2 135.5,1797.8 138.0,1795.0 C140.5,1792.2 142.2,1785.5 145.0,1783.0 C147.8,1780.5 151.7,1780.5 155.0,1780.0 C158.3,1779.5 161.7,1779.7 165.0,1780.0 C168.3,1780.3 171.7,1780.8 175.0,1782.0 C178.3,1783.2 182.3,1784.2 185.0,1787.0 C187.7,1789.8 189.2,1793.7 191.0,1799.0 C192.8,1804.3 194.5,1811.7 196.0,1819.0 C197.5,1826.3 198.4,1837.0 200.0,1843.0 C201.6,1849.0 203.7,1855.0 205.6,1855.0 C207.5,1855.0 209.0,1847.7 211.7,1843.0 C214.4,1838.3 217.4,1830.3 221.8,1827.0 C226.2,1823.7 232.6,1825.0 238.0,1823.0 C243.4,1821.0 249.3,1819.3 254.0,1815.0 C258.7,1810.7 262.7,1802.3 266.0,1797.0 C269.3,1791.7 272.4,1798.2 274.0,1783.0 C275.6,1767.8 275.2,1718.8 275.5,1706.0 L275.5,1685.7 Z" fill="#C0262A"/>
<path d="M105.0,1685.7 L105.0,1795.0 C107.5,1795.0 115.8,1795.0 120.0,1795.0 C124.2,1795.0 127.0,1795.8 130.0,1795.0 C133.0,1794.2 135.5,1792.7 138.0,1790.0 C140.5,1787.3 142.2,1781.3 145.0,1779.0 C147.8,1776.7 151.7,1776.5 155.0,1776.0 C158.3,1775.5 161.7,1775.7 165.0,1776.0 C168.3,1776.3 171.7,1776.8 175.0,1778.0 C178.3,1779.2 182.3,1780.2 185.0,1783.0 C187.7,1785.8 189.2,1789.7 191.0,1795.0 C192.8,1800.3 194.5,1807.7 196.0,1815.0 C197.5,1822.3 198.4,1833.0 200.0,1839.0 C201.6,1845.0 203.7,1851.0 205.6,1851.0 C207.5,1851.0 209.0,1843.7 211.7,1839.0 C214.4,1834.3 217.4,1826.3 221.8,1823.0 C226.2,1819.7 232.6,1821.0 238.0,1819.0 C243.4,1817.0 249.3,1815.3 254.0,1811.0 C258.7,1806.7 262.7,1798.3 266.0,1793.0 C269.3,1787.7 272.5,1793.5 274.0,1779.0 C275.5,1764.5 274.8,1718.2 275.0,1706.0 L275.0,1685.7 Z" fill="#F2C08C"/>
</g>
<g filter="url(#bl2)" fill="none" stroke-linejoin="round" stroke-linecap="round">
<path d="M125.0,1797.2 C125.8,1797.2 127.8,1798.0 130.0,1797.2 C132.2,1796.4 135.5,1794.9 138.0,1792.2 C140.5,1789.5 142.2,1783.5 145.0,1781.2 C147.8,1778.9 151.7,1778.7 155.0,1778.2 C158.3,1777.7 161.7,1777.9 165.0,1778.2 C168.3,1778.5 171.7,1779.0 175.0,1780.2 C178.3,1781.4 182.3,1782.4 185.0,1785.2 C187.7,1788.0 189.2,1791.9 191.0,1797.2 C192.8,1802.5 194.5,1809.9 196.0,1817.2 C197.5,1824.5 198.4,1835.2 200.0,1841.2 C201.6,1847.2 203.7,1853.2 205.6,1853.2 C207.5,1853.2 209.0,1845.9 211.7,1841.2 C214.4,1836.5 217.4,1828.5 221.8,1825.2 C226.2,1821.9 232.6,1823.2 238.0,1821.2 C243.4,1819.2 249.3,1817.5 254.0,1813.2 C258.7,1808.9 262.7,1800.5 266.0,1795.2 C269.3,1789.9 272.5,1795.7 274.0,1781.2 C275.5,1766.7 274.8,1720.4 275.0,1708.2" stroke="#C0262A" stroke-width="2.6"/>
<path d="M652.0,1700.0 C653.0,1705.0 656.0,1720.7 658.0,1730.0 C660.0,1739.3 662.7,1746.7 664.0,1756.0 C665.3,1765.3 663.3,1781.5 666.0,1786.0 C668.7,1790.5 676.0,1782.8 680.0,1783.0 C684.0,1783.2 686.7,1784.7 690.0,1787.0 C693.3,1789.3 695.5,1794.8 700.0,1797.0 C704.5,1799.2 711.0,1800.2 717.0,1800.0 C723.0,1799.8 732.8,1812.7 736.0,1796.0 C739.2,1779.3 736.0,1716.0 736.0,1700.0" stroke="#C0262A" stroke-width="2.6"/>
<path d="M1060.0,1700.0 C1060.0,1706.7 1059.5,1729.0 1060.0,1740.0 C1060.5,1751.0 1060.7,1758.0 1063.0,1766.0 C1065.3,1774.0 1069.5,1782.7 1074.0,1788.0 C1078.5,1793.3 1087.3,1796.3 1090.0,1798.0" stroke="#C0262A" stroke-width="2.6"/>
</g>
<polygon points="130.0,1920.0 150.0,1920.0 150.0,1917.0 175.0,1917.0 175.0,1914.0 180.0,1914.0 180.0,1917.0 240.0,1917.0 245.0,1914.0 254.0,1912.0 254.0,1934.0 230.0,1934.0 230.0,1936.0 140.0,1936.0 140.0,1939.0 130.0,1939.0" fill="#FFFFFF"/>
<line x1="197" y1="1705.7" x2="197" y2="2017.7" stroke="#555" stroke-width="0.7" opacity="0.6"/>
<line x1="395.3" y1="1705.7" x2="395.3" y2="2017.7" stroke="#555" stroke-width="0.7" opacity="0.6"/>
<line x1="593" y1="1705.7" x2="593" y2="2017.7" stroke="#555" stroke-width="0.7" opacity="0.6"/>
<line x1="791.5" y1="1705.7" x2="791.5" y2="2017.7" stroke="#555" stroke-width="0.7" opacity="0.6"/>
<line x1="989.5" y1="1705.7" x2="989.5" y2="2017.7" stroke="#555" stroke-width="0.7" opacity="0.6"/>
<line x1="130" y1="1855.7" x2="1084.6" y2="1855.7" stroke="#555" stroke-width="0.7" opacity="0.6"/>
<line x1="130" y1="2005.3" x2="1084.6" y2="2005.3" stroke="#555" stroke-width="0.7" opacity="0.6"/>
<path d="M131.0,1782.7 C133.4,1781.3 141.8,1779.7 145.2,1774.6 C148.5,1769.6 147.8,1754.5 151.2,1752.4 C154.6,1750.4 160.3,1758.1 165.3,1762.5 C170.4,1766.9 178.1,1777.6 181.5,1778.6 C184.8,1779.7 183.1,1765.2 185.5,1768.6 C187.8,1771.9 192.9,1787.7 195.6,1798.8 C198.3,1809.9 199.6,1827.7 201.6,1835.1 C203.6,1842.5 205.3,1845.2 207.7,1843.2 C210.0,1841.1 211.0,1827.0 215.7,1823.0 C220.4,1819.0 229.5,1821.0 235.9,1819.0 C242.3,1817.0 249.0,1815.3 254.0,1810.9 C259.1,1806.5 262.8,1798.1 266.1,1792.8 C269.5,1787.4 272.7,1793.1 274.2,1778.6 C275.7,1764.2 275.0,1718.2 275.2,1706.1" fill="none" stroke="#111" stroke-width="1.5"/>
<path d="M131.0,1790.7 C133.7,1788.7 143.5,1784.0 147.2,1778.6 C150.9,1773.3 149.9,1760.2 153.2,1758.5 C156.6,1756.8 162.3,1764.2 167.3,1768.6 C172.4,1772.9 179.8,1783.0 183.5,1784.7 C187.2,1786.4 187.2,1774.9 189.5,1778.6 C191.9,1782.3 195.2,1796.8 197.6,1806.9 C199.9,1817.0 201.9,1831.7 203.6,1839.1 C205.3,1846.5 207.0,1849.2 207.7,1851.2" fill="none" stroke="#111" stroke-width="1.5"/>
<path d="M133.1,1798.8 C135.8,1796.1 145.5,1788.4 149.2,1782.7 C152.9,1777.0 151.9,1765.9 155.2,1764.5 C158.6,1763.2 164.3,1770.2 169.4,1774.6 C174.4,1779.0 181.8,1788.7 185.5,1790.7 C189.2,1792.8 189.2,1782.7 191.5,1786.7 C193.9,1790.7 197.2,1804.9 199.6,1814.9 C201.9,1825.0 204.6,1841.8 205.6,1847.2" fill="none" stroke="#111" stroke-width="1.5"/>
<path d="M131.0,1823.0 C133.4,1821.3 142.1,1816.3 145.2,1812.9 C148.2,1809.6 145.8,1805.2 149.2,1802.8 C152.6,1800.5 161.3,1798.1 165.3,1798.8 C169.4,1799.5 170.0,1807.5 173.4,1806.9 C176.7,1806.2 182.1,1794.1 185.5,1794.8 C188.8,1795.4 191.5,1802.2 193.5,1810.9 C195.6,1819.6 196.6,1839.1 197.6,1847.2 C198.6,1855.3 199.3,1857.3 199.6,1859.3" fill="none" stroke="#111" stroke-width="1.5"/>
<path d="M131.0,1839.1 C133.4,1838.5 141.8,1839.8 145.2,1835.1 C148.5,1830.4 148.5,1815.9 151.2,1810.9 C153.9,1805.9 157.9,1804.9 161.3,1804.9 C164.7,1804.9 168.7,1808.6 171.4,1810.9 C174.1,1813.3 175.1,1819.0 177.4,1819.0 C179.8,1819.0 183.1,1810.2 185.5,1810.9 C187.8,1811.6 189.5,1811.6 191.5,1823.0 C193.5,1834.4 195.9,1863.7 197.6,1879.5 C199.3,1895.2 200.9,1911.4 201.6,1917.8" fill="none" stroke="#111" stroke-width="1.5"/>
<path d="M131.0,1853.2 C132.7,1852.2 138.1,1851.6 141.1,1847.2 C144.2,1842.8 146.8,1831.7 149.2,1827.0 C151.5,1822.3 152.9,1820.6 155.2,1819.0 C157.6,1817.3 161.0,1814.9 163.3,1817.0 C165.7,1819.0 167.7,1826.7 169.4,1831.1 C171.0,1835.4 170.7,1841.1 173.4,1843.2 C176.1,1845.2 182.1,1841.8 185.5,1843.2 C188.8,1844.5 192.9,1845.2 193.5,1851.2 C194.2,1857.3 190.9,1871.4 189.5,1879.5 C188.2,1887.5 186.2,1893.2 185.5,1899.6 C184.8,1906.0 185.5,1914.7 185.5,1917.8" fill="none" stroke="#111" stroke-width="1.5" stroke-dasharray="7,4"/>
<path d="M209.7,1851.2 C209.0,1855.3 205.6,1870.7 205.6,1875.4 C205.6,1880.1 208.0,1883.8 209.7,1879.5 C211.4,1875.1 213.7,1853.2 215.7,1849.2 C217.7,1845.2 220.1,1850.2 221.8,1855.3 C223.5,1860.3 224.5,1879.5 225.8,1879.5 C227.2,1879.5 227.8,1862.7 229.8,1855.3 C231.9,1847.9 235.2,1835.8 237.9,1835.1 C240.6,1834.4 243.6,1843.8 246.0,1851.2 C248.3,1858.6 249.3,1878.1 252.0,1879.5 C254.7,1880.8 259.1,1866.7 262.1,1859.3 C265.1,1851.9 267.5,1843.2 270.2,1835.1 C272.8,1827.0 276.9,1814.9 278.2,1810.9" fill="none" stroke="#111" stroke-width="1.5"/>
<path d="M254.0,1909.7 C256.0,1904.7 262.8,1891.2 266.1,1879.5 C269.5,1867.7 272.2,1849.2 274.2,1839.1 C276.2,1829.0 277.2,1825.7 278.2,1819.0 C279.2,1812.2 279.9,1802.2 280.2,1798.8" fill="none" stroke="#111" stroke-width="1.5"/>
<path d="M229.8,1706.1 C230.5,1708.1 232.5,1712.8 233.9,1718.2 C235.2,1723.5 235.9,1732.3 237.9,1738.3 C239.9,1744.4 244.3,1748.4 246.0,1754.5 C247.6,1760.5 248.3,1768.9 248.0,1774.6 C247.6,1780.3 245.6,1784.0 244.0,1788.7 C242.3,1793.4 238.9,1800.5 237.9,1802.8" fill="none" stroke="#111" stroke-width="1.5"/>
<path d="M250.0,1706.1 C250.7,1708.8 254.4,1716.8 254.0,1722.2 C253.7,1727.6 249.3,1732.3 248.0,1738.3 C246.6,1744.4 245.6,1750.4 246.0,1758.5 C246.3,1766.5 249.3,1782.0 250.0,1786.7" fill="none" stroke="#111" stroke-width="1.5"/>
<path d="M262.1,1706.1 C261.4,1707.4 259.4,1710.8 258.1,1714.1 C256.7,1717.5 254.7,1724.2 254.0,1726.2" fill="none" stroke="#111" stroke-width="1.5"/>
<path d="M197.6,1933.9 C199.6,1934.6 205.0,1937.2 209.7,1937.9 C214.4,1938.6 221.1,1938.9 225.8,1937.9 C230.5,1936.9 233.2,1933.9 237.9,1931.9 C242.6,1929.9 248.7,1928.2 254.0,1925.8 C259.4,1923.5 265.5,1919.1 270.2,1917.8 C274.9,1916.4 279.2,1917.4 282.3,1917.8 C285.3,1918.1 287.3,1919.4 288.3,1919.8" fill="none" stroke="#111" stroke-width="1.5" stroke-dasharray="7,4"/>
<path d="M288.3,1915.7 C289.0,1912.7 292.0,1904.7 292.3,1897.6 C292.7,1890.5 291.3,1882.5 290.3,1873.4 C289.3,1864.3 286.0,1849.5 286.3,1843.2 C286.6,1836.8 290.3,1835.1 292.3,1835.1 C294.4,1835.1 296.0,1837.1 298.4,1843.2 C300.7,1849.2 304.1,1864.7 306.5,1871.4 C308.8,1878.1 309.1,1880.1 312.5,1883.5 C315.9,1886.8 322.2,1889.2 326.6,1891.5 C331.0,1893.9 334.7,1898.3 338.7,1897.6 C342.7,1896.9 346.1,1890.5 350.8,1887.5 C355.5,1884.5 362.9,1881.5 366.9,1879.5 C371.0,1877.4 373.7,1876.1 375.0,1875.4" fill="none" stroke="#111" stroke-width="1.5" stroke-dasharray="7,4"/>
<path d="M282.3,1814.9 C283.6,1814.3 288.3,1814.3 290.3,1810.9 C292.3,1807.5 292.3,1797.8 294.4,1794.8 C296.4,1791.8 300.4,1790.1 302.4,1792.8 C304.4,1795.4 303.8,1808.9 306.5,1810.9 C309.1,1812.9 315.2,1808.2 318.5,1804.9 C321.9,1801.5 323.3,1792.4 326.6,1790.7 C330.0,1789.1 335.3,1790.1 338.7,1794.8 C342.1,1799.5 343.8,1813.3 346.8,1819.0 C349.8,1824.7 352.2,1826.4 356.9,1829.0 C361.6,1831.7 372.0,1834.1 375.0,1835.1" fill="none" stroke="#111" stroke-width="1.5"/>
<path d="M290.3,1764.5 C291.3,1762.9 294.4,1761.8 296.4,1762.5 C298.4,1763.2 302.1,1766.2 302.4,1768.6 C302.8,1770.9 300.4,1776.0 298.4,1776.6 C296.4,1777.3 291.7,1774.6 290.3,1772.6 C289.0,1770.6 289.3,1766.2 290.3,1764.5 Z" fill="none" stroke="#111" stroke-width="1.5"/>
<path d="M396.3,1706.1 C395.6,1709.4 392.3,1718.8 392.3,1726.2 C392.3,1733.6 392.3,1744.0 396.3,1750.4 C400.3,1756.8 413.4,1757.1 416.5,1764.5 C419.5,1771.9 419.5,1788.7 414.4,1794.8 C409.4,1800.8 392.6,1795.4 386.2,1800.8 C379.8,1806.2 380.5,1820.6 376.1,1827.0 C371.8,1833.4 362.7,1837.1 360.0,1839.1" fill="none" stroke="#111" stroke-width="1.5"/>
<path d="M360.0,1881.5 C363.4,1879.5 374.4,1868.4 380.2,1869.4 C385.9,1870.4 389.2,1889.2 394.3,1887.5 C399.3,1885.8 405.0,1860.6 410.4,1859.3 C415.8,1857.9 421.2,1873.4 426.5,1879.5 C431.9,1885.5 436.9,1896.3 442.7,1895.6 C448.4,1894.9 455.4,1882.1 460.8,1875.4 C466.2,1868.7 468.9,1860.0 474.9,1855.3 C481.0,1850.6 489.4,1848.9 497.1,1847.2 C504.8,1845.5 513.9,1845.5 521.3,1845.2 C528.7,1844.8 534.7,1846.2 541.5,1845.2 C548.2,1844.2 550.2,1840.8 561.6,1839.1 C573.0,1837.4 601.9,1835.8 610.0,1835.1" fill="none" stroke="#111" stroke-width="1.5" stroke-dasharray="7,4"/>
<path d="M517.3,1706.1 C516.6,1714.8 512.9,1742.4 513.2,1758.5 C513.6,1774.6 517.3,1791.1 519.3,1802.8 C521.3,1814.6 521.6,1824.0 525.3,1829.0 C529.0,1834.1 535.4,1833.4 541.5,1833.1 C547.5,1832.7 550.2,1828.7 561.6,1827.0 C573.0,1825.4 601.9,1823.7 610.0,1823.0" fill="none" stroke="#111" stroke-width="1.5"/>
<path d="M521.3,1734.3 C521.6,1745.0 521.3,1785.4 523.3,1798.8 C525.3,1812.2 531.7,1812.2 533.4,1814.9" fill="none" stroke="#111" stroke-width="1.5"/>
<path d="M527.3,1734.3 L529.4,1798.8" fill="none" stroke="#111" stroke-width="1.5"/>
<path d="M545.5,1706.1 C546.2,1714.8 549.2,1743.0 549.5,1758.5 C549.9,1773.9 546.8,1790.1 547.5,1798.8 C548.2,1807.5 547.8,1808.2 553.5,1810.9 C559.3,1813.6 573.7,1816.3 581.8,1814.9 C589.8,1813.6 597.2,1804.9 601.9,1802.8 C606.6,1800.8 608.7,1802.8 610.0,1802.8" fill="none" stroke="#111" stroke-width="1.5"/>
<path d="M565.6,1706.1 C567.0,1709.8 571.0,1722.9 573.7,1728.2 C576.4,1733.6 581.8,1734.6 581.8,1738.3 C581.8,1742.0 574.4,1745.7 573.7,1750.4 C573.0,1755.1 574.7,1766.2 577.7,1766.5 C580.8,1766.9 586.5,1755.5 591.9,1752.4 C597.2,1749.4 607.0,1749.1 610.0,1748.4" fill="none" stroke="#111" stroke-width="1.5"/>
<path d="M587.8,1790.7 C588.5,1788.1 589.5,1778.0 591.9,1774.6 C594.2,1771.3 598.9,1771.3 601.9,1770.6 C605.0,1769.9 608.7,1770.6 610.0,1770.6" fill="none" stroke="#111" stroke-width="1.5"/>
<path d="M600.0,1748.4 C603.4,1748.1 617.8,1750.1 620.2,1746.4 C622.5,1742.7 614.8,1732.9 614.1,1726.2 C613.4,1719.5 615.8,1709.4 616.1,1706.1" fill="none" stroke="#111" stroke-width="1.5"/>
<path d="M600.0,1770.6 C603.4,1770.2 614.4,1770.6 620.2,1768.6 C625.9,1766.5 630.2,1758.5 634.3,1758.5 C638.3,1758.5 639.3,1767.6 644.4,1768.6 C649.4,1769.6 661.2,1769.6 664.5,1764.5 C667.9,1759.5 666.9,1746.4 664.5,1738.3 C662.2,1730.3 652.4,1721.5 650.4,1716.1 C648.4,1710.8 652.1,1707.7 652.4,1706.1" fill="none" stroke="#111" stroke-width="1.5"/>
<path d="M600.0,1778.6 C604.0,1778.6 619.8,1776.6 624.2,1778.6 C628.6,1780.7 624.9,1789.4 626.2,1790.7 C627.6,1792.1 629.9,1785.4 632.3,1786.7 C634.6,1788.1 634.6,1798.1 640.3,1798.8 C646.0,1799.5 659.8,1792.8 666.5,1790.7 C673.3,1788.7 677.3,1786.4 680.6,1786.7 C684.0,1787.0 683.3,1791.1 686.7,1792.8 C690.1,1794.4 695.8,1795.8 700.8,1796.8 C705.8,1797.8 712.2,1800.2 716.9,1798.8 C721.6,1797.5 726.7,1795.4 729.0,1788.7 C731.4,1782.0 731.0,1772.3 731.0,1758.5 C731.0,1744.7 729.4,1714.8 729.0,1706.1" fill="none" stroke="#111" stroke-width="1.5"/>
<path d="M600.0,1802.8 C602.0,1803.5 608.7,1804.9 612.1,1806.9 C615.5,1808.9 617.1,1814.3 620.2,1814.9 C623.2,1815.6 625.2,1812.6 630.2,1810.9 C635.3,1809.2 642.0,1806.5 650.4,1804.9 C658.8,1803.2 672.2,1800.8 680.6,1800.8 C689.0,1800.8 694.1,1803.8 700.8,1804.9 C707.5,1805.9 714.6,1805.9 721.0,1806.9 C727.4,1807.9 732.4,1809.9 739.1,1810.9 C745.8,1811.9 756.6,1809.9 761.3,1812.9 C766.0,1815.9 766.0,1824.7 767.3,1829.0 C768.7,1833.4 769.0,1837.4 769.4,1839.1" fill="none" stroke="#111" stroke-width="1.5"/>
<path d="M600.0,1827.0 C603.4,1826.4 610.1,1825.0 620.2,1823.0 C630.2,1821.0 649.1,1818.6 660.5,1814.9 C671.9,1811.2 680.6,1801.5 688.7,1800.8 C696.8,1800.2 700.5,1809.2 708.9,1810.9 C717.3,1812.6 734.1,1810.9 739.1,1810.9" fill="none" stroke="#111" stroke-width="1.5"/>
<path d="M600.0,1835.1 C603.4,1834.1 613.4,1829.7 620.2,1829.0 C626.9,1828.4 633.6,1832.1 640.3,1831.1 C647.0,1830.1 652.8,1827.0 660.5,1823.0 C668.2,1819.0 679.3,1807.5 686.7,1806.9 C694.1,1806.2 699.1,1816.3 704.8,1819.0 C710.6,1821.7 715.3,1822.3 721.0,1823.0 C726.7,1823.7 733.1,1822.7 739.1,1823.0 C745.2,1823.3 753.6,1821.7 757.3,1825.0 C761.0,1828.4 758.9,1837.4 761.3,1843.2 C763.6,1848.9 768.0,1857.3 771.4,1859.3 C774.7,1861.3 778.1,1856.6 781.5,1855.3 C784.8,1853.9 788.2,1851.2 791.5,1851.2 C794.9,1851.2 798.3,1858.3 801.6,1855.3 C805.0,1852.2 809.0,1835.8 811.7,1833.1 C814.4,1830.4 816.1,1834.1 817.7,1839.1 C819.4,1844.2 820.1,1857.9 821.8,1863.3 C823.5,1868.7 825.8,1873.4 827.8,1871.4 C829.8,1869.4 831.5,1856.6 833.9,1851.2 C836.2,1845.8 839.2,1840.5 841.9,1839.1 C844.6,1837.8 848.7,1842.5 850.0,1843.2" fill="none" stroke="#111" stroke-width="1.5" stroke-dasharray="7,4"/>
<path d="M666.5,1706.1 C667.5,1708.8 670.2,1717.5 672.6,1722.2 C674.9,1726.9 680.0,1729.9 680.6,1734.3 C681.3,1738.7 677.3,1746.1 676.6,1748.4" fill="none" stroke="#111" stroke-width="1.5"/>
<path d="M692.7,1756.5 C694.8,1757.5 701.5,1762.9 704.8,1762.5 C708.2,1762.2 710.9,1758.5 712.9,1754.5 C714.9,1750.4 716.9,1746.4 716.9,1738.3 C716.9,1730.3 713.6,1711.4 712.9,1706.1" fill="none" stroke="#111" stroke-width="1.5"/>
<path d="M725.0,1706.1 C725.3,1711.4 726.0,1729.6 727.0,1738.3 C728.0,1747.1 730.7,1751.1 731.0,1758.5 C731.4,1765.9 729.4,1778.6 729.0,1782.7" fill="none" stroke="#111" stroke-width="1.5"/>
<path d="M763.3,1706.1 C764.0,1711.4 766.7,1726.2 767.3,1738.3 C768.0,1750.4 765.0,1769.9 767.3,1778.6 C769.7,1787.4 778.4,1784.7 781.5,1790.7 C784.5,1796.8 786.2,1808.9 785.5,1814.9 C784.8,1821.0 779.8,1824.3 777.4,1827.0 C775.1,1829.7 773.4,1832.4 771.4,1831.1 C769.4,1829.7 766.3,1821.0 765.3,1819.0" fill="none" stroke="#111" stroke-width="1.5"/>
<path d="M813.7,1706.1 C813.4,1709.8 811.4,1719.5 811.7,1728.2 C812.0,1737.0 815.4,1746.7 815.7,1758.5 C816.1,1770.2 812.7,1790.1 813.7,1798.8 C814.7,1807.5 818.4,1810.2 821.8,1810.9 C825.1,1811.6 829.2,1803.5 833.9,1802.8 C838.6,1802.2 847.3,1806.2 850.0,1806.9" fill="none" stroke="#111" stroke-width="1.5"/>
<path d="M821.8,1728.2 C822.1,1727.2 824.8,1725.9 825.8,1726.2 C826.8,1726.6 828.2,1729.2 827.8,1730.3 C827.5,1731.3 824.8,1732.6 823.8,1732.3 C822.8,1731.9 821.4,1729.2 821.8,1728.2 Z" fill="none" stroke="#111" stroke-width="1.5"/>
<path d="M848.1,1710.1 C848.7,1713.1 850.1,1723.5 852.1,1728.2 C854.1,1732.9 860.2,1734.6 860.2,1738.3 C860.2,1742.0 853.4,1748.4 852.1,1750.4" fill="none" stroke="#111" stroke-width="1.5"/>
<path d="M868.2,1706.1 C868.6,1711.4 869.9,1721.2 870.2,1738.3 C870.6,1755.5 871.9,1795.4 870.2,1808.9 C868.6,1822.3 865.2,1818.3 860.2,1819.0 C855.1,1819.6 843.4,1813.9 840.0,1812.9" fill="none" stroke="#111" stroke-width="1.5"/>
<path d="M900.5,1706.1 C900.8,1713.1 902.5,1735.0 902.5,1748.4 C902.5,1761.8 900.8,1780.3 900.5,1786.7" fill="none" stroke="#111" stroke-width="1.5"/>
<path d="M920.6,1768.6 C921.7,1768.2 925.3,1765.5 926.7,1766.5 C928.0,1767.6 927.4,1771.3 928.7,1774.6 C930.1,1778.0 931.7,1783.3 934.8,1786.7 C937.8,1790.1 942.5,1792.8 946.9,1794.8 C951.2,1796.8 958.6,1798.1 961.0,1798.8" fill="none" stroke="#111" stroke-width="1.5"/>
<path d="M920.6,1768.6 L918.6,1798.8" fill="none" stroke="#111" stroke-width="1.5"/>
<path d="M920.6,1742.4 C921.0,1740.7 923.3,1737.7 924.7,1738.3 C926.0,1739.0 929.0,1744.7 928.7,1746.4 C928.4,1748.1 924.0,1749.1 922.7,1748.4 C921.3,1747.7 920.3,1744.0 920.6,1742.4 Z" fill="none" stroke="#111" stroke-width="1.5"/>
<path d="M979.1,1706.1 C979.4,1714.8 981.1,1739.7 981.1,1758.5 C981.1,1777.3 975.8,1808.6 979.1,1819.0 C982.5,1829.4 996.6,1822.3 1001.3,1821.0 C1006.0,1819.6 1006.3,1812.6 1007.3,1810.9" fill="none" stroke="#111" stroke-width="1.5"/>
<path d="M997.3,1774.6 C997.9,1775.3 997.9,1774.3 1001.3,1778.6 C1004.7,1783.0 1010.7,1796.8 1017.4,1800.8 C1024.1,1804.9 1034.2,1801.2 1041.6,1802.8 C1049.0,1804.5 1054.5,1808.9 1061.8,1810.9 C1069.0,1812.9 1081.1,1814.3 1085.0,1814.9" fill="none" stroke="#111" stroke-width="1.5"/>
<path d="M840.0,1851.2 C843.4,1851.9 853.4,1850.6 860.2,1855.3 C866.9,1860.0 875.6,1879.5 880.3,1879.5 C885.0,1879.5 885.0,1862.0 888.4,1855.3 C891.7,1848.5 895.8,1843.2 900.5,1839.1 C905.2,1835.1 912.2,1833.8 916.6,1831.1 C921.0,1828.4 923.3,1823.7 926.7,1823.0 C930.1,1822.3 933.8,1828.4 936.8,1827.0 C939.8,1825.7 942.2,1817.6 944.8,1814.9 C947.5,1812.2 950.2,1810.2 952.9,1810.9 C955.6,1811.6 957.9,1816.3 961.0,1819.0 C964.0,1821.7 967.7,1825.4 971.0,1827.0 C974.4,1828.7 977.4,1828.4 981.1,1829.0 C984.8,1829.7 988.9,1830.1 993.2,1831.1 C997.6,1832.1 1003.6,1835.8 1007.3,1835.1 C1011.0,1834.4 1013.7,1830.7 1015.4,1827.0 C1017.1,1823.3 1014.7,1816.3 1017.4,1812.9 C1020.1,1809.6 1026.5,1807.2 1031.5,1806.9 C1036.6,1806.5 1042.6,1808.2 1047.7,1810.9 C1052.7,1813.6 1055.6,1820.3 1061.8,1823.0 C1068.0,1825.7 1081.1,1826.4 1085.0,1827.0" fill="none" stroke="#111" stroke-width="1.5" stroke-dasharray="7,4"/>
<path d="M1013.4,1706.1 C1013.4,1711.4 1012.7,1729.6 1013.4,1738.3 C1014.1,1747.1 1014.7,1754.1 1017.4,1758.5 C1020.1,1762.9 1025.5,1762.5 1029.5,1764.5 C1033.5,1766.5 1037.6,1768.2 1041.6,1770.6 C1045.6,1772.9 1051.7,1777.3 1053.7,1778.6" fill="none" stroke="#111" stroke-width="1.5"/>
<path d="M1033.5,1706.1 C1034.2,1711.4 1036.2,1729.6 1037.6,1738.3 C1038.9,1747.1 1040.9,1755.1 1041.6,1758.5" fill="none" stroke="#111" stroke-width="1.5"/>
<path d="M1057.7,1706.1 C1057.4,1711.4 1055.1,1729.6 1055.7,1738.3 C1056.4,1747.1 1059.8,1751.8 1061.8,1758.5 C1063.8,1765.2 1064.0,1772.9 1067.8,1778.6 C1071.7,1784.4 1082.1,1790.4 1085.0,1792.8" fill="none" stroke="#111" stroke-width="1.5"/>
<text transform="translate(242,1730) rotate(-70)" text-anchor="middle" dominant-baseline="central" font-size="14.5" font-weight="bold" fill="#000">3000</text>
<text transform="translate(207,1807) rotate(0)" text-anchor="middle" dominant-baseline="central" font-size="14.5" font-weight="bold" fill="#000">40000</text>
<text transform="translate(207,1862) rotate(45)" text-anchor="middle" dominant-baseline="central" font-size="14.5" font-weight="bold" fill="#000">10000</text>
<text transform="translate(273,1800) rotate(-80)" text-anchor="middle" dominant-baseline="central" font-size="14.5" font-weight="bold" fill="#000">7500</text>
<text transform="translate(253,1925) rotate(0)" text-anchor="middle" dominant-baseline="central" font-size="14.5" font-weight="bold" fill="#000">5000</text>
<text transform="translate(375,1843) rotate(-15)" text-anchor="middle" dominant-baseline="central" font-size="14.5" font-weight="bold" fill="#000">2500</text>
<text transform="translate(308,1905) rotate(15)" text-anchor="middle" dominant-baseline="central" font-size="14.5" font-weight="bold" fill="#000">1000</text>
<text transform="translate(535,1800) rotate(30)" text-anchor="middle" dominant-baseline="central" font-size="14.5" font-weight="bold" fill="#000">10000</text>
<text transform="translate(590,1800) rotate(-10)" text-anchor="middle" dominant-baseline="central" font-size="14.5" font-weight="bold" fill="#000">1000</text>
<text transform="translate(615,1803) rotate(-10)" text-anchor="middle" dominant-baseline="central" font-size="14.5" font-weight="bold" fill="#000">5000</text>
<text transform="translate(686,1744) rotate(0)" text-anchor="middle" dominant-baseline="central" font-size="14.5" font-weight="bold" fill="#000">20000</text>
<text transform="translate(717,1790) rotate(0)" text-anchor="middle" dominant-baseline="central" font-size="14.5" font-weight="bold" fill="#000">20000</text>
<text transform="translate(743,1750) rotate(-90)" text-anchor="middle" dominant-baseline="central" font-size="14.5" font-weight="bold" fill="#000">7500</text>
<text transform="translate(774,1850) rotate(20)" text-anchor="middle" dominant-baseline="central" font-size="14.5" font-weight="bold" fill="#000">2500</text>
<text transform="translate(836,1868) rotate(-60)" text-anchor="middle" dominant-baseline="central" font-size="14.5" font-weight="bold" fill="#000">2500</text>
<text transform="translate(842,1760) rotate(0)" text-anchor="middle" dominant-baseline="central" font-size="14.5" font-weight="bold" fill="#000">5000</text>
<text transform="translate(907,1735) rotate(0)" text-anchor="middle" dominant-baseline="central" font-size="14.5" font-weight="bold" fill="#000">2500</text>
<text transform="translate(908,1806) rotate(10)" text-anchor="middle" dominant-baseline="central" font-size="14.5" font-weight="bold" fill="#000">2500</text>
<text transform="translate(880,1885) rotate(15)" text-anchor="middle" dominant-baseline="central" font-size="14.5" font-weight="bold" fill="#000">1000</text>
<text transform="translate(984,1809) rotate(0)" text-anchor="middle" dominant-baseline="central" font-size="14.5" font-weight="bold" fill="#000">5000</text>
<text transform="translate(1022,1768) rotate(45)" text-anchor="middle" dominant-baseline="central" font-size="14.5" font-weight="bold" fill="#000">10000</text>
<text transform="translate(1047,1740) rotate(-90)" text-anchor="middle" dominant-baseline="central" font-size="14.5" font-weight="bold" fill="#000">10000</text>
<text transform="translate(1055,1809) rotate(-55)" text-anchor="middle" dominant-baseline="central" font-size="14.5" font-weight="bold" fill="#000">2500</text>
<text transform="translate(590,1720) rotate(70)" text-anchor="middle" dominant-baseline="central" font-size="14.5" font-weight="bold" fill="#000">5000</text>
<g fill="#3a3330" opacity="0.85"><circle cx="141.0" cy="1708.7" r="1.55"/><circle cx="141.0" cy="1713.2" r="1.55"/><circle cx="141.0" cy="1761.2" r="1.55"/><circle cx="141.0" cy="1773.2" r="1.55"/><circle cx="141.0" cy="1792.7" r="1.55"/><circle cx="141.0" cy="1810.7" r="1.55"/><circle cx="141.0" cy="1822.7" r="1.55"/><circle cx="141.0" cy="1855.7" r="1.55"/><circle cx="141.0" cy="1884.2" r="1.55"/><circle cx="141.0" cy="1929.2" r="1.55"/><circle cx="141.0" cy="2005.7" r="1.55"/><circle cx="149.0" cy="1708.7" r="1.55"/><circle cx="149.0" cy="1713.2" r="1.55"/><circle cx="149.0" cy="1729.7" r="1.55"/><circle cx="149.0" cy="1749.2" r="1.55"/><circle cx="149.0" cy="1761.2" r="1.55"/><circle cx="149.0" cy="1773.2" r="1.55"/><circle cx="149.0" cy="1792.7" r="1.55"/><circle cx="149.0" cy="1822.7" r="1.55"/><circle cx="149.0" cy="1855.7" r="1.55"/><circle cx="149.0" cy="1870.7" r="1.55"/><circle cx="149.0" cy="1884.2" r="1.55"/><circle cx="149.0" cy="1899.2" r="1.55"/><circle cx="149.0" cy="1942.7" r="1.55"/><circle cx="149.0" cy="2005.7" r="1.55"/><circle cx="157.0" cy="1708.7" r="1.55"/><circle cx="157.0" cy="1713.2" r="1.55"/><circle cx="157.0" cy="1735.7" r="1.55"/><circle cx="157.0" cy="1749.2" r="1.55"/><circle cx="157.0" cy="1761.2" r="1.55"/><circle cx="157.0" cy="1773.2" r="1.55"/><circle cx="157.0" cy="1785.2" r="1.55"/><circle cx="157.0" cy="1792.7" r="1.55"/><circle cx="157.0" cy="1855.7" r="1.55"/><circle cx="157.0" cy="1929.2" r="1.55"/><circle cx="157.0" cy="2005.7" r="1.55"/><circle cx="165.0" cy="1708.7" r="1.55"/><circle cx="165.0" cy="1713.2" r="1.55"/><circle cx="165.0" cy="1749.2" r="1.55"/><circle cx="165.0" cy="1761.2" r="1.55"/><circle cx="165.0" cy="1773.2" r="1.55"/><circle cx="165.0" cy="1785.2" r="1.55"/><circle cx="165.0" cy="1855.7" r="1.55"/><circle cx="165.0" cy="1884.2" r="1.55"/><circle cx="165.0" cy="1929.2" r="1.55"/><circle cx="165.0" cy="1942.7" r="1.55"/><circle cx="165.0" cy="2005.7" r="1.55"/><circle cx="174.0" cy="1708.7" r="1.55"/><circle cx="174.0" cy="1729.7" r="1.55"/><circle cx="174.0" cy="1735.7" r="1.55"/><circle cx="174.0" cy="1749.2" r="1.55"/><circle cx="174.0" cy="1773.2" r="1.55"/><circle cx="174.0" cy="1785.2" r="1.55"/><circle cx="174.0" cy="1792.7" r="1.55"/><circle cx="174.0" cy="1839.2" r="1.55"/><circle cx="174.0" cy="1855.7" r="1.55"/><circle cx="174.0" cy="1870.7" r="1.55"/><circle cx="174.0" cy="1929.2" r="1.55"/><circle cx="174.0" cy="2005.7" r="1.55"/><circle cx="186.5" cy="1708.7" r="1.55"/><circle cx="186.5" cy="1729.7" r="1.55"/><circle cx="186.5" cy="1749.2" r="1.55"/><circle cx="186.5" cy="1761.2" r="1.55"/><circle cx="186.5" cy="1785.2" r="1.55"/><circle cx="186.5" cy="1810.7" r="1.55"/><circle cx="186.5" cy="1855.7" r="1.55"/><circle cx="186.5" cy="1870.7" r="1.55"/><circle cx="186.5" cy="1884.2" r="1.55"/><circle cx="186.5" cy="1929.2" r="1.55"/><circle cx="186.5" cy="2005.7" r="1.55"/><circle cx="195.6" cy="1708.7" r="1.55"/><circle cx="195.6" cy="1713.2" r="1.55"/><circle cx="195.6" cy="1729.7" r="1.55"/><circle cx="195.6" cy="1735.7" r="1.55"/><circle cx="195.6" cy="1749.2" r="1.55"/><circle cx="195.6" cy="1761.2" r="1.55"/><circle cx="195.6" cy="1773.2" r="1.55"/><circle cx="195.6" cy="1785.2" r="1.55"/><circle cx="195.6" cy="1855.7" r="1.55"/><circle cx="195.6" cy="1929.2" r="1.55"/><circle cx="195.6" cy="2005.7" r="1.55"/><circle cx="207.7" cy="1708.7" r="1.55"/><circle cx="207.7" cy="1713.2" r="1.55"/><circle cx="207.7" cy="1729.7" r="1.55"/><circle cx="207.7" cy="1735.7" r="1.55"/><circle cx="207.7" cy="1749.2" r="1.55"/><circle cx="207.7" cy="1761.2" r="1.55"/><circle cx="207.7" cy="1785.2" r="1.55"/><circle cx="207.7" cy="1792.7" r="1.55"/><circle cx="207.7" cy="1822.7" r="1.55"/><circle cx="207.7" cy="1855.7" r="1.55"/><circle cx="207.7" cy="1899.2" r="1.55"/><circle cx="207.7" cy="1929.2" r="1.55"/><circle cx="207.7" cy="2005.7" r="1.55"/><circle cx="215.7" cy="1708.7" r="1.55"/><circle cx="215.7" cy="1713.2" r="1.55"/><circle cx="215.7" cy="1749.2" r="1.55"/><circle cx="215.7" cy="1761.2" r="1.55"/><circle cx="215.7" cy="1773.2" r="1.55"/><circle cx="215.7" cy="1792.7" r="1.55"/><circle cx="215.7" cy="1810.7" r="1.55"/><circle cx="215.7" cy="1839.2" r="1.55"/><circle cx="215.7" cy="1855.7" r="1.55"/><circle cx="215.7" cy="1929.2" r="1.55"/><circle cx="215.7" cy="1942.7" r="1.55"/><circle cx="215.7" cy="2005.7" r="1.55"/><circle cx="225.0" cy="1708.7" r="1.55"/><circle cx="225.0" cy="1729.7" r="1.55"/><circle cx="225.0" cy="1735.7" r="1.55"/><circle cx="225.0" cy="1792.7" r="1.55"/><circle cx="225.0" cy="1810.7" r="1.55"/><circle cx="225.0" cy="1855.7" r="1.55"/><circle cx="225.0" cy="1870.7" r="1.55"/><circle cx="225.0" cy="2005.7" r="1.55"/><circle cx="235.0" cy="1708.7" r="1.55"/><circle cx="235.0" cy="1729.7" r="1.55"/><circle cx="235.0" cy="1735.7" r="1.55"/><circle cx="235.0" cy="1749.2" r="1.55"/><circle cx="235.0" cy="1785.2" r="1.55"/><circle cx="235.0" cy="1792.7" r="1.55"/><circle cx="235.0" cy="1810.7" r="1.55"/><circle cx="235.0" cy="1855.7" r="1.55"/><circle cx="235.0" cy="1870.7" r="1.55"/><circle cx="235.0" cy="1884.2" r="1.55"/><circle cx="235.0" cy="1929.2" r="1.55"/><circle cx="235.0" cy="2005.7" r="1.55"/><circle cx="247.0" cy="1708.7" r="1.55"/><circle cx="247.0" cy="1713.2" r="1.55"/><circle cx="247.0" cy="1735.7" r="1.55"/><circle cx="247.0" cy="1749.2" r="1.55"/><circle cx="247.0" cy="1761.2" r="1.55"/><circle cx="247.0" cy="1773.2" r="1.55"/><circle cx="247.0" cy="1792.7" r="1.55"/><circle cx="247.0" cy="1810.7" r="1.55"/><circle cx="247.0" cy="1822.7" r="1.55"/><circle cx="247.0" cy="1855.7" r="1.55"/><circle cx="247.0" cy="1929.2" r="1.55"/><circle cx="247.0" cy="2005.7" r="1.55"/><circle cx="254.0" cy="1708.7" r="1.55"/><circle cx="254.0" cy="1729.7" r="1.55"/><circle cx="254.0" cy="1773.2" r="1.55"/><circle cx="254.0" cy="1785.2" r="1.55"/><circle cx="254.0" cy="1792.7" r="1.55"/><circle cx="254.0" cy="1810.7" r="1.55"/><circle cx="254.0" cy="1822.7" r="1.55"/><circle cx="254.0" cy="1855.7" r="1.55"/><circle cx="254.0" cy="2005.7" r="1.55"/><circle cx="266.0" cy="1708.7" r="1.55"/><circle cx="266.0" cy="1713.2" r="1.55"/><circle cx="266.0" cy="1729.7" r="1.55"/><circle cx="266.0" cy="1735.7" r="1.55"/><circle cx="266.0" cy="1749.2" r="1.55"/><circle cx="266.0" cy="1761.2" r="1.55"/><circle cx="266.0" cy="1773.2" r="1.55"/><circle cx="266.0" cy="1785.2" r="1.55"/><circle cx="266.0" cy="1810.7" r="1.55"/><circle cx="266.0" cy="1822.7" r="1.55"/><circle cx="266.0" cy="1855.7" r="1.55"/><circle cx="266.0" cy="1929.2" r="1.55"/><circle cx="266.0" cy="1942.7" r="1.55"/><circle cx="266.0" cy="2005.7" r="1.55"/><circle cx="286.0" cy="1708.7" r="1.55"/><circle cx="286.0" cy="1713.2" r="1.55"/><circle cx="286.0" cy="1761.2" r="1.55"/><circle cx="286.0" cy="1773.2" r="1.55"/><circle cx="286.0" cy="1785.2" r="1.55"/><circle cx="286.0" cy="1792.7" r="1.55"/><circle cx="286.0" cy="1822.7" r="1.55"/><circle cx="286.0" cy="1839.2" r="1.55"/><circle cx="286.0" cy="1855.7" r="1.55"/><circle cx="286.0" cy="1870.7" r="1.55"/><circle cx="286.0" cy="1884.2" r="1.55"/><circle cx="286.0" cy="1899.2" r="1.55"/><circle cx="286.0" cy="1929.2" r="1.55"/><circle cx="286.0" cy="2005.7" r="1.55"/><circle cx="292.0" cy="1708.7" r="1.55"/><circle cx="292.0" cy="1735.7" r="1.55"/><circle cx="292.0" cy="1749.2" r="1.55"/><circle cx="292.0" cy="1761.2" r="1.55"/><circle cx="292.0" cy="1785.2" r="1.55"/><circle cx="292.0" cy="1792.7" r="1.55"/><circle cx="292.0" cy="1810.7" r="1.55"/><circle cx="292.0" cy="1822.7" r="1.55"/><circle cx="292.0" cy="1839.2" r="1.55"/><circle cx="292.0" cy="1855.7" r="1.55"/><circle cx="292.0" cy="1870.7" r="1.55"/><circle cx="292.0" cy="1884.2" r="1.55"/><circle cx="292.0" cy="1899.2" r="1.55"/><circle cx="292.0" cy="1911.2" r="1.55"/><circle cx="292.0" cy="1942.7" r="1.55"/><circle cx="292.0" cy="2005.7" r="1.55"/><circle cx="303.4" cy="1708.7" r="1.55"/><circle cx="303.4" cy="1713.2" r="1.55"/><circle cx="303.4" cy="1729.7" r="1.55"/><circle cx="303.4" cy="1735.7" r="1.55"/><circle cx="303.4" cy="1761.2" r="1.55"/><circle cx="303.4" cy="1773.2" r="1.55"/><circle cx="303.4" cy="1792.7" r="1.55"/><circle cx="303.4" cy="1810.7" r="1.55"/><circle cx="303.4" cy="1822.7" r="1.55"/><circle cx="303.4" cy="1839.2" r="1.55"/><circle cx="303.4" cy="1855.7" r="1.55"/><circle cx="303.4" cy="1884.2" r="1.55"/><circle cx="303.4" cy="1899.2" r="1.55"/><circle cx="303.4" cy="1911.2" r="1.55"/><circle cx="303.4" cy="1942.7" r="1.55"/><circle cx="303.4" cy="2005.7" r="1.55"/><circle cx="310.5" cy="1708.7" r="1.55"/><circle cx="310.5" cy="1713.2" r="1.55"/><circle cx="310.5" cy="1735.7" r="1.55"/><circle cx="310.5" cy="1749.2" r="1.55"/><circle cx="310.5" cy="1785.2" r="1.55"/><circle cx="310.5" cy="1792.7" r="1.55"/><circle cx="310.5" cy="1822.7" r="1.55"/><circle cx="310.5" cy="1839.2" r="1.55"/><circle cx="310.5" cy="1855.7" r="1.55"/><circle cx="310.5" cy="1870.7" r="1.55"/><circle cx="310.5" cy="1929.2" r="1.55"/><circle cx="310.5" cy="1942.7" r="1.55"/><circle cx="310.5" cy="2005.7" r="1.55"/><circle cx="324.6" cy="1708.7" r="1.55"/><circle cx="324.6" cy="1713.2" r="1.55"/><circle cx="324.6" cy="1729.7" r="1.55"/><circle cx="324.6" cy="1749.2" r="1.55"/><circle cx="324.6" cy="1785.2" r="1.55"/><circle cx="324.6" cy="1810.7" r="1.55"/><circle cx="324.6" cy="1822.7" r="1.55"/><circle cx="324.6" cy="1855.7" r="1.55"/><circle cx="324.6" cy="1884.2" r="1.55"/><circle cx="324.6" cy="1911.2" r="1.55"/><circle cx="324.6" cy="1929.2" r="1.55"/><circle cx="324.6" cy="1942.7" r="1.55"/><circle cx="324.6" cy="2005.7" r="1.55"/><circle cx="336.7" cy="1708.7" r="1.55"/><circle cx="336.7" cy="1713.2" r="1.55"/><circle cx="336.7" cy="1729.7" r="1.55"/><circle cx="336.7" cy="1735.7" r="1.55"/><circle cx="336.7" cy="1792.7" r="1.55"/><circle cx="336.7" cy="1810.7" r="1.55"/><circle cx="336.7" cy="1822.7" r="1.55"/><circle cx="336.7" cy="1839.2" r="1.55"/><circle cx="336.7" cy="1855.7" r="1.55"/><circle cx="336.7" cy="1899.2" r="1.55"/><circle cx="336.7" cy="2005.7" r="1.55"/><circle cx="353.0" cy="1708.7" r="1.55"/><circle cx="353.0" cy="1713.2" r="1.55"/><circle cx="353.0" cy="1735.7" r="1.55"/><circle cx="353.0" cy="1749.2" r="1.55"/><circle cx="353.0" cy="1773.2" r="1.55"/><circle cx="353.0" cy="1792.7" r="1.55"/><circle cx="353.0" cy="1822.7" r="1.55"/><circle cx="353.0" cy="1839.2" r="1.55"/><circle cx="353.0" cy="1855.7" r="1.55"/><circle cx="353.0" cy="1870.7" r="1.55"/><circle cx="353.0" cy="1884.2" r="1.55"/><circle cx="353.0" cy="1899.2" r="1.55"/><circle cx="353.0" cy="1911.2" r="1.55"/><circle cx="353.0" cy="1942.7" r="1.55"/><circle cx="353.0" cy="2005.7" r="1.55"/><circle cx="365.0" cy="1708.7" r="1.55"/><circle cx="365.0" cy="1713.2" r="1.55"/><circle cx="365.0" cy="1729.7" r="1.55"/><circle cx="365.0" cy="1749.2" r="1.55"/><circle cx="365.0" cy="1773.2" r="1.55"/><circle cx="365.0" cy="1792.7" r="1.55"/><circle cx="365.0" cy="1822.7" r="1.55"/><circle cx="365.0" cy="1839.2" r="1.55"/><circle cx="365.0" cy="1855.7" r="1.55"/><circle cx="365.0" cy="1870.7" r="1.55"/><circle cx="365.0" cy="1899.2" r="1.55"/><circle cx="365.0" cy="1911.2" r="1.55"/><circle cx="365.0" cy="1929.2" r="1.55"/><circle cx="365.0" cy="1942.7" r="1.55"/><circle cx="365.0" cy="2005.7" r="1.55"/><circle cx="381.0" cy="1708.7" r="1.55"/><circle cx="381.0" cy="1729.7" r="1.55"/><circle cx="381.0" cy="1735.7" r="1.55"/><circle cx="381.0" cy="1749.2" r="1.55"/><circle cx="381.0" cy="1761.2" r="1.55"/><circle cx="381.0" cy="1773.2" r="1.55"/><circle cx="381.0" cy="1792.7" r="1.55"/><circle cx="381.0" cy="1822.7" r="1.55"/><circle cx="381.0" cy="1839.2" r="1.55"/><circle cx="381.0" cy="1855.7" r="1.55"/><circle cx="381.0" cy="1884.2" r="1.55"/><circle cx="381.0" cy="1911.2" r="1.55"/><circle cx="381.0" cy="2005.7" r="1.55"/><circle cx="393.0" cy="1708.7" r="1.55"/><circle cx="393.0" cy="1729.7" r="1.55"/><circle cx="393.0" cy="1735.7" r="1.55"/><circle cx="393.0" cy="1785.2" r="1.55"/><circle cx="393.0" cy="1792.7" r="1.55"/><circle cx="393.0" cy="1810.7" r="1.55"/><circle cx="393.0" cy="1822.7" r="1.55"/><circle cx="393.0" cy="1839.2" r="1.55"/><circle cx="393.0" cy="1855.7" r="1.55"/><circle cx="393.0" cy="1870.7" r="1.55"/><circle cx="393.0" cy="1884.2" r="1.55"/><circle cx="393.0" cy="1929.2" r="1.55"/><circle cx="393.0" cy="1942.7" r="1.55"/><circle cx="393.0" cy="2005.7" r="1.55"/><circle cx="408.0" cy="1708.7" r="1.55"/><circle cx="408.0" cy="1729.7" r="1.55"/><circle cx="408.0" cy="1735.7" r="1.55"/><circle cx="408.0" cy="1761.2" r="1.55"/><circle cx="408.0" cy="1785.2" r="1.55"/><circle cx="408.0" cy="1792.7" r="1.55"/><circle cx="408.0" cy="1822.7" r="1.55"/><circle cx="408.0" cy="1839.2" r="1.55"/><circle cx="408.0" cy="1855.7" r="1.55"/><circle cx="408.0" cy="1884.2" r="1.55"/><circle cx="408.0" cy="1929.2" r="1.55"/><circle cx="408.0" cy="1942.7" r="1.55"/><circle cx="408.0" cy="2005.7" r="1.55"/><circle cx="426.5" cy="1708.7" r="1.55"/><circle cx="426.5" cy="1735.7" r="1.55"/><circle cx="426.5" cy="1749.2" r="1.55"/><circle cx="426.5" cy="1773.2" r="1.55"/><circle cx="426.5" cy="1792.7" r="1.55"/><circle cx="426.5" cy="1810.7" r="1.55"/><circle cx="426.5" cy="1822.7" r="1.55"/><circle cx="426.5" cy="1855.7" r="1.55"/><circle cx="426.5" cy="1870.7" r="1.55"/><circle cx="426.5" cy="1899.2" r="1.55"/><circle cx="426.5" cy="1911.2" r="1.55"/><circle cx="426.5" cy="1929.2" r="1.55"/><circle cx="426.5" cy="1942.7" r="1.55"/><circle cx="426.5" cy="2005.7" r="1.55"/><circle cx="440.6" cy="1708.7" r="1.55"/><circle cx="440.6" cy="1713.2" r="1.55"/><circle cx="440.6" cy="1735.7" r="1.55"/><circle cx="440.6" cy="1761.2" r="1.55"/><circle cx="440.6" cy="1785.2" r="1.55"/><circle cx="440.6" cy="1792.7" r="1.55"/><circle cx="440.6" cy="1810.7" r="1.55"/><circle cx="440.6" cy="1822.7" r="1.55"/><circle cx="440.6" cy="1839.2" r="1.55"/><circle cx="440.6" cy="1855.7" r="1.55"/><circle cx="440.6" cy="1870.7" r="1.55"/><circle cx="440.6" cy="1911.2" r="1.55"/><circle cx="440.6" cy="1942.7" r="1.55"/><circle cx="440.6" cy="2005.7" r="1.55"/><circle cx="463.0" cy="1708.7" r="1.55"/><circle cx="463.0" cy="1729.7" r="1.55"/><circle cx="463.0" cy="1735.7" r="1.55"/><circle cx="463.0" cy="1773.2" r="1.55"/><circle cx="463.0" cy="1792.7" r="1.55"/><circle cx="463.0" cy="1855.7" r="1.55"/><circle cx="463.0" cy="1884.2" r="1.55"/><circle cx="463.0" cy="1899.2" r="1.55"/><circle cx="463.0" cy="1929.2" r="1.55"/><circle cx="463.0" cy="1942.7" r="1.55"/><circle cx="463.0" cy="2005.7" r="1.55"/><circle cx="477.0" cy="1708.7" r="1.55"/><circle cx="477.0" cy="1713.2" r="1.55"/><circle cx="477.0" cy="1735.7" r="1.55"/><circle cx="477.0" cy="1749.2" r="1.55"/><circle cx="477.0" cy="1761.2" r="1.55"/><circle cx="477.0" cy="1773.2" r="1.55"/><circle cx="477.0" cy="1785.2" r="1.55"/><circle cx="477.0" cy="1792.7" r="1.55"/><circle cx="477.0" cy="1810.7" r="1.55"/><circle cx="477.0" cy="1839.2" r="1.55"/><circle cx="477.0" cy="1855.7" r="1.55"/><circle cx="477.0" cy="1870.7" r="1.55"/><circle cx="477.0" cy="1899.2" r="1.55"/><circle cx="477.0" cy="1911.2" r="1.55"/><circle cx="477.0" cy="1942.7" r="1.55"/><circle cx="477.0" cy="2005.7" r="1.55"/><circle cx="498.0" cy="1708.7" r="1.55"/><circle cx="498.0" cy="1735.7" r="1.55"/><circle cx="498.0" cy="1749.2" r="1.55"/><circle cx="498.0" cy="1761.2" r="1.55"/><circle cx="498.0" cy="1785.2" r="1.55"/><circle cx="498.0" cy="1822.7" r="1.55"/><circle cx="498.0" cy="1855.7" r="1.55"/><circle cx="498.0" cy="1870.7" r="1.55"/><circle cx="498.0" cy="1884.2" r="1.55"/><circle cx="498.0" cy="1899.2" r="1.55"/><circle cx="498.0" cy="1911.2" r="1.55"/><circle cx="498.0" cy="1929.2" r="1.55"/><circle cx="498.0" cy="1942.7" r="1.55"/><circle cx="498.0" cy="2005.7" r="1.55"/><circle cx="512.0" cy="1708.7" r="1.55"/><circle cx="512.0" cy="1749.2" r="1.55"/><circle cx="512.0" cy="1761.2" r="1.55"/><circle cx="512.0" cy="1810.7" r="1.55"/><circle cx="512.0" cy="1839.2" r="1.55"/><circle cx="512.0" cy="1855.7" r="1.55"/><circle cx="512.0" cy="1870.7" r="1.55"/><circle cx="512.0" cy="1884.2" r="1.55"/><circle cx="512.0" cy="1899.2" r="1.55"/><circle cx="512.0" cy="1911.2" r="1.55"/><circle cx="512.0" cy="1929.2" r="1.55"/><circle cx="512.0" cy="2005.7" r="1.55"/><circle cx="534.0" cy="1708.7" r="1.55"/><circle cx="534.0" cy="1729.7" r="1.55"/><circle cx="534.0" cy="1735.7" r="1.55"/><circle cx="534.0" cy="1749.2" r="1.55"/><circle cx="534.0" cy="1761.2" r="1.55"/><circle cx="534.0" cy="1773.2" r="1.55"/><circle cx="534.0" cy="1785.2" r="1.55"/><circle cx="534.0" cy="1792.7" r="1.55"/><circle cx="534.0" cy="1810.7" r="1.55"/><circle cx="534.0" cy="1822.7" r="1.55"/><circle cx="534.0" cy="1855.7" r="1.55"/><circle cx="534.0" cy="1870.7" r="1.55"/><circle cx="534.0" cy="1884.2" r="1.55"/><circle cx="534.0" cy="1899.2" r="1.55"/><circle cx="534.0" cy="1911.2" r="1.55"/><circle cx="534.0" cy="2005.7" r="1.55"/><circle cx="546.5" cy="1708.7" r="1.55"/><circle cx="546.5" cy="1735.7" r="1.55"/><circle cx="546.5" cy="1749.2" r="1.55"/><circle cx="546.5" cy="1773.2" r="1.55"/><circle cx="546.5" cy="1839.2" r="1.55"/><circle cx="546.5" cy="1855.7" r="1.55"/><circle cx="546.5" cy="1870.7" r="1.55"/><circle cx="546.5" cy="1899.2" r="1.55"/><circle cx="546.5" cy="1911.2" r="1.55"/><circle cx="546.5" cy="1929.2" r="1.55"/><circle cx="546.5" cy="2005.7" r="1.55"/><circle cx="562.6" cy="1708.7" r="1.55"/><circle cx="562.6" cy="1713.2" r="1.55"/><circle cx="562.6" cy="1735.7" r="1.55"/><circle cx="562.6" cy="1749.2" r="1.55"/><circle cx="562.6" cy="1761.2" r="1.55"/><circle cx="562.6" cy="1810.7" r="1.55"/><circle cx="562.6" cy="1822.7" r="1.55"/><circle cx="562.6" cy="1855.7" r="1.55"/><circle cx="562.6" cy="1870.7" r="1.55"/><circle cx="562.6" cy="1884.2" r="1.55"/><circle cx="562.6" cy="1899.2" r="1.55"/><circle cx="562.6" cy="1911.2" r="1.55"/><circle cx="562.6" cy="1929.2" r="1.55"/><circle cx="562.6" cy="2005.7" r="1.55"/><circle cx="573.7" cy="1708.7" r="1.55"/><circle cx="573.7" cy="1713.2" r="1.55"/><circle cx="573.7" cy="1729.7" r="1.55"/><circle cx="573.7" cy="1761.2" r="1.55"/><circle cx="573.7" cy="1785.2" r="1.55"/><circle cx="573.7" cy="1792.7" r="1.55"/><circle cx="573.7" cy="1810.7" r="1.55"/><circle cx="573.7" cy="1822.7" r="1.55"/><circle cx="573.7" cy="1839.2" r="1.55"/><circle cx="573.7" cy="1855.7" r="1.55"/><circle cx="573.7" cy="1870.7" r="1.55"/><circle cx="573.7" cy="1899.2" r="1.55"/><circle cx="573.7" cy="1929.2" r="1.55"/><circle cx="573.7" cy="1942.7" r="1.55"/><circle cx="573.7" cy="2005.7" r="1.55"/><circle cx="601.0" cy="1708.7" r="1.55"/><circle cx="601.0" cy="1729.7" r="1.55"/><circle cx="601.0" cy="1749.2" r="1.55"/><circle cx="601.0" cy="1761.2" r="1.55"/><circle cx="601.0" cy="1773.2" r="1.55"/><circle cx="601.0" cy="1810.7" r="1.55"/><circle cx="601.0" cy="1822.7" r="1.55"/><circle cx="601.0" cy="1855.7" r="1.55"/><circle cx="601.0" cy="1870.7" r="1.55"/><circle cx="601.0" cy="1929.2" r="1.55"/><circle cx="601.0" cy="1942.7" r="1.55"/><circle cx="601.0" cy="2005.7" r="1.55"/><circle cx="621.0" cy="1708.7" r="1.55"/><circle cx="621.0" cy="1713.2" r="1.55"/><circle cx="621.0" cy="1729.7" r="1.55"/><circle cx="621.0" cy="1749.2" r="1.55"/><circle cx="621.0" cy="1792.7" r="1.55"/><circle cx="621.0" cy="1839.2" r="1.55"/><circle cx="621.0" cy="1855.7" r="1.55"/><circle cx="621.0" cy="1870.7" r="1.55"/><circle cx="621.0" cy="1884.2" r="1.55"/><circle cx="621.0" cy="1899.2" r="1.55"/><circle cx="621.0" cy="1942.7" r="1.55"/><circle cx="621.0" cy="2005.7" r="1.55"/><circle cx="632.0" cy="1708.7" r="1.55"/><circle cx="632.0" cy="1713.2" r="1.55"/><circle cx="632.0" cy="1735.7" r="1.55"/><circle cx="632.0" cy="1749.2" r="1.55"/><circle cx="632.0" cy="1785.2" r="1.55"/><circle cx="632.0" cy="1792.7" r="1.55"/><circle cx="632.0" cy="1810.7" r="1.55"/><circle cx="632.0" cy="1822.7" r="1.55"/><circle cx="632.0" cy="1839.2" r="1.55"/><circle cx="632.0" cy="1855.7" r="1.55"/><circle cx="632.0" cy="1899.2" r="1.55"/><circle cx="632.0" cy="1929.2" r="1.55"/><circle cx="632.0" cy="2005.7" r="1.55"/><circle cx="647.0" cy="1708.7" r="1.55"/><circle cx="647.0" cy="1713.2" r="1.55"/><circle cx="647.0" cy="1729.7" r="1.55"/><circle cx="647.0" cy="1749.2" r="1.55"/><circle cx="647.0" cy="1773.2" r="1.55"/><circle cx="647.0" cy="1792.7" r="1.55"/><circle cx="647.0" cy="1810.7" r="1.55"/><circle cx="647.0" cy="1822.7" r="1.55"/><circle cx="647.0" cy="1839.2" r="1.55"/><circle cx="647.0" cy="1855.7" r="1.55"/><circle cx="647.0" cy="1870.7" r="1.55"/><circle cx="647.0" cy="1884.2" r="1.55"/><circle cx="647.0" cy="1899.2" r="1.55"/><circle cx="647.0" cy="1911.2" r="1.55"/><circle cx="647.0" cy="1929.2" r="1.55"/><circle cx="647.0" cy="1942.7" r="1.55"/><circle cx="647.0" cy="2005.7" r="1.55"/><circle cx="658.5" cy="1708.7" r="1.55"/><circle cx="658.5" cy="1729.7" r="1.55"/><circle cx="658.5" cy="1761.2" r="1.55"/><circle cx="658.5" cy="1785.2" r="1.55"/><circle cx="658.5" cy="1792.7" r="1.55"/><circle cx="658.5" cy="1810.7" r="1.55"/><circle cx="658.5" cy="1822.7" r="1.55"/><circle cx="658.5" cy="1855.7" r="1.55"/><circle cx="658.5" cy="1899.2" r="1.55"/><circle cx="658.5" cy="1911.2" r="1.55"/><circle cx="658.5" cy="1942.7" r="1.55"/><circle cx="658.5" cy="2005.7" r="1.55"/><circle cx="674.6" cy="1708.7" r="1.55"/><circle cx="674.6" cy="1713.2" r="1.55"/><circle cx="674.6" cy="1729.7" r="1.55"/><circle cx="674.6" cy="1735.7" r="1.55"/><circle cx="674.6" cy="1761.2" r="1.55"/><circle cx="674.6" cy="1810.7" r="1.55"/><circle cx="674.6" cy="1839.2" r="1.55"/><circle cx="674.6" cy="1855.7" r="1.55"/><circle cx="674.6" cy="1884.2" r="1.55"/><circle cx="674.6" cy="1911.2" r="1.55"/><circle cx="674.6" cy="2005.7" r="1.55"/><circle cx="686.7" cy="1708.7" r="1.55"/><circle cx="686.7" cy="1713.2" r="1.55"/><circle cx="686.7" cy="1749.2" r="1.55"/><circle cx="686.7" cy="1761.2" r="1.55"/><circle cx="686.7" cy="1773.2" r="1.55"/><circle cx="686.7" cy="1810.7" r="1.55"/><circle cx="686.7" cy="1839.2" r="1.55"/><circle cx="686.7" cy="1855.7" r="1.55"/><circle cx="686.7" cy="1870.7" r="1.55"/><circle cx="686.7" cy="1884.2" r="1.55"/><circle cx="686.7" cy="1899.2" r="1.55"/><circle cx="686.7" cy="1942.7" r="1.55"/><circle cx="686.7" cy="2005.7" r="1.55"/><circle cx="702.8" cy="1708.7" r="1.55"/><circle cx="702.8" cy="1713.2" r="1.55"/><circle cx="702.8" cy="1729.7" r="1.55"/><circle cx="702.8" cy="1735.7" r="1.55"/><circle cx="702.8" cy="1749.2" r="1.55"/><circle cx="702.8" cy="1773.2" r="1.55"/><circle cx="702.8" cy="1785.2" r="1.55"/><circle cx="702.8" cy="1792.7" r="1.55"/><circle cx="702.8" cy="1810.7" r="1.55"/><circle cx="702.8" cy="1822.7" r="1.55"/><circle cx="702.8" cy="1855.7" r="1.55"/><circle cx="702.8" cy="1870.7" r="1.55"/><circle cx="702.8" cy="1899.2" r="1.55"/><circle cx="702.8" cy="1929.2" r="1.55"/><circle cx="702.8" cy="1942.7" r="1.55"/><circle cx="702.8" cy="2005.7" r="1.55"/><circle cx="713.0" cy="1708.7" r="1.55"/><circle cx="713.0" cy="1713.2" r="1.55"/><circle cx="713.0" cy="1735.7" r="1.55"/><circle cx="713.0" cy="1749.2" r="1.55"/><circle cx="713.0" cy="1761.2" r="1.55"/><circle cx="713.0" cy="1785.2" r="1.55"/><circle cx="713.0" cy="1792.7" r="1.55"/><circle cx="713.0" cy="1810.7" r="1.55"/><circle cx="713.0" cy="1855.7" r="1.55"/><circle cx="713.0" cy="1884.2" r="1.55"/><circle cx="713.0" cy="1942.7" r="1.55"/><circle cx="713.0" cy="2005.7" r="1.55"/><circle cx="730.0" cy="1708.7" r="1.55"/><circle cx="730.0" cy="1713.2" r="1.55"/><circle cx="730.0" cy="1729.7" r="1.55"/><circle cx="730.0" cy="1735.7" r="1.55"/><circle cx="730.0" cy="1749.2" r="1.55"/><circle cx="730.0" cy="1822.7" r="1.55"/><circle cx="730.0" cy="1839.2" r="1.55"/><circle cx="730.0" cy="1855.7" r="1.55"/><circle cx="730.0" cy="1870.7" r="1.55"/><circle cx="730.0" cy="1899.2" r="1.55"/><circle cx="730.0" cy="1911.2" r="1.55"/><circle cx="730.0" cy="1929.2" r="1.55"/><circle cx="730.0" cy="2005.7" r="1.55"/><circle cx="741.0" cy="1708.7" r="1.55"/><circle cx="741.0" cy="1713.2" r="1.55"/><circle cx="741.0" cy="1729.7" r="1.55"/><circle cx="741.0" cy="1749.2" r="1.55"/><circle cx="741.0" cy="1785.2" r="1.55"/><circle cx="741.0" cy="1792.7" r="1.55"/><circle cx="741.0" cy="1810.7" r="1.55"/><circle cx="741.0" cy="1822.7" r="1.55"/><circle cx="741.0" cy="1855.7" r="1.55"/><circle cx="741.0" cy="1870.7" r="1.55"/><circle cx="741.0" cy="1884.2" r="1.55"/><circle cx="741.0" cy="1911.2" r="1.55"/><circle cx="741.0" cy="1929.2" r="1.55"/><circle cx="741.0" cy="2005.7" r="1.55"/><circle cx="758.0" cy="1708.7" r="1.55"/><circle cx="758.0" cy="1729.7" r="1.55"/><circle cx="758.0" cy="1749.2" r="1.55"/><circle cx="758.0" cy="1785.2" r="1.55"/><circle cx="758.0" cy="1792.7" r="1.55"/><circle cx="758.0" cy="1810.7" r="1.55"/><circle cx="758.0" cy="1855.7" r="1.55"/><circle cx="758.0" cy="1884.2" r="1.55"/><circle cx="758.0" cy="1942.7" r="1.55"/><circle cx="758.0" cy="2005.7" r="1.55"/><circle cx="767.0" cy="1708.7" r="1.55"/><circle cx="767.0" cy="1713.2" r="1.55"/><circle cx="767.0" cy="1735.7" r="1.55"/><circle cx="767.0" cy="1749.2" r="1.55"/><circle cx="767.0" cy="1785.2" r="1.55"/><circle cx="767.0" cy="1792.7" r="1.55"/><circle cx="767.0" cy="1822.7" r="1.55"/><circle cx="767.0" cy="1839.2" r="1.55"/><circle cx="767.0" cy="1855.7" r="1.55"/><circle cx="767.0" cy="1870.7" r="1.55"/><circle cx="767.0" cy="1911.2" r="1.55"/><circle cx="767.0" cy="1929.2" r="1.55"/><circle cx="767.0" cy="1942.7" r="1.55"/><circle cx="767.0" cy="2005.7" r="1.55"/><circle cx="784.5" cy="1708.7" r="1.55"/><circle cx="784.5" cy="1713.2" r="1.55"/><circle cx="784.5" cy="1729.7" r="1.55"/><circle cx="784.5" cy="1735.7" r="1.55"/><circle cx="784.5" cy="1810.7" r="1.55"/><circle cx="784.5" cy="1822.7" r="1.55"/><circle cx="784.5" cy="1839.2" r="1.55"/><circle cx="784.5" cy="1855.7" r="1.55"/><circle cx="784.5" cy="1884.2" r="1.55"/><circle cx="784.5" cy="1911.2" r="1.55"/><circle cx="784.5" cy="1929.2" r="1.55"/><circle cx="784.5" cy="2005.7" r="1.55"/><circle cx="795.6" cy="1708.7" r="1.55"/><circle cx="795.6" cy="1713.2" r="1.55"/><circle cx="795.6" cy="1729.7" r="1.55"/><circle cx="795.6" cy="1735.7" r="1.55"/><circle cx="795.6" cy="1761.2" r="1.55"/><circle cx="795.6" cy="1785.2" r="1.55"/><circle cx="795.6" cy="1792.7" r="1.55"/><circle cx="795.6" cy="1822.7" r="1.55"/><circle cx="795.6" cy="1839.2" r="1.55"/><circle cx="795.6" cy="1855.7" r="1.55"/><circle cx="795.6" cy="1870.7" r="1.55"/><circle cx="795.6" cy="1884.2" r="1.55"/><circle cx="795.6" cy="1899.2" r="1.55"/><circle cx="795.6" cy="1942.7" r="1.55"/><circle cx="795.6" cy="2005.7" r="1.55"/><circle cx="810.7" cy="1708.7" r="1.55"/><circle cx="810.7" cy="1729.7" r="1.55"/><circle cx="810.7" cy="1735.7" r="1.55"/><circle cx="810.7" cy="1749.2" r="1.55"/><circle cx="810.7" cy="1761.2" r="1.55"/><circle cx="810.7" cy="1773.2" r="1.55"/><circle cx="810.7" cy="1785.2" r="1.55"/><circle cx="810.7" cy="1792.7" r="1.55"/><circle cx="810.7" cy="1839.2" r="1.55"/><circle cx="810.7" cy="1855.7" r="1.55"/><circle cx="810.7" cy="1870.7" r="1.55"/><circle cx="810.7" cy="1884.2" r="1.55"/><circle cx="810.7" cy="1899.2" r="1.55"/><circle cx="810.7" cy="1929.2" r="1.55"/><circle cx="810.7" cy="1942.7" r="1.55"/><circle cx="810.7" cy="2005.7" r="1.55"/><circle cx="821.8" cy="1708.7" r="1.55"/><circle cx="821.8" cy="1735.7" r="1.55"/><circle cx="821.8" cy="1749.2" r="1.55"/><circle cx="821.8" cy="1761.2" r="1.55"/><circle cx="821.8" cy="1773.2" r="1.55"/><circle cx="821.8" cy="1785.2" r="1.55"/><circle cx="821.8" cy="1792.7" r="1.55"/><circle cx="821.8" cy="1810.7" r="1.55"/><circle cx="821.8" cy="1822.7" r="1.55"/><circle cx="821.8" cy="1855.7" r="1.55"/><circle cx="821.8" cy="1884.2" r="1.55"/><circle cx="821.8" cy="1911.2" r="1.55"/><circle cx="821.8" cy="2005.7" r="1.55"/><circle cx="837.0" cy="1708.7" r="1.55"/><circle cx="837.0" cy="1713.2" r="1.55"/><circle cx="837.0" cy="1729.7" r="1.55"/><circle cx="837.0" cy="1735.7" r="1.55"/><circle cx="837.0" cy="1773.2" r="1.55"/><circle cx="837.0" cy="1810.7" r="1.55"/><circle cx="837.0" cy="1855.7" r="1.55"/><circle cx="837.0" cy="1911.2" r="1.55"/><circle cx="837.0" cy="1929.2" r="1.55"/><circle cx="837.0" cy="2005.7" r="1.55"/><circle cx="847.0" cy="1708.7" r="1.55"/><circle cx="847.0" cy="1713.2" r="1.55"/><circle cx="847.0" cy="1749.2" r="1.55"/><circle cx="847.0" cy="1761.2" r="1.55"/><circle cx="847.0" cy="1773.2" r="1.55"/><circle cx="847.0" cy="1785.2" r="1.55"/><circle cx="847.0" cy="1792.7" r="1.55"/><circle cx="847.0" cy="1810.7" r="1.55"/><circle cx="847.0" cy="1822.7" r="1.55"/><circle cx="847.0" cy="1839.2" r="1.55"/><circle cx="847.0" cy="1855.7" r="1.55"/><circle cx="847.0" cy="1870.7" r="1.55"/><circle cx="847.0" cy="1884.2" r="1.55"/><circle cx="847.0" cy="1899.2" r="1.55"/><circle cx="847.0" cy="1911.2" r="1.55"/><circle cx="847.0" cy="1942.7" r="1.55"/><circle cx="847.0" cy="2005.7" r="1.55"/><circle cx="856.0" cy="1708.7" r="1.55"/><circle cx="856.0" cy="1713.2" r="1.55"/><circle cx="856.0" cy="1749.2" r="1.55"/><circle cx="856.0" cy="1792.7" r="1.55"/><circle cx="856.0" cy="1810.7" r="1.55"/><circle cx="856.0" cy="1822.7" r="1.55"/><circle cx="856.0" cy="1839.2" r="1.55"/><circle cx="856.0" cy="1855.7" r="1.55"/><circle cx="856.0" cy="1884.2" r="1.55"/><circle cx="856.0" cy="1899.2" r="1.55"/><circle cx="856.0" cy="1911.2" r="1.55"/><circle cx="856.0" cy="2005.7" r="1.55"/><circle cx="865.0" cy="1708.7" r="1.55"/><circle cx="865.0" cy="1713.2" r="1.55"/><circle cx="865.0" cy="1729.7" r="1.55"/><circle cx="865.0" cy="1735.7" r="1.55"/><circle cx="865.0" cy="1761.2" r="1.55"/><circle cx="865.0" cy="1792.7" r="1.55"/><circle cx="865.0" cy="1810.7" r="1.55"/><circle cx="865.0" cy="1822.7" r="1.55"/><circle cx="865.0" cy="1839.2" r="1.55"/><circle cx="865.0" cy="1855.7" r="1.55"/><circle cx="865.0" cy="1884.2" r="1.55"/><circle cx="865.0" cy="1899.2" r="1.55"/><circle cx="865.0" cy="1911.2" r="1.55"/><circle cx="865.0" cy="1942.7" r="1.55"/><circle cx="865.0" cy="2005.7" r="1.55"/><circle cx="878.0" cy="1708.7" r="1.55"/><circle cx="878.0" cy="1713.2" r="1.55"/><circle cx="878.0" cy="1729.7" r="1.55"/><circle cx="878.0" cy="1761.2" r="1.55"/><circle cx="878.0" cy="1773.2" r="1.55"/><circle cx="878.0" cy="1792.7" r="1.55"/><circle cx="878.0" cy="1810.7" r="1.55"/><circle cx="878.0" cy="1822.7" r="1.55"/><circle cx="878.0" cy="1839.2" r="1.55"/><circle cx="878.0" cy="1855.7" r="1.55"/><circle cx="878.0" cy="1870.7" r="1.55"/><circle cx="878.0" cy="1899.2" r="1.55"/><circle cx="878.0" cy="1911.2" r="1.55"/><circle cx="878.0" cy="1942.7" r="1.55"/><circle cx="878.0" cy="2005.7" r="1.55"/><circle cx="887.0" cy="1708.7" r="1.55"/><circle cx="887.0" cy="1713.2" r="1.55"/><circle cx="887.0" cy="1761.2" r="1.55"/><circle cx="887.0" cy="1773.2" r="1.55"/><circle cx="887.0" cy="1792.7" r="1.55"/><circle cx="887.0" cy="1810.7" r="1.55"/><circle cx="887.0" cy="1822.7" r="1.55"/><circle cx="887.0" cy="1839.2" r="1.55"/><circle cx="887.0" cy="1855.7" r="1.55"/><circle cx="887.0" cy="1870.7" r="1.55"/><circle cx="887.0" cy="1884.2" r="1.55"/><circle cx="887.0" cy="1899.2" r="1.55"/><circle cx="887.0" cy="1911.2" r="1.55"/><circle cx="887.0" cy="1929.2" r="1.55"/><circle cx="887.0" cy="1942.7" r="1.55"/><circle cx="887.0" cy="2005.7" r="1.55"/><circle cx="900.5" cy="1708.7" r="1.55"/><circle cx="900.5" cy="1713.2" r="1.55"/><circle cx="900.5" cy="1729.7" r="1.55"/><circle cx="900.5" cy="1735.7" r="1.55"/><circle cx="900.5" cy="1749.2" r="1.55"/><circle cx="900.5" cy="1773.2" r="1.55"/><circle cx="900.5" cy="1785.2" r="1.55"/><circle cx="900.5" cy="1855.7" r="1.55"/><circle cx="900.5" cy="1870.7" r="1.55"/><circle cx="900.5" cy="1899.2" r="1.55"/><circle cx="900.5" cy="1929.2" r="1.55"/><circle cx="900.5" cy="1942.7" r="1.55"/><circle cx="900.5" cy="2005.7" r="1.55"/><circle cx="909.6" cy="1708.7" r="1.55"/><circle cx="909.6" cy="1749.2" r="1.55"/><circle cx="909.6" cy="1761.2" r="1.55"/><circle cx="909.6" cy="1773.2" r="1.55"/><circle cx="909.6" cy="1785.2" r="1.55"/><circle cx="909.6" cy="1822.7" r="1.55"/><circle cx="909.6" cy="1839.2" r="1.55"/><circle cx="909.6" cy="1855.7" r="1.55"/><circle cx="909.6" cy="1870.7" r="1.55"/><circle cx="909.6" cy="1911.2" r="1.55"/><circle cx="909.6" cy="1942.7" r="1.55"/><circle cx="909.6" cy="2005.7" r="1.55"/><circle cx="924.7" cy="1708.7" r="1.55"/><circle cx="924.7" cy="1713.2" r="1.55"/><circle cx="924.7" cy="1729.7" r="1.55"/><circle cx="924.7" cy="1735.7" r="1.55"/><circle cx="924.7" cy="1749.2" r="1.55"/><circle cx="924.7" cy="1761.2" r="1.55"/><circle cx="924.7" cy="1773.2" r="1.55"/><circle cx="924.7" cy="1785.2" r="1.55"/><circle cx="924.7" cy="1792.7" r="1.55"/><circle cx="924.7" cy="1822.7" r="1.55"/><circle cx="924.7" cy="1839.2" r="1.55"/><circle cx="924.7" cy="1855.7" r="1.55"/><circle cx="924.7" cy="1884.2" r="1.55"/><circle cx="924.7" cy="1929.2" r="1.55"/><circle cx="924.7" cy="1942.7" r="1.55"/><circle cx="924.7" cy="2005.7" r="1.55"/><circle cx="932.7" cy="1708.7" r="1.55"/><circle cx="932.7" cy="1713.2" r="1.55"/><circle cx="932.7" cy="1729.7" r="1.55"/><circle cx="932.7" cy="1773.2" r="1.55"/><circle cx="932.7" cy="1822.7" r="1.55"/><circle cx="932.7" cy="1839.2" r="1.55"/><circle cx="932.7" cy="1855.7" r="1.55"/><circle cx="932.7" cy="1870.7" r="1.55"/><circle cx="932.7" cy="1884.2" r="1.55"/><circle cx="932.7" cy="1899.2" r="1.55"/><circle cx="932.7" cy="1929.2" r="1.55"/><circle cx="932.7" cy="1942.7" r="1.55"/><circle cx="932.7" cy="2005.7" r="1.55"/><circle cx="947.0" cy="1708.7" r="1.55"/><circle cx="947.0" cy="1713.2" r="1.55"/><circle cx="947.0" cy="1729.7" r="1.55"/><circle cx="947.0" cy="1773.2" r="1.55"/><circle cx="947.0" cy="1822.7" r="1.55"/><circle cx="947.0" cy="1839.2" r="1.55"/><circle cx="947.0" cy="1855.7" r="1.55"/><circle cx="947.0" cy="1911.2" r="1.55"/><circle cx="947.0" cy="1942.7" r="1.55"/><circle cx="947.0" cy="2005.7" r="1.55"/><circle cx="956.0" cy="1708.7" r="1.55"/><circle cx="956.0" cy="1713.2" r="1.55"/><circle cx="956.0" cy="1729.7" r="1.55"/><circle cx="956.0" cy="1749.2" r="1.55"/><circle cx="956.0" cy="1761.2" r="1.55"/><circle cx="956.0" cy="1773.2" r="1.55"/><circle cx="956.0" cy="1792.7" r="1.55"/><circle cx="956.0" cy="1810.7" r="1.55"/><circle cx="956.0" cy="1839.2" r="1.55"/><circle cx="956.0" cy="1855.7" r="1.55"/><circle cx="956.0" cy="1911.2" r="1.55"/><circle cx="956.0" cy="1942.7" r="1.55"/><circle cx="956.0" cy="2005.7" r="1.55"/><circle cx="974.0" cy="1708.7" r="1.55"/><circle cx="974.0" cy="1713.2" r="1.55"/><circle cx="974.0" cy="1729.7" r="1.55"/><circle cx="974.0" cy="1735.7" r="1.55"/><circle cx="974.0" cy="1749.2" r="1.55"/><circle cx="974.0" cy="1761.2" r="1.55"/><circle cx="974.0" cy="1773.2" r="1.55"/><circle cx="974.0" cy="1785.2" r="1.55"/><circle cx="974.0" cy="1792.7" r="1.55"/><circle cx="974.0" cy="1822.7" r="1.55"/><circle cx="974.0" cy="1839.2" r="1.55"/><circle cx="974.0" cy="1855.7" r="1.55"/><circle cx="974.0" cy="1884.2" r="1.55"/><circle cx="974.0" cy="1929.2" r="1.55"/><circle cx="974.0" cy="1942.7" r="1.55"/><circle cx="974.0" cy="2005.7" r="1.55"/><circle cx="985.0" cy="1708.7" r="1.55"/><circle cx="985.0" cy="1713.2" r="1.55"/><circle cx="985.0" cy="1729.7" r="1.55"/><circle cx="985.0" cy="1735.7" r="1.55"/><circle cx="985.0" cy="1749.2" r="1.55"/><circle cx="985.0" cy="1761.2" r="1.55"/><circle cx="985.0" cy="1773.2" r="1.55"/><circle cx="985.0" cy="1785.2" r="1.55"/><circle cx="985.0" cy="1792.7" r="1.55"/><circle cx="985.0" cy="1810.7" r="1.55"/><circle cx="985.0" cy="1822.7" r="1.55"/><circle cx="985.0" cy="1839.2" r="1.55"/><circle cx="985.0" cy="1855.7" r="1.55"/><circle cx="985.0" cy="1870.7" r="1.55"/><circle cx="985.0" cy="1899.2" r="1.55"/><circle cx="985.0" cy="1911.2" r="1.55"/><circle cx="985.0" cy="2005.7" r="1.55"/><circle cx="1006.0" cy="1708.7" r="1.55"/><circle cx="1006.0" cy="1713.2" r="1.55"/><circle cx="1006.0" cy="1729.7" r="1.55"/><circle cx="1006.0" cy="1749.2" r="1.55"/><circle cx="1006.0" cy="1773.2" r="1.55"/><circle cx="1006.0" cy="1792.7" r="1.55"/><circle cx="1006.0" cy="1822.7" r="1.55"/><circle cx="1006.0" cy="1839.2" r="1.55"/><circle cx="1006.0" cy="1855.7" r="1.55"/><circle cx="1006.0" cy="1870.7" r="1.55"/><circle cx="1006.0" cy="2005.7" r="1.55"/><circle cx="1016.0" cy="1708.7" r="1.55"/><circle cx="1016.0" cy="1713.2" r="1.55"/><circle cx="1016.0" cy="1735.7" r="1.55"/><circle cx="1016.0" cy="1749.2" r="1.55"/><circle cx="1016.0" cy="1761.2" r="1.55"/><circle cx="1016.0" cy="1785.2" r="1.55"/><circle cx="1016.0" cy="1792.7" r="1.55"/><circle cx="1016.0" cy="1822.7" r="1.55"/><circle cx="1016.0" cy="1855.7" r="1.55"/><circle cx="1016.0" cy="1870.7" r="1.55"/><circle cx="1016.0" cy="1911.2" r="1.55"/><circle cx="1016.0" cy="1929.2" r="1.55"/><circle cx="1016.0" cy="2005.7" r="1.55"/><circle cx="1035.6" cy="1708.7" r="1.55"/><circle cx="1035.6" cy="1713.2" r="1.55"/><circle cx="1035.6" cy="1729.7" r="1.55"/><circle cx="1035.6" cy="1749.2" r="1.55"/><circle cx="1035.6" cy="1792.7" r="1.55"/><circle cx="1035.6" cy="1810.7" r="1.55"/><circle cx="1035.6" cy="1822.7" r="1.55"/><circle cx="1035.6" cy="1839.2" r="1.55"/><circle cx="1035.6" cy="1855.7" r="1.55"/><circle cx="1035.6" cy="1870.7" r="1.55"/><circle cx="1035.6" cy="1884.2" r="1.55"/><circle cx="1035.6" cy="1911.2" r="1.55"/><circle cx="1035.6" cy="1929.2" r="1.55"/><circle cx="1035.6" cy="1942.7" r="1.55"/><circle cx="1035.6" cy="2005.7" r="1.55"/><circle cx="1045.6" cy="1708.7" r="1.55"/><circle cx="1045.6" cy="1729.7" r="1.55"/><circle cx="1045.6" cy="1735.7" r="1.55"/><circle cx="1045.6" cy="1749.2" r="1.55"/><circle cx="1045.6" cy="1785.2" r="1.55"/><circle cx="1045.6" cy="1822.7" r="1.55"/><circle cx="1045.6" cy="1855.7" r="1.55"/><circle cx="1045.6" cy="1870.7" r="1.55"/><circle cx="1045.6" cy="1899.2" r="1.55"/><circle cx="1045.6" cy="1911.2" r="1.55"/><circle cx="1045.6" cy="1929.2" r="1.55"/><circle cx="1045.6" cy="2005.7" r="1.55"/><circle cx="1066.8" cy="1708.7" r="1.55"/><circle cx="1066.8" cy="1713.2" r="1.55"/><circle cx="1066.8" cy="1729.7" r="1.55"/><circle cx="1066.8" cy="1735.7" r="1.55"/><circle cx="1066.8" cy="1749.2" r="1.55"/><circle cx="1066.8" cy="1761.2" r="1.55"/><circle cx="1066.8" cy="1773.2" r="1.55"/><circle cx="1066.8" cy="1785.2" r="1.55"/><circle cx="1066.8" cy="1792.7" r="1.55"/><circle cx="1066.8" cy="1855.7" r="1.55"/><circle cx="1066.8" cy="1884.2" r="1.55"/><circle cx="1066.8" cy="1911.2" r="1.55"/><circle cx="1066.8" cy="1929.2" r="1.55"/><circle cx="1066.8" cy="2005.7" r="1.55"/><circle cx="1078.0" cy="1708.7" r="1.55"/><circle cx="1078.0" cy="1713.2" r="1.55"/><circle cx="1078.0" cy="1729.7" r="1.55"/><circle cx="1078.0" cy="1735.7" r="1.55"/><circle cx="1078.0" cy="1761.2" r="1.55"/><circle cx="1078.0" cy="1785.2" r="1.55"/><circle cx="1078.0" cy="1792.7" r="1.55"/><circle cx="1078.0" cy="1810.7" r="1.55"/><circle cx="1078.0" cy="1822.7" r="1.55"/><circle cx="1078.0" cy="1855.7" r="1.55"/><circle cx="1078.0" cy="1870.7" r="1.55"/><circle cx="1078.0" cy="1911.2" r="1.55"/><circle cx="1078.0" cy="1929.2" r="1.55"/><circle cx="1078.0" cy="2005.7" r="1.55"/></g>
<g fill="#000"><circle cx="227.8" cy="1711.1" r="2.4"/><circle cx="227.8" cy="1723.5" r="2.4"/><circle cx="228.1" cy="1735.9" r="2.4"/><circle cx="232.8" cy="1747.3" r="2.4"/><circle cx="237.9" cy="1758.6" r="2.4"/><circle cx="241.9" cy="1770.4" r="2.4"/><circle cx="247.4" cy="1781.5" r="2.4"/><circle cx="251.9" cy="1793.0" r="2.4"/><circle cx="255.5" cy="1804.9" r="2.4"/><circle cx="258.1" cy="1817.0" r="2.4"/><circle cx="260.2" cy="1829.2" r="2.4"/><circle cx="262.7" cy="1841.3" r="2.4"/><circle cx="264.4" cy="1853.6" r="2.4"/><circle cx="266.5" cy="1865.8" r="2.4"/><circle cx="268.6" cy="1878.1" r="2.4"/><circle cx="271.0" cy="1890.2" r="2.4"/><circle cx="273.0" cy="1902.5" r="2.4"/><circle cx="275.3" cy="1914.6" r="2.4"/><circle cx="277.5" cy="1926.8" r="2.4"/><circle cx="279.5" cy="1939.1" r="2.4"/><circle cx="281.7" cy="1951.3" r="2.4"/><circle cx="284.3" cy="1963.4" r="2.4"/><circle cx="291.0" cy="1973.0" r="2.4"/><circle cx="302.7" cy="1970.7" r="2.4"/><circle cx="314.7" cy="1967.6" r="2.4"/><circle cx="326.3" cy="1971.1" r="2.4"/><circle cx="333.1" cy="1981.4" r="2.4"/><circle cx="342.6" cy="1987.5" r="2.4"/><circle cx="353.9" cy="1982.5" r="2.4"/><circle cx="364.2" cy="1975.6" r="2.4"/><circle cx="375.4" cy="1970.7" r="2.4"/><circle cx="386.3" cy="1974.0" r="2.4"/><circle cx="394.2" cy="1980.2" r="2.4"/><circle cx="403.2" cy="1971.8" r="2.4"/><circle cx="412.4" cy="1965.4" r="2.4"/><circle cx="424.4" cy="1963.7" r="2.4"/><circle cx="433.3" cy="1955.7" r="2.4"/><circle cx="440.1" cy="1945.4" r="2.4"/><circle cx="446.3" cy="1934.6" r="2.4"/><circle cx="452.5" cy="1923.9" r="2.4"/><circle cx="458.8" cy="1913.2" r="2.4"/><circle cx="466.2" cy="1903.3" r="2.4"/><circle cx="474.7" cy="1894.3" r="2.4"/><circle cx="483.5" cy="1885.6" r="2.4"/><circle cx="492.5" cy="1877.1" r="2.4"/><circle cx="500.3" cy="1867.6" r="2.4"/><circle cx="506.0" cy="1856.6" r="2.4"/><circle cx="513.8" cy="1847.6" r="2.4"/><circle cx="525.1" cy="1842.7" r="2.4"/><circle cx="535.8" cy="1837.1" r="2.4"/><circle cx="543.9" cy="1827.7" r="2.4"/><circle cx="551.7" cy="1818.2" r="2.4"/><circle cx="562.0" cy="1812.3" r="2.4"/><circle cx="574.3" cy="1811.0" r="2.4"/><circle cx="586.2" cy="1807.6" r="2.4"/><circle cx="597.9" cy="1804.8" r="2.4"/><circle cx="609.3" cy="1809.2" r="2.4"/><circle cx="618.5" cy="1804.5" r="2.4"/><circle cx="626.6" cy="1795.0" r="2.4"/><circle cx="637.4" cy="1792.5" r="2.4"/><circle cx="649.7" cy="1793.5" r="2.4"/><circle cx="662.1" cy="1793.8" r="2.4"/><circle cx="673.8" cy="1790.0" r="2.4"/><circle cx="679.8" cy="1779.4" r="2.4"/><circle cx="685.3" cy="1768.3" r="2.4"/><circle cx="696.9" cy="1764.8" r="2.4"/><circle cx="705.3" cy="1773.0" r="2.4"/><circle cx="711.8" cy="1783.6" r="2.4"/><circle cx="718.1" cy="1794.3" r="2.4"/><circle cx="725.1" cy="1804.5" r="2.4"/><circle cx="731.2" cy="1815.3" r="2.4"/><circle cx="736.2" cy="1826.6" r="2.4"/><circle cx="745.3" cy="1834.7" r="2.4"/><circle cx="756.1" cy="1832.4" r="2.4"/><circle cx="759.6" cy="1844.3" r="2.4"/><circle cx="762.3" cy="1856.4" r="2.4"/><circle cx="765.3" cy="1868.4" r="2.4"/><circle cx="768.3" cy="1880.5" r="2.4"/><circle cx="770.8" cy="1892.6" r="2.4"/><circle cx="773.2" cy="1904.8" r="2.4"/><circle cx="776.2" cy="1916.8" r="2.4"/><circle cx="779.1" cy="1928.9" r="2.4"/><circle cx="782.0" cy="1940.9" r="2.4"/><circle cx="792.6" cy="1944.9" r="2.4"/><circle cx="801.2" cy="1936.3" r="2.4"/><circle cx="811.3" cy="1933.0" r="2.4"/><circle cx="818.2" cy="1940.7" r="2.4"/><circle cx="824.8" cy="1930.8" r="2.4"/><circle cx="828.9" cy="1919.1" r="2.4"/><circle cx="836.5" cy="1915.2" r="2.4"/><circle cx="841.4" cy="1926.7" r="2.4"/><circle cx="845.8" cy="1938.2" r="2.4"/><circle cx="850.4" cy="1949.7" r="2.4"/><circle cx="855.8" cy="1957.3" r="2.4"/><circle cx="860.5" cy="1945.8" r="2.4"/><circle cx="866.4" cy="1935.0" r="2.4"/><circle cx="876.5" cy="1928.9" r="2.4"/><circle cx="880.0" cy="1917.0" r="2.4"/><circle cx="883.4" cy="1905.1" r="2.4"/><circle cx="887.8" cy="1893.5" r="2.4"/><circle cx="890.0" cy="1881.3" r="2.4"/><circle cx="893.3" cy="1870.3" r="2.4"/><circle cx="901.7" cy="1863.2" r="2.4"/><circle cx="910.0" cy="1862.2" r="2.4"/><circle cx="913.9" cy="1874.0" r="2.4"/><circle cx="917.9" cy="1885.7" r="2.4"/><circle cx="920.9" cy="1896.7" r="2.4"/><circle cx="924.2" cy="1884.8" r="2.4"/><circle cx="925.5" cy="1872.5" r="2.4"/><circle cx="926.7" cy="1860.2" r="2.4"/><circle cx="927.5" cy="1847.8" r="2.4"/><circle cx="928.7" cy="1835.4" r="2.4"/><circle cx="932.8" cy="1829.4" r="2.4"/><circle cx="942.7" cy="1837.0" r="2.4"/><circle cx="949.4" cy="1847.4" r="2.4"/><circle cx="955.6" cy="1858.1" r="2.4"/><circle cx="963.3" cy="1867.9" r="2.4"/><circle cx="968.6" cy="1863.2" r="2.4"/><circle cx="971.9" cy="1875.2" r="2.4"/><circle cx="973.4" cy="1864.2" r="2.4"/><circle cx="974.6" cy="1851.8" r="2.4"/><circle cx="976.5" cy="1839.6" r="2.4"/><circle cx="978.7" cy="1827.4" r="2.4"/><circle cx="980.3" cy="1815.1" r="2.4"/><circle cx="986.9" cy="1804.8" r="2.4"/><circle cx="994.5" cy="1795.0" r="2.4"/><circle cx="1002.5" cy="1785.5" r="2.4"/><circle cx="1007.8" cy="1774.4" r="2.4"/><circle cx="1016.4" cy="1765.5" r="2.4"/><circle cx="1023.3" cy="1773.8" r="2.4"/><circle cx="1030.6" cy="1783.8" r="2.4"/><circle cx="1040.1" cy="1791.6" r="2.4"/><circle cx="1048.7" cy="1785.0" r="2.4"/><circle cx="1054.2" cy="1773.8" r="2.4"/><circle cx="1060.4" cy="1763.1" r="2.4"/><circle cx="1063.8" cy="1751.2" r="2.4"/><circle cx="1066.9" cy="1739.2" r="2.4"/></g>
<g fill="#000"><circle cx="183.5" cy="1729.2" r="2.4"/><circle cx="187.5" cy="1741.3" r="2.4"/><circle cx="196.6" cy="1748.4" r="2.4"/><circle cx="200.6" cy="1759.5" r="2.4"/><circle cx="207.7" cy="1773.6" r="2.4"/></g>
<g fill="#000"><circle cx="211.7" cy="1736.3" r="2.4"/><circle cx="210.7" cy="1749.4" r="2.4"/><circle cx="208.7" cy="1761.5" r="2.4"/></g>
<g fill="#fff"><circle cx="151.2" cy="1766.5" r="2.4"/><circle cx="161.9" cy="1772.3" r="2.4"/><circle cx="172.7" cy="1766.3" r="2.4"/><circle cx="182.4" cy="1758.5" r="2.4"/><circle cx="191.5" cy="1750.1" r="2.4"/><circle cx="202.4" cy="1747.2" r="2.4"/><circle cx="212.1" cy="1754.9" r="2.4"/><circle cx="221.1" cy="1763.4" r="2.4"/><circle cx="231.3" cy="1770.5" r="2.4"/><circle cx="241.6" cy="1777.3" r="2.4"/><circle cx="249.7" cy="1786.6" r="2.4"/><circle cx="257.4" cy="1796.4" r="2.4"/><circle cx="264.1" cy="1806.8" r="2.4"/><circle cx="270.0" cy="1817.7" r="2.4"/><circle cx="276.4" cy="1828.3" r="2.4"/><circle cx="283.7" cy="1838.4" r="2.4"/><circle cx="289.8" cy="1849.2" r="2.4"/><circle cx="296.8" cy="1859.4" r="2.4"/><circle cx="303.6" cy="1869.7" r="2.4"/><circle cx="311.3" cy="1879.5" r="2.4"/><circle cx="322.7" cy="1883.1" r="2.4"/><circle cx="334.7" cy="1886.0" r="2.4"/><circle cx="345.8" cy="1891.5" r="2.4"/><circle cx="356.1" cy="1898.4" r="2.4"/><circle cx="366.9" cy="1904.5" r="2.4"/><circle cx="378.9" cy="1907.2" r="2.4"/><circle cx="391.2" cy="1908.4" r="2.4"/><circle cx="399.5" cy="1901.0" r="2.4"/><circle cx="406.6" cy="1890.8" r="2.4"/><circle cx="417.2" cy="1886.1" r="2.4"/><circle cx="429.5" cy="1884.8" r="2.4"/><circle cx="441.6" cy="1882.2" r="2.4"/><circle cx="451.8" cy="1875.5" r="2.4"/><circle cx="461.2" cy="1867.5" r="2.4"/><circle cx="470.8" cy="1859.6" r="2.4"/><circle cx="480.2" cy="1851.5" r="2.4"/><circle cx="489.6" cy="1843.5" r="2.4"/><circle cx="499.2" cy="1835.6" r="2.4"/><circle cx="509.1" cy="1828.2" r="2.4"/><circle cx="520.5" cy="1824.8" r="2.4"/><circle cx="532.9" cy="1824.6" r="2.4"/><circle cx="545.3" cy="1825.3" r="2.4"/><circle cx="557.4" cy="1827.7" r="2.4"/><circle cx="569.5" cy="1830.5" r="2.4"/><circle cx="581.8" cy="1831.8" r="2.4"/><circle cx="594.2" cy="1832.1" r="2.4"/><circle cx="605.4" cy="1828.7" r="2.4"/><circle cx="614.5" cy="1820.4" r="2.4"/><circle cx="623.2" cy="1811.6" r="2.4"/><circle cx="633.3" cy="1805.3" r="2.4"/><circle cx="645.6" cy="1804.0" r="2.4"/><circle cx="658.0" cy="1803.4" r="2.4"/><circle cx="670.4" cy="1803.4" r="2.4"/><circle cx="682.3" cy="1805.1" r="2.4"/><circle cx="692.5" cy="1812.1" r="2.4"/><circle cx="701.6" cy="1820.6" r="2.4"/><circle cx="710.6" cy="1829.0" r="2.4"/><circle cx="719.7" cy="1837.5" r="2.4"/><circle cx="728.7" cy="1846.1" r="2.4"/><circle cx="738.1" cy="1854.0" r="2.4"/><circle cx="749.3" cy="1859.3" r="2.4"/><circle cx="760.7" cy="1864.3" r="2.4"/><circle cx="772.1" cy="1869.1" r="2.4"/><circle cx="783.6" cy="1873.6" r="2.4"/><circle cx="795.4" cy="1877.4" r="2.4"/><circle cx="807.8" cy="1877.4" r="2.4"/><circle cx="820.2" cy="1877.4" r="2.4"/><circle cx="832.6" cy="1877.4" r="2.4"/><circle cx="844.9" cy="1875.5" r="2.4"/><circle cx="856.2" cy="1870.5" r="2.4"/><circle cx="867.7" cy="1865.9" r="2.4"/><circle cx="879.5" cy="1862.3" r="2.4"/><circle cx="891.3" cy="1858.4" r="2.4"/><circle cx="902.9" cy="1853.9" r="2.4"/><circle cx="909.4" cy="1843.8" r="2.4"/><circle cx="914.9" cy="1832.7" r="2.4"/><circle cx="920.3" cy="1821.5" r="2.4"/><circle cx="926.2" cy="1810.6" r="2.4"/><circle cx="937.0" cy="1807.4" r="2.4"/><circle cx="949.3" cy="1807.0" r="2.4"/><circle cx="961.7" cy="1807.3" r="2.4"/><circle cx="974.1" cy="1807.5" r="2.4"/><circle cx="984.8" cy="1802.7" r="2.4"/><circle cx="994.2" cy="1794.6" r="2.4"/><circle cx="1003.4" cy="1786.3" r="2.4"/><circle cx="1014.2" cy="1781.3" r="2.4"/><circle cx="1026.5" cy="1780.3" r="2.4"/><circle cx="1038.9" cy="1780.3" r="2.4"/><circle cx="1051.3" cy="1779.9" r="2.4"/><circle cx="1063.7" cy="1779.7" r="2.4"/><circle cx="1076.1" cy="1779.7" r="2.4"/></g>
<g fill="#fff"><circle cx="145.2" cy="1792.8" r="2.4"/><circle cx="153.9" cy="1801.5" r="2.4"/><circle cx="165.4" cy="1804.0" r="2.4"/><circle cx="175.0" cy="1796.1" r="2.4"/><circle cx="182.7" cy="1786.4" r="2.4"/><circle cx="190.0" cy="1776.4" r="2.4"/><circle cx="201.2" cy="1771.2" r="2.4"/><circle cx="208.9" cy="1779.5" r="2.4"/><circle cx="215.6" cy="1789.9" r="2.4"/><circle cx="224.4" cy="1798.6" r="2.4"/><circle cx="234.3" cy="1806.0" r="2.4"/><circle cx="241.8" cy="1815.6" r="2.4"/><circle cx="248.3" cy="1826.2" r="2.4"/><circle cx="254.4" cy="1837.0" r="2.4"/><circle cx="260.0" cy="1848.1" r="2.4"/><circle cx="264.7" cy="1859.5" r="2.4"/><circle cx="269.3" cy="1871.0" r="2.4"/><circle cx="273.6" cy="1882.7" r="2.4"/><circle cx="278.0" cy="1894.2" r="2.4"/><circle cx="283.4" cy="1905.4" r="2.4"/><circle cx="288.3" cy="1916.7" r="2.4"/><circle cx="292.8" cy="1928.3" r="2.4"/><circle cx="297.8" cy="1939.6" r="2.4"/><circle cx="303.1" cy="1950.8" r="2.4"/><circle cx="309.0" cy="1961.7" r="2.4"/><circle cx="317.1" cy="1970.3" r="2.4"/><circle cx="328.6" cy="1974.9" r="2.4"/><circle cx="339.6" cy="1980.3" r="2.4"/><circle cx="348.9" cy="1988.4" r="2.4"/><circle cx="357.5" cy="1997.4" r="2.4"/><circle cx="366.7" cy="2005.3" r="2.4"/><circle cx="378.3" cy="2009.6" r="2.4"/><circle cx="390.4" cy="2010.2" r="2.4"/><circle cx="398.8" cy="2002.9" r="2.4"/><circle cx="403.9" cy="1991.6" r="2.4"/><circle cx="410.6" cy="1981.4" r="2.4"/><circle cx="421.4" cy="1976.9" r="2.4"/><circle cx="433.8" cy="1975.7" r="2.4"/><circle cx="444.1" cy="1970.4" r="2.4"/><circle cx="452.0" cy="1961.0" r="2.4"/><circle cx="459.8" cy="1951.3" r="2.4"/><circle cx="467.5" cy="1941.6" r="2.4"/><circle cx="475.3" cy="1931.9" r="2.4"/><circle cx="483.1" cy="1922.3" r="2.4"/><circle cx="490.7" cy="1912.5" r="2.4"/><circle cx="498.2" cy="1902.6" r="2.4"/><circle cx="505.9" cy="1892.9" r="2.4"/><circle cx="515.3" cy="1886.2" r="2.4"/><circle cx="527.7" cy="1885.5" r="2.4"/><circle cx="540.0" cy="1885.7" r="2.4"/><circle cx="552.1" cy="1887.7" r="2.4"/><circle cx="563.5" cy="1892.6" r="2.4"/><circle cx="575.1" cy="1896.3" r="2.4"/><circle cx="587.5" cy="1896.7" r="2.4"/><circle cx="599.3" cy="1895.4" r="2.4"/><circle cx="608.4" cy="1887.1" r="2.4"/><circle cx="615.5" cy="1877.0" r="2.4"/><circle cx="622.7" cy="1866.9" r="2.4"/><circle cx="630.3" cy="1857.5" r="2.4"/><circle cx="642.1" cy="1854.1" r="2.4"/><circle cx="654.5" cy="1853.6" r="2.4"/><circle cx="666.9" cy="1853.3" r="2.4"/><circle cx="679.0" cy="1854.6" r="2.4"/><circle cx="689.1" cy="1861.3" r="2.4"/><circle cx="696.3" cy="1871.4" r="2.4"/><circle cx="703.7" cy="1881.4" r="2.4"/><circle cx="711.1" cy="1891.3" r="2.4"/><circle cx="717.9" cy="1901.6" r="2.4"/><circle cx="725.2" cy="1911.7" r="2.4"/><circle cx="732.7" cy="1921.6" r="2.4"/><circle cx="740.5" cy="1931.1" r="2.4"/><circle cx="750.7" cy="1938.2" r="2.4"/><circle cx="761.4" cy="1944.5" r="2.4"/><circle cx="771.9" cy="1951.0" r="2.4"/><circle cx="782.2" cy="1957.9" r="2.4"/><circle cx="793.1" cy="1963.9" r="2.4"/><circle cx="805.4" cy="1964.5" r="2.4"/><circle cx="817.8" cy="1964.5" r="2.4"/><circle cx="830.2" cy="1964.2" r="2.4"/><circle cx="842.4" cy="1962.0" r="2.4"/><circle cx="853.3" cy="1956.2" r="2.4"/><circle cx="863.9" cy="1949.8" r="2.4"/><circle cx="874.7" cy="1943.8" r="2.4"/><circle cx="885.8" cy="1938.2" r="2.4"/><circle cx="897.0" cy="1932.9" r="2.4"/><circle cx="905.4" cy="1924.2" r="2.4"/><circle cx="910.0" cy="1912.8" r="2.4"/><circle cx="913.9" cy="1901.0" r="2.4"/><circle cx="917.6" cy="1889.2" r="2.4"/><circle cx="921.8" cy="1877.5" r="2.4"/><circle cx="925.6" cy="1865.7" r="2.4"/><circle cx="935.2" cy="1860.1" r="2.4"/><circle cx="947.5" cy="1858.8" r="2.4"/><circle cx="959.9" cy="1859.1" r="2.4"/><circle cx="972.3" cy="1859.3" r="2.4"/><circle cx="982.7" cy="1854.0" r="2.4"/><circle cx="988.5" cy="1843.3" r="2.4"/><circle cx="995.4" cy="1833.0" r="2.4"/><circle cx="1004.5" cy="1824.7" r="2.4"/><circle cx="1015.4" cy="1819.6" r="2.4"/><circle cx="1027.7" cy="1818.6" r="2.4"/><circle cx="1040.1" cy="1818.6" r="2.4"/><circle cx="1052.5" cy="1818.6" r="2.4"/><circle cx="1064.9" cy="1817.9" r="2.4"/><circle cx="1077.3" cy="1817.2" r="2.4"/></g>
</g>
<rect x="130" y="2017.7" width="954.5999999999999" height="62.49999999999977" fill="#fff"/>
<line x1="130" y1="2017.7" x2="1084.6" y2="2017.7" stroke="#222" stroke-width="1"/>
<rect x="130" y="1705.7" width="954.5999999999999" height="374.4999999999998" fill="none" stroke="#111" stroke-width="1.6"/>
<line x1="130" y1="2080.2" x2="1084.6" y2="2080.2" stroke="#1a0a20" stroke-width="2.6"/>
<line x1="119" y1="1705.7" x2="130" y2="1705.7" stroke="#111" stroke-width="2"/>
<text x="107" y="1715.7" text-anchor="end" font-size="28.5" font-weight="bold">0</text>
<line x1="119" y1="1855.7" x2="130" y2="1855.7" stroke="#111" stroke-width="2"/>
<text x="107" y="1865.7" text-anchor="end" font-size="28.5" font-weight="bold">100</text>
<line x1="119" y1="2005.3" x2="130" y2="2005.3" stroke="#111" stroke-width="2"/>
<text x="107" y="2015.3" text-anchor="end" font-size="28.5" font-weight="bold">200</text>
<line x1="123" y1="1780.7" x2="130" y2="1780.7" stroke="#bbb" stroke-width="1"/>
<line x1="123" y1="1930.5" x2="130" y2="1930.5" stroke="#bbb" stroke-width="1"/>
<line x1="123" y1="2080.2" x2="130" y2="2080.2" stroke="#bbb" stroke-width="1"/>
<line x1="197" y1="2080.2" x2="197" y2="2091.2" stroke="#111" stroke-width="2"/>
<text x="196.7" y="2124.5" text-anchor="middle" font-size="30" font-weight="bold">40°S</text>
<line x1="395.3" y1="2080.2" x2="395.3" y2="2091.2" stroke="#111" stroke-width="2"/>
<text x="395.0" y="2124.5" text-anchor="middle" font-size="30" font-weight="bold">20°S</text>
<line x1="593" y1="2080.2" x2="593" y2="2091.2" stroke="#111" stroke-width="2"/>
<text x="592.7" y="2124.5" text-anchor="middle" font-size="30" font-weight="bold">EQ</text>
<line x1="791.5" y1="2080.2" x2="791.5" y2="2091.2" stroke="#111" stroke-width="2"/>
<text x="791.2" y="2124.5" text-anchor="middle" font-size="30" font-weight="bold">20°N</text>
<line x1="989.5" y1="2080.2" x2="989.5" y2="2091.2" stroke="#111" stroke-width="2"/>
<text x="989.2" y="2124.5" text-anchor="middle" font-size="30" font-weight="bold">40°N</text>
<line x1="296" y1="2080.2" x2="296" y2="2088.2" stroke="#bbb" stroke-width="1.2"/>
<line x1="494" y1="2080.2" x2="494" y2="2088.2" stroke="#bbb" stroke-width="1.2"/>
<line x1="692.5" y1="2080.2" x2="692.5" y2="2088.2" stroke="#bbb" stroke-width="1.2"/>
<line x1="890" y1="2080.2" x2="890" y2="2088.2" stroke="#bbb" stroke-width="1.2"/>
<text transform="translate(26.3,1893.5) rotate(-90)" text-anchor="middle" font-size="35" font-weight="bold">Depth [m]</text>
<text x="1075.5" y="1672.7" text-anchor="end" font-size="36.5" font-weight="bold">Syn</text>
<polygon points="1113.3999999999999,1705.7 1130.0,1699.7 1146.6,1705.7 1146.6,2080.2 1130.0,2088.2 1113.3999999999999,2080.2" fill="url(#cbgs)"/>
<linearGradient id="cbgs" x1="0" y1="2080.2" x2="0" y2="1705.7" gradientUnits="userSpaceOnUse"><stop offset="0.0" stop-color="#C27CF2"/><stop offset="0.015" stop-color="#B264F8"/><stop offset="0.04" stop-color="#9640F8"/><stop offset="0.07" stop-color="#7A30F8"/><stop offset="0.1" stop-color="#6634FC"/><stop offset="0.14" stop-color="#6046FC"/><stop offset="0.17" stop-color="#5660F8"/><stop offset="0.2" stop-color="#4C7CF4"/><stop offset="0.24" stop-color="#5090F0"/><stop offset="0.27" stop-color="#5CA4EC"/><stop offset="0.3" stop-color="#64B4E0"/><stop offset="0.32" stop-color="#6CC4C8"/><stop offset="0.345" stop-color="#72CCA8"/><stop offset="0.37" stop-color="#74D08C"/><stop offset="0.4" stop-color="#6CC86C"/><stop offset="0.42" stop-color="#66BC50"/><stop offset="0.45" stop-color="#66B040"/><stop offset="0.5" stop-color="#68AA34"/><stop offset="0.52" stop-color="#70B030"/><stop offset="0.57" stop-color="#90B830"/><stop offset="0.6" stop-color="#B0C430"/><stop offset="0.62" stop-color="#CCCC30"/><stop offset="0.66" stop-color="#E4C830"/><stop offset="0.7" stop-color="#F0C028"/><stop offset="0.74" stop-color="#E8A020"/><stop offset="0.77" stop-color="#E07C18"/><stop offset="0.8" stop-color="#D05010"/><stop offset="0.81" stop-color="#C03010"/><stop offset="0.83" stop-color="#B82028"/><stop offset="0.87" stop-color="#B82838"/><stop offset="0.9" stop-color="#C44858"/><stop offset="0.94" stop-color="#D88878"/><stop offset="0.97" stop-color="#E8A888"/><stop offset="1.0" stop-color="#F2C08C"/></linearGradient>
<line x1="1113.3999999999999" y1="1705.7" x2="1121.3999999999999" y2="1705.7" stroke="#111" stroke-width="2.2"/>
<line x1="1138.6" y1="1705.7" x2="1146.6" y2="1705.7" stroke="#111" stroke-width="2.2"/>
<text x="1155.4" y="1715.7" font-size="28.5" font-weight="bold">15000</text>
<line x1="1113.3999999999999" y1="1768.1166666666668" x2="1121.3999999999999" y2="1768.1166666666668" stroke="#111" stroke-width="2.2"/>
<line x1="1138.6" y1="1768.1166666666668" x2="1146.6" y2="1768.1166666666668" stroke="#111" stroke-width="2.2"/>
<text x="1155.4" y="1778.1166666666668" font-size="28.5" font-weight="bold">12500</text>
<line x1="1113.3999999999999" y1="1830.5333333333333" x2="1121.3999999999999" y2="1830.5333333333333" stroke="#111" stroke-width="2.2"/>
<line x1="1138.6" y1="1830.5333333333333" x2="1146.6" y2="1830.5333333333333" stroke="#111" stroke-width="2.2"/>
<text x="1155.4" y="1840.5333333333333" font-size="28.5" font-weight="bold">10000</text>
<line x1="1113.3999999999999" y1="1892.9499999999998" x2="1121.3999999999999" y2="1892.9499999999998" stroke="#111" stroke-width="2.2"/>
<line x1="1138.6" y1="1892.9499999999998" x2="1146.6" y2="1892.9499999999998" stroke="#111" stroke-width="2.2"/>
<text x="1155.4" y="1902.9499999999998" font-size="28.5" font-weight="bold">7500</text>
<line x1="1113.3999999999999" y1="1955.3666666666666" x2="1121.3999999999999" y2="1955.3666666666666" stroke="#111" stroke-width="2.2"/>
<line x1="1138.6" y1="1955.3666666666666" x2="1146.6" y2="1955.3666666666666" stroke="#111" stroke-width="2.2"/>
<text x="1155.4" y="1965.3666666666666" font-size="28.5" font-weight="bold">5000</text>
<line x1="1113.3999999999999" y1="2017.7833333333333" x2="1121.3999999999999" y2="2017.7833333333333" stroke="#111" stroke-width="2.2"/>
<line x1="1138.6" y1="2017.7833333333333" x2="1146.6" y2="2017.7833333333333" stroke="#111" stroke-width="2.2"/>
<text x="1155.4" y="2027.7833333333333" font-size="28.5" font-weight="bold">2500</text>
<line x1="1113.3999999999999" y1="2080.2" x2="1121.3999999999999" y2="2080.2" stroke="#111" stroke-width="2.2"/>
<line x1="1138.6" y1="2080.2" x2="1146.6" y2="2080.2" stroke="#111" stroke-width="2.2"/>
<text x="1155.4" y="2090.2" font-size="28.5" font-weight="bold">0</text>
<text transform="translate(1108.4,2077.2) rotate(-90)" font-size="18" font-weight="bold">Ocean Data View</text>
<text x="207.1" y="27" text-anchor="middle" font-size="35">SSTC</text>
<text x="387.3" y="27" text-anchor="middle" font-size="35">SATL</text>
<text x="625.5" y="27" text-anchor="middle" font-size="35">WTRA</text>
<text x="866.5" y="27" text-anchor="middle" font-size="35">NAG</text>
<text x="1045.4" y="27" text-anchor="middle" font-size="35">NADR</text>
<line x1="141" y1="68" x2="1082" y2="68" stroke="#111" stroke-width="1.6"/>
<line x1="283" y1="68" x2="283" y2="2167" stroke="#111" stroke-width="1.6"/>
<line x1="541" y1="68" x2="541" y2="2167" stroke="#111" stroke-width="1.6"/>
<line x1="739.5" y1="68" x2="739.5" y2="2167" stroke="#111" stroke-width="1.6"/>
<line x1="1005.5" y1="68" x2="1005.5" y2="2167" stroke="#111" stroke-width="1.6"/>
<line x1="283" y1="2164" x2="1005.5" y2="2164" stroke="#111" stroke-width="1.6"/>
</svg></body></html>
